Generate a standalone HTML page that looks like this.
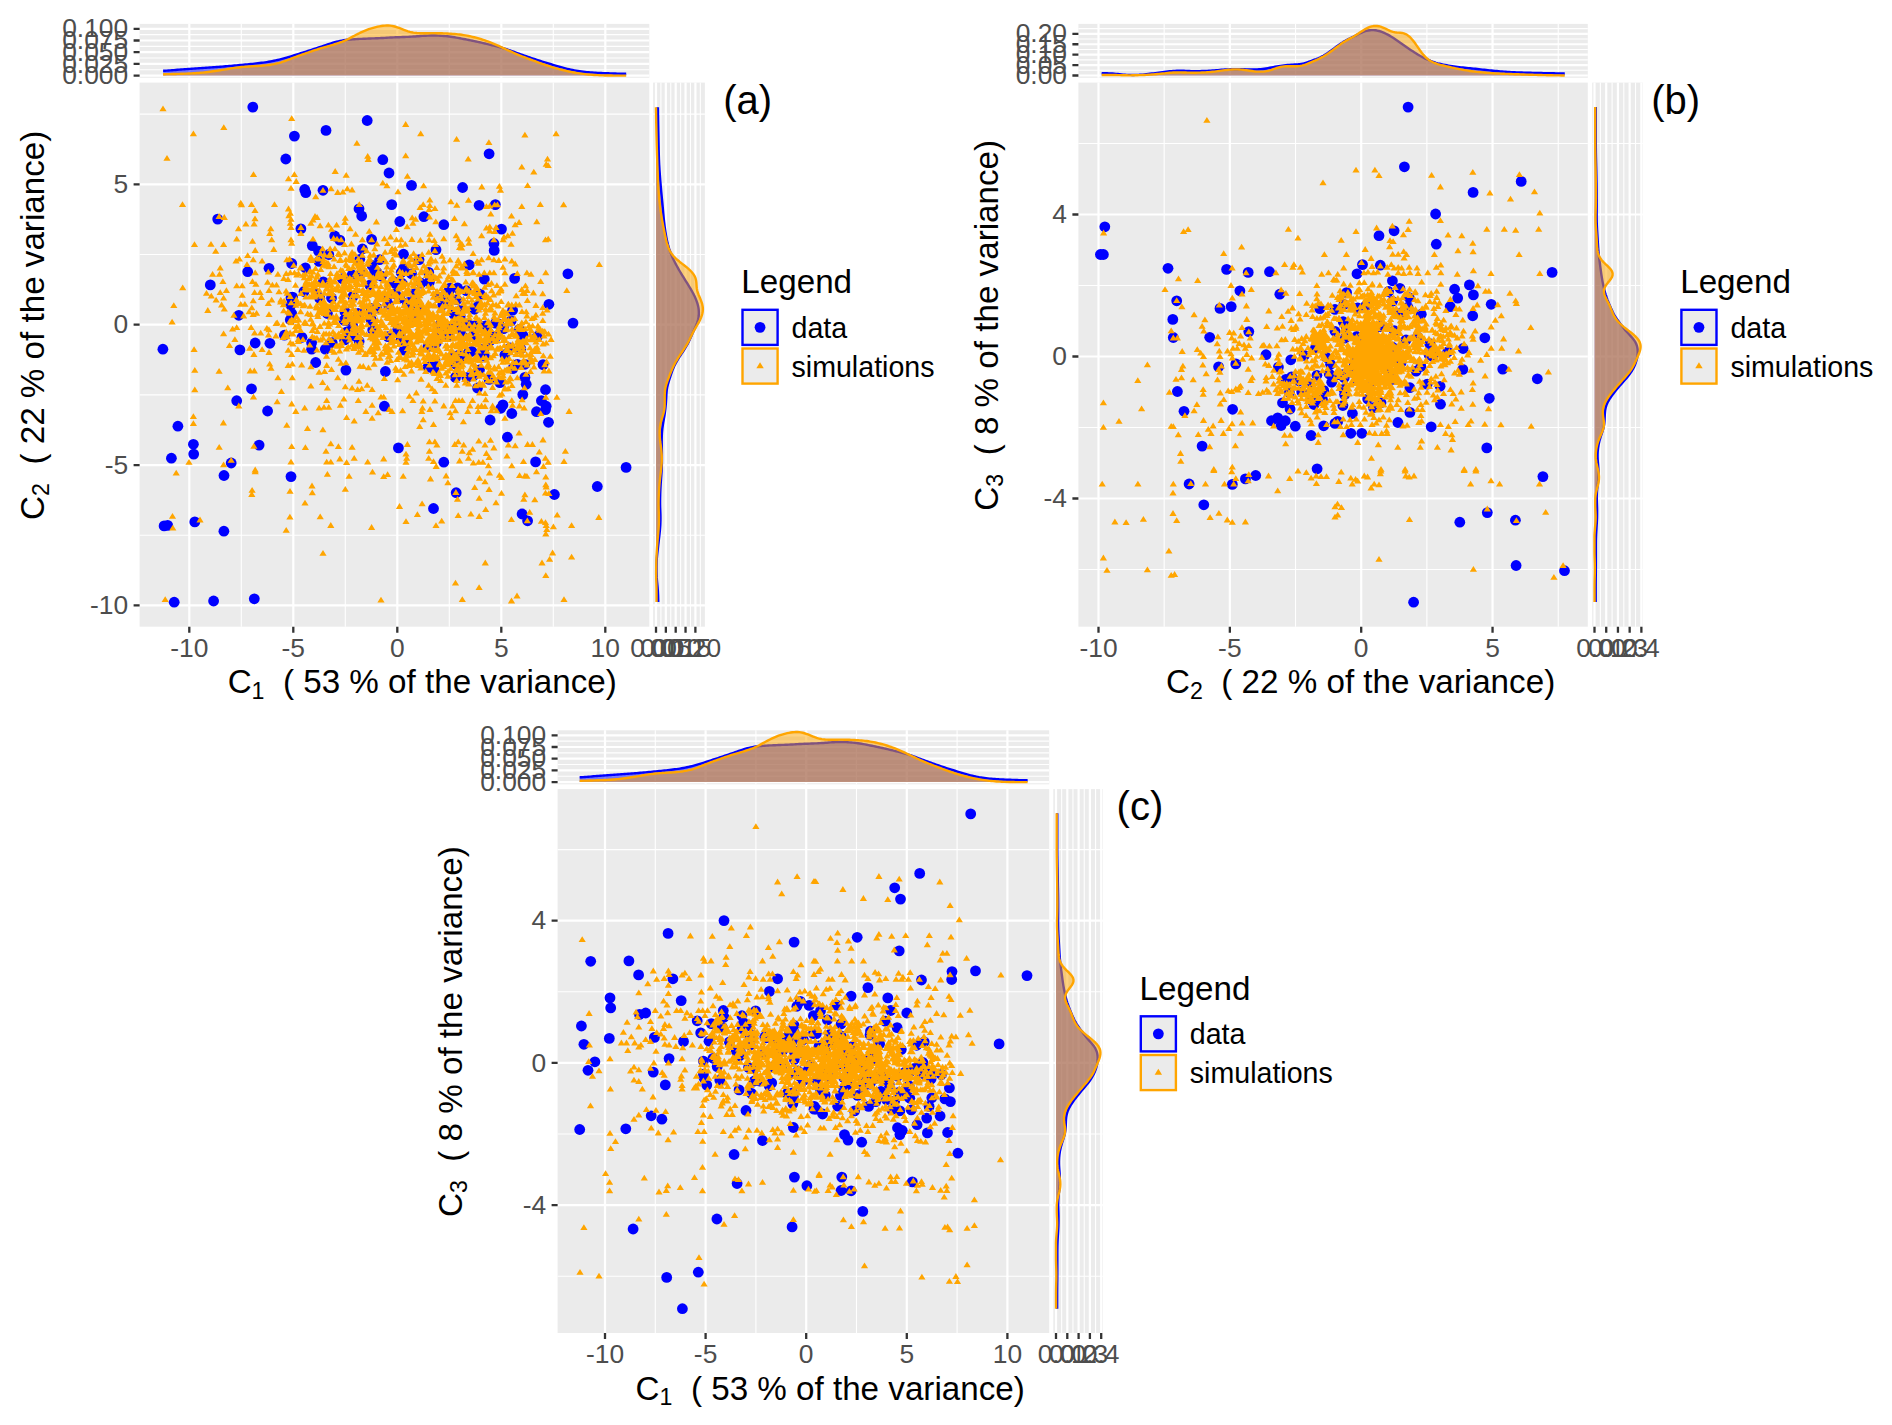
<!DOCTYPE html>
<html lang="en"><head><meta charset="utf-8"><title>PCA components: data vs simulations</title>
<style>html,body{margin:0;padding:0;background:#fff}svg{display:block}</style></head><body>
<svg width="1892" height="1425" viewBox="0 0 1892 1425">
<rect width="1892" height="1425" fill="#fff"/>
<g id="panel-a">
<rect x="139.6" y="82.6" width="509.7" height="544.1" fill="#EBEBEB"/>
<rect x="139.6" y="23.9" width="509.7" height="53.9" fill="#EBEBEB"/>
<rect x="653.1" y="82.6" width="51.8" height="544.1" fill="#EBEBEB"/>
<path d="M241.3 82.6V626.7M345.3 82.6V626.7M449.3 82.6V626.7M553.3 82.6V626.7" stroke="#fff" stroke-width="1.1" fill="none"/>
<path d="M139.6 114.17H649.3M139.6 254.52H649.3M139.6 394.88H649.3M139.6 535.23H649.3" stroke="#fff" stroke-width="1.1" fill="none"/>
<path d="M189.3 82.6V626.7M293.3 82.6V626.7M397.3 82.6V626.7M501.3 82.6V626.7M605.3 82.6V626.7" stroke="#fff" stroke-width="2.2" fill="none"/>
<path d="M139.6 184.35H649.3M139.6 324.7H649.3M139.6 465.05H649.3M139.6 605.4H649.3" stroke="#fff" stroke-width="2.2" fill="none"/>
<path d="M241.3 23.9V77.8M345.3 23.9V77.8M449.3 23.9V77.8M553.3 23.9V77.8" stroke="#fff" stroke-width="1.1" fill="none"/>
<path d="M139.6 69.75H649.3M139.6 58.05H649.3M139.6 46.35H649.3M139.6 34.65H649.3" stroke="#fff" stroke-width="1.1" fill="none"/>
<path d="M189.3 23.9V77.8M293.3 23.9V77.8M397.3 23.9V77.8M501.3 23.9V77.8M605.3 23.9V77.8" stroke="#fff" stroke-width="2.2" fill="none"/>
<path d="M139.6 75.6H649.3M139.6 63.9H649.3M139.6 52.2H649.3M139.6 40.5H649.3M139.6 28.8H649.3" stroke="#fff" stroke-width="2.2" fill="none"/>
<path d="M660.92 82.6V626.7M670.77 82.6V626.7M680.62 82.6V626.7M690.48 82.6V626.7M700.33 82.6V626.7" stroke="#fff" stroke-width="1.1" fill="none"/>
<path d="M653.1 114.17H704.9M653.1 254.52H704.9M653.1 394.88H704.9M653.1 535.23H704.9" stroke="#fff" stroke-width="1.1" fill="none"/>
<path d="M656 82.6V626.7M665.85 82.6V626.7M675.7 82.6V626.7M685.55 82.6V626.7M695.4 82.6V626.7" stroke="#fff" stroke-width="2.2" fill="none"/>
<path d="M653.1 184.35H704.9M653.1 324.7H704.9M653.1 465.05H704.9M653.1 605.4H704.9" stroke="#fff" stroke-width="2.2" fill="none"/>
<polygon points="163.11,75.6 163.11,70.82 164.9,70.73 166.68,70.63 168.47,70.5 170.26,70.37 172.05,70.23 173.84,70.09 175.62,69.95 177.41,69.81 179.2,69.67 180.99,69.54 182.77,69.4 184.56,69.27 186.35,69.14 188.14,69.01 189.93,68.88 191.71,68.75 193.5,68.62 195.29,68.5 197.08,68.38 198.87,68.26 200.65,68.13 202.44,68.01 204.23,67.89 206.02,67.77 207.81,67.65 209.59,67.52 211.38,67.39 213.17,67.26 214.96,67.13 216.75,67 218.53,66.86 220.32,66.72 222.11,66.58 223.9,66.43 225.68,66.29 227.47,66.14 229.26,65.99 231.05,65.83 232.84,65.68 234.62,65.52 236.41,65.36 238.2,65.19 239.99,65.03 241.78,64.86 243.56,64.69 245.35,64.52 247.14,64.35 248.93,64.18 250.72,64 252.5,63.82 254.29,63.63 256.08,63.44 257.87,63.24 259.66,63.03 261.44,62.81 263.23,62.58 265.02,62.33 266.81,62.07 268.59,61.78 270.38,61.48 272.17,61.15 273.96,60.79 275.75,60.41 277.53,60.01 279.32,59.59 281.11,59.15 282.9,58.68 284.69,58.18 286.47,57.67 288.26,57.14 290.05,56.6 291.84,56.06 293.63,55.51 295.41,54.95 297.2,54.39 298.99,53.82 300.78,53.25 302.57,52.67 304.35,52.1 306.14,51.52 307.93,50.94 309.72,50.37 311.51,49.8 313.29,49.23 315.08,48.66 316.87,48.08 318.66,47.5 320.44,46.91 322.23,46.3 324.02,45.69 325.81,45.08 327.6,44.48 329.38,43.89 331.17,43.31 332.96,42.76 334.75,42.24 336.54,41.75 338.32,41.31 340.11,40.91 341.9,40.57 343.69,40.27 345.48,40.02 347.26,39.81 349.05,39.63 350.84,39.48 352.63,39.34 354.42,39.22 356.2,39.11 357.99,39.01 359.78,38.92 361.57,38.83 363.35,38.75 365.14,38.68 366.93,38.61 368.72,38.54 370.51,38.48 372.29,38.41 374.08,38.34 375.87,38.27 377.66,38.2 379.45,38.11 381.23,38.03 383.02,37.93 384.81,37.84 386.6,37.74 388.39,37.65 390.17,37.56 391.96,37.47 393.75,37.39 395.54,37.32 397.33,37.25 399.11,37.18 400.9,37.11 402.69,37.05 404.48,36.98 406.26,36.9 408.05,36.83 409.84,36.74 411.63,36.65 413.42,36.55 415.2,36.43 416.99,36.31 418.78,36.18 420.57,36.05 422.36,35.92 424.14,35.8 425.93,35.69 427.72,35.6 429.51,35.54 431.3,35.49 433.08,35.48 434.87,35.5 436.66,35.55 438.45,35.62 440.24,35.71 442.02,35.83 443.81,35.96 445.6,36.11 447.39,36.28 449.17,36.48 450.96,36.71 452.75,36.97 454.54,37.26 456.33,37.58 458.11,37.91 459.9,38.26 461.69,38.6 463.48,38.95 465.27,39.3 467.05,39.65 468.84,40.01 470.63,40.37 472.42,40.74 474.21,41.12 475.99,41.5 477.78,41.89 479.57,42.28 481.36,42.69 483.15,43.1 484.93,43.51 486.72,43.93 488.51,44.35 490.3,44.78 492.08,45.21 493.87,45.64 495.66,46.09 497.45,46.55 499.24,47.03 501.02,47.53 502.81,48.07 504.6,48.63 506.39,49.22 508.18,49.83 509.96,50.46 511.75,51.1 513.54,51.75 515.33,52.4 517.12,53.04 518.9,53.69 520.69,54.33 522.48,54.96 524.27,55.59 526.06,56.22 527.84,56.85 529.63,57.46 531.42,58.07 533.21,58.67 534.99,59.26 536.78,59.85 538.57,60.42 540.36,61 542.15,61.56 543.93,62.12 545.72,62.67 547.51,63.21 549.3,63.74 551.09,64.27 552.87,64.79 554.66,65.31 556.45,65.83 558.24,66.35 560.03,66.86 561.81,67.37 563.6,67.87 565.39,68.35 567.18,68.81 568.97,69.25 570.75,69.65 572.54,70.03 574.33,70.37 576.12,70.69 577.9,70.97 579.69,71.23 581.48,71.47 583.27,71.69 585.06,71.89 586.84,72.07 588.63,72.23 590.42,72.38 592.21,72.52 594,72.64 595.78,72.75 597.57,72.85 599.36,72.94 601.15,73.03 602.94,73.11 604.72,73.18 606.51,73.25 608.3,73.32 610.09,73.38 611.88,73.44 613.66,73.5 615.45,73.55 617.24,73.6 619.03,73.65 620.81,73.69 622.6,73.72 624.39,73.75 626.18,73.77 626.18,75.6" fill="#0000FF" fill-opacity="0.5"/>
<polyline points="163.11,70.82 164.9,70.73 166.68,70.63 168.47,70.5 170.26,70.37 172.05,70.23 173.84,70.09 175.62,69.95 177.41,69.81 179.2,69.67 180.99,69.54 182.77,69.4 184.56,69.27 186.35,69.14 188.14,69.01 189.93,68.88 191.71,68.75 193.5,68.62 195.29,68.5 197.08,68.38 198.87,68.26 200.65,68.13 202.44,68.01 204.23,67.89 206.02,67.77 207.81,67.65 209.59,67.52 211.38,67.39 213.17,67.26 214.96,67.13 216.75,67 218.53,66.86 220.32,66.72 222.11,66.58 223.9,66.43 225.68,66.29 227.47,66.14 229.26,65.99 231.05,65.83 232.84,65.68 234.62,65.52 236.41,65.36 238.2,65.19 239.99,65.03 241.78,64.86 243.56,64.69 245.35,64.52 247.14,64.35 248.93,64.18 250.72,64 252.5,63.82 254.29,63.63 256.08,63.44 257.87,63.24 259.66,63.03 261.44,62.81 263.23,62.58 265.02,62.33 266.81,62.07 268.59,61.78 270.38,61.48 272.17,61.15 273.96,60.79 275.75,60.41 277.53,60.01 279.32,59.59 281.11,59.15 282.9,58.68 284.69,58.18 286.47,57.67 288.26,57.14 290.05,56.6 291.84,56.06 293.63,55.51 295.41,54.95 297.2,54.39 298.99,53.82 300.78,53.25 302.57,52.67 304.35,52.1 306.14,51.52 307.93,50.94 309.72,50.37 311.51,49.8 313.29,49.23 315.08,48.66 316.87,48.08 318.66,47.5 320.44,46.91 322.23,46.3 324.02,45.69 325.81,45.08 327.6,44.48 329.38,43.89 331.17,43.31 332.96,42.76 334.75,42.24 336.54,41.75 338.32,41.31 340.11,40.91 341.9,40.57 343.69,40.27 345.48,40.02 347.26,39.81 349.05,39.63 350.84,39.48 352.63,39.34 354.42,39.22 356.2,39.11 357.99,39.01 359.78,38.92 361.57,38.83 363.35,38.75 365.14,38.68 366.93,38.61 368.72,38.54 370.51,38.48 372.29,38.41 374.08,38.34 375.87,38.27 377.66,38.2 379.45,38.11 381.23,38.03 383.02,37.93 384.81,37.84 386.6,37.74 388.39,37.65 390.17,37.56 391.96,37.47 393.75,37.39 395.54,37.32 397.33,37.25 399.11,37.18 400.9,37.11 402.69,37.05 404.48,36.98 406.26,36.9 408.05,36.83 409.84,36.74 411.63,36.65 413.42,36.55 415.2,36.43 416.99,36.31 418.78,36.18 420.57,36.05 422.36,35.92 424.14,35.8 425.93,35.69 427.72,35.6 429.51,35.54 431.3,35.49 433.08,35.48 434.87,35.5 436.66,35.55 438.45,35.62 440.24,35.71 442.02,35.83 443.81,35.96 445.6,36.11 447.39,36.28 449.17,36.48 450.96,36.71 452.75,36.97 454.54,37.26 456.33,37.58 458.11,37.91 459.9,38.26 461.69,38.6 463.48,38.95 465.27,39.3 467.05,39.65 468.84,40.01 470.63,40.37 472.42,40.74 474.21,41.12 475.99,41.5 477.78,41.89 479.57,42.28 481.36,42.69 483.15,43.1 484.93,43.51 486.72,43.93 488.51,44.35 490.3,44.78 492.08,45.21 493.87,45.64 495.66,46.09 497.45,46.55 499.24,47.03 501.02,47.53 502.81,48.07 504.6,48.63 506.39,49.22 508.18,49.83 509.96,50.46 511.75,51.1 513.54,51.75 515.33,52.4 517.12,53.04 518.9,53.69 520.69,54.33 522.48,54.96 524.27,55.59 526.06,56.22 527.84,56.85 529.63,57.46 531.42,58.07 533.21,58.67 534.99,59.26 536.78,59.85 538.57,60.42 540.36,61 542.15,61.56 543.93,62.12 545.72,62.67 547.51,63.21 549.3,63.74 551.09,64.27 552.87,64.79 554.66,65.31 556.45,65.83 558.24,66.35 560.03,66.86 561.81,67.37 563.6,67.87 565.39,68.35 567.18,68.81 568.97,69.25 570.75,69.65 572.54,70.03 574.33,70.37 576.12,70.69 577.9,70.97 579.69,71.23 581.48,71.47 583.27,71.69 585.06,71.89 586.84,72.07 588.63,72.23 590.42,72.38 592.21,72.52 594,72.64 595.78,72.75 597.57,72.85 599.36,72.94 601.15,73.03 602.94,73.11 604.72,73.18 606.51,73.25 608.3,73.32 610.09,73.38 611.88,73.44 613.66,73.5 615.45,73.55 617.24,73.6 619.03,73.65 620.81,73.69 622.6,73.72 624.39,73.75 626.18,73.77" fill="none" stroke="#0000FF" stroke-width="2.4" stroke-linejoin="round"/>
<polygon points="163.11,75.6 163.11,74.2 164.9,74.19 166.68,74.17 168.47,74.14 170.26,74.1 172.05,74.06 173.84,74.02 175.62,73.97 177.41,73.92 179.2,73.86 180.99,73.8 182.77,73.74 184.56,73.67 186.35,73.6 188.14,73.53 189.93,73.45 191.71,73.37 193.5,73.28 195.29,73.18 197.08,73.07 198.87,72.94 200.65,72.8 202.44,72.64 204.23,72.46 206.02,72.26 207.81,72.03 209.59,71.8 211.38,71.55 213.17,71.29 214.96,71.03 216.75,70.76 218.53,70.49 220.32,70.2 222.11,69.91 223.9,69.62 225.68,69.32 227.47,69.02 229.26,68.73 231.05,68.44 232.84,68.17 234.62,67.9 236.41,67.66 238.2,67.44 239.99,67.23 241.78,67.05 243.56,66.89 245.35,66.75 247.14,66.62 248.93,66.5 250.72,66.39 252.5,66.28 254.29,66.17 256.08,66.07 257.87,65.95 259.66,65.83 261.44,65.7 263.23,65.55 265.02,65.37 266.81,65.18 268.59,64.95 270.38,64.69 272.17,64.39 273.96,64.06 275.75,63.68 277.53,63.27 279.32,62.81 281.11,62.29 282.9,61.72 284.69,61.1 286.47,60.43 288.26,59.75 290.05,59.05 291.84,58.35 293.63,57.67 295.41,57 297.2,56.35 298.99,55.7 300.78,55.06 302.57,54.43 304.35,53.8 306.14,53.17 307.93,52.55 309.72,51.94 311.51,51.33 313.29,50.73 315.08,50.14 316.87,49.56 318.66,49 320.44,48.46 322.23,47.92 324.02,47.4 325.81,46.88 327.6,46.37 329.38,45.86 331.17,45.33 332.96,44.8 334.75,44.26 336.54,43.69 338.32,43.1 340.11,42.47 341.9,41.81 343.69,41.09 345.48,40.32 347.26,39.48 349.05,38.58 350.84,37.63 352.63,36.67 354.42,35.7 356.2,34.75 357.99,33.84 359.78,32.96 361.57,32.13 363.35,31.34 365.14,30.58 366.93,29.87 368.72,29.21 370.51,28.6 372.29,28.05 374.08,27.55 375.87,27.09 377.66,26.69 379.45,26.34 381.23,26.04 383.02,25.81 384.81,25.64 386.6,25.55 388.39,25.55 390.17,25.67 391.96,25.91 393.75,26.27 395.54,26.75 397.33,27.33 399.11,27.96 400.9,28.64 402.69,29.34 404.48,30.03 406.26,30.7 408.05,31.32 409.84,31.86 411.63,32.3 413.42,32.63 415.2,32.86 416.99,33.02 418.78,33.12 420.57,33.18 422.36,33.21 424.14,33.22 425.93,33.21 427.72,33.19 429.51,33.18 431.3,33.16 433.08,33.16 434.87,33.16 436.66,33.18 438.45,33.21 440.24,33.25 442.02,33.3 443.81,33.36 445.6,33.42 447.39,33.5 449.17,33.59 450.96,33.7 452.75,33.83 454.54,33.98 456.33,34.15 458.11,34.34 459.9,34.56 461.69,34.8 463.48,35.07 465.27,35.36 467.05,35.69 468.84,36.04 470.63,36.42 472.42,36.82 474.21,37.25 475.99,37.7 477.78,38.18 479.57,38.69 481.36,39.23 483.15,39.8 484.93,40.39 486.72,41.02 488.51,41.67 490.3,42.35 492.08,43.07 493.87,43.81 495.66,44.58 497.45,45.37 499.24,46.17 501.02,46.99 502.81,47.81 504.6,48.63 506.39,49.47 508.18,50.3 509.96,51.13 511.75,51.96 513.54,52.77 515.33,53.56 517.12,54.34 518.9,55.09 520.69,55.83 522.48,56.54 524.27,57.24 526.06,57.92 527.84,58.59 529.63,59.25 531.42,59.91 533.21,60.56 534.99,61.22 536.78,61.87 538.57,62.52 540.36,63.17 542.15,63.81 543.93,64.43 545.72,65.05 547.51,65.65 549.3,66.22 551.09,66.78 552.87,67.32 554.66,67.84 556.45,68.35 558.24,68.84 560.03,69.32 561.81,69.78 563.6,70.23 565.39,70.67 567.18,71.08 568.97,71.48 570.75,71.86 572.54,72.21 574.33,72.54 576.12,72.85 577.9,73.15 579.69,73.42 581.48,73.68 583.27,73.91 585.06,74.13 586.84,74.33 588.63,74.51 590.42,74.67 592.21,74.81 594,74.94 595.78,75.06 597.57,75.17 599.36,75.27 601.15,75.35 602.94,75.41 604.72,75.46 606.51,75.5 608.3,75.53 610.09,75.55 611.88,75.57 613.66,75.59 615.45,75.6 617.24,75.6 619.03,75.6 620.81,75.6 622.6,75.6 624.39,75.6 626.18,75.6 626.18,75.6" fill="#FFA500" fill-opacity="0.5"/>
<polyline points="163.11,74.2 164.9,74.19 166.68,74.17 168.47,74.14 170.26,74.1 172.05,74.06 173.84,74.02 175.62,73.97 177.41,73.92 179.2,73.86 180.99,73.8 182.77,73.74 184.56,73.67 186.35,73.6 188.14,73.53 189.93,73.45 191.71,73.37 193.5,73.28 195.29,73.18 197.08,73.07 198.87,72.94 200.65,72.8 202.44,72.64 204.23,72.46 206.02,72.26 207.81,72.03 209.59,71.8 211.38,71.55 213.17,71.29 214.96,71.03 216.75,70.76 218.53,70.49 220.32,70.2 222.11,69.91 223.9,69.62 225.68,69.32 227.47,69.02 229.26,68.73 231.05,68.44 232.84,68.17 234.62,67.9 236.41,67.66 238.2,67.44 239.99,67.23 241.78,67.05 243.56,66.89 245.35,66.75 247.14,66.62 248.93,66.5 250.72,66.39 252.5,66.28 254.29,66.17 256.08,66.07 257.87,65.95 259.66,65.83 261.44,65.7 263.23,65.55 265.02,65.37 266.81,65.18 268.59,64.95 270.38,64.69 272.17,64.39 273.96,64.06 275.75,63.68 277.53,63.27 279.32,62.81 281.11,62.29 282.9,61.72 284.69,61.1 286.47,60.43 288.26,59.75 290.05,59.05 291.84,58.35 293.63,57.67 295.41,57 297.2,56.35 298.99,55.7 300.78,55.06 302.57,54.43 304.35,53.8 306.14,53.17 307.93,52.55 309.72,51.94 311.51,51.33 313.29,50.73 315.08,50.14 316.87,49.56 318.66,49 320.44,48.46 322.23,47.92 324.02,47.4 325.81,46.88 327.6,46.37 329.38,45.86 331.17,45.33 332.96,44.8 334.75,44.26 336.54,43.69 338.32,43.1 340.11,42.47 341.9,41.81 343.69,41.09 345.48,40.32 347.26,39.48 349.05,38.58 350.84,37.63 352.63,36.67 354.42,35.7 356.2,34.75 357.99,33.84 359.78,32.96 361.57,32.13 363.35,31.34 365.14,30.58 366.93,29.87 368.72,29.21 370.51,28.6 372.29,28.05 374.08,27.55 375.87,27.09 377.66,26.69 379.45,26.34 381.23,26.04 383.02,25.81 384.81,25.64 386.6,25.55 388.39,25.55 390.17,25.67 391.96,25.91 393.75,26.27 395.54,26.75 397.33,27.33 399.11,27.96 400.9,28.64 402.69,29.34 404.48,30.03 406.26,30.7 408.05,31.32 409.84,31.86 411.63,32.3 413.42,32.63 415.2,32.86 416.99,33.02 418.78,33.12 420.57,33.18 422.36,33.21 424.14,33.22 425.93,33.21 427.72,33.19 429.51,33.18 431.3,33.16 433.08,33.16 434.87,33.16 436.66,33.18 438.45,33.21 440.24,33.25 442.02,33.3 443.81,33.36 445.6,33.42 447.39,33.5 449.17,33.59 450.96,33.7 452.75,33.83 454.54,33.98 456.33,34.15 458.11,34.34 459.9,34.56 461.69,34.8 463.48,35.07 465.27,35.36 467.05,35.69 468.84,36.04 470.63,36.42 472.42,36.82 474.21,37.25 475.99,37.7 477.78,38.18 479.57,38.69 481.36,39.23 483.15,39.8 484.93,40.39 486.72,41.02 488.51,41.67 490.3,42.35 492.08,43.07 493.87,43.81 495.66,44.58 497.45,45.37 499.24,46.17 501.02,46.99 502.81,47.81 504.6,48.63 506.39,49.47 508.18,50.3 509.96,51.13 511.75,51.96 513.54,52.77 515.33,53.56 517.12,54.34 518.9,55.09 520.69,55.83 522.48,56.54 524.27,57.24 526.06,57.92 527.84,58.59 529.63,59.25 531.42,59.91 533.21,60.56 534.99,61.22 536.78,61.87 538.57,62.52 540.36,63.17 542.15,63.81 543.93,64.43 545.72,65.05 547.51,65.65 549.3,66.22 551.09,66.78 552.87,67.32 554.66,67.84 556.45,68.35 558.24,68.84 560.03,69.32 561.81,69.78 563.6,70.23 565.39,70.67 567.18,71.08 568.97,71.48 570.75,71.86 572.54,72.21 574.33,72.54 576.12,72.85 577.9,73.15 579.69,73.42 581.48,73.68 583.27,73.91 585.06,74.13 586.84,74.33 588.63,74.51 590.42,74.67 592.21,74.81 594,74.94 595.78,75.06 597.57,75.17 599.36,75.27 601.15,75.35 602.94,75.41 604.72,75.46 606.51,75.5 608.3,75.53 610.09,75.55 611.88,75.57 613.66,75.59 615.45,75.6 617.24,75.6 619.03,75.6 620.81,75.6 622.6,75.6 624.39,75.6 626.18,75.6" fill="none" stroke="#FFA500" stroke-width="2.4" stroke-linejoin="round"/>
<polygon points="656,602 658.25,602 658.22,600.09 658.17,598.18 658.12,596.27 658.04,594.36 657.95,592.45 657.84,590.54 657.7,588.63 657.54,586.72 657.37,584.81 657.18,582.9 657,580.99 656.85,579.08 656.72,577.17 656.64,575.26 656.58,573.34 656.55,571.43 656.54,569.52 656.54,567.61 656.56,565.7 656.59,563.79 656.65,561.88 656.74,559.97 656.86,558.06 657.02,556.15 657.21,554.24 657.41,552.33 657.62,550.42 657.84,548.51 658.06,546.6 658.28,544.69 658.51,542.78 658.74,540.87 658.96,538.96 659.19,537.05 659.41,535.14 659.62,533.23 659.81,531.32 659.99,529.41 660.14,527.49 660.27,525.58 660.36,523.67 660.43,521.76 660.48,519.85 660.49,517.94 660.47,516.03 660.43,514.12 660.36,512.21 660.29,510.3 660.21,508.39 660.15,506.48 660.11,504.57 660.1,502.66 660.1,500.75 660.13,498.84 660.16,496.93 660.21,495.02 660.26,493.11 660.33,491.2 660.41,489.29 660.5,487.38 660.61,485.47 660.72,483.55 660.85,481.64 660.98,479.73 661.11,477.82 661.25,475.91 661.39,474 661.52,472.09 661.64,470.18 661.74,468.27 661.82,466.36 661.87,464.45 661.9,462.54 661.92,460.63 661.92,458.72 661.92,456.81 661.91,454.9 661.9,452.99 661.87,451.08 661.84,449.17 661.8,447.26 661.76,445.35 661.73,443.44 661.72,441.53 661.72,439.62 661.75,437.7 661.81,435.79 661.89,433.88 662.02,431.97 662.19,430.06 662.41,428.15 662.67,426.24 662.97,424.33 663.28,422.42 663.6,420.51 663.93,418.6 664.26,416.69 664.57,414.78 664.85,412.87 665.11,410.96 665.34,409.05 665.54,407.14 665.71,405.23 665.86,403.32 666,401.41 666.12,399.5 666.23,397.59 666.33,395.68 666.44,393.76 666.59,391.85 666.79,389.94 667.08,388.03 667.46,386.12 667.94,384.21 668.48,382.3 669.07,380.39 669.68,378.48 670.29,376.57 670.92,374.66 671.56,372.75 672.25,370.84 673,368.93 673.81,367.02 674.71,365.11 675.69,363.2 676.76,361.29 677.89,359.38 679.09,357.47 680.34,355.56 681.61,353.65 682.87,351.74 684.11,349.83 685.31,347.91 686.44,346 687.51,344.09 688.51,342.18 689.44,340.27 690.32,338.36 691.16,336.45 692,334.54 692.85,332.63 693.73,330.72 694.61,328.81 695.48,326.9 696.31,324.99 697.06,323.08 697.69,321.17 698.19,319.26 698.55,317.35 698.77,315.44 698.86,313.53 698.84,311.62 698.71,309.71 698.46,307.8 698.08,305.89 697.58,303.97 696.97,302.06 696.27,300.15 695.48,298.24 694.61,296.33 693.67,294.42 692.67,292.51 691.62,290.6 690.51,288.69 689.37,286.78 688.2,284.87 687.01,282.96 685.81,281.05 684.61,279.14 683.42,277.23 682.24,275.32 681.08,273.41 679.94,271.5 678.83,269.59 677.75,267.68 676.7,265.77 675.68,263.86 674.7,261.95 673.75,260.04 672.85,258.12 672,256.21 671.2,254.3 670.45,252.39 669.76,250.48 669.12,248.57 668.54,246.66 668.01,244.75 667.53,242.84 667.09,240.93 666.69,239.02 666.32,237.11 665.98,235.2 665.65,233.29 665.35,231.38 665.07,229.47 664.8,227.56 664.55,225.65 664.32,223.74 664.1,221.83 663.89,219.92 663.7,218.01 663.52,216.1 663.34,214.19 663.17,212.27 663.01,210.36 662.84,208.45 662.67,206.54 662.5,204.63 662.32,202.72 662.14,200.81 661.95,198.9 661.77,196.99 661.58,195.08 661.39,193.17 661.21,191.26 661.04,189.35 660.86,187.44 660.7,185.53 660.54,183.62 660.38,181.71 660.23,179.8 660.08,177.89 659.94,175.98 659.8,174.07 659.66,172.16 659.53,170.25 659.41,168.33 659.3,166.42 659.19,164.51 659.1,162.6 659.02,160.69 658.94,158.78 658.88,156.87 658.82,154.96 658.77,153.05 658.72,151.14 658.67,149.23 658.63,147.32 658.59,145.41 658.55,143.5 658.51,141.59 658.47,139.68 658.44,137.77 658.4,135.86 658.36,133.95 658.32,132.04 658.28,130.13 658.25,128.22 658.21,126.31 658.17,124.4 658.14,122.48 658.1,120.57 658.07,118.66 658.04,116.75 658.01,114.84 657.97,112.93 657.95,111.02 657.92,109.11 657.91,107.2 656,107.2" fill="#0000FF" fill-opacity="0.5"/>
<polyline points="658.25,602 658.22,600.09 658.17,598.18 658.12,596.27 658.04,594.36 657.95,592.45 657.84,590.54 657.7,588.63 657.54,586.72 657.37,584.81 657.18,582.9 657,580.99 656.85,579.08 656.72,577.17 656.64,575.26 656.58,573.34 656.55,571.43 656.54,569.52 656.54,567.61 656.56,565.7 656.59,563.79 656.65,561.88 656.74,559.97 656.86,558.06 657.02,556.15 657.21,554.24 657.41,552.33 657.62,550.42 657.84,548.51 658.06,546.6 658.28,544.69 658.51,542.78 658.74,540.87 658.96,538.96 659.19,537.05 659.41,535.14 659.62,533.23 659.81,531.32 659.99,529.41 660.14,527.49 660.27,525.58 660.36,523.67 660.43,521.76 660.48,519.85 660.49,517.94 660.47,516.03 660.43,514.12 660.36,512.21 660.29,510.3 660.21,508.39 660.15,506.48 660.11,504.57 660.1,502.66 660.1,500.75 660.13,498.84 660.16,496.93 660.21,495.02 660.26,493.11 660.33,491.2 660.41,489.29 660.5,487.38 660.61,485.47 660.72,483.55 660.85,481.64 660.98,479.73 661.11,477.82 661.25,475.91 661.39,474 661.52,472.09 661.64,470.18 661.74,468.27 661.82,466.36 661.87,464.45 661.9,462.54 661.92,460.63 661.92,458.72 661.92,456.81 661.91,454.9 661.9,452.99 661.87,451.08 661.84,449.17 661.8,447.26 661.76,445.35 661.73,443.44 661.72,441.53 661.72,439.62 661.75,437.7 661.81,435.79 661.89,433.88 662.02,431.97 662.19,430.06 662.41,428.15 662.67,426.24 662.97,424.33 663.28,422.42 663.6,420.51 663.93,418.6 664.26,416.69 664.57,414.78 664.85,412.87 665.11,410.96 665.34,409.05 665.54,407.14 665.71,405.23 665.86,403.32 666,401.41 666.12,399.5 666.23,397.59 666.33,395.68 666.44,393.76 666.59,391.85 666.79,389.94 667.08,388.03 667.46,386.12 667.94,384.21 668.48,382.3 669.07,380.39 669.68,378.48 670.29,376.57 670.92,374.66 671.56,372.75 672.25,370.84 673,368.93 673.81,367.02 674.71,365.11 675.69,363.2 676.76,361.29 677.89,359.38 679.09,357.47 680.34,355.56 681.61,353.65 682.87,351.74 684.11,349.83 685.31,347.91 686.44,346 687.51,344.09 688.51,342.18 689.44,340.27 690.32,338.36 691.16,336.45 692,334.54 692.85,332.63 693.73,330.72 694.61,328.81 695.48,326.9 696.31,324.99 697.06,323.08 697.69,321.17 698.19,319.26 698.55,317.35 698.77,315.44 698.86,313.53 698.84,311.62 698.71,309.71 698.46,307.8 698.08,305.89 697.58,303.97 696.97,302.06 696.27,300.15 695.48,298.24 694.61,296.33 693.67,294.42 692.67,292.51 691.62,290.6 690.51,288.69 689.37,286.78 688.2,284.87 687.01,282.96 685.81,281.05 684.61,279.14 683.42,277.23 682.24,275.32 681.08,273.41 679.94,271.5 678.83,269.59 677.75,267.68 676.7,265.77 675.68,263.86 674.7,261.95 673.75,260.04 672.85,258.12 672,256.21 671.2,254.3 670.45,252.39 669.76,250.48 669.12,248.57 668.54,246.66 668.01,244.75 667.53,242.84 667.09,240.93 666.69,239.02 666.32,237.11 665.98,235.2 665.65,233.29 665.35,231.38 665.07,229.47 664.8,227.56 664.55,225.65 664.32,223.74 664.1,221.83 663.89,219.92 663.7,218.01 663.52,216.1 663.34,214.19 663.17,212.27 663.01,210.36 662.84,208.45 662.67,206.54 662.5,204.63 662.32,202.72 662.14,200.81 661.95,198.9 661.77,196.99 661.58,195.08 661.39,193.17 661.21,191.26 661.04,189.35 660.86,187.44 660.7,185.53 660.54,183.62 660.38,181.71 660.23,179.8 660.08,177.89 659.94,175.98 659.8,174.07 659.66,172.16 659.53,170.25 659.41,168.33 659.3,166.42 659.19,164.51 659.1,162.6 659.02,160.69 658.94,158.78 658.88,156.87 658.82,154.96 658.77,153.05 658.72,151.14 658.67,149.23 658.63,147.32 658.59,145.41 658.55,143.5 658.51,141.59 658.47,139.68 658.44,137.77 658.4,135.86 658.36,133.95 658.32,132.04 658.28,130.13 658.25,128.22 658.21,126.31 658.17,124.4 658.14,122.48 658.1,120.57 658.07,118.66 658.04,116.75 658.01,114.84 657.97,112.93 657.95,111.02 657.92,109.11 657.91,107.2" fill="none" stroke="#0000FF" stroke-width="2.4" stroke-linejoin="round"/>
<polygon points="656,602 656.53,602 656.53,600.09 656.53,598.18 656.53,596.27 656.53,594.36 656.52,592.45 656.5,590.54 656.48,588.63 656.44,586.72 656.4,584.81 656.34,582.9 656.29,580.99 656.24,579.08 656.2,577.17 656.17,575.26 656.16,573.34 656.16,571.43 656.18,569.52 656.2,567.61 656.23,565.7 656.26,563.79 656.31,561.88 656.37,559.97 656.44,558.06 656.52,556.15 656.61,554.24 656.71,552.33 656.83,550.42 656.95,548.51 657.08,546.6 657.23,544.69 657.38,542.78 657.54,540.87 657.7,538.96 657.88,537.05 658.05,535.14 658.23,533.23 658.39,531.32 658.54,529.41 658.67,527.49 658.76,525.58 658.83,523.67 658.88,521.76 658.9,519.85 658.91,517.94 658.89,516.03 658.85,514.12 658.8,512.21 658.74,510.3 658.69,508.39 658.65,506.48 658.62,504.57 658.62,502.66 658.64,500.75 658.68,498.84 658.74,496.93 658.81,495.02 658.89,493.11 658.99,491.2 659.1,489.29 659.23,487.38 659.37,485.47 659.53,483.55 659.71,481.64 659.91,479.73 660.11,477.82 660.33,475.91 660.56,474 660.8,472.09 661.03,470.18 661.25,468.27 661.44,466.36 661.6,464.45 661.71,462.54 661.78,460.63 661.8,458.72 661.77,456.81 661.7,454.9 661.58,452.99 661.43,451.08 661.23,449.17 661,447.26 660.75,445.35 660.48,443.44 660.21,441.53 659.99,439.62 659.81,437.7 659.69,435.79 659.63,433.88 659.63,431.97 659.7,430.06 659.84,428.15 660.08,426.24 660.41,424.33 660.84,422.42 661.35,420.51 661.92,418.6 662.52,416.69 663.09,414.78 663.61,412.87 664.04,410.96 664.36,409.05 664.58,407.14 664.69,405.23 664.72,403.32 664.72,401.41 664.7,399.5 664.7,397.59 664.72,395.68 664.77,393.76 664.89,391.85 665.09,389.94 665.4,388.03 665.82,386.12 666.36,384.21 666.99,382.3 667.68,380.39 668.39,378.48 669.12,376.57 669.85,374.66 670.6,372.75 671.38,370.84 672.21,368.93 673.08,367.02 674.02,365.11 675.02,363.2 676.08,361.29 677.22,359.38 678.41,357.47 679.65,355.56 680.92,353.65 682.2,351.74 683.48,349.83 684.73,347.91 685.93,346 687.08,344.09 688.16,342.18 689.17,340.27 690.11,338.36 691.03,336.45 691.96,334.54 692.92,332.63 693.95,330.72 695.03,328.81 696.15,326.9 697.28,324.99 698.37,323.08 699.41,321.17 700.35,319.26 701.17,317.35 701.85,315.44 702.37,313.53 702.72,311.62 702.87,309.71 702.82,307.8 702.57,305.89 702.14,303.97 701.56,302.06 700.86,300.15 700.07,298.24 699.25,296.33 698.46,294.42 697.77,292.51 697.23,290.6 696.86,288.69 696.65,286.78 696.53,284.87 696.41,282.96 696.2,281.05 695.8,279.14 695.15,277.23 694.19,275.32 692.89,273.41 691.27,271.5 689.33,269.59 687.13,267.68 684.75,265.77 682.29,263.86 679.87,261.95 677.57,260.04 675.47,258.12 673.63,256.21 672.06,254.3 670.75,252.39 669.67,250.48 668.77,248.57 668.02,246.66 667.38,244.75 666.82,242.84 666.33,240.93 665.88,239.02 665.46,237.11 665.06,235.2 664.67,233.29 664.28,231.38 663.89,229.47 663.51,227.56 663.13,225.65 662.76,223.74 662.41,221.83 662.07,219.92 661.74,218.01 661.42,216.1 661.12,214.19 660.83,212.27 660.55,210.36 660.3,208.45 660.06,206.54 659.84,204.63 659.63,202.72 659.44,200.81 659.26,198.9 659.08,196.99 658.92,195.08 658.76,193.17 658.62,191.26 658.49,189.35 658.36,187.44 658.25,185.53 658.14,183.62 658.04,181.71 657.95,179.8 657.86,177.89 657.78,175.98 657.7,174.07 657.63,172.16 657.56,170.25 657.49,168.33 657.43,166.42 657.36,164.51 657.3,162.6 657.24,160.69 657.17,158.78 657.11,156.87 657.05,154.96 656.99,153.05 656.93,151.14 656.87,149.23 656.81,147.32 656.76,145.41 656.7,143.5 656.65,141.59 656.6,139.68 656.56,137.77 656.51,135.86 656.47,133.95 656.43,132.04 656.39,130.13 656.35,128.22 656.31,126.31 656.27,124.4 656.23,122.48 656.2,120.57 656.16,118.66 656.13,116.75 656.1,114.84 656.07,112.93 656.05,111.02 656.03,109.11 656.01,107.2 656,107.2" fill="#FFA500" fill-opacity="0.5"/>
<polyline points="656.53,602 656.53,600.09 656.53,598.18 656.53,596.27 656.53,594.36 656.52,592.45 656.5,590.54 656.48,588.63 656.44,586.72 656.4,584.81 656.34,582.9 656.29,580.99 656.24,579.08 656.2,577.17 656.17,575.26 656.16,573.34 656.16,571.43 656.18,569.52 656.2,567.61 656.23,565.7 656.26,563.79 656.31,561.88 656.37,559.97 656.44,558.06 656.52,556.15 656.61,554.24 656.71,552.33 656.83,550.42 656.95,548.51 657.08,546.6 657.23,544.69 657.38,542.78 657.54,540.87 657.7,538.96 657.88,537.05 658.05,535.14 658.23,533.23 658.39,531.32 658.54,529.41 658.67,527.49 658.76,525.58 658.83,523.67 658.88,521.76 658.9,519.85 658.91,517.94 658.89,516.03 658.85,514.12 658.8,512.21 658.74,510.3 658.69,508.39 658.65,506.48 658.62,504.57 658.62,502.66 658.64,500.75 658.68,498.84 658.74,496.93 658.81,495.02 658.89,493.11 658.99,491.2 659.1,489.29 659.23,487.38 659.37,485.47 659.53,483.55 659.71,481.64 659.91,479.73 660.11,477.82 660.33,475.91 660.56,474 660.8,472.09 661.03,470.18 661.25,468.27 661.44,466.36 661.6,464.45 661.71,462.54 661.78,460.63 661.8,458.72 661.77,456.81 661.7,454.9 661.58,452.99 661.43,451.08 661.23,449.17 661,447.26 660.75,445.35 660.48,443.44 660.21,441.53 659.99,439.62 659.81,437.7 659.69,435.79 659.63,433.88 659.63,431.97 659.7,430.06 659.84,428.15 660.08,426.24 660.41,424.33 660.84,422.42 661.35,420.51 661.92,418.6 662.52,416.69 663.09,414.78 663.61,412.87 664.04,410.96 664.36,409.05 664.58,407.14 664.69,405.23 664.72,403.32 664.72,401.41 664.7,399.5 664.7,397.59 664.72,395.68 664.77,393.76 664.89,391.85 665.09,389.94 665.4,388.03 665.82,386.12 666.36,384.21 666.99,382.3 667.68,380.39 668.39,378.48 669.12,376.57 669.85,374.66 670.6,372.75 671.38,370.84 672.21,368.93 673.08,367.02 674.02,365.11 675.02,363.2 676.08,361.29 677.22,359.38 678.41,357.47 679.65,355.56 680.92,353.65 682.2,351.74 683.48,349.83 684.73,347.91 685.93,346 687.08,344.09 688.16,342.18 689.17,340.27 690.11,338.36 691.03,336.45 691.96,334.54 692.92,332.63 693.95,330.72 695.03,328.81 696.15,326.9 697.28,324.99 698.37,323.08 699.41,321.17 700.35,319.26 701.17,317.35 701.85,315.44 702.37,313.53 702.72,311.62 702.87,309.71 702.82,307.8 702.57,305.89 702.14,303.97 701.56,302.06 700.86,300.15 700.07,298.24 699.25,296.33 698.46,294.42 697.77,292.51 697.23,290.6 696.86,288.69 696.65,286.78 696.53,284.87 696.41,282.96 696.2,281.05 695.8,279.14 695.15,277.23 694.19,275.32 692.89,273.41 691.27,271.5 689.33,269.59 687.13,267.68 684.75,265.77 682.29,263.86 679.87,261.95 677.57,260.04 675.47,258.12 673.63,256.21 672.06,254.3 670.75,252.39 669.67,250.48 668.77,248.57 668.02,246.66 667.38,244.75 666.82,242.84 666.33,240.93 665.88,239.02 665.46,237.11 665.06,235.2 664.67,233.29 664.28,231.38 663.89,229.47 663.51,227.56 663.13,225.65 662.76,223.74 662.41,221.83 662.07,219.92 661.74,218.01 661.42,216.1 661.12,214.19 660.83,212.27 660.55,210.36 660.3,208.45 660.06,206.54 659.84,204.63 659.63,202.72 659.44,200.81 659.26,198.9 659.08,196.99 658.92,195.08 658.76,193.17 658.62,191.26 658.49,189.35 658.36,187.44 658.25,185.53 658.14,183.62 658.04,181.71 657.95,179.8 657.86,177.89 657.78,175.98 657.7,174.07 657.63,172.16 657.56,170.25 657.49,168.33 657.43,166.42 657.36,164.51 657.3,162.6 657.24,160.69 657.17,158.78 657.11,156.87 657.05,154.96 656.99,153.05 656.93,151.14 656.87,149.23 656.81,147.32 656.76,145.41 656.7,143.5 656.65,141.59 656.6,139.68 656.56,137.77 656.51,135.86 656.47,133.95 656.43,132.04 656.39,130.13 656.35,128.22 656.31,126.31 656.27,124.4 656.23,122.48 656.2,120.57 656.16,118.66 656.13,116.75 656.1,114.84 656.07,112.93 656.05,111.02 656.03,109.11 656.01,107.2" fill="none" stroke="#FFA500" stroke-width="2.4" stroke-linejoin="round"/>
<g fill="#0000FF">
<circle cx="414.7" cy="293.6" r="5.4"/>
<circle cx="520.8" cy="348.9" r="5.4"/>
<circle cx="510" cy="348" r="5.4"/>
<circle cx="371.2" cy="308.4" r="5.4"/>
<circle cx="388.2" cy="304.2" r="5.4"/>
<circle cx="369.8" cy="285.1" r="5.4"/>
<circle cx="457.6" cy="288" r="5.4"/>
<circle cx="407.5" cy="303.9" r="5.4"/>
<circle cx="471.8" cy="351.3" r="5.4"/>
<circle cx="537.3" cy="336.5" r="5.4"/>
<circle cx="404.3" cy="350.1" r="5.4"/>
<circle cx="466.4" cy="290.7" r="5.4"/>
<circle cx="401.1" cy="339.9" r="5.4"/>
<circle cx="381.7" cy="276.2" r="5.4"/>
<circle cx="449" cy="336.1" r="5.4"/>
<circle cx="478" cy="306.2" r="5.4"/>
<circle cx="395.8" cy="283.6" r="5.4"/>
<circle cx="399.8" cy="298" r="5.4"/>
<circle cx="466.9" cy="377.7" r="5.4"/>
<circle cx="342.4" cy="278.7" r="5.4"/>
<circle cx="290.8" cy="305.1" r="5.4"/>
<circle cx="443.6" cy="331.8" r="5.4"/>
<circle cx="358.4" cy="313.4" r="5.4"/>
<circle cx="346.9" cy="320.5" r="5.4"/>
<circle cx="374.6" cy="270.7" r="5.4"/>
<circle cx="316.5" cy="294" r="5.4"/>
<circle cx="292.6" cy="297.1" r="5.4"/>
<circle cx="414.9" cy="300.9" r="5.4"/>
<circle cx="483.8" cy="348.9" r="5.4"/>
<circle cx="393.3" cy="281.4" r="5.4"/>
<circle cx="352.5" cy="325" r="5.4"/>
<circle cx="442.8" cy="304.8" r="5.4"/>
<circle cx="469.4" cy="325.1" r="5.4"/>
<circle cx="388" cy="336.7" r="5.4"/>
<circle cx="455.6" cy="364" r="5.4"/>
<circle cx="495.4" cy="323.2" r="5.4"/>
<circle cx="395.4" cy="294" r="5.4"/>
<circle cx="346.9" cy="331.8" r="5.4"/>
<circle cx="431.8" cy="365.6" r="5.4"/>
<circle cx="499.9" cy="382.6" r="5.4"/>
<circle cx="359.1" cy="341.4" r="5.4"/>
<circle cx="344.9" cy="311.6" r="5.4"/>
<circle cx="454.2" cy="314.4" r="5.4"/>
<circle cx="352.9" cy="296.4" r="5.4"/>
<circle cx="522.9" cy="335.4" r="5.4"/>
<circle cx="477.8" cy="323.9" r="5.4"/>
<circle cx="462.2" cy="322.9" r="5.4"/>
<circle cx="488.5" cy="332.7" r="5.4"/>
<circle cx="305.4" cy="267.8" r="5.4"/>
<circle cx="461.1" cy="328.8" r="5.4"/>
<circle cx="460.2" cy="315.7" r="5.4"/>
<circle cx="439.8" cy="334.6" r="5.4"/>
<circle cx="474.5" cy="309.3" r="5.4"/>
<circle cx="410.5" cy="310.2" r="5.4"/>
<circle cx="439.4" cy="297.6" r="5.4"/>
<circle cx="459.9" cy="358.2" r="5.4"/>
<circle cx="403.6" cy="268.4" r="5.4"/>
<circle cx="451.4" cy="357.3" r="5.4"/>
<circle cx="370.3" cy="317.7" r="5.4"/>
<circle cx="498.9" cy="323.8" r="5.4"/>
<circle cx="460.4" cy="310.3" r="5.4"/>
<circle cx="397.8" cy="329.5" r="5.4"/>
<circle cx="462.6" cy="336.6" r="5.4"/>
<circle cx="512.8" cy="368.6" r="5.4"/>
<circle cx="482.7" cy="354" r="5.4"/>
<circle cx="449.2" cy="290.6" r="5.4"/>
<circle cx="404.5" cy="342.6" r="5.4"/>
<circle cx="331.5" cy="298" r="5.4"/>
<circle cx="512.6" cy="310.2" r="5.4"/>
<circle cx="457.4" cy="320.1" r="5.4"/>
<circle cx="252.8" cy="107.1" r="5.4"/>
<circle cx="367.2" cy="120.5" r="5.4"/>
<circle cx="326" cy="130.4" r="5.4"/>
<circle cx="294.4" cy="136.1" r="5.4"/>
<circle cx="285.8" cy="159" r="5.4"/>
<circle cx="382.8" cy="159.7" r="5.4"/>
<circle cx="389" cy="173" r="5.4"/>
<circle cx="304.7" cy="189.5" r="5.4"/>
<circle cx="305.8" cy="192.7" r="5.4"/>
<circle cx="323" cy="190.3" r="5.4"/>
<circle cx="391.7" cy="204.6" r="5.4"/>
<circle cx="359" cy="208.8" r="5.4"/>
<circle cx="361.7" cy="216" r="5.4"/>
<circle cx="217.7" cy="219.1" r="5.4"/>
<circle cx="300.9" cy="228.8" r="5.4"/>
<circle cx="334.7" cy="236" r="5.4"/>
<circle cx="339.8" cy="240.1" r="5.4"/>
<circle cx="371.6" cy="239.4" r="5.4"/>
<circle cx="312.3" cy="245.6" r="5.4"/>
<circle cx="318.5" cy="251.1" r="5.4"/>
<circle cx="328.8" cy="254.5" r="5.4"/>
<circle cx="362.4" cy="249" r="5.4"/>
<circle cx="319.1" cy="261.4" r="5.4"/>
<circle cx="291.7" cy="263.5" r="5.4"/>
<circle cx="379.6" cy="259.7" r="5.4"/>
<circle cx="359.7" cy="259.3" r="5.4"/>
<circle cx="372.1" cy="265.5" r="5.4"/>
<circle cx="269" cy="268.3" r="5.4"/>
<circle cx="247.7" cy="271.7" r="5.4"/>
<circle cx="376.9" cy="272.4" r="5.4"/>
<circle cx="352.1" cy="275" r="5.4"/>
<circle cx="362.4" cy="272.4" r="5.4"/>
<circle cx="489.1" cy="153.8" r="5.4"/>
<circle cx="411.5" cy="185.4" r="5.4"/>
<circle cx="462.6" cy="187.5" r="5.4"/>
<circle cx="479.1" cy="205.3" r="5.4"/>
<circle cx="495.3" cy="204.6" r="5.4"/>
<circle cx="423.9" cy="216.7" r="5.4"/>
<circle cx="399.8" cy="221.5" r="5.4"/>
<circle cx="443.8" cy="224.7" r="5.4"/>
<circle cx="501.5" cy="229.1" r="5.4"/>
<circle cx="493.9" cy="243.5" r="5.4"/>
<circle cx="494.2" cy="250.4" r="5.4"/>
<circle cx="436" cy="249.7" r="5.4"/>
<circle cx="403.5" cy="254.2" r="5.4"/>
<circle cx="419" cy="259.7" r="5.4"/>
<circle cx="469.2" cy="264.8" r="5.4"/>
<circle cx="567.9" cy="273.8" r="5.4"/>
<circle cx="401.2" cy="272.4" r="5.4"/>
<circle cx="411.5" cy="273.8" r="5.4"/>
<circle cx="428.7" cy="272.4" r="5.4"/>
<circle cx="210.3" cy="284.9" r="5.4"/>
<circle cx="238.8" cy="315.3" r="5.4"/>
<circle cx="291" cy="297.7" r="5.4"/>
<circle cx="304" cy="291.5" r="5.4"/>
<circle cx="319.8" cy="298.4" r="5.4"/>
<circle cx="291.7" cy="313.5" r="5.4"/>
<circle cx="290.3" cy="319.7" r="5.4"/>
<circle cx="353.5" cy="277.7" r="5.4"/>
<circle cx="376.9" cy="275" r="5.4"/>
<circle cx="386.5" cy="298.4" r="5.4"/>
<circle cx="376.9" cy="308" r="5.4"/>
<circle cx="323.3" cy="281.9" r="5.4"/>
<circle cx="343.9" cy="320.3" r="5.4"/>
<circle cx="327.4" cy="313.5" r="5.4"/>
<circle cx="371.4" cy="320.3" r="5.4"/>
<circle cx="372.7" cy="330" r="5.4"/>
<circle cx="284.4" cy="335.2" r="5.4"/>
<circle cx="302" cy="337.3" r="5.4"/>
<circle cx="311.6" cy="342.7" r="5.4"/>
<circle cx="311.6" cy="349.2" r="5.4"/>
<circle cx="332.2" cy="342.7" r="5.4"/>
<circle cx="325.3" cy="349.2" r="5.4"/>
<circle cx="344.6" cy="339.9" r="5.4"/>
<circle cx="353.5" cy="335.5" r="5.4"/>
<circle cx="255.2" cy="343" r="5.4"/>
<circle cx="269.9" cy="343.3" r="5.4"/>
<circle cx="239.9" cy="349.9" r="5.4"/>
<circle cx="162.9" cy="349.2" r="5.4"/>
<circle cx="315.7" cy="362.5" r="5.4"/>
<circle cx="345.9" cy="370.1" r="5.4"/>
<circle cx="385.4" cy="371.5" r="5.4"/>
<circle cx="251.5" cy="388.8" r="5.4"/>
<circle cx="236.7" cy="400.7" r="5.4"/>
<circle cx="267.6" cy="411" r="5.4"/>
<circle cx="384.4" cy="406.2" r="5.4"/>
<circle cx="177.9" cy="426.2" r="5.4"/>
<circle cx="193.4" cy="444.3" r="5.4"/>
<circle cx="193.7" cy="454.1" r="5.4"/>
<circle cx="171.4" cy="458.2" r="5.4"/>
<circle cx="259.1" cy="445.1" r="5.4"/>
<circle cx="231.2" cy="463" r="5.4"/>
<circle cx="514.6" cy="278.4" r="5.4"/>
<circle cx="548.9" cy="304.3" r="5.4"/>
<circle cx="573" cy="323.1" r="5.4"/>
<circle cx="450" cy="288.1" r="5.4"/>
<circle cx="511.1" cy="321" r="5.4"/>
<circle cx="519.4" cy="329.3" r="5.4"/>
<circle cx="503.6" cy="328.6" r="5.4"/>
<circle cx="496.7" cy="336.2" r="5.4"/>
<circle cx="489.8" cy="341" r="5.4"/>
<circle cx="485.7" cy="325.8" r="5.4"/>
<circle cx="473.3" cy="335.5" r="5.4"/>
<circle cx="440.3" cy="324.5" r="5.4"/>
<circle cx="436.2" cy="343" r="5.4"/>
<circle cx="428" cy="346.5" r="5.4"/>
<circle cx="458.2" cy="355.4" r="5.4"/>
<circle cx="468.5" cy="352.6" r="5.4"/>
<circle cx="484.3" cy="356.1" r="5.4"/>
<circle cx="504.9" cy="354.7" r="5.4"/>
<circle cx="434.9" cy="360.2" r="5.4"/>
<circle cx="434.2" cy="369.8" r="5.4"/>
<circle cx="428" cy="367.1" r="5.4"/>
<circle cx="524.9" cy="364.3" r="5.4"/>
<circle cx="517.3" cy="364.3" r="5.4"/>
<circle cx="543" cy="364.6" r="5.4"/>
<circle cx="455.5" cy="377.4" r="5.4"/>
<circle cx="474" cy="375.3" r="5.4"/>
<circle cx="479.5" cy="369.8" r="5.4"/>
<circle cx="489.1" cy="379.4" r="5.4"/>
<circle cx="477.5" cy="388" r="5.4"/>
<circle cx="524.9" cy="377.4" r="5.4"/>
<circle cx="526.2" cy="384.2" r="5.4"/>
<circle cx="522.8" cy="394.6" r="5.4"/>
<circle cx="545.5" cy="389.7" r="5.4"/>
<circle cx="541.4" cy="400.7" r="5.4"/>
<circle cx="546.2" cy="406.2" r="5.4"/>
<circle cx="545.5" cy="409.7" r="5.4"/>
<circle cx="536.5" cy="411.7" r="5.4"/>
<circle cx="502.9" cy="404.9" r="5.4"/>
<circle cx="500.8" cy="408.3" r="5.4"/>
<circle cx="511.8" cy="413.5" r="5.4"/>
<circle cx="490.1" cy="420" r="5.4"/>
<circle cx="548.5" cy="422.3" r="5.4"/>
<circle cx="507.4" cy="437.2" r="5.4"/>
<circle cx="398.4" cy="447.9" r="5.4"/>
<circle cx="443.8" cy="462.2" r="5.4"/>
<circle cx="535.6" cy="461.9" r="5.4"/>
<circle cx="626.1" cy="467.4" r="5.4"/>
<circle cx="401.9" cy="283.2" r="5.4"/>
<circle cx="421.1" cy="283.2" r="5.4"/>
<circle cx="429.4" cy="281.9" r="5.4"/>
<circle cx="408.7" cy="302.5" r="5.4"/>
<circle cx="419.7" cy="310.7" r="5.4"/>
<circle cx="400.5" cy="332.7" r="5.4"/>
<circle cx="412.9" cy="319" r="5.4"/>
<circle cx="452.7" cy="327.2" r="5.4"/>
<circle cx="463.7" cy="323.1" r="5.4"/>
<circle cx="447.2" cy="302.5" r="5.4"/>
<circle cx="456.8" cy="299.7" r="5.4"/>
<circle cx="480.2" cy="294.2" r="5.4"/>
<circle cx="484.3" cy="279.1" r="5.4"/>
<circle cx="224" cy="475.5" r="5.4"/>
<circle cx="291" cy="476.6" r="5.4"/>
<circle cx="164.1" cy="525.9" r="5.4"/>
<circle cx="167.7" cy="525.4" r="5.4"/>
<circle cx="194.8" cy="521.9" r="5.4"/>
<circle cx="223.9" cy="531.2" r="5.4"/>
<circle cx="174.2" cy="602.2" r="5.4"/>
<circle cx="213.6" cy="601" r="5.4"/>
<circle cx="254.3" cy="598.8" r="5.4"/>
<circle cx="597.3" cy="486.5" r="5.4"/>
<circle cx="456.2" cy="492.7" r="5.4"/>
<circle cx="554.4" cy="494.5" r="5.4"/>
<circle cx="433.5" cy="508.5" r="5.4"/>
<circle cx="522.1" cy="514" r="5.4"/>
<circle cx="527.6" cy="520.8" r="5.4"/>
</g>
<path fill="#FFA500" d="M163 105.5l3.6 5.8h-7.2zM291.7 115.2l3.6 5.8h-7.2zM223.8 124.2l3.6 5.8h-7.2zM193.4 130.4l3.6 5.8h-7.2zM356.9 140l3.6 5.8h-7.2zM167 155l3.6 5.8h-7.2zM367.7 153l3.6 5.8h-7.2zM368.2 156.1l3.6 5.8h-7.2zM335.2 168.1l3.6 5.8h-7.2zM346.2 171.9l3.6 5.8h-7.2zM253.5 171.2l3.6 5.8h-7.2zM294.4 171.2l3.6 5.8h-7.2zM288.5 175.4l3.6 5.8h-7.2zM296.2 178.1l3.6 5.8h-7.2zM382.8 179.8l3.6 5.8h-7.2zM386.9 182.5l3.6 5.8h-7.2zM291 185l3.6 5.8h-7.2zM331.1 185.4l3.6 5.8h-7.2zM347.3 185.4l3.6 5.8h-7.2zM352.1 186.6l3.6 5.8h-7.2zM337.7 189.1l3.6 5.8h-7.2zM342.9 188.7l3.6 5.8h-7.2zM315.7 193.5l3.6 5.8h-7.2zM323 187l3.6 5.8h-7.2zM182.5 201.2l3.6 5.8h-7.2zM240.8 199.8l3.6 5.8h-7.2zM241.5 201.5l3.6 5.8h-7.2zM251.5 201.2l3.6 5.8h-7.2zM274.5 201.2l3.6 5.8h-7.2zM255 207.2l3.6 5.8h-7.2zM288.5 205.6l3.6 5.8h-7.2zM290.3 210l3.6 5.8h-7.2zM288.9 212.5l3.6 5.8h-7.2zM359.3 201.2l3.6 5.8h-7.2zM219.1 213.1l3.6 5.8h-7.2zM224.3 214.1l3.6 5.8h-7.2zM255 215.5l3.6 5.8h-7.2zM254.1 220.7l3.6 5.8h-7.2zM245.9 220.7l3.6 5.8h-7.2zM315 213.1l3.6 5.8h-7.2zM317.1 214.1l3.6 5.8h-7.2zM313 216.6l3.6 5.8h-7.2zM310.9 220l3.6 5.8h-7.2zM345.3 214.9l3.6 5.8h-7.2zM344.8 219.3l3.6 5.8h-7.2zM376.4 218.6l3.6 5.8h-7.2zM291 215.9l3.6 5.8h-7.2zM290.3 220l3.6 5.8h-7.2zM291 224.1l3.6 5.8h-7.2zM320.1 222.4l3.6 5.8h-7.2zM328.4 221.8l3.6 5.8h-7.2zM336.6 221.8l3.6 5.8h-7.2zM331.5 225.9l3.6 5.8h-7.2zM350.1 225.5l3.6 5.8h-7.2zM238.5 225.5l3.6 5.8h-7.2zM270.8 225.5l3.6 5.8h-7.2zM269.7 230.3l3.6 5.8h-7.2zM300.9 224.1l3.6 5.8h-7.2zM300.9 230.3l3.6 5.8h-7.2zM355.6 231l3.6 5.8h-7.2zM369.3 227.9l3.6 5.8h-7.2zM236.7 235.8l3.6 5.8h-7.2zM252.5 237.9l3.6 5.8h-7.2zM271.7 236.5l3.6 5.8h-7.2zM291 236.5l3.6 5.8h-7.2zM291.7 239.9l3.6 5.8h-7.2zM313 235.8l3.6 5.8h-7.2zM362.4 236.5l3.6 5.8h-7.2zM371.6 236.5l3.6 5.8h-7.2zM384.4 235.5l3.6 5.8h-7.2zM390.6 233.8l3.6 5.8h-7.2zM194.5 241.3l3.6 5.8h-7.2zM211 241l3.6 5.8h-7.2zM223.6 241.3l3.6 5.8h-7.2zM215.7 247.9l3.6 5.8h-7.2zM255.2 247.1l3.6 5.8h-7.2zM273.8 246.1l3.6 5.8h-7.2zM333.6 235.1l3.6 5.8h-7.2zM337 235.8l3.6 5.8h-7.2zM341.1 236.5l3.6 5.8h-7.2zM344.6 241.3l3.6 5.8h-7.2zM351.4 240.6l3.6 5.8h-7.2zM376.9 240.6l3.6 5.8h-7.2zM392 245.4l3.6 5.8h-7.2zM385.1 248.9l3.6 5.8h-7.2zM322.6 245.4l3.6 5.8h-7.2zM330.1 245.4l3.6 5.8h-7.2zM334.9 245.4l3.6 5.8h-7.2zM363.8 244.8l3.6 5.8h-7.2zM366.6 247.5l3.6 5.8h-7.2zM374.8 245.4l3.6 5.8h-7.2zM320.5 250.3l3.6 5.8h-7.2zM324.6 251.6l3.6 5.8h-7.2zM330.1 250.3l3.6 5.8h-7.2zM338.4 250.3l3.6 5.8h-7.2zM344.6 249.6l3.6 5.8h-7.2zM352.1 248.9l3.6 5.8h-7.2zM354.9 250.9l3.6 5.8h-7.2zM247.7 252.3l3.6 5.8h-7.2zM239.4 255.7l3.6 5.8h-7.2zM236 257.8l3.6 5.8h-7.2zM253.2 256.4l3.6 5.8h-7.2zM262.1 257.8l3.6 5.8h-7.2zM286.8 256.4l3.6 5.8h-7.2zM289.6 255.7l3.6 5.8h-7.2zM310.9 253.7l3.6 5.8h-7.2zM312.3 257.1l3.6 5.8h-7.2zM319.1 255.7l3.6 5.8h-7.2zM323.3 255.7l3.6 5.8h-7.2zM334.3 255.7l3.6 5.8h-7.2zM339.8 257.1l3.6 5.8h-7.2zM345.9 256.4l3.6 5.8h-7.2zM352.1 255.1l3.6 5.8h-7.2zM353.5 257.1l3.6 5.8h-7.2zM358.3 255.7l3.6 5.8h-7.2zM361.7 258.5l3.6 5.8h-7.2zM368.6 257.1l3.6 5.8h-7.2zM293.7 261.9l3.6 5.8h-7.2zM301.3 264.7l3.6 5.8h-7.2zM326.7 262.6l3.6 5.8h-7.2zM247 261.2l3.6 5.8h-7.2zM220.2 264.7l3.6 5.8h-7.2zM212.6 270.9l3.6 5.8h-7.2zM219.5 270.9l3.6 5.8h-7.2zM255.2 269.5l3.6 5.8h-7.2zM268.3 268.8l3.6 5.8h-7.2zM277.9 270.9l3.6 5.8h-7.2zM286.2 270.2l3.6 5.8h-7.2zM290.3 269.5l3.6 5.8h-7.2zM294.4 269.5l3.6 5.8h-7.2zM298.5 270.2l3.6 5.8h-7.2zM305.4 270.9l3.6 5.8h-7.2zM313 268.8l3.6 5.8h-7.2zM317.8 270.9l3.6 5.8h-7.2zM337 270.2l3.6 5.8h-7.2zM343.9 270.9l3.6 5.8h-7.2zM354.9 259.9l3.6 5.8h-7.2zM360.4 261.2l3.6 5.8h-7.2zM363.1 263.3l3.6 5.8h-7.2zM377.5 264l3.6 5.8h-7.2zM386.5 268.8l3.6 5.8h-7.2zM391.3 266.7l3.6 5.8h-7.2zM405.7 121.1l3.6 5.8h-7.2zM420.7 130.4l3.6 5.8h-7.2zM456.6 135.9l3.6 5.8h-7.2zM488.9 139.2l3.6 5.8h-7.2zM524.9 131.7l3.6 5.8h-7.2zM556.1 130.4l3.6 5.8h-7.2zM405.7 152.4l3.6 5.8h-7.2zM468.2 155.7l3.6 5.8h-7.2zM547.5 155.8l3.6 5.8h-7.2zM546.2 160.9l3.6 5.8h-7.2zM548.2 162.3l3.6 5.8h-7.2zM521.8 163.7l3.6 5.8h-7.2zM533.8 168.8l3.6 5.8h-7.2zM407.4 172.9l3.6 5.8h-7.2zM423.6 182.5l3.6 5.8h-7.2zM481.8 183.6l3.6 5.8h-7.2zM499.4 182.9l3.6 5.8h-7.2zM500.5 187l3.6 5.8h-7.2zM527.6 182.2l3.6 5.8h-7.2zM398 188.4l3.6 5.8h-7.2zM429.8 196.7l3.6 5.8h-7.2zM450.9 198.4l3.6 5.8h-7.2zM468.5 196.9l3.6 5.8h-7.2zM423.2 201.2l3.6 5.8h-7.2zM420.1 204.2l3.6 5.8h-7.2zM429.8 202.2l3.6 5.8h-7.2zM429.1 206.3l3.6 5.8h-7.2zM434.9 205.3l3.6 5.8h-7.2zM456.8 201.9l3.6 5.8h-7.2zM486.4 203.3l3.6 5.8h-7.2zM489.8 202.8l3.6 5.8h-7.2zM494.6 201.5l3.6 5.8h-7.2zM497.4 201.5l3.6 5.8h-7.2zM521.8 203.3l3.6 5.8h-7.2zM540.3 201.2l3.6 5.8h-7.2zM563.6 201.5l3.6 5.8h-7.2zM490.8 210.8l3.6 5.8h-7.2zM511.5 212.7l3.6 5.8h-7.2zM429.4 213.8l3.6 5.8h-7.2zM412.2 214.5l3.6 5.8h-7.2zM415.6 215.9l3.6 5.8h-7.2zM454.5 215.2l3.6 5.8h-7.2zM435.8 218.4l3.6 5.8h-7.2zM412.9 220l3.6 5.8h-7.2zM464.4 220.4l3.6 5.8h-7.2zM519.1 219.1l3.6 5.8h-7.2zM515.2 221.4l3.6 5.8h-7.2zM536.8 218.4l3.6 5.8h-7.2zM407.1 223.5l3.6 5.8h-7.2zM396.4 226.2l3.6 5.8h-7.2zM486.4 224.8l3.6 5.8h-7.2zM489.8 223.5l3.6 5.8h-7.2zM496 224.1l3.6 5.8h-7.2zM489.8 227.6l3.6 5.8h-7.2zM494.6 228.3l3.6 5.8h-7.2zM512.5 230l3.6 5.8h-7.2zM507.7 232.4l3.6 5.8h-7.2zM504 233.8l3.6 5.8h-7.2zM503.2 236.5l3.6 5.8h-7.2zM481.6 232.4l3.6 5.8h-7.2zM430 231l3.6 5.8h-7.2zM456.2 232.4l3.6 5.8h-7.2zM458.2 236.5l3.6 5.8h-7.2zM468.5 235.8l3.6 5.8h-7.2zM468.9 239.9l3.6 5.8h-7.2zM443.8 235.5l3.6 5.8h-7.2zM429.1 236.5l3.6 5.8h-7.2zM434.2 237.2l3.6 5.8h-7.2zM420.4 236.9l3.6 5.8h-7.2zM411.9 236.1l3.6 5.8h-7.2zM401.2 236.5l3.6 5.8h-7.2zM396.4 236.5l3.6 5.8h-7.2zM405.3 241l3.6 5.8h-7.2zM400.5 242l3.6 5.8h-7.2zM435.5 241.3l3.6 5.8h-7.2zM460.7 239.9l3.6 5.8h-7.2zM462.1 241.3l3.6 5.8h-7.2zM459.6 244.1l3.6 5.8h-7.2zM461.6 244.8l3.6 5.8h-7.2zM493.9 236.5l3.6 5.8h-7.2zM511.1 241l3.6 5.8h-7.2zM545.5 236.5l3.6 5.8h-7.2zM548.2 235.8l3.6 5.8h-7.2zM428.7 248.9l3.6 5.8h-7.2zM413.6 250.3l3.6 5.8h-7.2zM473.1 250.3l3.6 5.8h-7.2zM396.4 251.6l3.6 5.8h-7.2zM434.9 247.5l3.6 5.8h-7.2zM488.7 254.4l3.6 5.8h-7.2zM493.9 256.4l3.6 5.8h-7.2zM498.8 257.1l3.6 5.8h-7.2zM504.9 255.7l3.6 5.8h-7.2zM511.8 257.8l3.6 5.8h-7.2zM515.2 260.6l3.6 5.8h-7.2zM450 256.7l3.6 5.8h-7.2zM458.2 257.1l3.6 5.8h-7.2zM459.6 259.9l3.6 5.8h-7.2zM456.2 262.6l3.6 5.8h-7.2zM464.4 260.6l3.6 5.8h-7.2zM463 264.7l3.6 5.8h-7.2zM477.5 258.5l3.6 5.8h-7.2zM481.6 256.4l3.6 5.8h-7.2zM478.8 259.9l3.6 5.8h-7.2zM420.4 255.7l3.6 5.8h-7.2zM430 257.1l3.6 5.8h-7.2zM435.5 257.8l3.6 5.8h-7.2zM428.7 260.6l3.6 5.8h-7.2zM411.5 256.4l3.6 5.8h-7.2zM403.2 258.5l3.6 5.8h-7.2zM423.9 262.6l3.6 5.8h-7.2zM443.8 264.7l3.6 5.8h-7.2zM443.1 268.8l3.6 5.8h-7.2zM502.9 264l3.6 5.8h-7.2zM599.3 261.2l3.6 5.8h-7.2zM472.6 269.5l3.6 5.8h-7.2zM484.3 269.5l3.6 5.8h-7.2zM489.8 269.5l3.6 5.8h-7.2zM493.9 269.5l3.6 5.8h-7.2zM504.9 269.5l3.6 5.8h-7.2zM517.3 270.2l3.6 5.8h-7.2zM526.9 269.5l3.6 5.8h-7.2zM531 270.9l3.6 5.8h-7.2zM545.8 269.5l3.6 5.8h-7.2zM453.4 270.2l3.6 5.8h-7.2zM456.8 270.2l3.6 5.8h-7.2zM420.4 269.5l3.6 5.8h-7.2zM430.7 268.8l3.6 5.8h-7.2zM400.5 272.1l3.6 5.8h-7.2zM406 270.2l3.6 5.8h-7.2zM182.7 284.5l3.6 5.8h-7.2zM173.8 302.3l3.6 5.8h-7.2zM172.1 318.8l3.6 5.8h-7.2zM207.8 307.1l3.6 5.8h-7.2zM222.9 278.3l3.6 5.8h-7.2zM236.7 282.4l3.6 5.8h-7.2zM242.2 282.4l3.6 5.8h-7.2zM206.5 290l3.6 5.8h-7.2zM211.3 292.7l3.6 5.8h-7.2zM216.1 296.8l3.6 5.8h-7.2zM220.2 289.3l3.6 5.8h-7.2zM226.4 287.2l3.6 5.8h-7.2zM223.6 294.8l3.6 5.8h-7.2zM221.6 301.6l3.6 5.8h-7.2zM224.3 305.8l3.6 5.8h-7.2zM242.2 292l3.6 5.8h-7.2zM240.8 301l3.6 5.8h-7.2zM244.9 301l3.6 5.8h-7.2zM253.2 297.5l3.6 5.8h-7.2zM254.6 289.3l3.6 5.8h-7.2zM260.1 289.3l3.6 5.8h-7.2zM261.4 294.1l3.6 5.8h-7.2zM269 287.2l3.6 5.8h-7.2zM271.7 296.8l3.6 5.8h-7.2zM268.3 300.3l3.6 5.8h-7.2zM272.4 281.7l3.6 5.8h-7.2zM276.5 281.7l3.6 5.8h-7.2zM267.6 279l3.6 5.8h-7.2zM252.5 278.3l3.6 5.8h-7.2zM255.9 281l3.6 5.8h-7.2zM251.8 304.4l3.6 5.8h-7.2zM249.1 308.5l3.6 5.8h-7.2zM253.2 311.3l3.6 5.8h-7.2zM256.6 309.9l3.6 5.8h-7.2zM269 311.3l3.6 5.8h-7.2zM233.9 312l3.6 5.8h-7.2zM243.6 312.6l3.6 5.8h-7.2zM223.6 330.5l3.6 5.8h-7.2zM232.6 325.7l3.6 5.8h-7.2zM236.7 324.3l3.6 5.8h-7.2zM251.1 324.3l3.6 5.8h-7.2zM254.6 329.8l3.6 5.8h-7.2zM260.7 329.8l3.6 5.8h-7.2zM266.9 325l3.6 5.8h-7.2zM269 326.4l3.6 5.8h-7.2zM275.9 332.6l3.6 5.8h-7.2zM234.9 336.3l3.6 5.8h-7.2zM229.5 342.2l3.6 5.8h-7.2zM194.1 346.3l3.6 5.8h-7.2zM249.7 344.9l3.6 5.8h-7.2zM253.9 351.1l3.6 5.8h-7.2zM262.1 346.3l3.6 5.8h-7.2zM269 349.1l3.6 5.8h-7.2zM288.2 347l3.6 5.8h-7.2zM291.7 351.1l3.6 5.8h-7.2zM297.8 346.3l3.6 5.8h-7.2zM304 347l3.6 5.8h-7.2zM293 340.8l3.6 5.8h-7.2zM290.3 339.4l3.6 5.8h-7.2zM295.8 327.1l3.6 5.8h-7.2zM300.6 327.1l3.6 5.8h-7.2zM312.3 327.1l3.6 5.8h-7.2zM306.1 320.2l3.6 5.8h-7.2zM298.5 321.6l3.6 5.8h-7.2zM312.3 333.3l3.6 5.8h-7.2zM320.5 336.7l3.6 5.8h-7.2zM326 339.4l3.6 5.8h-7.2zM269.7 360.7l3.6 5.8h-7.2zM271 364.9l3.6 5.8h-7.2zM288.2 362.1l3.6 5.8h-7.2zM292.3 360.7l3.6 5.8h-7.2zM301.7 361.8l3.6 5.8h-7.2zM310.9 363.5l3.6 5.8h-7.2zM319.1 369l3.6 5.8h-7.2zM324.6 368.3l3.6 5.8h-7.2zM326.7 362.1l3.6 5.8h-7.2zM331.5 366.2l3.6 5.8h-7.2zM338.4 355.9l3.6 5.8h-7.2zM341.1 360l3.6 5.8h-7.2zM345.9 359.4l3.6 5.8h-7.2zM194.8 366.9l3.6 5.8h-7.2zM219.1 367.9l3.6 5.8h-7.2zM250.2 367.6l3.6 5.8h-7.2zM254.3 367.6l3.6 5.8h-7.2zM277.9 374.5l3.6 5.8h-7.2zM292.3 374.5l3.6 5.8h-7.2zM310.9 382.7l3.6 5.8h-7.2zM322.6 379.3l3.6 5.8h-7.2zM327.4 384.8l3.6 5.8h-7.2zM337.7 374.5l3.6 5.8h-7.2zM345.3 383.4l3.6 5.8h-7.2zM352.1 384.8l3.6 5.8h-7.2zM357.6 386.2l3.6 5.8h-7.2zM361.7 385.5l3.6 5.8h-7.2zM367.2 382l3.6 5.8h-7.2zM372.1 386.2l3.6 5.8h-7.2zM359 377.9l3.6 5.8h-7.2zM384.4 375.2l3.6 5.8h-7.2zM194.8 386.4l3.6 5.8h-7.2zM227.8 384.4l3.6 5.8h-7.2zM281.4 388.2l3.6 5.8h-7.2zM253.5 393.7l3.6 5.8h-7.2zM238.8 402.6l3.6 5.8h-7.2zM277.2 398.5l3.6 5.8h-7.2zM291.7 400.6l3.6 5.8h-7.2zM295.8 408.1l3.6 5.8h-7.2zM304.7 404.7l3.6 5.8h-7.2zM319.1 404.7l3.6 5.8h-7.2zM324 404l3.6 5.8h-7.2zM328.8 404l3.6 5.8h-7.2zM326.7 397.2l3.6 5.8h-7.2zM340.4 402l3.6 5.8h-7.2zM343.9 395.8l3.6 5.8h-7.2zM358.3 397.2l3.6 5.8h-7.2zM365.9 408.1l3.6 5.8h-7.2zM372.1 402l3.6 5.8h-7.2zM378.2 409.5l3.6 5.8h-7.2zM381 393.7l3.6 5.8h-7.2zM383.7 393.7l3.6 5.8h-7.2zM389.2 406.1l3.6 5.8h-7.2zM392 408.1l3.6 5.8h-7.2zM193.4 413.2l3.6 5.8h-7.2zM193.4 420.2l3.6 5.8h-7.2zM223.4 419.6l3.6 5.8h-7.2zM286.8 421.9l3.6 5.8h-7.2zM346.6 414.3l3.6 5.8h-7.2zM354.2 417.8l3.6 5.8h-7.2zM372.1 415l3.6 5.8h-7.2zM307.5 425.3l3.6 5.8h-7.2zM322.9 426.4l3.6 5.8h-7.2zM219.2 443.9l3.6 5.8h-7.2zM253.9 442.9l3.6 5.8h-7.2zM291.7 443.2l3.6 5.8h-7.2zM305.4 444.3l3.6 5.8h-7.2zM330.8 440.4l3.6 5.8h-7.2zM338.4 443.2l3.6 5.8h-7.2zM352.1 443.9l3.6 5.8h-7.2zM326 448l3.6 5.8h-7.2zM339.8 455.6l3.6 5.8h-7.2zM354.2 454.9l3.6 5.8h-7.2zM383.7 455.6l3.6 5.8h-7.2zM189 459l3.6 5.8h-7.2zM223.6 461.5l3.6 5.8h-7.2zM231.2 456.9l3.6 5.8h-7.2zM291 458.7l3.6 5.8h-7.2zM326.7 458.7l3.6 5.8h-7.2zM330.8 458.7l3.6 5.8h-7.2zM346.6 459.3l3.6 5.8h-7.2zM367.7 458.7l3.6 5.8h-7.2zM255.2 466.6l3.6 5.8h-7.2zM540.7 278.3l3.6 5.8h-7.2zM566.8 287.2l3.6 5.8h-7.2zM533.4 289.6l3.6 5.8h-7.2zM542.7 290.4l3.6 5.8h-7.2zM525.5 282.4l3.6 5.8h-7.2zM504.9 281l3.6 5.8h-7.2zM535.9 302.1l3.6 5.8h-7.2zM542.7 309.9l3.6 5.8h-7.2zM526.2 308.5l3.6 5.8h-7.2zM526.9 312.6l3.6 5.8h-7.2zM519.4 301.6l3.6 5.8h-7.2zM515.9 301l3.6 5.8h-7.2zM511.8 301.6l3.6 5.8h-7.2zM507.7 301.6l3.6 5.8h-7.2zM529.7 325l3.6 5.8h-7.2zM542.7 327.8l3.6 5.8h-7.2zM548.5 330.8l3.6 5.8h-7.2zM539.3 336.3l3.6 5.8h-7.2zM546.2 339.8l3.6 5.8h-7.2zM521.4 339.4l3.6 5.8h-7.2zM526.2 339.4l3.6 5.8h-7.2zM513.9 347l3.6 5.8h-7.2zM519.4 348.4l3.6 5.8h-7.2zM523.5 347l3.6 5.8h-7.2zM526.9 351.8l3.6 5.8h-7.2zM531 351.1l3.6 5.8h-7.2zM515.9 351.1l3.6 5.8h-7.2zM544.1 367.6l3.6 5.8h-7.2zM548.9 367.6l3.6 5.8h-7.2zM530.4 368.3l3.6 5.8h-7.2zM513.2 358.7l3.6 5.8h-7.2zM511.8 363.5l3.6 5.8h-7.2zM517.3 374.5l3.6 5.8h-7.2zM504.9 366.9l3.6 5.8h-7.2zM502.2 374.5l3.6 5.8h-7.2zM505.6 378.6l3.6 5.8h-7.2zM504.9 384.8l3.6 5.8h-7.2zM494.6 375.2l3.6 5.8h-7.2zM492.6 384.1l3.6 5.8h-7.2zM485 390.3l3.6 5.8h-7.2zM485.7 396.5l3.6 5.8h-7.2zM483.6 382l3.6 5.8h-7.2zM556.9 394l3.6 5.8h-7.2zM545.8 394l3.6 5.8h-7.2zM522.1 396.5l3.6 5.8h-7.2zM511.8 397.2l3.6 5.8h-7.2zM512.5 402l3.6 5.8h-7.2zM519.4 402.6l3.6 5.8h-7.2zM524.2 404.7l3.6 5.8h-7.2zM569.1 408.1l3.6 5.8h-7.2zM540.7 410.2l3.6 5.8h-7.2zM504.9 415l3.6 5.8h-7.2zM493.9 404.7l3.6 5.8h-7.2zM491.2 407.5l3.6 5.8h-7.2zM496.7 407.5l3.6 5.8h-7.2zM492.6 402.6l3.6 5.8h-7.2zM472.6 397.2l3.6 5.8h-7.2zM469.9 402.6l3.6 5.8h-7.2zM467.8 408.1l3.6 5.8h-7.2zM478.1 403.3l3.6 5.8h-7.2zM481.6 402.6l3.6 5.8h-7.2zM485 403.3l3.6 5.8h-7.2zM478.1 408.1l3.6 5.8h-7.2zM455.5 397.2l3.6 5.8h-7.2zM458.9 397.2l3.6 5.8h-7.2zM462.3 397.2l3.6 5.8h-7.2zM452.7 402.6l3.6 5.8h-7.2zM455.5 407.5l3.6 5.8h-7.2zM450 409.5l3.6 5.8h-7.2zM451.3 414.3l3.6 5.8h-7.2zM443.8 402.6l3.6 5.8h-7.2zM434.9 397.8l3.6 5.8h-7.2zM423.2 397.8l3.6 5.8h-7.2zM412.9 397.2l3.6 5.8h-7.2zM409.4 393l3.6 5.8h-7.2zM416.3 389.6l3.6 5.8h-7.2zM432.1 385.5l3.6 5.8h-7.2zM434.9 388.2l3.6 5.8h-7.2zM428.7 382l3.6 5.8h-7.2zM421.1 375.9l3.6 5.8h-7.2zM445.8 382l3.6 5.8h-7.2zM456.8 382l3.6 5.8h-7.2zM397.7 376.5l3.6 5.8h-7.2zM403.9 371l3.6 5.8h-7.2zM411.5 367.6l3.6 5.8h-7.2zM430 406.1l3.6 5.8h-7.2zM422.5 404.7l3.6 5.8h-7.2zM421.8 408.1l3.6 5.8h-7.2zM402.6 407.5l3.6 5.8h-7.2zM423.2 416.4l3.6 5.8h-7.2zM419.7 423.3l3.6 5.8h-7.2zM433.5 421.2l3.6 5.8h-7.2zM463.4 418.5l3.6 5.8h-7.2zM519.1 429.7l3.6 5.8h-7.2zM543 436.6l3.6 5.8h-7.2zM429.4 438.4l3.6 5.8h-7.2zM434.9 438.4l3.6 5.8h-7.2zM436.9 441.8l3.6 5.8h-7.2zM458.2 438.4l3.6 5.8h-7.2zM454.8 441.1l3.6 5.8h-7.2zM463.7 441.8l3.6 5.8h-7.2zM478.8 437.7l3.6 5.8h-7.2zM490.5 437l3.6 5.8h-7.2zM485 441.8l3.6 5.8h-7.2zM493.9 444.6l3.6 5.8h-7.2zM472.6 445.9l3.6 5.8h-7.2zM469.2 449.4l3.6 5.8h-7.2zM462.3 448l3.6 5.8h-7.2zM429.4 448l3.6 5.8h-7.2zM407.4 441.1l3.6 5.8h-7.2zM406 450.7l3.6 5.8h-7.2zM406.7 454.9l3.6 5.8h-7.2zM406 459l3.6 5.8h-7.2zM428.7 454.9l3.6 5.8h-7.2zM433.5 458.3l3.6 5.8h-7.2zM436.2 463.1l3.6 5.8h-7.2zM459.6 457.6l3.6 5.8h-7.2zM468.5 454.9l3.6 5.8h-7.2zM473.3 459.7l3.6 5.8h-7.2zM478.8 459l3.6 5.8h-7.2zM482.9 459l3.6 5.8h-7.2zM488.4 462.4l3.6 5.8h-7.2zM489.1 454.2l3.6 5.8h-7.2zM486.4 450.1l3.6 5.8h-7.2zM508.4 441.8l3.6 5.8h-7.2zM515.2 442.5l3.6 5.8h-7.2zM527.6 441.1l3.6 5.8h-7.2zM532.4 441.1l3.6 5.8h-7.2zM539.3 448.7l3.6 5.8h-7.2zM565.4 448l3.6 5.8h-7.2zM507 452.8l3.6 5.8h-7.2zM523.5 458.3l3.6 5.8h-7.2zM511.8 462.4l3.6 5.8h-7.2zM545.5 454.9l3.6 5.8h-7.2zM548.2 459l3.6 5.8h-7.2zM543.4 463.1l3.6 5.8h-7.2zM564 458.3l3.6 5.8h-7.2zM176.2 469.8l3.6 5.8h-7.2zM255.2 468.5l3.6 5.8h-7.2zM327.4 470.9l3.6 5.8h-7.2zM349.1 472.9l3.6 5.8h-7.2zM372.5 468.7l3.6 5.8h-7.2zM383.7 473.3l3.6 5.8h-7.2zM387.6 471.2l3.6 5.8h-7.2zM252.1 487l3.6 5.8h-7.2zM251.8 491.1l3.6 5.8h-7.2zM290 488l3.6 5.8h-7.2zM312 482.6l3.6 5.8h-7.2zM312.3 489.4l3.6 5.8h-7.2zM345.3 485.9l3.6 5.8h-7.2zM305 499.7l3.6 5.8h-7.2zM172.5 512.9l3.6 5.8h-7.2zM200 516.6l3.6 5.8h-7.2zM172.8 524.8l3.6 5.8h-7.2zM289.9 513.8l3.6 5.8h-7.2zM320.2 513.4l3.6 5.8h-7.2zM330.8 522.1l3.6 5.8h-7.2zM286.2 526.9l3.6 5.8h-7.2zM371.6 524.1l3.6 5.8h-7.2zM323 550l3.6 5.8h-7.2zM165.2 596.3l3.6 5.8h-7.2zM381 596.7l3.6 5.8h-7.2zM403.2 472.9l3.6 5.8h-7.2zM430.5 475.6l3.6 5.8h-7.2zM446.1 472.6l3.6 5.8h-7.2zM447.9 479.5l3.6 5.8h-7.2zM479.5 474.9l3.6 5.8h-7.2zM489.5 469.8l3.6 5.8h-7.2zM485 478.5l3.6 5.8h-7.2zM499.4 471.9l3.6 5.8h-7.2zM501.5 474.2l3.6 5.8h-7.2zM519.6 472.2l3.6 5.8h-7.2zM524.9 472.6l3.6 5.8h-7.2zM526.9 472.9l3.6 5.8h-7.2zM536.5 468.5l3.6 5.8h-7.2zM545.8 473.7l3.6 5.8h-7.2zM474.7 484.3l3.6 5.8h-7.2zM489.1 486.3l3.6 5.8h-7.2zM501.5 490l3.6 5.8h-7.2zM545.8 481.5l3.6 5.8h-7.2zM546.2 483.6l3.6 5.8h-7.2zM545.5 489.8l3.6 5.8h-7.2zM548.9 490.2l3.6 5.8h-7.2zM524.9 491.4l3.6 5.8h-7.2zM523.8 496l3.6 5.8h-7.2zM534.8 496.4l3.6 5.8h-7.2zM479.2 495l3.6 5.8h-7.2zM457.5 496l3.6 5.8h-7.2zM455.9 489.1l3.6 5.8h-7.2zM496 499.4l3.6 5.8h-7.2zM422.1 500.5l3.6 5.8h-7.2zM399.5 503.1l3.6 5.8h-7.2zM485.7 506.3l3.6 5.8h-7.2zM529.7 509l3.6 5.8h-7.2zM557.2 511.8l3.6 5.8h-7.2zM598.8 514.1l3.6 5.8h-7.2zM417.4 511.3l3.6 5.8h-7.2zM458.2 512.2l3.6 5.8h-7.2zM470.9 510.8l3.6 5.8h-7.2zM479.2 513.1l3.6 5.8h-7.2zM511.4 516.3l3.6 5.8h-7.2zM527.3 517.5l3.6 5.8h-7.2zM541.4 517.9l3.6 5.8h-7.2zM545.5 519.3l3.6 5.8h-7.2zM546.2 522.1l3.6 5.8h-7.2zM553.4 523.4l3.6 5.8h-7.2zM571.6 522.3l3.6 5.8h-7.2zM546.8 526.2l3.6 5.8h-7.2zM545.8 530.6l3.6 5.8h-7.2zM406 518.2l3.6 5.8h-7.2zM441.7 517.7l3.6 5.8h-7.2zM436 522.3l3.6 5.8h-7.2zM552.6 549.6l3.6 5.8h-7.2zM571.6 553.7l3.6 5.8h-7.2zM549.6 556l3.6 5.8h-7.2zM542 559.6l3.6 5.8h-7.2zM485.3 559.6l3.6 5.8h-7.2zM545.8 572.2l3.6 5.8h-7.2zM455.5 579.8l3.6 5.8h-7.2zM479.1 584.3l3.6 5.8h-7.2zM462.3 596.3l3.6 5.8h-7.2zM517 592.6l3.6 5.8h-7.2zM511.5 597.6l3.6 5.8h-7.2zM564 596.3l3.6 5.8h-7.2zM346 291.7l3.6 5.8h-7.2zM313.4 279.7l3.6 5.8h-7.2zM346.7 285l3.6 5.8h-7.2zM501.2 311.3l3.6 5.8h-7.2zM526.5 335.3l3.6 5.8h-7.2zM422.1 332.7l3.6 5.8h-7.2zM402.4 269.2l3.6 5.8h-7.2zM479.6 379.4l3.6 5.8h-7.2zM381.4 295.6l3.6 5.8h-7.2zM506.7 366.4l3.6 5.8h-7.2zM423.5 288l3.6 5.8h-7.2zM478.1 295.8l3.6 5.8h-7.2zM348.6 333.8l3.6 5.8h-7.2zM429.8 258.6l3.6 5.8h-7.2zM467.7 346.1l3.6 5.8h-7.2zM355.9 314.5l3.6 5.8h-7.2zM470.6 355.8l3.6 5.8h-7.2zM515.3 332.9l3.6 5.8h-7.2zM363.8 296.7l3.6 5.8h-7.2zM492.3 335l3.6 5.8h-7.2zM358.7 274.6l3.6 5.8h-7.2zM409 327.9l3.6 5.8h-7.2zM419.7 298.2l3.6 5.8h-7.2zM488.3 281.1l3.6 5.8h-7.2zM342.3 306.1l3.6 5.8h-7.2zM437 355.6l3.6 5.8h-7.2zM476.6 327.3l3.6 5.8h-7.2zM343.8 273.5l3.6 5.8h-7.2zM413.1 299.3l3.6 5.8h-7.2zM352.1 341.5l3.6 5.8h-7.2zM381.4 331.1l3.6 5.8h-7.2zM501.1 312.3l3.6 5.8h-7.2zM510.6 349.5l3.6 5.8h-7.2zM336 342.4l3.6 5.8h-7.2zM399.4 314.8l3.6 5.8h-7.2zM406.7 318.3l3.6 5.8h-7.2zM334.5 277.2l3.6 5.8h-7.2zM380.4 254.2l3.6 5.8h-7.2zM324.3 319.9l3.6 5.8h-7.2zM458.5 348.8l3.6 5.8h-7.2zM334.1 317.8l3.6 5.8h-7.2zM459.4 316l3.6 5.8h-7.2zM462.2 343.5l3.6 5.8h-7.2zM358.5 263l3.6 5.8h-7.2zM426.5 308.5l3.6 5.8h-7.2zM311.1 268.7l3.6 5.8h-7.2zM501.4 312.2l3.6 5.8h-7.2zM420.7 321.3l3.6 5.8h-7.2zM410.4 338.3l3.6 5.8h-7.2zM420.7 298l3.6 5.8h-7.2zM473.4 269.1l3.6 5.8h-7.2zM409.7 261.5l3.6 5.8h-7.2zM456.5 299l3.6 5.8h-7.2zM441.4 316.8l3.6 5.8h-7.2zM368.6 303.4l3.6 5.8h-7.2zM502 355.6l3.6 5.8h-7.2zM502.3 308.8l3.6 5.8h-7.2zM421.1 350.7l3.6 5.8h-7.2zM467 325l3.6 5.8h-7.2zM323.7 297.5l3.6 5.8h-7.2zM343.5 287.2l3.6 5.8h-7.2zM338.7 330.5l3.6 5.8h-7.2zM363.1 329.8l3.6 5.8h-7.2zM479.1 381.6l3.6 5.8h-7.2zM358.4 260.6l3.6 5.8h-7.2zM353.8 330.1l3.6 5.8h-7.2zM483.3 354.5l3.6 5.8h-7.2zM397.3 292.3l3.6 5.8h-7.2zM521.8 319.4l3.6 5.8h-7.2zM448.5 358.2l3.6 5.8h-7.2zM437.5 312.1l3.6 5.8h-7.2zM421 312.2l3.6 5.8h-7.2zM375.2 336.4l3.6 5.8h-7.2zM425.1 347l3.6 5.8h-7.2zM353.1 305.7l3.6 5.8h-7.2zM329 263.4l3.6 5.8h-7.2zM362.8 302.9l3.6 5.8h-7.2zM408.2 324.8l3.6 5.8h-7.2zM466.7 354.3l3.6 5.8h-7.2zM329.2 330.5l3.6 5.8h-7.2zM498 316.4l3.6 5.8h-7.2zM455.3 305.9l3.6 5.8h-7.2zM475.2 290.1l3.6 5.8h-7.2zM296.7 271.7l3.6 5.8h-7.2zM518.1 336.5l3.6 5.8h-7.2zM511.6 331.1l3.6 5.8h-7.2zM361.3 275.6l3.6 5.8h-7.2zM444 354.4l3.6 5.8h-7.2zM499.4 345.3l3.6 5.8h-7.2zM508.9 333.2l3.6 5.8h-7.2zM456.1 341.5l3.6 5.8h-7.2zM393.5 321.5l3.6 5.8h-7.2zM374.1 333.6l3.6 5.8h-7.2zM406.5 355.3l3.6 5.8h-7.2zM357.5 286.5l3.6 5.8h-7.2zM463.5 299.9l3.6 5.8h-7.2zM423.4 305l3.6 5.8h-7.2zM393 315.6l3.6 5.8h-7.2zM329.9 275.3l3.6 5.8h-7.2zM421.5 328.9l3.6 5.8h-7.2zM385.2 271l3.6 5.8h-7.2zM444.4 324l3.6 5.8h-7.2zM335.6 306.1l3.6 5.8h-7.2zM468 305.1l3.6 5.8h-7.2zM403.5 337.7l3.6 5.8h-7.2zM412 340l3.6 5.8h-7.2zM508.3 347.1l3.6 5.8h-7.2zM316.9 334.7l3.6 5.8h-7.2zM370.7 314l3.6 5.8h-7.2zM499.6 322.3l3.6 5.8h-7.2zM442.4 305.9l3.6 5.8h-7.2zM489 344.3l3.6 5.8h-7.2zM453 341.1l3.6 5.8h-7.2zM398.9 312.7l3.6 5.8h-7.2zM364 276.9l3.6 5.8h-7.2zM416.1 307l3.6 5.8h-7.2zM344.6 302.7l3.6 5.8h-7.2zM415.8 333.5l3.6 5.8h-7.2zM401 293l3.6 5.8h-7.2zM392.6 332.3l3.6 5.8h-7.2zM386.3 324.4l3.6 5.8h-7.2zM498.6 363.4l3.6 5.8h-7.2zM426.1 306.2l3.6 5.8h-7.2zM480.6 302.8l3.6 5.8h-7.2zM300.6 300.5l3.6 5.8h-7.2zM420.1 329.5l3.6 5.8h-7.2zM379 339.4l3.6 5.8h-7.2zM310.3 255.9l3.6 5.8h-7.2zM484.7 341.8l3.6 5.8h-7.2zM479.1 271l3.6 5.8h-7.2zM512 382.2l3.6 5.8h-7.2zM381.9 292.9l3.6 5.8h-7.2zM469.3 320.8l3.6 5.8h-7.2zM409.5 362.1l3.6 5.8h-7.2zM471.8 288.7l3.6 5.8h-7.2zM405.4 334.4l3.6 5.8h-7.2zM523.6 357l3.6 5.8h-7.2zM460.7 363.8l3.6 5.8h-7.2zM390 334.7l3.6 5.8h-7.2zM370.2 251.9l3.6 5.8h-7.2zM428.6 307.9l3.6 5.8h-7.2zM458.2 340.7l3.6 5.8h-7.2zM465.7 332.4l3.6 5.8h-7.2zM375.3 290.5l3.6 5.8h-7.2zM418 330.3l3.6 5.8h-7.2zM350.6 251.8l3.6 5.8h-7.2zM385.3 345.2l3.6 5.8h-7.2zM473.5 375.8l3.6 5.8h-7.2zM376.8 341.7l3.6 5.8h-7.2zM477.9 353.6l3.6 5.8h-7.2zM426.4 272.2l3.6 5.8h-7.2zM392.9 275.1l3.6 5.8h-7.2zM512.6 341l3.6 5.8h-7.2zM428.5 317.7l3.6 5.8h-7.2zM355.1 287.3l3.6 5.8h-7.2zM429.1 333.9l3.6 5.8h-7.2zM515.4 331.1l3.6 5.8h-7.2zM440.4 372.1l3.6 5.8h-7.2zM332.6 293.9l3.6 5.8h-7.2zM334.2 278.8l3.6 5.8h-7.2zM529.1 322.2l3.6 5.8h-7.2zM432.8 272.7l3.6 5.8h-7.2zM489.2 364l3.6 5.8h-7.2zM484.9 301.5l3.6 5.8h-7.2zM390.9 248.5l3.6 5.8h-7.2zM507.2 325.6l3.6 5.8h-7.2zM443.4 322.9l3.6 5.8h-7.2zM408.2 333.2l3.6 5.8h-7.2zM352.8 318.9l3.6 5.8h-7.2zM431.7 337.9l3.6 5.8h-7.2zM392.4 263.8l3.6 5.8h-7.2zM395 298.5l3.6 5.8h-7.2zM356.3 327.7l3.6 5.8h-7.2zM427.9 335.7l3.6 5.8h-7.2zM461.2 264.4l3.6 5.8h-7.2zM376.5 296.1l3.6 5.8h-7.2zM316.6 302.1l3.6 5.8h-7.2zM519.1 345.3l3.6 5.8h-7.2zM490.6 304.1l3.6 5.8h-7.2zM421.5 267.4l3.6 5.8h-7.2zM425 346l3.6 5.8h-7.2zM419.9 281.9l3.6 5.8h-7.2zM406.7 304.6l3.6 5.8h-7.2zM464.1 325.8l3.6 5.8h-7.2zM459.4 338.9l3.6 5.8h-7.2zM398.7 284l3.6 5.8h-7.2zM351.7 257.1l3.6 5.8h-7.2zM543.1 340.6l3.6 5.8h-7.2zM376.2 274l3.6 5.8h-7.2zM351.9 300l3.6 5.8h-7.2zM420.5 301.2l3.6 5.8h-7.2zM399.7 268.1l3.6 5.8h-7.2zM525 325.5l3.6 5.8h-7.2zM386.8 294.5l3.6 5.8h-7.2zM507.7 319.5l3.6 5.8h-7.2zM481.5 300.1l3.6 5.8h-7.2zM427.4 310l3.6 5.8h-7.2zM382.1 351l3.6 5.8h-7.2zM428.6 301.9l3.6 5.8h-7.2zM415.9 321.3l3.6 5.8h-7.2zM490.6 377.8l3.6 5.8h-7.2zM336.3 312.6l3.6 5.8h-7.2zM534.9 356.2l3.6 5.8h-7.2zM485.5 339.2l3.6 5.8h-7.2zM465.5 357.7l3.6 5.8h-7.2zM469.4 314.8l3.6 5.8h-7.2zM366 313.8l3.6 5.8h-7.2zM406.9 289.1l3.6 5.8h-7.2zM457 352.4l3.6 5.8h-7.2zM379.2 325.2l3.6 5.8h-7.2zM531.9 347.8l3.6 5.8h-7.2zM488.4 294.3l3.6 5.8h-7.2zM535.1 345.2l3.6 5.8h-7.2zM298.2 336.3l3.6 5.8h-7.2zM381.1 317.3l3.6 5.8h-7.2zM397.3 277.1l3.6 5.8h-7.2zM536.9 347.3l3.6 5.8h-7.2zM458.7 355.7l3.6 5.8h-7.2zM454 351.9l3.6 5.8h-7.2zM505.8 320.7l3.6 5.8h-7.2zM498.2 289.8l3.6 5.8h-7.2zM446.3 357.5l3.6 5.8h-7.2zM463.4 369l3.6 5.8h-7.2zM309.8 341.7l3.6 5.8h-7.2zM408.4 285.4l3.6 5.8h-7.2zM412.8 267.2l3.6 5.8h-7.2zM428.6 287.6l3.6 5.8h-7.2zM358.3 313.1l3.6 5.8h-7.2zM377.3 291.7l3.6 5.8h-7.2zM505.8 326.5l3.6 5.8h-7.2zM390.9 327.8l3.6 5.8h-7.2zM420.9 309.2l3.6 5.8h-7.2zM445.8 369.8l3.6 5.8h-7.2zM494.2 313.4l3.6 5.8h-7.2zM455.6 328.4l3.6 5.8h-7.2zM465 303.3l3.6 5.8h-7.2zM511.1 363.8l3.6 5.8h-7.2zM400.5 273.1l3.6 5.8h-7.2zM479.3 301.9l3.6 5.8h-7.2zM378.5 325.6l3.6 5.8h-7.2zM367.1 321.4l3.6 5.8h-7.2zM397.5 298.3l3.6 5.8h-7.2zM521.1 359.4l3.6 5.8h-7.2zM334 305.6l3.6 5.8h-7.2zM463.4 295.8l3.6 5.8h-7.2zM385.1 310.9l3.6 5.8h-7.2zM388.7 291l3.6 5.8h-7.2zM510.9 342.9l3.6 5.8h-7.2zM382 296.1l3.6 5.8h-7.2zM444 319.5l3.6 5.8h-7.2zM412.6 300.9l3.6 5.8h-7.2zM380.2 355l3.6 5.8h-7.2zM508.2 385.4l3.6 5.8h-7.2zM477.9 303.4l3.6 5.8h-7.2zM353.1 324.1l3.6 5.8h-7.2zM306.1 278.6l3.6 5.8h-7.2zM432 332.1l3.6 5.8h-7.2zM350.4 308.8l3.6 5.8h-7.2zM479.6 316.9l3.6 5.8h-7.2zM410.9 314.1l3.6 5.8h-7.2zM357.9 292.8l3.6 5.8h-7.2zM422.7 309l3.6 5.8h-7.2zM389.4 314.4l3.6 5.8h-7.2zM431.3 276.3l3.6 5.8h-7.2zM498.8 373.7l3.6 5.8h-7.2zM402.9 315.8l3.6 5.8h-7.2zM445.4 301.7l3.6 5.8h-7.2zM504.1 336.4l3.6 5.8h-7.2zM490.5 321.2l3.6 5.8h-7.2zM448.4 361.5l3.6 5.8h-7.2zM292.9 330.8l3.6 5.8h-7.2zM383.4 322.2l3.6 5.8h-7.2zM439.1 369.3l3.6 5.8h-7.2zM521.2 364.2l3.6 5.8h-7.2zM336.6 333.6l3.6 5.8h-7.2zM351.2 283.2l3.6 5.8h-7.2zM425.7 368.1l3.6 5.8h-7.2zM473 282.7l3.6 5.8h-7.2zM305.2 281.3l3.6 5.8h-7.2zM419.2 362l3.6 5.8h-7.2zM435 314.3l3.6 5.8h-7.2zM479.6 334.8l3.6 5.8h-7.2zM359.7 341.4l3.6 5.8h-7.2zM431.7 311.8l3.6 5.8h-7.2zM452.7 304.3l3.6 5.8h-7.2zM487 348l3.6 5.8h-7.2zM520.6 351.3l3.6 5.8h-7.2zM502.7 359l3.6 5.8h-7.2zM471.8 301.6l3.6 5.8h-7.2zM362.2 314.5l3.6 5.8h-7.2zM319.8 306.4l3.6 5.8h-7.2zM471.9 296.8l3.6 5.8h-7.2zM438.3 336.8l3.6 5.8h-7.2zM369.7 300.8l3.6 5.8h-7.2zM407.3 356.8l3.6 5.8h-7.2zM484.9 343.2l3.6 5.8h-7.2zM363.1 264.3l3.6 5.8h-7.2zM305.6 283.2l3.6 5.8h-7.2zM374.5 277.2l3.6 5.8h-7.2zM386.3 345.8l3.6 5.8h-7.2zM304.7 301.7l3.6 5.8h-7.2zM497.6 326.4l3.6 5.8h-7.2zM349.9 302.5l3.6 5.8h-7.2zM471.6 371.4l3.6 5.8h-7.2zM402.6 329l3.6 5.8h-7.2zM458.2 332.6l3.6 5.8h-7.2zM426.1 324.7l3.6 5.8h-7.2zM405.5 354.2l3.6 5.8h-7.2zM488.5 361.2l3.6 5.8h-7.2zM468.9 334.5l3.6 5.8h-7.2zM451.6 346.4l3.6 5.8h-7.2zM363.8 306.9l3.6 5.8h-7.2zM409.2 312.1l3.6 5.8h-7.2zM461.4 363.2l3.6 5.8h-7.2zM450.2 299.6l3.6 5.8h-7.2zM287.2 290l3.6 5.8h-7.2zM459.9 331.2l3.6 5.8h-7.2zM430.4 312.6l3.6 5.8h-7.2zM469.5 333.7l3.6 5.8h-7.2zM291.7 316.1l3.6 5.8h-7.2zM326.1 308l3.6 5.8h-7.2zM478.5 331.6l3.6 5.8h-7.2zM438.1 345.1l3.6 5.8h-7.2zM490 321.9l3.6 5.8h-7.2zM363 276.6l3.6 5.8h-7.2zM317.8 304.8l3.6 5.8h-7.2zM361.5 323.3l3.6 5.8h-7.2zM415.9 346.2l3.6 5.8h-7.2zM433.6 346.1l3.6 5.8h-7.2zM487.4 299.7l3.6 5.8h-7.2zM433.5 335.3l3.6 5.8h-7.2zM420.7 290.2l3.6 5.8h-7.2zM440.7 307l3.6 5.8h-7.2zM452 347.6l3.6 5.8h-7.2zM362.2 327.6l3.6 5.8h-7.2zM453.8 322.5l3.6 5.8h-7.2zM357 334.1l3.6 5.8h-7.2zM366.8 302.1l3.6 5.8h-7.2zM405.4 309.1l3.6 5.8h-7.2zM494.7 338.1l3.6 5.8h-7.2zM479.2 335.2l3.6 5.8h-7.2zM510.2 374.5l3.6 5.8h-7.2zM417.3 303.9l3.6 5.8h-7.2zM418.8 310.9l3.6 5.8h-7.2zM530.1 331.7l3.6 5.8h-7.2zM354.2 316.1l3.6 5.8h-7.2zM328 303l3.6 5.8h-7.2zM316.9 254.9l3.6 5.8h-7.2zM478.3 341.6l3.6 5.8h-7.2zM346.5 278.4l3.6 5.8h-7.2zM328.1 259.9l3.6 5.8h-7.2zM443.3 324.6l3.6 5.8h-7.2zM329.7 282.3l3.6 5.8h-7.2zM350.2 313.4l3.6 5.8h-7.2zM346.1 311.7l3.6 5.8h-7.2zM443.3 322.5l3.6 5.8h-7.2zM355 315.9l3.6 5.8h-7.2zM370.1 312.8l3.6 5.8h-7.2zM395.7 308.6l3.6 5.8h-7.2zM390 339.5l3.6 5.8h-7.2zM313.1 320.5l3.6 5.8h-7.2zM371.3 273.8l3.6 5.8h-7.2zM418.8 286.6l3.6 5.8h-7.2zM388.6 315.2l3.6 5.8h-7.2zM494.4 364.1l3.6 5.8h-7.2zM418.5 317.9l3.6 5.8h-7.2zM455 361.2l3.6 5.8h-7.2zM370.4 272.7l3.6 5.8h-7.2zM356.8 317.8l3.6 5.8h-7.2zM503 306.9l3.6 5.8h-7.2zM347.9 316.6l3.6 5.8h-7.2zM462.5 310.2l3.6 5.8h-7.2zM304.5 286.4l3.6 5.8h-7.2zM448.4 351.9l3.6 5.8h-7.2zM434 302.3l3.6 5.8h-7.2zM356.6 271.1l3.6 5.8h-7.2zM460.4 368.6l3.6 5.8h-7.2zM490.5 306.2l3.6 5.8h-7.2zM432.5 284.1l3.6 5.8h-7.2zM362.9 314.8l3.6 5.8h-7.2zM404.4 355.8l3.6 5.8h-7.2zM328.4 323.1l3.6 5.8h-7.2zM426.6 355.5l3.6 5.8h-7.2zM408.3 325.2l3.6 5.8h-7.2zM465.4 286.9l3.6 5.8h-7.2zM423.1 286.6l3.6 5.8h-7.2zM455.7 341.7l3.6 5.8h-7.2zM458.1 361.5l3.6 5.8h-7.2zM329.9 252.2l3.6 5.8h-7.2zM420.4 281.3l3.6 5.8h-7.2zM372.1 326l3.6 5.8h-7.2zM449.7 303.4l3.6 5.8h-7.2zM447.1 345.3l3.6 5.8h-7.2zM344.8 282.8l3.6 5.8h-7.2zM422.8 302l3.6 5.8h-7.2zM427.3 315.2l3.6 5.8h-7.2zM401.7 332.8l3.6 5.8h-7.2zM436.1 340.5l3.6 5.8h-7.2zM522.6 343.1l3.6 5.8h-7.2zM460.3 371.3l3.6 5.8h-7.2zM390.5 357.1l3.6 5.8h-7.2zM430.9 345l3.6 5.8h-7.2zM362 281.3l3.6 5.8h-7.2zM502.3 333l3.6 5.8h-7.2zM358.2 316.6l3.6 5.8h-7.2zM283.1 321.5l3.6 5.8h-7.2zM356.3 281.2l3.6 5.8h-7.2zM439.3 361.4l3.6 5.8h-7.2zM392.8 272.8l3.6 5.8h-7.2zM355.4 309.8l3.6 5.8h-7.2zM348.7 284.5l3.6 5.8h-7.2zM334.3 286.1l3.6 5.8h-7.2zM326.1 330.5l3.6 5.8h-7.2zM362.7 290.1l3.6 5.8h-7.2zM434.7 329.5l3.6 5.8h-7.2zM419.4 274.3l3.6 5.8h-7.2zM484.6 301.2l3.6 5.8h-7.2zM363.3 286.8l3.6 5.8h-7.2zM410.5 322.2l3.6 5.8h-7.2zM426.2 265.8l3.6 5.8h-7.2zM378.7 270.8l3.6 5.8h-7.2zM459.6 287.8l3.6 5.8h-7.2zM479.1 332.5l3.6 5.8h-7.2zM396.5 322.7l3.6 5.8h-7.2zM309 280.6l3.6 5.8h-7.2zM437.8 337.6l3.6 5.8h-7.2zM478.7 327.2l3.6 5.8h-7.2zM484 337.1l3.6 5.8h-7.2zM368.3 348.7l3.6 5.8h-7.2zM336.2 319l3.6 5.8h-7.2zM388.5 292.1l3.6 5.8h-7.2zM326.5 281.6l3.6 5.8h-7.2zM439.3 321.5l3.6 5.8h-7.2zM445.1 302.9l3.6 5.8h-7.2zM462.6 342.9l3.6 5.8h-7.2zM340.7 256.8l3.6 5.8h-7.2zM406.4 320.8l3.6 5.8h-7.2zM311.7 272.8l3.6 5.8h-7.2zM290.2 293.1l3.6 5.8h-7.2zM381.5 274.3l3.6 5.8h-7.2zM507 345.3l3.6 5.8h-7.2zM463.5 320.7l3.6 5.8h-7.2zM458.1 285.8l3.6 5.8h-7.2zM393.1 292.9l3.6 5.8h-7.2zM361.7 301.3l3.6 5.8h-7.2zM393.8 305.1l3.6 5.8h-7.2zM362 316.4l3.6 5.8h-7.2zM463.4 306.7l3.6 5.8h-7.2zM405.1 354.7l3.6 5.8h-7.2zM514.8 315.2l3.6 5.8h-7.2zM359.1 265.8l3.6 5.8h-7.2zM343.6 330.2l3.6 5.8h-7.2zM377.8 292.4l3.6 5.8h-7.2zM539.4 326.9l3.6 5.8h-7.2zM485.7 305.9l3.6 5.8h-7.2zM432 333.8l3.6 5.8h-7.2zM418.3 296.2l3.6 5.8h-7.2zM438.9 307l3.6 5.8h-7.2zM452.4 282.3l3.6 5.8h-7.2zM371.7 291.2l3.6 5.8h-7.2zM430.4 275.3l3.6 5.8h-7.2zM413.5 299.7l3.6 5.8h-7.2zM436.3 354.7l3.6 5.8h-7.2zM374.8 307.8l3.6 5.8h-7.2zM488.7 368.7l3.6 5.8h-7.2zM440.9 291.7l3.6 5.8h-7.2zM350.1 316.3l3.6 5.8h-7.2zM447.5 310.3l3.6 5.8h-7.2zM384.7 330.5l3.6 5.8h-7.2zM443.2 287.9l3.6 5.8h-7.2zM480.6 336.5l3.6 5.8h-7.2zM373.1 333.8l3.6 5.8h-7.2zM409.8 319.8l3.6 5.8h-7.2zM417.8 324.7l3.6 5.8h-7.2zM415.6 306.3l3.6 5.8h-7.2zM440.8 295.4l3.6 5.8h-7.2zM320.8 266.2l3.6 5.8h-7.2zM421.6 345.7l3.6 5.8h-7.2zM368.7 306.7l3.6 5.8h-7.2zM362 330l3.6 5.8h-7.2zM323.8 303.4l3.6 5.8h-7.2zM471.9 280l3.6 5.8h-7.2zM371 344.5l3.6 5.8h-7.2zM382.2 319.1l3.6 5.8h-7.2zM358.8 333.5l3.6 5.8h-7.2zM379.8 256.9l3.6 5.8h-7.2zM405.1 319.8l3.6 5.8h-7.2zM465.3 316.7l3.6 5.8h-7.2zM418.9 336.8l3.6 5.8h-7.2zM480.4 322l3.6 5.8h-7.2zM355.6 270.3l3.6 5.8h-7.2zM441.2 285.4l3.6 5.8h-7.2zM387 348.8l3.6 5.8h-7.2zM418.7 307.9l3.6 5.8h-7.2zM314.7 334.7l3.6 5.8h-7.2zM517.8 338.5l3.6 5.8h-7.2zM335 319.2l3.6 5.8h-7.2zM348.5 265.2l3.6 5.8h-7.2zM436.7 327.1l3.6 5.8h-7.2zM467 270.3l3.6 5.8h-7.2zM492.9 301.2l3.6 5.8h-7.2zM530 344.4l3.6 5.8h-7.2zM324.2 310.2l3.6 5.8h-7.2zM421.2 344.1l3.6 5.8h-7.2zM477.5 368.3l3.6 5.8h-7.2zM437.4 353.5l3.6 5.8h-7.2zM506.2 325.2l3.6 5.8h-7.2zM418.6 313.2l3.6 5.8h-7.2zM391.7 288.9l3.6 5.8h-7.2zM478.8 306.8l3.6 5.8h-7.2zM323 334.9l3.6 5.8h-7.2zM440.1 327.3l3.6 5.8h-7.2zM467.7 308l3.6 5.8h-7.2zM405.8 334.2l3.6 5.8h-7.2zM496.7 346l3.6 5.8h-7.2zM363.2 299.5l3.6 5.8h-7.2zM462.7 316.3l3.6 5.8h-7.2zM405.1 280.3l3.6 5.8h-7.2zM295.5 281.9l3.6 5.8h-7.2zM399.5 311.8l3.6 5.8h-7.2zM508.6 341.1l3.6 5.8h-7.2zM453.2 335.6l3.6 5.8h-7.2zM479.1 372.9l3.6 5.8h-7.2zM487.6 361.7l3.6 5.8h-7.2zM395.2 245.8l3.6 5.8h-7.2zM520.6 341.5l3.6 5.8h-7.2zM436.1 288.6l3.6 5.8h-7.2zM373.8 279.8l3.6 5.8h-7.2zM468.8 380.6l3.6 5.8h-7.2zM405.3 326.4l3.6 5.8h-7.2zM476.9 258.4l3.6 5.8h-7.2zM317 273.6l3.6 5.8h-7.2zM316.2 278.6l3.6 5.8h-7.2zM465.4 379.6l3.6 5.8h-7.2zM327.5 306.7l3.6 5.8h-7.2zM283.4 301.4l3.6 5.8h-7.2zM405.8 314.9l3.6 5.8h-7.2zM329.6 320.6l3.6 5.8h-7.2zM521 338.8l3.6 5.8h-7.2zM512.7 341.4l3.6 5.8h-7.2zM330.6 270.2l3.6 5.8h-7.2zM416.2 253.5l3.6 5.8h-7.2zM309.8 267.9l3.6 5.8h-7.2zM365 293l3.6 5.8h-7.2zM315.5 265.3l3.6 5.8h-7.2zM439.6 318.9l3.6 5.8h-7.2zM336.6 285.4l3.6 5.8h-7.2zM486.1 374.1l3.6 5.8h-7.2zM532.6 322.4l3.6 5.8h-7.2zM477.6 327.1l3.6 5.8h-7.2zM430.4 311.7l3.6 5.8h-7.2zM305.1 319l3.6 5.8h-7.2zM453.5 353.1l3.6 5.8h-7.2zM410.2 315l3.6 5.8h-7.2zM356.7 272.1l3.6 5.8h-7.2zM322.5 300.1l3.6 5.8h-7.2zM451.6 294.7l3.6 5.8h-7.2zM446.9 321.7l3.6 5.8h-7.2zM361.8 346.6l3.6 5.8h-7.2zM472.8 279.3l3.6 5.8h-7.2zM426.6 337.5l3.6 5.8h-7.2zM417.7 330.8l3.6 5.8h-7.2zM449.2 352.1l3.6 5.8h-7.2zM361.5 322.6l3.6 5.8h-7.2zM371.8 282.3l3.6 5.8h-7.2zM362.4 268.9l3.6 5.8h-7.2zM462.3 350.2l3.6 5.8h-7.2zM377.8 344.6l3.6 5.8h-7.2zM408.3 289.4l3.6 5.8h-7.2zM417.7 288.2l3.6 5.8h-7.2zM537.1 343.9l3.6 5.8h-7.2zM312.1 320.6l3.6 5.8h-7.2zM392.8 335.2l3.6 5.8h-7.2zM344.5 276.8l3.6 5.8h-7.2zM421.6 289.1l3.6 5.8h-7.2zM456 316l3.6 5.8h-7.2zM508.8 367.6l3.6 5.8h-7.2zM355.5 312.8l3.6 5.8h-7.2zM429.2 308.5l3.6 5.8h-7.2zM421 335.4l3.6 5.8h-7.2zM356.7 325.1l3.6 5.8h-7.2zM459.8 324l3.6 5.8h-7.2zM433.2 290.1l3.6 5.8h-7.2zM374.9 320.1l3.6 5.8h-7.2zM354.9 330.2l3.6 5.8h-7.2zM469.5 352.6l3.6 5.8h-7.2zM401.9 280.1l3.6 5.8h-7.2zM509.2 355.2l3.6 5.8h-7.2zM482.3 337.5l3.6 5.8h-7.2zM312.3 281.3l3.6 5.8h-7.2zM415 299.4l3.6 5.8h-7.2zM356 279.5l3.6 5.8h-7.2zM326.4 302l3.6 5.8h-7.2zM352.1 299.2l3.6 5.8h-7.2zM530.1 351.3l3.6 5.8h-7.2zM393.3 274.3l3.6 5.8h-7.2zM475.5 382.5l3.6 5.8h-7.2zM448.1 328.3l3.6 5.8h-7.2zM533.9 348.3l3.6 5.8h-7.2zM307.6 310.4l3.6 5.8h-7.2zM402.7 294.5l3.6 5.8h-7.2zM366.6 331.2l3.6 5.8h-7.2zM341.1 287.5l3.6 5.8h-7.2zM296.9 323.2l3.6 5.8h-7.2zM341.5 342.1l3.6 5.8h-7.2zM439.2 317.7l3.6 5.8h-7.2zM454.6 354.6l3.6 5.8h-7.2zM424.6 320.2l3.6 5.8h-7.2zM544.5 328.6l3.6 5.8h-7.2zM404.7 340.5l3.6 5.8h-7.2zM484.7 329.5l3.6 5.8h-7.2zM390.3 319.4l3.6 5.8h-7.2zM530.6 336.5l3.6 5.8h-7.2zM359.4 287.2l3.6 5.8h-7.2zM395.3 315.8l3.6 5.8h-7.2zM372.9 335.7l3.6 5.8h-7.2zM298.7 316.8l3.6 5.8h-7.2zM345.8 309.1l3.6 5.8h-7.2zM314.2 289.8l3.6 5.8h-7.2zM409.7 317.9l3.6 5.8h-7.2zM490.8 368.9l3.6 5.8h-7.2zM486.6 357l3.6 5.8h-7.2zM480.4 304.3l3.6 5.8h-7.2zM445.3 328.8l3.6 5.8h-7.2zM410.1 298.8l3.6 5.8h-7.2zM479.1 323.3l3.6 5.8h-7.2zM304.3 319.6l3.6 5.8h-7.2zM362 316.9l3.6 5.8h-7.2zM452 298.4l3.6 5.8h-7.2zM417 290.4l3.6 5.8h-7.2zM499.5 373.8l3.6 5.8h-7.2zM447.3 318.2l3.6 5.8h-7.2zM289.6 310l3.6 5.8h-7.2zM320 323.1l3.6 5.8h-7.2zM532 315.3l3.6 5.8h-7.2zM478.8 289.6l3.6 5.8h-7.2zM534.4 332l3.6 5.8h-7.2zM490.7 326.2l3.6 5.8h-7.2zM485.9 354.4l3.6 5.8h-7.2zM484.5 314.3l3.6 5.8h-7.2zM437.1 294.9l3.6 5.8h-7.2zM323.2 261.9l3.6 5.8h-7.2zM349.4 255.4l3.6 5.8h-7.2zM390.8 346.7l3.6 5.8h-7.2zM345.7 298.9l3.6 5.8h-7.2zM450.8 325.6l3.6 5.8h-7.2zM408.1 348.8l3.6 5.8h-7.2zM511.4 320.3l3.6 5.8h-7.2zM386 258.5l3.6 5.8h-7.2zM487.7 335.1l3.6 5.8h-7.2zM457.1 343.4l3.6 5.8h-7.2zM396.5 316.6l3.6 5.8h-7.2zM402.5 277.7l3.6 5.8h-7.2zM493 372.2l3.6 5.8h-7.2zM331.6 337.3l3.6 5.8h-7.2zM375.2 343.1l3.6 5.8h-7.2zM368.2 292.1l3.6 5.8h-7.2zM434 338.4l3.6 5.8h-7.2zM300.2 264.6l3.6 5.8h-7.2zM424.3 306.2l3.6 5.8h-7.2zM428.3 282.9l3.6 5.8h-7.2zM399.7 306.3l3.6 5.8h-7.2zM410.4 333.3l3.6 5.8h-7.2zM518.1 339.8l3.6 5.8h-7.2zM340.8 266.8l3.6 5.8h-7.2zM481.1 337.6l3.6 5.8h-7.2zM400.7 310.3l3.6 5.8h-7.2zM396.1 314.1l3.6 5.8h-7.2zM454.4 322.6l3.6 5.8h-7.2zM405.6 288.4l3.6 5.8h-7.2zM451.9 275.7l3.6 5.8h-7.2zM342.5 333.5l3.6 5.8h-7.2zM383.3 255.3l3.6 5.8h-7.2zM300.6 308.5l3.6 5.8h-7.2zM387.7 342.9l3.6 5.8h-7.2zM424.5 306.7l3.6 5.8h-7.2zM414.3 299.1l3.6 5.8h-7.2zM387.2 290.5l3.6 5.8h-7.2zM359.2 261l3.6 5.8h-7.2zM519.2 324.3l3.6 5.8h-7.2zM481.3 361.9l3.6 5.8h-7.2zM536 338.7l3.6 5.8h-7.2zM399.9 323.6l3.6 5.8h-7.2zM435.9 347.1l3.6 5.8h-7.2zM442.6 302.8l3.6 5.8h-7.2zM386.1 296.4l3.6 5.8h-7.2zM410 320.4l3.6 5.8h-7.2zM315.2 292.1l3.6 5.8h-7.2zM337.3 315l3.6 5.8h-7.2zM319.1 291.2l3.6 5.8h-7.2zM448.6 273.3l3.6 5.8h-7.2zM442.9 332.2l3.6 5.8h-7.2zM446.5 318.4l3.6 5.8h-7.2zM391.6 308.8l3.6 5.8h-7.2zM496.1 301.4l3.6 5.8h-7.2zM488.5 337.7l3.6 5.8h-7.2zM460 324.6l3.6 5.8h-7.2zM385.5 290l3.6 5.8h-7.2zM540 325.6l3.6 5.8h-7.2zM315.3 283.8l3.6 5.8h-7.2zM305.8 293.8l3.6 5.8h-7.2zM512.1 326l3.6 5.8h-7.2zM420.8 349.2l3.6 5.8h-7.2zM394.3 319.1l3.6 5.8h-7.2zM331.3 301l3.6 5.8h-7.2zM502.5 369.1l3.6 5.8h-7.2zM415.6 301l3.6 5.8h-7.2zM527.1 361.6l3.6 5.8h-7.2zM411.6 313l3.6 5.8h-7.2zM459.1 319.3l3.6 5.8h-7.2zM356.2 275.5l3.6 5.8h-7.2zM464.3 307.5l3.6 5.8h-7.2zM379.9 288.7l3.6 5.8h-7.2zM463.1 338.6l3.6 5.8h-7.2zM430.6 301.2l3.6 5.8h-7.2zM323.1 258.2l3.6 5.8h-7.2zM415 333.7l3.6 5.8h-7.2zM427 322.8l3.6 5.8h-7.2zM355.7 316.2l3.6 5.8h-7.2zM404 314.8l3.6 5.8h-7.2zM514.8 364.9l3.6 5.8h-7.2zM418.7 326l3.6 5.8h-7.2zM475.2 362l3.6 5.8h-7.2zM394.4 332.2l3.6 5.8h-7.2zM343 289.8l3.6 5.8h-7.2zM438.5 369.9l3.6 5.8h-7.2zM431 314.7l3.6 5.8h-7.2zM362.1 321.4l3.6 5.8h-7.2zM488.9 330.4l3.6 5.8h-7.2zM330.5 314l3.6 5.8h-7.2zM403.3 256.9l3.6 5.8h-7.2zM470.8 325.8l3.6 5.8h-7.2zM443.9 282.2l3.6 5.8h-7.2zM418.3 335.3l3.6 5.8h-7.2zM439.9 338l3.6 5.8h-7.2zM379.2 292.5l3.6 5.8h-7.2zM353.5 324.7l3.6 5.8h-7.2zM394.6 250.1l3.6 5.8h-7.2zM390.6 306.1l3.6 5.8h-7.2zM446.1 351.5l3.6 5.8h-7.2zM429.4 361.7l3.6 5.8h-7.2zM280.8 296.8l3.6 5.8h-7.2zM482.6 380.2l3.6 5.8h-7.2zM410.3 327.4l3.6 5.8h-7.2zM484.3 330.4l3.6 5.8h-7.2zM469.8 340.7l3.6 5.8h-7.2zM296.4 296.1l3.6 5.8h-7.2zM466.4 284.8l3.6 5.8h-7.2zM372 288.9l3.6 5.8h-7.2zM471.3 336.2l3.6 5.8h-7.2zM386.6 284.8l3.6 5.8h-7.2zM378.5 268.6l3.6 5.8h-7.2zM319.3 286.9l3.6 5.8h-7.2zM346.8 327.5l3.6 5.8h-7.2zM353.7 300.9l3.6 5.8h-7.2zM473.7 356.6l3.6 5.8h-7.2zM410.9 309.3l3.6 5.8h-7.2zM437.4 297.1l3.6 5.8h-7.2zM386.9 311.9l3.6 5.8h-7.2zM522.8 290l3.6 5.8h-7.2zM416.1 292.5l3.6 5.8h-7.2zM433 310l3.6 5.8h-7.2zM544 332.7l3.6 5.8h-7.2zM439.5 333.3l3.6 5.8h-7.2zM372.3 279.8l3.6 5.8h-7.2zM395.1 338l3.6 5.8h-7.2zM508.4 365.7l3.6 5.8h-7.2zM446.4 327.3l3.6 5.8h-7.2zM351.8 277.8l3.6 5.8h-7.2zM511.2 306.1l3.6 5.8h-7.2zM295.8 301.9l3.6 5.8h-7.2zM398.9 354l3.6 5.8h-7.2zM417.8 287.8l3.6 5.8h-7.2zM393.1 307.1l3.6 5.8h-7.2zM368 287.2l3.6 5.8h-7.2zM490.9 342.7l3.6 5.8h-7.2zM474.4 321.7l3.6 5.8h-7.2zM435.9 332.1l3.6 5.8h-7.2zM409 344.3l3.6 5.8h-7.2zM451.4 342.5l3.6 5.8h-7.2zM287.2 333.4l3.6 5.8h-7.2zM494.8 315.9l3.6 5.8h-7.2zM456.4 351.5l3.6 5.8h-7.2zM505.9 316.3l3.6 5.8h-7.2zM435.1 354l3.6 5.8h-7.2zM403.5 327.7l3.6 5.8h-7.2zM386.9 314.5l3.6 5.8h-7.2zM418.7 336.7l3.6 5.8h-7.2zM349.7 336.8l3.6 5.8h-7.2zM445.6 342.6l3.6 5.8h-7.2zM460.5 314.6l3.6 5.8h-7.2zM377.4 330.8l3.6 5.8h-7.2zM385.6 306.8l3.6 5.8h-7.2zM477.1 340.7l3.6 5.8h-7.2zM333.6 298.5l3.6 5.8h-7.2zM455.1 355.6l3.6 5.8h-7.2zM523 351.9l3.6 5.8h-7.2zM411.5 303.4l3.6 5.8h-7.2zM444.7 280.6l3.6 5.8h-7.2zM416.2 275.9l3.6 5.8h-7.2zM481.4 344.5l3.6 5.8h-7.2zM343.7 297.9l3.6 5.8h-7.2zM363.4 310.4l3.6 5.8h-7.2zM493.5 335.6l3.6 5.8h-7.2zM461.5 357.9l3.6 5.8h-7.2zM516.2 359.2l3.6 5.8h-7.2zM380.5 327.3l3.6 5.8h-7.2zM508.9 378l3.6 5.8h-7.2zM457.6 366.4l3.6 5.8h-7.2zM410.3 290.9l3.6 5.8h-7.2zM329.8 252.5l3.6 5.8h-7.2zM453.4 341.7l3.6 5.8h-7.2zM412.7 308.6l3.6 5.8h-7.2zM503.2 372.4l3.6 5.8h-7.2zM428.5 311.6l3.6 5.8h-7.2zM355.6 307.3l3.6 5.8h-7.2zM316.3 304.5l3.6 5.8h-7.2zM412.7 310.7l3.6 5.8h-7.2zM352.6 292.1l3.6 5.8h-7.2zM455.1 326.7l3.6 5.8h-7.2zM353.7 328.7l3.6 5.8h-7.2zM434.4 322l3.6 5.8h-7.2zM361 267.1l3.6 5.8h-7.2zM531.9 358.6l3.6 5.8h-7.2zM380.7 309l3.6 5.8h-7.2zM450.6 365.5l3.6 5.8h-7.2zM415.2 310.9l3.6 5.8h-7.2zM303 271.9l3.6 5.8h-7.2zM463.5 371.1l3.6 5.8h-7.2zM501.3 368.5l3.6 5.8h-7.2zM431.1 356.1l3.6 5.8h-7.2zM457.9 289l3.6 5.8h-7.2zM503.8 337.3l3.6 5.8h-7.2zM459.7 334.3l3.6 5.8h-7.2zM403.1 318.2l3.6 5.8h-7.2zM343.3 297.2l3.6 5.8h-7.2zM350.3 297l3.6 5.8h-7.2zM475.1 365l3.6 5.8h-7.2zM523 337.4l3.6 5.8h-7.2zM415.2 317.1l3.6 5.8h-7.2zM494.8 331.4l3.6 5.8h-7.2zM436.4 340.6l3.6 5.8h-7.2zM316.9 346.8l3.6 5.8h-7.2zM490.9 306.3l3.6 5.8h-7.2zM479.9 290.5l3.6 5.8h-7.2zM508.4 300.7l3.6 5.8h-7.2zM373.2 274.6l3.6 5.8h-7.2zM544.8 328.2l3.6 5.8h-7.2zM389.9 276.4l3.6 5.8h-7.2zM304.3 274.5l3.6 5.8h-7.2zM465.9 342.6l3.6 5.8h-7.2zM479.7 357.1l3.6 5.8h-7.2zM443.8 316.7l3.6 5.8h-7.2zM365.1 271.1l3.6 5.8h-7.2zM467.9 346.1l3.6 5.8h-7.2zM399.5 329.8l3.6 5.8h-7.2zM447.4 336.1l3.6 5.8h-7.2zM452.1 290.9l3.6 5.8h-7.2zM376.5 282.8l3.6 5.8h-7.2zM468 332.3l3.6 5.8h-7.2zM360.3 333.9l3.6 5.8h-7.2zM389.3 302.7l3.6 5.8h-7.2zM412.3 348.7l3.6 5.8h-7.2zM320.1 309l3.6 5.8h-7.2zM385.4 342.4l3.6 5.8h-7.2zM355.7 292.3l3.6 5.8h-7.2zM394 342.8l3.6 5.8h-7.2zM352.9 263.9l3.6 5.8h-7.2zM386.9 279.9l3.6 5.8h-7.2zM433 368.7l3.6 5.8h-7.2zM495 309.6l3.6 5.8h-7.2zM478.2 347.7l3.6 5.8h-7.2zM474.3 288.1l3.6 5.8h-7.2zM508.6 316.9l3.6 5.8h-7.2zM366.9 261l3.6 5.8h-7.2zM470.9 358.6l3.6 5.8h-7.2zM338 342.7l3.6 5.8h-7.2zM451.5 318.1l3.6 5.8h-7.2zM386.9 263.7l3.6 5.8h-7.2zM444.2 310.2l3.6 5.8h-7.2zM374.1 310.7l3.6 5.8h-7.2zM440.7 326l3.6 5.8h-7.2zM373.7 316.3l3.6 5.8h-7.2zM410.3 253.7l3.6 5.8h-7.2zM341.3 292.7l3.6 5.8h-7.2zM474.9 340.1l3.6 5.8h-7.2zM450 357.4l3.6 5.8h-7.2zM413.4 331.7l3.6 5.8h-7.2zM441.5 295.1l3.6 5.8h-7.2zM426.1 338.8l3.6 5.8h-7.2zM530.5 353.9l3.6 5.8h-7.2zM365.8 289.5l3.6 5.8h-7.2zM346.4 345.6l3.6 5.8h-7.2zM377.3 322.9l3.6 5.8h-7.2zM435.3 327.3l3.6 5.8h-7.2zM403.2 307.4l3.6 5.8h-7.2zM465.8 278.7l3.6 5.8h-7.2zM469.8 311.5l3.6 5.8h-7.2zM338.2 301.9l3.6 5.8h-7.2zM340.2 273.1l3.6 5.8h-7.2zM423.3 288.7l3.6 5.8h-7.2zM408.6 307.8l3.6 5.8h-7.2zM455 371.5l3.6 5.8h-7.2zM370.4 313.9l3.6 5.8h-7.2zM408.3 259.9l3.6 5.8h-7.2zM481.5 326.8l3.6 5.8h-7.2zM440.9 328.3l3.6 5.8h-7.2zM452.9 267.7l3.6 5.8h-7.2zM429.4 320.1l3.6 5.8h-7.2zM417 286.9l3.6 5.8h-7.2zM423.8 354.7l3.6 5.8h-7.2zM380.3 329l3.6 5.8h-7.2zM450.7 323.3l3.6 5.8h-7.2zM461.5 343.2l3.6 5.8h-7.2zM378.5 287.7l3.6 5.8h-7.2zM377.1 342.8l3.6 5.8h-7.2zM391.8 339.1l3.6 5.8h-7.2zM329.1 289.3l3.6 5.8h-7.2zM399.1 341.1l3.6 5.8h-7.2zM477.4 285.1l3.6 5.8h-7.2zM326.8 259.7l3.6 5.8h-7.2zM468.6 293.2l3.6 5.8h-7.2zM426.8 328l3.6 5.8h-7.2zM295.4 323.4l3.6 5.8h-7.2zM411.3 329.1l3.6 5.8h-7.2zM390.2 269.8l3.6 5.8h-7.2zM322.9 304.2l3.6 5.8h-7.2zM311.8 285.2l3.6 5.8h-7.2zM522 308.3l3.6 5.8h-7.2zM473 370.1l3.6 5.8h-7.2zM422 350.2l3.6 5.8h-7.2zM422.1 251.3l3.6 5.8h-7.2zM400 330.6l3.6 5.8h-7.2zM298.4 338.1l3.6 5.8h-7.2zM356.2 286.1l3.6 5.8h-7.2zM537.9 322.6l3.6 5.8h-7.2zM418.3 313.8l3.6 5.8h-7.2zM485.8 333.6l3.6 5.8h-7.2zM495.2 365.7l3.6 5.8h-7.2zM462.9 361.8l3.6 5.8h-7.2zM345.3 271.6l3.6 5.8h-7.2zM472.8 361l3.6 5.8h-7.2zM331.7 285.8l3.6 5.8h-7.2zM422.9 314.4l3.6 5.8h-7.2zM478.7 337.9l3.6 5.8h-7.2zM502 369.5l3.6 5.8h-7.2zM404.4 310l3.6 5.8h-7.2zM506.5 356.3l3.6 5.8h-7.2zM538.6 325l3.6 5.8h-7.2zM493.6 291.7l3.6 5.8h-7.2zM411.1 279.5l3.6 5.8h-7.2zM440.4 331.4l3.6 5.8h-7.2zM417 319.7l3.6 5.8h-7.2zM419.7 322.8l3.6 5.8h-7.2zM474.6 289.7l3.6 5.8h-7.2zM504.6 316l3.6 5.8h-7.2zM416.7 318l3.6 5.8h-7.2zM476.4 355.7l3.6 5.8h-7.2zM436.4 338.6l3.6 5.8h-7.2zM428.7 309.7l3.6 5.8h-7.2zM336.5 272.7l3.6 5.8h-7.2zM447 276.7l3.6 5.8h-7.2zM406.7 297.3l3.6 5.8h-7.2zM439.5 359.9l3.6 5.8h-7.2zM497.9 331.5l3.6 5.8h-7.2zM477.2 315.1l3.6 5.8h-7.2zM474.1 340.8l3.6 5.8h-7.2zM383.9 276.4l3.6 5.8h-7.2zM414.1 261.2l3.6 5.8h-7.2zM431.1 255.4l3.6 5.8h-7.2zM525.3 358.5l3.6 5.8h-7.2zM439.7 333.1l3.6 5.8h-7.2zM531.4 327.5l3.6 5.8h-7.2zM382.6 319.6l3.6 5.8h-7.2zM327.4 310.9l3.6 5.8h-7.2zM485.5 310l3.6 5.8h-7.2zM324.1 299.7l3.6 5.8h-7.2zM288 308.6l3.6 5.8h-7.2zM370 256l3.6 5.8h-7.2zM442.4 318.5l3.6 5.8h-7.2zM504.2 342.3l3.6 5.8h-7.2zM415.9 258.1l3.6 5.8h-7.2zM413.4 349.5l3.6 5.8h-7.2zM398.5 349l3.6 5.8h-7.2zM346.9 262.5l3.6 5.8h-7.2zM486.8 334.4l3.6 5.8h-7.2zM457.3 315.6l3.6 5.8h-7.2zM383.1 254.3l3.6 5.8h-7.2zM429.9 312.2l3.6 5.8h-7.2zM393.6 310.1l3.6 5.8h-7.2zM297.2 299l3.6 5.8h-7.2zM384 330.7l3.6 5.8h-7.2zM487.6 377.4l3.6 5.8h-7.2zM392.4 304.6l3.6 5.8h-7.2zM389.8 286.6l3.6 5.8h-7.2zM398.9 315.2l3.6 5.8h-7.2zM426.3 324.3l3.6 5.8h-7.2zM336.4 274.1l3.6 5.8h-7.2zM461 336.3l3.6 5.8h-7.2zM405.9 323.8l3.6 5.8h-7.2zM429.3 354.2l3.6 5.8h-7.2zM453.9 296.7l3.6 5.8h-7.2zM455.5 367.2l3.6 5.8h-7.2zM473.1 325.9l3.6 5.8h-7.2zM339.4 251.1l3.6 5.8h-7.2zM447.3 360l3.6 5.8h-7.2zM284.1 297.7l3.6 5.8h-7.2zM378.5 270l3.6 5.8h-7.2zM441.5 350.7l3.6 5.8h-7.2zM447.1 292l3.6 5.8h-7.2zM437.1 288l3.6 5.8h-7.2zM476.6 330.5l3.6 5.8h-7.2zM363.8 303.5l3.6 5.8h-7.2zM389.6 313l3.6 5.8h-7.2zM342.7 267.4l3.6 5.8h-7.2zM434 350.9l3.6 5.8h-7.2zM454.5 315.3l3.6 5.8h-7.2zM432.7 340.4l3.6 5.8h-7.2zM414.1 282.9l3.6 5.8h-7.2zM410.2 269l3.6 5.8h-7.2zM505.9 309.3l3.6 5.8h-7.2zM335.6 303.1l3.6 5.8h-7.2zM329 335.4l3.6 5.8h-7.2zM517.1 344.1l3.6 5.8h-7.2zM499 329.1l3.6 5.8h-7.2zM477 352.8l3.6 5.8h-7.2zM388.6 281.9l3.6 5.8h-7.2zM462.1 321l3.6 5.8h-7.2zM296.4 313.2l3.6 5.8h-7.2zM317.4 328.3l3.6 5.8h-7.2zM534 336.3l3.6 5.8h-7.2zM308.6 275.3l3.6 5.8h-7.2zM396.7 295.4l3.6 5.8h-7.2zM459.8 337.5l3.6 5.8h-7.2zM434.4 370.3l3.6 5.8h-7.2zM321.8 293l3.6 5.8h-7.2zM361.9 264.6l3.6 5.8h-7.2zM455.7 361.5l3.6 5.8h-7.2zM374.1 339.9l3.6 5.8h-7.2zM397.9 338.3l3.6 5.8h-7.2zM407.4 281l3.6 5.8h-7.2zM507.2 358.8l3.6 5.8h-7.2zM443.6 314.7l3.6 5.8h-7.2zM414 319.7l3.6 5.8h-7.2zM300.2 327.1l3.6 5.8h-7.2zM454.7 269l3.6 5.8h-7.2zM414.4 261.2l3.6 5.8h-7.2zM436.7 275.1l3.6 5.8h-7.2zM364.7 279.8l3.6 5.8h-7.2zM332.5 290.1l3.6 5.8h-7.2zM330.4 303l3.6 5.8h-7.2zM398.9 285.6l3.6 5.8h-7.2zM480.2 370l3.6 5.8h-7.2zM379.5 296.4l3.6 5.8h-7.2zM317.9 313.2l3.6 5.8h-7.2zM339.6 347.7l3.6 5.8h-7.2zM314.4 324.5l3.6 5.8h-7.2zM375 303l3.6 5.8h-7.2zM352.8 315.2l3.6 5.8h-7.2zM376.3 331.9l3.6 5.8h-7.2zM481 298.7l3.6 5.8h-7.2zM522 326.2l3.6 5.8h-7.2zM408.3 348.6l3.6 5.8h-7.2zM427.7 326.2l3.6 5.8h-7.2zM342.4 293.1l3.6 5.8h-7.2zM377.2 317.1l3.6 5.8h-7.2zM444.6 289.5l3.6 5.8h-7.2zM400.5 284.3l3.6 5.8h-7.2zM376.4 328.7l3.6 5.8h-7.2zM447.2 342.3l3.6 5.8h-7.2zM313.8 287.7l3.6 5.8h-7.2zM447 322l3.6 5.8h-7.2zM416.4 330l3.6 5.8h-7.2zM442.1 312.6l3.6 5.8h-7.2zM412.5 348l3.6 5.8h-7.2zM406.1 352.5l3.6 5.8h-7.2zM480.4 343.1l3.6 5.8h-7.2zM428.7 350.3l3.6 5.8h-7.2zM451 293.5l3.6 5.8h-7.2zM404.5 301.1l3.6 5.8h-7.2zM404.7 334.5l3.6 5.8h-7.2zM442.1 253l3.6 5.8h-7.2zM426.3 267.9l3.6 5.8h-7.2zM430.4 326.1l3.6 5.8h-7.2zM444.3 315.3l3.6 5.8h-7.2zM337.7 342.9l3.6 5.8h-7.2zM420.9 332.4l3.6 5.8h-7.2zM513.1 331l3.6 5.8h-7.2zM429.5 272.8l3.6 5.8h-7.2zM409.2 318.4l3.6 5.8h-7.2zM346 260.9l3.6 5.8h-7.2zM414.2 309.5l3.6 5.8h-7.2zM356.1 275.9l3.6 5.8h-7.2zM496.4 378.6l3.6 5.8h-7.2zM458.1 304.8l3.6 5.8h-7.2zM389.9 308.2l3.6 5.8h-7.2zM505.3 385.6l3.6 5.8h-7.2zM344.2 280.1l3.6 5.8h-7.2zM472.5 280.4l3.6 5.8h-7.2zM321.7 304.7l3.6 5.8h-7.2zM353.3 296.9l3.6 5.8h-7.2zM394.3 315.9l3.6 5.8h-7.2zM361.5 326.6l3.6 5.8h-7.2zM429.4 338.9l3.6 5.8h-7.2zM404 317.6l3.6 5.8h-7.2zM451.7 357.2l3.6 5.8h-7.2zM407.4 327.2l3.6 5.8h-7.2zM378.1 272.1l3.6 5.8h-7.2zM443.3 313.9l3.6 5.8h-7.2zM440.3 348.4l3.6 5.8h-7.2zM468.5 357.9l3.6 5.8h-7.2zM440.1 307.4l3.6 5.8h-7.2zM381.3 350.4l3.6 5.8h-7.2zM407.3 345.2l3.6 5.8h-7.2zM391.5 302.3l3.6 5.8h-7.2zM417.7 357l3.6 5.8h-7.2zM538.4 348.1l3.6 5.8h-7.2zM463.4 342.3l3.6 5.8h-7.2zM467 356.2l3.6 5.8h-7.2zM342.4 284.2l3.6 5.8h-7.2zM341.1 287.4l3.6 5.8h-7.2zM456.7 377.2l3.6 5.8h-7.2zM432.4 316.6l3.6 5.8h-7.2zM334.1 263.2l3.6 5.8h-7.2zM483.5 371.4l3.6 5.8h-7.2zM426.8 302.9l3.6 5.8h-7.2zM373.6 306.1l3.6 5.8h-7.2zM404.9 290.9l3.6 5.8h-7.2zM368.5 259.5l3.6 5.8h-7.2zM435.4 302.7l3.6 5.8h-7.2zM355.5 292.1l3.6 5.8h-7.2zM354 345.2l3.6 5.8h-7.2zM440 314.8l3.6 5.8h-7.2zM360.6 338.5l3.6 5.8h-7.2zM330.1 275.4l3.6 5.8h-7.2zM434.2 320.5l3.6 5.8h-7.2zM499.1 324.5l3.6 5.8h-7.2zM380.8 306.3l3.6 5.8h-7.2zM530.6 350.5l3.6 5.8h-7.2zM349.4 310.9l3.6 5.8h-7.2zM524.2 359.6l3.6 5.8h-7.2zM465.8 335.3l3.6 5.8h-7.2zM453.2 276.9l3.6 5.8h-7.2zM393.6 317.5l3.6 5.8h-7.2zM397.3 305l3.6 5.8h-7.2zM353.4 320.7l3.6 5.8h-7.2zM412.7 296l3.6 5.8h-7.2zM359.5 309.5l3.6 5.8h-7.2zM422 287.5l3.6 5.8h-7.2zM495.3 350.1l3.6 5.8h-7.2zM464.3 305.7l3.6 5.8h-7.2zM340.3 297.9l3.6 5.8h-7.2zM396.5 367.1l3.6 5.8h-7.2zM488.5 317.9l3.6 5.8h-7.2zM476.4 337.3l3.6 5.8h-7.2zM510.7 375.5l3.6 5.8h-7.2zM460.1 343l3.6 5.8h-7.2zM467 340l3.6 5.8h-7.2zM534.3 314.2l3.6 5.8h-7.2zM413.6 344.4l3.6 5.8h-7.2zM489.3 328.3l3.6 5.8h-7.2zM393.3 306.5l3.6 5.8h-7.2zM462 288.3l3.6 5.8h-7.2zM323.2 309.1l3.6 5.8h-7.2zM367.6 295.8l3.6 5.8h-7.2zM416.2 338.6l3.6 5.8h-7.2zM421.3 311.1l3.6 5.8h-7.2zM387.1 281.8l3.6 5.8h-7.2zM418.8 278l3.6 5.8h-7.2zM520.6 321.5l3.6 5.8h-7.2zM291.3 319.4l3.6 5.8h-7.2zM393.9 261.6l3.6 5.8h-7.2zM373.8 320.4l3.6 5.8h-7.2zM418.9 279.8l3.6 5.8h-7.2zM527.4 297.3l3.6 5.8h-7.2zM309 286.6l3.6 5.8h-7.2zM547.1 306.8l3.6 5.8h-7.2zM380.4 321.5l3.6 5.8h-7.2zM516.2 292.4l3.6 5.8h-7.2zM345.8 318.1l3.6 5.8h-7.2zM434.9 273.8l3.6 5.8h-7.2zM370.2 334.4l3.6 5.8h-7.2zM487.5 319.4l3.6 5.8h-7.2zM283.8 275.1l3.6 5.8h-7.2zM451.7 328.1l3.6 5.8h-7.2zM419.9 292.4l3.6 5.8h-7.2zM396.9 356.3l3.6 5.8h-7.2zM317.4 311l3.6 5.8h-7.2zM534.8 333.5l3.6 5.8h-7.2zM466.8 268.1l3.6 5.8h-7.2zM409.9 315.9l3.6 5.8h-7.2zM380.9 283.1l3.6 5.8h-7.2zM497.8 345l3.6 5.8h-7.2zM349.5 282.1l3.6 5.8h-7.2zM428.7 354.2l3.6 5.8h-7.2zM501.9 390.6l3.6 5.8h-7.2zM511.9 316l3.6 5.8h-7.2zM475.2 353.9l3.6 5.8h-7.2zM447.8 332.8l3.6 5.8h-7.2zM366.4 268l3.6 5.8h-7.2zM403.2 282.7l3.6 5.8h-7.2zM415.6 308.3l3.6 5.8h-7.2zM469 357.2l3.6 5.8h-7.2zM384.2 289.6l3.6 5.8h-7.2zM525.9 371l3.6 5.8h-7.2zM286 330.5l3.6 5.8h-7.2zM311.4 280.8l3.6 5.8h-7.2zM375.1 337.9l3.6 5.8h-7.2zM441.7 365l3.6 5.8h-7.2zM373.8 351.2l3.6 5.8h-7.2zM423.3 328l3.6 5.8h-7.2zM368.5 364.4l3.6 5.8h-7.2zM330.1 277.1l3.6 5.8h-7.2zM427.5 330l3.6 5.8h-7.2zM310.7 311.1l3.6 5.8h-7.2zM286.1 287.7l3.6 5.8h-7.2zM444.7 361l3.6 5.8h-7.2zM500.6 287.6l3.6 5.8h-7.2zM283.4 333.6l3.6 5.8h-7.2zM362.3 252l3.6 5.8h-7.2zM396.4 318.7l3.6 5.8h-7.2zM458.5 314.9l3.6 5.8h-7.2zM322.9 301.7l3.6 5.8h-7.2zM371.7 305.5l3.6 5.8h-7.2zM386.6 343.9l3.6 5.8h-7.2zM517.6 323.3l3.6 5.8h-7.2zM407.7 352.1l3.6 5.8h-7.2zM419 316.9l3.6 5.8h-7.2zM434.2 326.1l3.6 5.8h-7.2zM445.4 352l3.6 5.8h-7.2zM409.9 339.1l3.6 5.8h-7.2zM372.9 286.6l3.6 5.8h-7.2zM383.6 311.9l3.6 5.8h-7.2zM473.3 325.4l3.6 5.8h-7.2zM361.1 274.5l3.6 5.8h-7.2zM326.2 285.8l3.6 5.8h-7.2zM409.7 334.4l3.6 5.8h-7.2zM412.9 341.5l3.6 5.8h-7.2zM530.8 357.8l3.6 5.8h-7.2zM371 330.4l3.6 5.8h-7.2zM338.1 282.1l3.6 5.8h-7.2zM381.3 269.6l3.6 5.8h-7.2zM455.9 306.3l3.6 5.8h-7.2zM453.7 323.8l3.6 5.8h-7.2zM322.9 279.1l3.6 5.8h-7.2zM308.8 286.7l3.6 5.8h-7.2zM349.8 274.8l3.6 5.8h-7.2zM504.5 314.1l3.6 5.8h-7.2zM342.4 303.7l3.6 5.8h-7.2zM443.7 281.8l3.6 5.8h-7.2zM454.7 350.2l3.6 5.8h-7.2zM383.8 306.8l3.6 5.8h-7.2zM279 288.4l3.6 5.8h-7.2zM500.4 344.5l3.6 5.8h-7.2zM305.7 284.4l3.6 5.8h-7.2zM409.1 289.3l3.6 5.8h-7.2zM546.6 358.4l3.6 5.8h-7.2zM418.2 316.9l3.6 5.8h-7.2zM309.3 274.1l3.6 5.8h-7.2zM455.4 320.1l3.6 5.8h-7.2zM354.8 342.6l3.6 5.8h-7.2zM323.8 330.6l3.6 5.8h-7.2zM446.5 296.7l3.6 5.8h-7.2zM471.1 370.5l3.6 5.8h-7.2zM448 367.7l3.6 5.8h-7.2zM414.7 280l3.6 5.8h-7.2zM408.4 361.8l3.6 5.8h-7.2zM427.5 341.8l3.6 5.8h-7.2zM353.4 296.3l3.6 5.8h-7.2zM490.7 354.4l3.6 5.8h-7.2zM314.7 293.7l3.6 5.8h-7.2zM415.9 359.5l3.6 5.8h-7.2zM476.2 313.4l3.6 5.8h-7.2zM491.5 280l3.6 5.8h-7.2zM485 294.5l3.6 5.8h-7.2zM405 327l3.6 5.8h-7.2zM400.8 307.8l3.6 5.8h-7.2zM376.9 330.7l3.6 5.8h-7.2zM310.7 316l3.6 5.8h-7.2zM433.4 293.9l3.6 5.8h-7.2zM434.8 335.5l3.6 5.8h-7.2zM484.5 292.2l3.6 5.8h-7.2zM413.4 274.8l3.6 5.8h-7.2zM458.6 293l3.6 5.8h-7.2zM464.8 376.2l3.6 5.8h-7.2zM465.8 350.6l3.6 5.8h-7.2zM344.1 278.8l3.6 5.8h-7.2zM356.1 285.4l3.6 5.8h-7.2zM448 373l3.6 5.8h-7.2zM387.6 240.2l3.6 5.8h-7.2zM439.2 315.4l3.6 5.8h-7.2zM533.5 333.2l3.6 5.8h-7.2zM403.1 283.6l3.6 5.8h-7.2zM505.9 346.9l3.6 5.8h-7.2zM337.6 332l3.6 5.8h-7.2zM388.1 312.4l3.6 5.8h-7.2zM493.2 352.4l3.6 5.8h-7.2zM533.6 333.7l3.6 5.8h-7.2zM291.2 299.4l3.6 5.8h-7.2zM403.5 327.5l3.6 5.8h-7.2zM544.9 361.4l3.6 5.8h-7.2zM450.5 359.1l3.6 5.8h-7.2zM334.1 348.9l3.6 5.8h-7.2zM361.1 321.5l3.6 5.8h-7.2zM542.8 317.3l3.6 5.8h-7.2zM308.7 286.8l3.6 5.8h-7.2zM424.6 325.2l3.6 5.8h-7.2zM410.4 306.2l3.6 5.8h-7.2zM484.9 327.1l3.6 5.8h-7.2zM465.9 332.7l3.6 5.8h-7.2zM499.7 391.9l3.6 5.8h-7.2zM320.3 299.3l3.6 5.8h-7.2zM487.4 363.2l3.6 5.8h-7.2zM527.1 287.2l3.6 5.8h-7.2zM490.3 296.1l3.6 5.8h-7.2zM416.3 264.4l3.6 5.8h-7.2zM443.8 257.6l3.6 5.8h-7.2zM476.6 283.7l3.6 5.8h-7.2zM385.9 330.3l3.6 5.8h-7.2zM436.8 264.2l3.6 5.8h-7.2zM360.8 325.2l3.6 5.8h-7.2zM348.3 343.8l3.6 5.8h-7.2zM343.9 317.1l3.6 5.8h-7.2zM381 331.6l3.6 5.8h-7.2zM315.4 277.4l3.6 5.8h-7.2zM375.6 354.9l3.6 5.8h-7.2zM324.5 289.9l3.6 5.8h-7.2zM438.6 326.8l3.6 5.8h-7.2zM413.4 282l3.6 5.8h-7.2zM373.8 251.6l3.6 5.8h-7.2zM399.8 322.4l3.6 5.8h-7.2zM420.3 281.4l3.6 5.8h-7.2zM361 341.8l3.6 5.8h-7.2zM420.2 349.1l3.6 5.8h-7.2zM433.6 321l3.6 5.8h-7.2zM348.3 276.3l3.6 5.8h-7.2zM451.8 333.5l3.6 5.8h-7.2zM354.7 325.2l3.6 5.8h-7.2zM484.7 283.9l3.6 5.8h-7.2zM330 279.9l3.6 5.8h-7.2zM404.3 324.4l3.6 5.8h-7.2zM412.9 361.1l3.6 5.8h-7.2zM542.8 304.3l3.6 5.8h-7.2zM363.3 363.1l3.6 5.8h-7.2zM356.8 272.2l3.6 5.8h-7.2zM501 318.7l3.6 5.8h-7.2zM419.2 334.2l3.6 5.8h-7.2zM331.2 281.4l3.6 5.8h-7.2zM439.5 272.7l3.6 5.8h-7.2zM387.1 359l3.6 5.8h-7.2zM375.2 299l3.6 5.8h-7.2zM464 323.7l3.6 5.8h-7.2zM486.1 291.7l3.6 5.8h-7.2zM349.2 265.3l3.6 5.8h-7.2zM362.2 287.3l3.6 5.8h-7.2zM340.6 297.3l3.6 5.8h-7.2zM378.2 301.2l3.6 5.8h-7.2zM377.4 336.8l3.6 5.8h-7.2zM405.2 363.2l3.6 5.8h-7.2zM286.2 328.6l3.6 5.8h-7.2zM516.6 332l3.6 5.8h-7.2zM496.9 282.2l3.6 5.8h-7.2zM470 331.1l3.6 5.8h-7.2zM295 317.1l3.6 5.8h-7.2zM402.7 290.2l3.6 5.8h-7.2zM388.3 353.7l3.6 5.8h-7.2zM434 352.2l3.6 5.8h-7.2zM524.9 290.2l3.6 5.8h-7.2zM303.1 302.5l3.6 5.8h-7.2zM355.7 341.4l3.6 5.8h-7.2zM382.9 334.1l3.6 5.8h-7.2zM499.4 332.9l3.6 5.8h-7.2zM534 363.8l3.6 5.8h-7.2zM277.2 319.4l3.6 5.8h-7.2zM360 362.9l3.6 5.8h-7.2zM333 328.7l3.6 5.8h-7.2zM479.6 389.7l3.6 5.8h-7.2zM517.9 325.9l3.6 5.8h-7.2zM392.3 288l3.6 5.8h-7.2zM477 370.1l3.6 5.8h-7.2zM349.9 286.2l3.6 5.8h-7.2zM504.3 334.5l3.6 5.8h-7.2zM449.8 356.7l3.6 5.8h-7.2zM349.2 276.3l3.6 5.8h-7.2zM435.1 314.2l3.6 5.8h-7.2zM457.7 334.9l3.6 5.8h-7.2zM473.4 356.7l3.6 5.8h-7.2zM437 375.2l3.6 5.8h-7.2zM310.1 302.9l3.6 5.8h-7.2zM290.1 329.4l3.6 5.8h-7.2zM498.5 302.7l3.6 5.8h-7.2zM521.8 286.3l3.6 5.8h-7.2zM489.7 306.8l3.6 5.8h-7.2zM469.2 287.9l3.6 5.8h-7.2zM346.4 300l3.6 5.8h-7.2zM470.2 366.1l3.6 5.8h-7.2zM288 276.1l3.6 5.8h-7.2zM330.1 290.5l3.6 5.8h-7.2zM505.1 336.9l3.6 5.8h-7.2zM433.5 325.9l3.6 5.8h-7.2zM364.9 351.3l3.6 5.8h-7.2zM382.6 290.5l3.6 5.8h-7.2zM357.9 279.9l3.6 5.8h-7.2zM389.9 352.3l3.6 5.8h-7.2zM378.1 270.8l3.6 5.8h-7.2zM543.3 352.4l3.6 5.8h-7.2zM411.5 358.8l3.6 5.8h-7.2zM501 285.4l3.6 5.8h-7.2zM344.1 302.8l3.6 5.8h-7.2zM359.9 298.7l3.6 5.8h-7.2zM440.6 377.3l3.6 5.8h-7.2zM300.9 290.1l3.6 5.8h-7.2zM333 303.6l3.6 5.8h-7.2zM448.9 307.5l3.6 5.8h-7.2zM418.2 362.3l3.6 5.8h-7.2zM551.1 336.1l3.6 5.8h-7.2zM443.6 363.3l3.6 5.8h-7.2zM467.5 298.6l3.6 5.8h-7.2zM408.2 319l3.6 5.8h-7.2zM276.1 320.2l3.6 5.8h-7.2zM338.7 322.3l3.6 5.8h-7.2zM420.1 361.3l3.6 5.8h-7.2zM391.4 318.8l3.6 5.8h-7.2zM461.9 334.2l3.6 5.8h-7.2zM524.5 384.5l3.6 5.8h-7.2zM497.9 334.1l3.6 5.8h-7.2zM283 334.3l3.6 5.8h-7.2zM473.7 339.3l3.6 5.8h-7.2zM373.9 348.2l3.6 5.8h-7.2zM369.9 347.1l3.6 5.8h-7.2zM421.3 313.5l3.6 5.8h-7.2zM312.4 291.6l3.6 5.8h-7.2zM359.4 343.7l3.6 5.8h-7.2zM352.1 276.1l3.6 5.8h-7.2zM395.8 290.9l3.6 5.8h-7.2zM377.3 294.8l3.6 5.8h-7.2zM405.6 308.1l3.6 5.8h-7.2zM413.2 294.1l3.6 5.8h-7.2zM492.4 344.8l3.6 5.8h-7.2zM383.1 277.7l3.6 5.8h-7.2zM341.5 339.2l3.6 5.8h-7.2zM400.9 354.1l3.6 5.8h-7.2zM482.9 344.6l3.6 5.8h-7.2zM476.1 356.2l3.6 5.8h-7.2zM421.4 337.4l3.6 5.8h-7.2zM499.2 369.6l3.6 5.8h-7.2zM481.8 327.5l3.6 5.8h-7.2zM395.7 364.8l3.6 5.8h-7.2zM335 331.3l3.6 5.8h-7.2zM369.2 270.9l3.6 5.8h-7.2zM453.9 333.3l3.6 5.8h-7.2zM342.2 327.1l3.6 5.8h-7.2zM487.8 332.7l3.6 5.8h-7.2zM404.1 302.3l3.6 5.8h-7.2zM338.5 333l3.6 5.8h-7.2zM410.7 262.6l3.6 5.8h-7.2zM399.5 332.1l3.6 5.8h-7.2zM303 336.3l3.6 5.8h-7.2zM460.2 287.8l3.6 5.8h-7.2zM333.1 313.9l3.6 5.8h-7.2zM385.5 349.2l3.6 5.8h-7.2zM507.5 310.7l3.6 5.8h-7.2zM374.1 360.9l3.6 5.8h-7.2zM457.1 365.8l3.6 5.8h-7.2zM377.3 322.5l3.6 5.8h-7.2zM322.5 282l3.6 5.8h-7.2zM280.6 298.7l3.6 5.8h-7.2zM501.2 298.3l3.6 5.8h-7.2zM428 351.1l3.6 5.8h-7.2zM417.6 296.7l3.6 5.8h-7.2zM366.4 310.4l3.6 5.8h-7.2zM374.4 289.3l3.6 5.8h-7.2zM428.4 299.4l3.6 5.8h-7.2zM497.4 337.8l3.6 5.8h-7.2zM416.1 274.5l3.6 5.8h-7.2zM491.7 287.5l3.6 5.8h-7.2zM430.1 333l3.6 5.8h-7.2zM375.4 344.9l3.6 5.8h-7.2zM535.9 311.8l3.6 5.8h-7.2zM350.1 309.6l3.6 5.8h-7.2zM345.2 319.7l3.6 5.8h-7.2zM424.8 358.3l3.6 5.8h-7.2zM424.7 317.5l3.6 5.8h-7.2zM365.5 350.4l3.6 5.8h-7.2zM421.4 346.4l3.6 5.8h-7.2zM479.4 320.7l3.6 5.8h-7.2zM418.1 356.6l3.6 5.8h-7.2zM328.4 319.6l3.6 5.8h-7.2zM503.3 336.9l3.6 5.8h-7.2zM400.9 323.4l3.6 5.8h-7.2zM358.6 348.9l3.6 5.8h-7.2zM383.9 300.8l3.6 5.8h-7.2zM412.6 351.7l3.6 5.8h-7.2zM457.9 308.2l3.6 5.8h-7.2zM420.9 364.7l3.6 5.8h-7.2zM309.5 293.8l3.6 5.8h-7.2zM289.8 318l3.6 5.8h-7.2zM531.8 357.8l3.6 5.8h-7.2zM480.2 324.4l3.6 5.8h-7.2zM438.9 277.7l3.6 5.8h-7.2zM326.5 353l3.6 5.8h-7.2zM429 335.6l3.6 5.8h-7.2zM374.7 333.8l3.6 5.8h-7.2zM318.9 281.3l3.6 5.8h-7.2zM446.1 353.7l3.6 5.8h-7.2zM392.3 256.3l3.6 5.8h-7.2zM268.5 331.8l3.6 5.8h-7.2zM428.7 319.6l3.6 5.8h-7.2zM501 287.3l3.6 5.8h-7.2zM283.7 307.5l3.6 5.8h-7.2zM460.3 345.1l3.6 5.8h-7.2zM375.5 331.5l3.6 5.8h-7.2zM443.1 336.1l3.6 5.8h-7.2zM474.6 281.6l3.6 5.8h-7.2zM478.2 335.5l3.6 5.8h-7.2zM550.3 352.9l3.6 5.8h-7.2zM458.9 308.9l3.6 5.8h-7.2zM482 330.7l3.6 5.8h-7.2zM525.9 318.5l3.6 5.8h-7.2zM386.1 324.5l3.6 5.8h-7.2zM350.9 329.7l3.6 5.8h-7.2zM419.3 275l3.6 5.8h-7.2zM327.1 284.2l3.6 5.8h-7.2zM331.9 347.1l3.6 5.8h-7.2zM400.6 367.1l3.6 5.8h-7.2zM433.1 302.5l3.6 5.8h-7.2zM476 293.2l3.6 5.8h-7.2zM433.6 293.5l3.6 5.8h-7.2zM338.4 286.6l3.6 5.8h-7.2zM456.4 367.2l3.6 5.8h-7.2z"/>
<path d="M189.3 626.7v6M293.3 626.7v6M397.3 626.7v6M501.3 626.7v6M605.3 626.7v6M139.6 184.35h-6M139.6 324.7h-6M139.6 465.05h-6M139.6 605.4h-6M139.6 75.6h-6M139.6 63.9h-6M139.6 52.2h-6M139.6 40.5h-6M139.6 28.8h-6M656 626.7v6M665.85 626.7v6M675.7 626.7v6M685.55 626.7v6M695.4 626.7v6" stroke="#333333" stroke-width="2.3" fill="none"/>
<g font-family='"Liberation Sans", Arial, sans-serif' font-size="26.4" fill="#4D4D4D">
<g text-anchor="middle">
<text x="189.3" y="657.1">-10</text>
<text x="293.3" y="657.1">-5</text>
<text x="397.3" y="657.1">0</text>
<text x="501.3" y="657.1">5</text>
<text x="605.3" y="657.1">10</text>
<text x="656" y="657.1">0.00</text>
<text x="665.85" y="657.1">0.05</text>
<text x="675.7" y="657.1">0.10</text>
<text x="685.55" y="657.1">0.15</text>
<text x="695.4" y="657.1">0.20</text>
</g><g text-anchor="end">
<text x="128.2" y="192.95">5</text>
<text x="128.2" y="333.3">0</text>
<text x="128.2" y="473.65">-5</text>
<text x="128.2" y="614">-10</text>
<text x="128.2" y="84.2">0.000</text>
<text x="128.2" y="72.5">0.025</text>
<text x="128.2" y="60.8">0.050</text>
<text x="128.2" y="49.1">0.075</text>
<text x="128.2" y="37.4">0.100</text>
</g></g>
<g font-family='"Liberation Sans", Arial, sans-serif' font-size="33.2" fill="#000">
<text x="422.25" y="693.3" text-anchor="middle">C<tspan font-size="23.2" dy="5.6">1</tspan><tspan dy="-5.6">&#160;&#160;( 53 % of the variance)</tspan></text>
<text transform="translate(43.7 325.3) rotate(-90)" text-anchor="middle">C<tspan font-size="23.2" dy="5.6">2</tspan><tspan dy="-5.6">&#160;&#160;( 22 % of the variance)</tspan></text>
<text x="741.3" y="293.1">Legend</text>
</g>
<text x="723.2" y="113.6" font-family='"Liberation Sans", Arial, sans-serif' font-size="40" fill="#000">(a)</text>
<rect x="742.5" y="309.8" width="35.1" height="35.1" fill="#EBEBEB" stroke="#0000FF" stroke-width="2.4"/>
<circle cx="760.05" cy="327.35" r="5.4" fill="#0000FF"/>
<text x="791.5" y="337.95" font-family='"Liberation Sans", Arial, sans-serif' font-size="28.6" fill="#000">data</text>
<rect x="742.5" y="348.5" width="35.1" height="35.1" fill="#EBEBEB" stroke="#FFA500" stroke-width="2.4"/>
<path fill="#FFA500" d="M760.05 362.15l3.7 6h-7.4z"/>
<text x="791.5" y="376.65" font-family='"Liberation Sans", Arial, sans-serif' font-size="28.6" fill="#000">simulations</text>
</g>
<g id="panel-b">
<rect x="1078.4" y="82.6" width="509.4" height="544.1" fill="#EBEBEB"/>
<rect x="1078.4" y="23.9" width="509.4" height="53.9" fill="#EBEBEB"/>
<rect x="1592.2" y="82.6" width="50.6" height="544.1" fill="#EBEBEB"/>
<path d="M1164.17 82.6V626.7M1295.53 82.6V626.7M1426.88 82.6V626.7M1558.23 82.6V626.7" stroke="#fff" stroke-width="1.1" fill="none"/>
<path d="M1078.4 143.5H1587.8M1078.4 285.5H1587.8M1078.4 427.5H1587.8M1078.4 569.5H1587.8" stroke="#fff" stroke-width="1.1" fill="none"/>
<path d="M1098.5 82.6V626.7M1229.85 82.6V626.7M1361.2 82.6V626.7M1492.55 82.6V626.7" stroke="#fff" stroke-width="2.2" fill="none"/>
<path d="M1078.4 214.5H1587.8M1078.4 356.5H1587.8M1078.4 498.5H1587.8" stroke="#fff" stroke-width="2.2" fill="none"/>
<path d="M1164.17 23.9V77.8M1295.53 23.9V77.8M1426.88 23.9V77.8M1558.23 23.9V77.8" stroke="#fff" stroke-width="1.1" fill="none"/>
<path d="M1078.4 70.29H1587.8M1078.4 59.86H1587.8M1078.4 49.44H1587.8M1078.4 39.01H1587.8M1078.4 28.59H1587.8" stroke="#fff" stroke-width="1.1" fill="none"/>
<path d="M1098.5 23.9V77.8M1229.85 23.9V77.8M1361.2 23.9V77.8M1492.55 23.9V77.8" stroke="#fff" stroke-width="2.2" fill="none"/>
<path d="M1078.4 75.5H1587.8M1078.4 65.08H1587.8M1078.4 54.65H1587.8M1078.4 44.23H1587.8M1078.4 33.8H1587.8" stroke="#fff" stroke-width="2.2" fill="none"/>
<path d="M1600.36 82.6V626.7M1612.08 82.6V626.7M1623.8 82.6V626.7M1635.52 82.6V626.7" stroke="#fff" stroke-width="1.1" fill="none"/>
<path d="M1592.2 143.5H1642.8M1592.2 285.5H1642.8M1592.2 427.5H1642.8M1592.2 569.5H1642.8" stroke="#fff" stroke-width="1.1" fill="none"/>
<path d="M1594.5 82.6V626.7M1606.22 82.6V626.7M1617.94 82.6V626.7M1629.66 82.6V626.7M1641.38 82.6V626.7" stroke="#fff" stroke-width="2.2" fill="none"/>
<path d="M1592.2 214.5H1642.8M1592.2 356.5H1642.8M1592.2 498.5H1642.8" stroke="#fff" stroke-width="2.2" fill="none"/>
<polygon points="1101.68,75.5 1101.68,73.12 1103.47,73.15 1105.26,73.2 1107.04,73.26 1108.83,73.34 1110.62,73.44 1112.41,73.55 1114.2,73.7 1115.98,73.87 1117.77,74.06 1119.56,74.25 1121.35,74.44 1123.14,74.6 1124.92,74.73 1126.71,74.83 1128.5,74.88 1130.29,74.91 1132.08,74.93 1133.86,74.93 1135.65,74.91 1137.44,74.88 1139.23,74.82 1141.01,74.72 1142.8,74.59 1144.59,74.42 1146.38,74.22 1148.17,74.01 1149.95,73.79 1151.74,73.56 1153.53,73.32 1155.32,73.09 1157.11,72.84 1158.89,72.6 1160.68,72.36 1162.47,72.13 1164.26,71.89 1166.05,71.67 1167.83,71.47 1169.62,71.28 1171.41,71.12 1173.2,70.99 1174.99,70.88 1176.77,70.81 1178.56,70.76 1180.35,70.75 1182.14,70.76 1183.93,70.81 1185.71,70.88 1187.5,70.96 1189.29,71.04 1191.08,71.11 1192.86,71.15 1194.65,71.16 1196.44,71.16 1198.23,71.13 1200.02,71.1 1201.8,71.05 1203.59,70.99 1205.38,70.92 1207.17,70.83 1208.96,70.73 1210.74,70.62 1212.53,70.5 1214.32,70.37 1216.11,70.23 1217.9,70.09 1219.68,69.94 1221.47,69.8 1223.26,69.66 1225.05,69.53 1226.84,69.43 1228.62,69.34 1230.41,69.29 1232.2,69.26 1233.99,69.24 1235.77,69.23 1237.56,69.24 1239.35,69.24 1241.14,69.26 1242.93,69.28 1244.71,69.32 1246.5,69.36 1248.29,69.4 1250.08,69.43 1251.87,69.45 1253.65,69.44 1255.44,69.41 1257.23,69.36 1259.02,69.26 1260.81,69.13 1262.59,68.94 1264.38,68.71 1266.17,68.44 1267.96,68.13 1269.75,67.8 1271.53,67.45 1273.32,67.1 1275.11,66.76 1276.9,66.43 1278.68,66.13 1280.47,65.86 1282.26,65.61 1284.05,65.4 1285.84,65.22 1287.62,65.06 1289.41,64.92 1291.2,64.79 1292.99,64.68 1294.78,64.57 1296.56,64.45 1298.35,64.29 1300.14,64.08 1301.93,63.78 1303.72,63.37 1305.5,62.87 1307.29,62.29 1309.08,61.67 1310.87,61.03 1312.66,60.38 1314.44,59.71 1316.23,59.03 1318.02,58.3 1319.81,57.51 1321.59,56.65 1323.38,55.7 1325.17,54.66 1326.96,53.53 1328.75,52.33 1330.53,51.06 1332.32,49.74 1334.11,48.4 1335.9,47.06 1337.69,45.75 1339.47,44.48 1341.26,43.28 1343.05,42.15 1344.84,41.09 1346.63,40.11 1348.41,39.18 1350.2,38.28 1351.99,37.4 1353.78,36.5 1355.57,35.57 1357.35,34.64 1359.14,33.71 1360.93,32.84 1362.72,32.05 1364.5,31.38 1366.29,30.84 1368.08,30.47 1369.87,30.24 1371.66,30.14 1373.44,30.16 1375.23,30.3 1377.02,30.56 1378.81,30.96 1380.6,31.49 1382.38,32.14 1384.17,32.88 1385.96,33.72 1387.75,34.64 1389.54,35.63 1391.32,36.68 1393.11,37.8 1394.9,38.97 1396.69,40.18 1398.48,41.42 1400.26,42.68 1402.05,43.95 1403.84,45.22 1405.63,46.48 1407.41,47.73 1409.2,48.96 1410.99,50.16 1412.78,51.34 1414.57,52.48 1416.35,53.6 1418.14,54.67 1419.93,55.71 1421.72,56.71 1423.51,57.66 1425.29,58.56 1427.08,59.41 1428.87,60.2 1430.66,60.94 1432.45,61.61 1434.23,62.23 1436.02,62.79 1437.81,63.3 1439.6,63.76 1441.39,64.19 1443.17,64.58 1444.96,64.94 1446.75,65.28 1448.54,65.6 1450.32,65.9 1452.11,66.18 1453.9,66.45 1455.69,66.7 1457.48,66.93 1459.26,67.15 1461.05,67.35 1462.84,67.55 1464.63,67.73 1466.42,67.91 1468.2,68.08 1469.99,68.26 1471.78,68.44 1473.57,68.62 1475.36,68.81 1477.14,69 1478.93,69.2 1480.72,69.4 1482.51,69.6 1484.3,69.79 1486.08,69.98 1487.87,70.17 1489.66,70.35 1491.45,70.53 1493.23,70.69 1495.02,70.86 1496.81,71.02 1498.6,71.18 1500.39,71.33 1502.17,71.48 1503.96,71.63 1505.75,71.76 1507.54,71.89 1509.33,72.01 1511.11,72.12 1512.9,72.22 1514.69,72.31 1516.48,72.38 1518.27,72.45 1520.05,72.51 1521.84,72.57 1523.63,72.62 1525.42,72.67 1527.21,72.71 1528.99,72.76 1530.78,72.8 1532.57,72.84 1534.36,72.88 1536.14,72.92 1537.93,72.96 1539.72,73 1541.51,73.04 1543.3,73.08 1545.08,73.12 1546.87,73.16 1548.66,73.2 1550.45,73.24 1552.24,73.27 1554.02,73.31 1555.81,73.34 1557.6,73.38 1559.39,73.41 1561.18,73.44 1562.96,73.46 1564.75,73.48 1564.75,75.5" fill="#0000FF" fill-opacity="0.5"/>
<polyline points="1101.68,73.12 1103.47,73.15 1105.26,73.2 1107.04,73.26 1108.83,73.34 1110.62,73.44 1112.41,73.55 1114.2,73.7 1115.98,73.87 1117.77,74.06 1119.56,74.25 1121.35,74.44 1123.14,74.6 1124.92,74.73 1126.71,74.83 1128.5,74.88 1130.29,74.91 1132.08,74.93 1133.86,74.93 1135.65,74.91 1137.44,74.88 1139.23,74.82 1141.01,74.72 1142.8,74.59 1144.59,74.42 1146.38,74.22 1148.17,74.01 1149.95,73.79 1151.74,73.56 1153.53,73.32 1155.32,73.09 1157.11,72.84 1158.89,72.6 1160.68,72.36 1162.47,72.13 1164.26,71.89 1166.05,71.67 1167.83,71.47 1169.62,71.28 1171.41,71.12 1173.2,70.99 1174.99,70.88 1176.77,70.81 1178.56,70.76 1180.35,70.75 1182.14,70.76 1183.93,70.81 1185.71,70.88 1187.5,70.96 1189.29,71.04 1191.08,71.11 1192.86,71.15 1194.65,71.16 1196.44,71.16 1198.23,71.13 1200.02,71.1 1201.8,71.05 1203.59,70.99 1205.38,70.92 1207.17,70.83 1208.96,70.73 1210.74,70.62 1212.53,70.5 1214.32,70.37 1216.11,70.23 1217.9,70.09 1219.68,69.94 1221.47,69.8 1223.26,69.66 1225.05,69.53 1226.84,69.43 1228.62,69.34 1230.41,69.29 1232.2,69.26 1233.99,69.24 1235.77,69.23 1237.56,69.24 1239.35,69.24 1241.14,69.26 1242.93,69.28 1244.71,69.32 1246.5,69.36 1248.29,69.4 1250.08,69.43 1251.87,69.45 1253.65,69.44 1255.44,69.41 1257.23,69.36 1259.02,69.26 1260.81,69.13 1262.59,68.94 1264.38,68.71 1266.17,68.44 1267.96,68.13 1269.75,67.8 1271.53,67.45 1273.32,67.1 1275.11,66.76 1276.9,66.43 1278.68,66.13 1280.47,65.86 1282.26,65.61 1284.05,65.4 1285.84,65.22 1287.62,65.06 1289.41,64.92 1291.2,64.79 1292.99,64.68 1294.78,64.57 1296.56,64.45 1298.35,64.29 1300.14,64.08 1301.93,63.78 1303.72,63.37 1305.5,62.87 1307.29,62.29 1309.08,61.67 1310.87,61.03 1312.66,60.38 1314.44,59.71 1316.23,59.03 1318.02,58.3 1319.81,57.51 1321.59,56.65 1323.38,55.7 1325.17,54.66 1326.96,53.53 1328.75,52.33 1330.53,51.06 1332.32,49.74 1334.11,48.4 1335.9,47.06 1337.69,45.75 1339.47,44.48 1341.26,43.28 1343.05,42.15 1344.84,41.09 1346.63,40.11 1348.41,39.18 1350.2,38.28 1351.99,37.4 1353.78,36.5 1355.57,35.57 1357.35,34.64 1359.14,33.71 1360.93,32.84 1362.72,32.05 1364.5,31.38 1366.29,30.84 1368.08,30.47 1369.87,30.24 1371.66,30.14 1373.44,30.16 1375.23,30.3 1377.02,30.56 1378.81,30.96 1380.6,31.49 1382.38,32.14 1384.17,32.88 1385.96,33.72 1387.75,34.64 1389.54,35.63 1391.32,36.68 1393.11,37.8 1394.9,38.97 1396.69,40.18 1398.48,41.42 1400.26,42.68 1402.05,43.95 1403.84,45.22 1405.63,46.48 1407.41,47.73 1409.2,48.96 1410.99,50.16 1412.78,51.34 1414.57,52.48 1416.35,53.6 1418.14,54.67 1419.93,55.71 1421.72,56.71 1423.51,57.66 1425.29,58.56 1427.08,59.41 1428.87,60.2 1430.66,60.94 1432.45,61.61 1434.23,62.23 1436.02,62.79 1437.81,63.3 1439.6,63.76 1441.39,64.19 1443.17,64.58 1444.96,64.94 1446.75,65.28 1448.54,65.6 1450.32,65.9 1452.11,66.18 1453.9,66.45 1455.69,66.7 1457.48,66.93 1459.26,67.15 1461.05,67.35 1462.84,67.55 1464.63,67.73 1466.42,67.91 1468.2,68.08 1469.99,68.26 1471.78,68.44 1473.57,68.62 1475.36,68.81 1477.14,69 1478.93,69.2 1480.72,69.4 1482.51,69.6 1484.3,69.79 1486.08,69.98 1487.87,70.17 1489.66,70.35 1491.45,70.53 1493.23,70.69 1495.02,70.86 1496.81,71.02 1498.6,71.18 1500.39,71.33 1502.17,71.48 1503.96,71.63 1505.75,71.76 1507.54,71.89 1509.33,72.01 1511.11,72.12 1512.9,72.22 1514.69,72.31 1516.48,72.38 1518.27,72.45 1520.05,72.51 1521.84,72.57 1523.63,72.62 1525.42,72.67 1527.21,72.71 1528.99,72.76 1530.78,72.8 1532.57,72.84 1534.36,72.88 1536.14,72.92 1537.93,72.96 1539.72,73 1541.51,73.04 1543.3,73.08 1545.08,73.12 1546.87,73.16 1548.66,73.2 1550.45,73.24 1552.24,73.27 1554.02,73.31 1555.81,73.34 1557.6,73.38 1559.39,73.41 1561.18,73.44 1562.96,73.46 1564.75,73.48" fill="none" stroke="#0000FF" stroke-width="2.4" stroke-linejoin="round"/>
<polygon points="1101.68,75.5 1101.68,74.94 1103.47,74.94 1105.26,74.94 1107.04,74.94 1108.83,74.94 1110.62,74.95 1112.41,74.97 1114.2,74.99 1115.98,75.03 1117.77,75.08 1119.56,75.14 1121.35,75.2 1123.14,75.25 1124.92,75.29 1126.71,75.32 1128.5,75.33 1130.29,75.33 1132.08,75.31 1133.86,75.29 1135.65,75.26 1137.44,75.22 1139.23,75.17 1141.01,75.11 1142.8,75.04 1144.59,74.95 1146.38,74.85 1148.17,74.74 1149.95,74.62 1151.74,74.49 1153.53,74.35 1155.32,74.2 1157.11,74.04 1158.89,73.87 1160.68,73.7 1162.47,73.51 1164.26,73.33 1166.05,73.14 1167.83,72.97 1169.62,72.81 1171.41,72.68 1173.2,72.57 1174.99,72.5 1176.77,72.45 1178.56,72.43 1180.35,72.42 1182.14,72.44 1183.93,72.48 1185.71,72.54 1187.5,72.6 1189.29,72.66 1191.08,72.7 1192.86,72.72 1194.65,72.72 1196.44,72.7 1198.23,72.66 1200.02,72.6 1201.8,72.53 1203.59,72.44 1205.38,72.34 1207.17,72.22 1208.96,72.09 1210.74,71.93 1212.53,71.76 1214.32,71.57 1216.11,71.37 1217.9,71.15 1219.68,70.91 1221.47,70.67 1223.26,70.42 1225.05,70.17 1226.84,69.94 1228.62,69.74 1230.41,69.58 1232.2,69.46 1233.99,69.38 1235.77,69.36 1237.56,69.39 1239.35,69.47 1241.14,69.59 1242.93,69.76 1244.71,69.96 1246.5,70.2 1248.29,70.48 1250.08,70.76 1251.87,71.04 1253.65,71.28 1255.44,71.47 1257.23,71.59 1259.02,71.66 1260.81,71.66 1262.59,71.59 1264.38,71.43 1266.17,71.19 1267.96,70.83 1269.75,70.38 1271.53,69.84 1273.32,69.23 1275.11,68.6 1276.9,67.99 1278.68,67.45 1280.47,66.99 1282.26,66.65 1284.05,66.42 1285.84,66.31 1287.62,66.27 1289.41,66.27 1291.2,66.29 1292.99,66.3 1294.78,66.28 1296.56,66.21 1298.35,66.09 1300.14,65.88 1301.93,65.56 1303.72,65.11 1305.5,64.53 1307.29,63.86 1309.08,63.14 1310.87,62.38 1312.66,61.62 1314.44,60.84 1316.23,60.05 1318.02,59.22 1319.81,58.35 1321.59,57.42 1323.38,56.43 1325.17,55.37 1326.96,54.24 1328.75,53.05 1330.53,51.78 1332.32,50.47 1334.11,49.12 1335.9,47.77 1337.69,46.42 1339.47,45.1 1341.26,43.82 1343.05,42.61 1344.84,41.46 1346.63,40.4 1348.41,39.39 1350.2,38.42 1351.99,37.44 1353.78,36.42 1355.57,35.34 1357.35,34.19 1359.14,33.01 1360.93,31.81 1362.72,30.65 1364.5,29.56 1366.29,28.56 1368.08,27.69 1369.87,26.97 1371.66,26.42 1373.44,26.05 1375.23,25.89 1377.02,25.95 1378.81,26.21 1380.6,26.67 1382.38,27.28 1384.17,28.03 1385.96,28.86 1387.75,29.72 1389.54,30.56 1391.32,31.29 1393.11,31.87 1394.9,32.26 1396.69,32.48 1398.48,32.61 1400.26,32.73 1402.05,32.95 1403.84,33.37 1405.63,34.06 1407.41,35.08 1409.2,36.45 1410.99,38.17 1412.78,40.22 1414.57,42.55 1416.35,45.07 1418.14,47.67 1419.93,50.24 1421.72,52.68 1423.51,54.89 1425.29,56.84 1427.08,58.5 1428.87,59.89 1430.66,61.03 1432.45,61.98 1434.23,62.78 1436.02,63.46 1437.81,64.05 1439.6,64.57 1441.39,65.04 1443.17,65.48 1444.96,65.91 1446.75,66.32 1448.54,66.74 1450.32,67.15 1452.11,67.56 1453.9,67.95 1455.69,68.34 1457.48,68.72 1459.26,69.08 1461.05,69.43 1462.84,69.76 1464.63,70.08 1466.42,70.39 1468.2,70.68 1469.99,70.95 1471.78,71.2 1473.57,71.44 1475.36,71.66 1477.14,71.86 1478.93,72.05 1480.72,72.24 1482.51,72.41 1484.3,72.57 1486.08,72.73 1487.87,72.87 1489.66,73 1491.45,73.12 1493.23,73.24 1495.02,73.34 1496.81,73.44 1498.6,73.53 1500.39,73.62 1502.17,73.7 1503.96,73.77 1505.75,73.85 1507.54,73.92 1509.33,73.99 1511.11,74.06 1512.9,74.12 1514.69,74.19 1516.48,74.26 1518.27,74.32 1520.05,74.39 1521.84,74.46 1523.63,74.52 1525.42,74.58 1527.21,74.64 1528.99,74.7 1530.78,74.76 1532.57,74.81 1534.36,74.86 1536.14,74.91 1537.93,74.96 1539.72,75 1541.51,75.05 1543.3,75.09 1545.08,75.13 1546.87,75.18 1548.66,75.22 1550.45,75.25 1552.24,75.29 1554.02,75.33 1555.81,75.36 1557.6,75.39 1559.39,75.42 1561.18,75.45 1562.96,75.47 1564.75,75.48 1564.75,75.5" fill="#FFA500" fill-opacity="0.5"/>
<polyline points="1101.68,74.94 1103.47,74.94 1105.26,74.94 1107.04,74.94 1108.83,74.94 1110.62,74.95 1112.41,74.97 1114.2,74.99 1115.98,75.03 1117.77,75.08 1119.56,75.14 1121.35,75.2 1123.14,75.25 1124.92,75.29 1126.71,75.32 1128.5,75.33 1130.29,75.33 1132.08,75.31 1133.86,75.29 1135.65,75.26 1137.44,75.22 1139.23,75.17 1141.01,75.11 1142.8,75.04 1144.59,74.95 1146.38,74.85 1148.17,74.74 1149.95,74.62 1151.74,74.49 1153.53,74.35 1155.32,74.2 1157.11,74.04 1158.89,73.87 1160.68,73.7 1162.47,73.51 1164.26,73.33 1166.05,73.14 1167.83,72.97 1169.62,72.81 1171.41,72.68 1173.2,72.57 1174.99,72.5 1176.77,72.45 1178.56,72.43 1180.35,72.42 1182.14,72.44 1183.93,72.48 1185.71,72.54 1187.5,72.6 1189.29,72.66 1191.08,72.7 1192.86,72.72 1194.65,72.72 1196.44,72.7 1198.23,72.66 1200.02,72.6 1201.8,72.53 1203.59,72.44 1205.38,72.34 1207.17,72.22 1208.96,72.09 1210.74,71.93 1212.53,71.76 1214.32,71.57 1216.11,71.37 1217.9,71.15 1219.68,70.91 1221.47,70.67 1223.26,70.42 1225.05,70.17 1226.84,69.94 1228.62,69.74 1230.41,69.58 1232.2,69.46 1233.99,69.38 1235.77,69.36 1237.56,69.39 1239.35,69.47 1241.14,69.59 1242.93,69.76 1244.71,69.96 1246.5,70.2 1248.29,70.48 1250.08,70.76 1251.87,71.04 1253.65,71.28 1255.44,71.47 1257.23,71.59 1259.02,71.66 1260.81,71.66 1262.59,71.59 1264.38,71.43 1266.17,71.19 1267.96,70.83 1269.75,70.38 1271.53,69.84 1273.32,69.23 1275.11,68.6 1276.9,67.99 1278.68,67.45 1280.47,66.99 1282.26,66.65 1284.05,66.42 1285.84,66.31 1287.62,66.27 1289.41,66.27 1291.2,66.29 1292.99,66.3 1294.78,66.28 1296.56,66.21 1298.35,66.09 1300.14,65.88 1301.93,65.56 1303.72,65.11 1305.5,64.53 1307.29,63.86 1309.08,63.14 1310.87,62.38 1312.66,61.62 1314.44,60.84 1316.23,60.05 1318.02,59.22 1319.81,58.35 1321.59,57.42 1323.38,56.43 1325.17,55.37 1326.96,54.24 1328.75,53.05 1330.53,51.78 1332.32,50.47 1334.11,49.12 1335.9,47.77 1337.69,46.42 1339.47,45.1 1341.26,43.82 1343.05,42.61 1344.84,41.46 1346.63,40.4 1348.41,39.39 1350.2,38.42 1351.99,37.44 1353.78,36.42 1355.57,35.34 1357.35,34.19 1359.14,33.01 1360.93,31.81 1362.72,30.65 1364.5,29.56 1366.29,28.56 1368.08,27.69 1369.87,26.97 1371.66,26.42 1373.44,26.05 1375.23,25.89 1377.02,25.95 1378.81,26.21 1380.6,26.67 1382.38,27.28 1384.17,28.03 1385.96,28.86 1387.75,29.72 1389.54,30.56 1391.32,31.29 1393.11,31.87 1394.9,32.26 1396.69,32.48 1398.48,32.61 1400.26,32.73 1402.05,32.95 1403.84,33.37 1405.63,34.06 1407.41,35.08 1409.2,36.45 1410.99,38.17 1412.78,40.22 1414.57,42.55 1416.35,45.07 1418.14,47.67 1419.93,50.24 1421.72,52.68 1423.51,54.89 1425.29,56.84 1427.08,58.5 1428.87,59.89 1430.66,61.03 1432.45,61.98 1434.23,62.78 1436.02,63.46 1437.81,64.05 1439.6,64.57 1441.39,65.04 1443.17,65.48 1444.96,65.91 1446.75,66.32 1448.54,66.74 1450.32,67.15 1452.11,67.56 1453.9,67.95 1455.69,68.34 1457.48,68.72 1459.26,69.08 1461.05,69.43 1462.84,69.76 1464.63,70.08 1466.42,70.39 1468.2,70.68 1469.99,70.95 1471.78,71.2 1473.57,71.44 1475.36,71.66 1477.14,71.86 1478.93,72.05 1480.72,72.24 1482.51,72.41 1484.3,72.57 1486.08,72.73 1487.87,72.87 1489.66,73 1491.45,73.12 1493.23,73.24 1495.02,73.34 1496.81,73.44 1498.6,73.53 1500.39,73.62 1502.17,73.7 1503.96,73.77 1505.75,73.85 1507.54,73.92 1509.33,73.99 1511.11,74.06 1512.9,74.12 1514.69,74.19 1516.48,74.26 1518.27,74.32 1520.05,74.39 1521.84,74.46 1523.63,74.52 1525.42,74.58 1527.21,74.64 1528.99,74.7 1530.78,74.76 1532.57,74.81 1534.36,74.86 1536.14,74.91 1537.93,74.96 1539.72,75 1541.51,75.05 1543.3,75.09 1545.08,75.13 1546.87,75.18 1548.66,75.22 1550.45,75.25 1552.24,75.29 1554.02,75.33 1555.81,75.36 1557.6,75.39 1559.39,75.42 1561.18,75.45 1562.96,75.47 1564.75,75.48" fill="none" stroke="#FFA500" stroke-width="2.4" stroke-linejoin="round"/>
<polygon points="1594.5,601.95 1595.69,601.95 1595.69,600.03 1595.69,598.12 1595.69,596.21 1595.69,594.3 1595.69,592.39 1595.69,590.48 1595.69,588.57 1595.69,586.66 1595.7,584.75 1595.71,582.84 1595.73,580.93 1595.75,579.02 1595.77,577.11 1595.8,575.2 1595.83,573.29 1595.85,571.38 1595.86,569.47 1595.87,567.55 1595.87,565.64 1595.88,563.73 1595.88,561.82 1595.88,559.91 1595.88,558 1595.88,556.09 1595.88,554.18 1595.88,552.27 1595.88,550.36 1595.88,548.45 1595.88,546.54 1595.89,544.63 1595.9,542.72 1595.92,540.81 1595.96,538.9 1596.02,536.99 1596.1,535.07 1596.19,533.16 1596.3,531.25 1596.41,529.34 1596.53,527.43 1596.65,525.52 1596.77,523.61 1596.88,521.7 1596.96,519.79 1597.03,517.88 1597.07,515.97 1597.09,514.06 1597.1,512.15 1597.09,510.24 1597.06,508.33 1597.01,506.42 1596.94,504.51 1596.87,502.59 1596.81,500.68 1596.77,498.77 1596.77,496.86 1596.81,494.95 1596.89,493.04 1597.01,491.13 1597.17,489.22 1597.38,487.31 1597.61,485.4 1597.85,483.49 1598.07,481.58 1598.25,479.67 1598.38,477.76 1598.46,475.85 1598.49,473.94 1598.48,472.03 1598.43,470.11 1598.34,468.2 1598.21,466.29 1598.06,464.38 1597.9,462.47 1597.75,460.56 1597.64,458.65 1597.58,456.74 1597.58,454.83 1597.64,452.92 1597.76,451.01 1597.95,449.1 1598.19,447.19 1598.5,445.28 1598.87,443.37 1599.32,441.46 1599.83,439.55 1600.41,437.63 1601.04,435.72 1601.68,433.81 1602.31,431.9 1602.9,429.99 1603.41,428.08 1603.84,426.17 1604.16,424.26 1604.39,422.35 1604.55,420.44 1604.65,418.53 1604.72,416.62 1604.8,414.71 1604.92,412.8 1605.11,410.89 1605.42,408.98 1605.86,407.07 1606.47,405.15 1607.25,403.24 1608.21,401.33 1609.32,399.42 1610.56,397.51 1611.9,395.6 1613.33,393.69 1614.81,391.78 1616.35,389.87 1617.92,387.96 1619.54,386.05 1621.19,384.14 1622.88,382.23 1624.57,380.32 1626.24,378.41 1627.83,376.5 1629.32,374.59 1630.69,372.67 1631.93,370.76 1633.04,368.85 1634.02,366.94 1634.88,365.03 1635.62,363.12 1636.25,361.21 1636.78,359.3 1637.19,357.39 1637.48,355.48 1637.67,353.57 1637.72,351.66 1637.64,349.75 1637.4,347.84 1636.95,345.93 1636.27,344.02 1635.33,342.11 1634.11,340.19 1632.64,338.28 1630.96,336.37 1629.19,334.46 1627.41,332.55 1625.72,330.64 1624.13,328.73 1622.63,326.82 1621.17,324.91 1619.72,323 1618.3,321.09 1616.94,319.18 1615.67,317.27 1614.52,315.36 1613.48,313.45 1612.52,311.54 1611.62,309.63 1610.76,307.71 1609.93,305.8 1609.12,303.89 1608.34,301.98 1607.58,300.07 1606.87,298.16 1606.21,296.25 1605.6,294.34 1605.04,292.43 1604.53,290.52 1604.06,288.61 1603.62,286.7 1603.2,284.79 1602.81,282.88 1602.44,280.97 1602.1,279.06 1601.79,277.15 1601.49,275.24 1601.21,273.32 1600.94,271.41 1600.68,269.5 1600.43,267.59 1600.17,265.68 1599.92,263.77 1599.67,261.86 1599.41,259.95 1599.17,258.04 1598.93,256.13 1598.72,254.22 1598.53,252.31 1598.36,250.4 1598.21,248.49 1598.08,246.58 1597.96,244.67 1597.85,242.76 1597.74,240.84 1597.63,238.93 1597.52,237.02 1597.4,235.11 1597.28,233.2 1597.17,231.29 1597.05,229.38 1596.95,227.47 1596.86,225.56 1596.78,223.65 1596.73,221.74 1596.69,219.83 1596.67,217.92 1596.66,216.01 1596.66,214.1 1596.67,212.19 1596.68,210.28 1596.69,208.36 1596.71,206.45 1596.72,204.54 1596.72,202.63 1596.73,200.72 1596.73,198.81 1596.72,196.9 1596.71,194.99 1596.7,193.08 1596.67,191.17 1596.65,189.26 1596.61,187.35 1596.58,185.44 1596.54,183.53 1596.5,181.62 1596.46,179.71 1596.43,177.8 1596.39,175.88 1596.35,173.97 1596.31,172.06 1596.27,170.15 1596.23,168.24 1596.18,166.33 1596.14,164.42 1596.09,162.51 1596.05,160.6 1596.01,158.69 1595.96,156.78 1595.93,154.87 1595.89,152.96 1595.86,151.05 1595.84,149.14 1595.82,147.23 1595.81,145.32 1595.8,143.4 1595.8,141.49 1595.79,139.58 1595.79,137.67 1595.79,135.76 1595.79,133.85 1595.79,131.94 1595.79,130.03 1595.79,128.12 1595.79,126.21 1595.79,124.3 1595.79,122.39 1595.79,120.48 1595.79,118.57 1595.79,116.66 1595.79,114.75 1595.79,112.84 1595.79,110.92 1595.79,109.01 1595.79,107.1 1594.5,107.1" fill="#0000FF" fill-opacity="0.5"/>
<polyline points="1595.69,601.95 1595.69,600.03 1595.69,598.12 1595.69,596.21 1595.69,594.3 1595.69,592.39 1595.69,590.48 1595.69,588.57 1595.69,586.66 1595.7,584.75 1595.71,582.84 1595.73,580.93 1595.75,579.02 1595.77,577.11 1595.8,575.2 1595.83,573.29 1595.85,571.38 1595.86,569.47 1595.87,567.55 1595.87,565.64 1595.88,563.73 1595.88,561.82 1595.88,559.91 1595.88,558 1595.88,556.09 1595.88,554.18 1595.88,552.27 1595.88,550.36 1595.88,548.45 1595.88,546.54 1595.89,544.63 1595.9,542.72 1595.92,540.81 1595.96,538.9 1596.02,536.99 1596.1,535.07 1596.19,533.16 1596.3,531.25 1596.41,529.34 1596.53,527.43 1596.65,525.52 1596.77,523.61 1596.88,521.7 1596.96,519.79 1597.03,517.88 1597.07,515.97 1597.09,514.06 1597.1,512.15 1597.09,510.24 1597.06,508.33 1597.01,506.42 1596.94,504.51 1596.87,502.59 1596.81,500.68 1596.77,498.77 1596.77,496.86 1596.81,494.95 1596.89,493.04 1597.01,491.13 1597.17,489.22 1597.38,487.31 1597.61,485.4 1597.85,483.49 1598.07,481.58 1598.25,479.67 1598.38,477.76 1598.46,475.85 1598.49,473.94 1598.48,472.03 1598.43,470.11 1598.34,468.2 1598.21,466.29 1598.06,464.38 1597.9,462.47 1597.75,460.56 1597.64,458.65 1597.58,456.74 1597.58,454.83 1597.64,452.92 1597.76,451.01 1597.95,449.1 1598.19,447.19 1598.5,445.28 1598.87,443.37 1599.32,441.46 1599.83,439.55 1600.41,437.63 1601.04,435.72 1601.68,433.81 1602.31,431.9 1602.9,429.99 1603.41,428.08 1603.84,426.17 1604.16,424.26 1604.39,422.35 1604.55,420.44 1604.65,418.53 1604.72,416.62 1604.8,414.71 1604.92,412.8 1605.11,410.89 1605.42,408.98 1605.86,407.07 1606.47,405.15 1607.25,403.24 1608.21,401.33 1609.32,399.42 1610.56,397.51 1611.9,395.6 1613.33,393.69 1614.81,391.78 1616.35,389.87 1617.92,387.96 1619.54,386.05 1621.19,384.14 1622.88,382.23 1624.57,380.32 1626.24,378.41 1627.83,376.5 1629.32,374.59 1630.69,372.67 1631.93,370.76 1633.04,368.85 1634.02,366.94 1634.88,365.03 1635.62,363.12 1636.25,361.21 1636.78,359.3 1637.19,357.39 1637.48,355.48 1637.67,353.57 1637.72,351.66 1637.64,349.75 1637.4,347.84 1636.95,345.93 1636.27,344.02 1635.33,342.11 1634.11,340.19 1632.64,338.28 1630.96,336.37 1629.19,334.46 1627.41,332.55 1625.72,330.64 1624.13,328.73 1622.63,326.82 1621.17,324.91 1619.72,323 1618.3,321.09 1616.94,319.18 1615.67,317.27 1614.52,315.36 1613.48,313.45 1612.52,311.54 1611.62,309.63 1610.76,307.71 1609.93,305.8 1609.12,303.89 1608.34,301.98 1607.58,300.07 1606.87,298.16 1606.21,296.25 1605.6,294.34 1605.04,292.43 1604.53,290.52 1604.06,288.61 1603.62,286.7 1603.2,284.79 1602.81,282.88 1602.44,280.97 1602.1,279.06 1601.79,277.15 1601.49,275.24 1601.21,273.32 1600.94,271.41 1600.68,269.5 1600.43,267.59 1600.17,265.68 1599.92,263.77 1599.67,261.86 1599.41,259.95 1599.17,258.04 1598.93,256.13 1598.72,254.22 1598.53,252.31 1598.36,250.4 1598.21,248.49 1598.08,246.58 1597.96,244.67 1597.85,242.76 1597.74,240.84 1597.63,238.93 1597.52,237.02 1597.4,235.11 1597.28,233.2 1597.17,231.29 1597.05,229.38 1596.95,227.47 1596.86,225.56 1596.78,223.65 1596.73,221.74 1596.69,219.83 1596.67,217.92 1596.66,216.01 1596.66,214.1 1596.67,212.19 1596.68,210.28 1596.69,208.36 1596.71,206.45 1596.72,204.54 1596.72,202.63 1596.73,200.72 1596.73,198.81 1596.72,196.9 1596.71,194.99 1596.7,193.08 1596.67,191.17 1596.65,189.26 1596.61,187.35 1596.58,185.44 1596.54,183.53 1596.5,181.62 1596.46,179.71 1596.43,177.8 1596.39,175.88 1596.35,173.97 1596.31,172.06 1596.27,170.15 1596.23,168.24 1596.18,166.33 1596.14,164.42 1596.09,162.51 1596.05,160.6 1596.01,158.69 1595.96,156.78 1595.93,154.87 1595.89,152.96 1595.86,151.05 1595.84,149.14 1595.82,147.23 1595.81,145.32 1595.8,143.4 1595.8,141.49 1595.79,139.58 1595.79,137.67 1595.79,135.76 1595.79,133.85 1595.79,131.94 1595.79,130.03 1595.79,128.12 1595.79,126.21 1595.79,124.3 1595.79,122.39 1595.79,120.48 1595.79,118.57 1595.79,116.66 1595.79,114.75 1595.79,112.84 1595.79,110.92 1595.79,109.01 1595.79,107.1" fill="none" stroke="#0000FF" stroke-width="2.4" stroke-linejoin="round"/>
<polygon points="1594.5,601.95 1594.55,601.95 1594.55,600.03 1594.55,598.12 1594.55,596.21 1594.55,594.3 1594.55,592.39 1594.55,590.48 1594.55,588.57 1594.56,586.66 1594.57,584.75 1594.59,582.84 1594.62,580.93 1594.67,579.02 1594.72,577.11 1594.77,575.2 1594.82,573.29 1594.85,571.38 1594.87,569.47 1594.86,567.55 1594.84,565.64 1594.8,563.73 1594.75,561.82 1594.69,559.91 1594.64,558 1594.58,556.09 1594.53,554.18 1594.5,552.27 1594.5,550.36 1594.5,548.45 1594.5,546.54 1594.5,544.63 1594.5,542.72 1594.5,540.81 1594.5,538.9 1594.5,536.99 1594.52,535.07 1594.63,533.16 1594.76,531.25 1594.9,529.34 1595.05,527.43 1595.22,525.52 1595.38,523.61 1595.52,521.7 1595.62,519.79 1595.67,517.88 1595.67,515.97 1595.61,514.06 1595.52,512.15 1595.43,510.24 1595.34,508.33 1595.28,506.42 1595.25,504.51 1595.24,502.59 1595.26,500.68 1595.32,498.77 1595.45,496.86 1595.66,494.95 1595.98,493.04 1596.38,491.13 1596.86,489.22 1597.36,487.31 1597.86,485.4 1598.31,483.49 1598.68,481.58 1598.92,479.67 1599.02,477.76 1598.97,475.85 1598.77,473.94 1598.47,472.03 1598.08,470.11 1597.65,468.2 1597.19,466.29 1596.75,464.38 1596.36,462.47 1596.05,460.56 1595.84,458.65 1595.74,456.74 1595.74,454.83 1595.83,452.92 1596.01,451.01 1596.27,449.1 1596.61,447.19 1597.04,445.28 1597.56,443.37 1598.17,441.46 1598.87,439.55 1599.65,437.63 1600.49,435.72 1601.34,433.81 1602.16,431.9 1602.88,429.99 1603.45,428.08 1603.83,426.17 1603.98,424.26 1603.93,422.35 1603.71,420.44 1603.42,418.53 1603.12,416.62 1602.9,414.71 1602.8,412.8 1602.86,410.89 1603.08,408.98 1603.48,407.07 1604.06,405.15 1604.81,403.24 1605.74,401.33 1606.82,399.42 1608.03,397.51 1609.37,395.6 1610.81,393.69 1612.33,391.78 1613.91,389.87 1615.55,387.96 1617.22,386.05 1618.91,384.14 1620.62,382.23 1622.33,380.32 1624.04,378.41 1625.71,376.5 1627.34,374.59 1628.89,372.67 1630.33,370.76 1631.66,368.85 1632.83,366.94 1633.87,365.03 1634.8,363.12 1635.66,361.21 1636.5,359.3 1637.35,357.39 1638.19,355.48 1638.99,353.57 1639.68,351.66 1640.21,349.75 1640.53,347.84 1640.59,345.93 1640.32,344.02 1639.69,342.11 1638.65,340.19 1637.2,338.28 1635.37,336.37 1633.25,334.46 1630.92,332.55 1628.47,330.64 1626.02,328.73 1623.64,326.82 1621.42,324.91 1619.42,323 1617.65,321.09 1616.14,319.18 1614.87,317.27 1613.79,315.36 1612.88,313.45 1612.07,311.54 1611.3,309.63 1610.53,307.71 1609.7,305.8 1608.8,303.89 1607.84,301.98 1606.84,300.07 1605.88,298.16 1605.03,296.25 1604.37,294.34 1604,292.43 1603.99,290.52 1604.38,288.61 1605.17,286.7 1606.33,284.79 1607.75,282.88 1609.3,280.97 1610.77,279.06 1611.93,277.15 1612.58,275.24 1612.62,273.32 1612.01,271.41 1610.81,269.5 1609.15,267.59 1607.22,265.68 1605.19,263.77 1603.26,261.86 1601.56,259.95 1600.17,258.04 1599.11,256.13 1598.36,254.22 1597.84,252.31 1597.49,250.4 1597.26,248.49 1597.1,246.58 1596.98,244.67 1596.87,242.76 1596.77,240.84 1596.66,238.93 1596.54,237.02 1596.41,235.11 1596.28,233.2 1596.14,231.29 1596.01,229.38 1595.88,227.47 1595.77,225.56 1595.68,223.65 1595.61,221.74 1595.57,219.83 1595.56,217.92 1595.57,216.01 1595.6,214.1 1595.64,212.19 1595.69,210.28 1595.75,208.36 1595.81,206.45 1595.86,204.54 1595.9,202.63 1595.93,200.72 1595.95,198.81 1595.96,196.9 1595.96,194.99 1595.95,193.08 1595.93,191.17 1595.91,189.26 1595.89,187.35 1595.86,185.44 1595.83,183.53 1595.8,181.62 1595.77,179.71 1595.74,177.8 1595.71,175.88 1595.68,173.97 1595.65,172.06 1595.62,170.15 1595.59,168.24 1595.55,166.33 1595.51,164.42 1595.48,162.51 1595.44,160.6 1595.4,158.69 1595.37,156.78 1595.34,154.87 1595.31,152.96 1595.28,151.05 1595.26,149.14 1595.25,147.23 1595.24,145.32 1595.23,143.4 1595.23,141.49 1595.22,139.58 1595.22,137.67 1595.22,135.76 1595.22,133.85 1595.22,131.94 1595.22,130.03 1595.22,128.12 1595.22,126.21 1595.22,124.3 1595.22,122.39 1595.22,120.48 1595.22,118.57 1595.22,116.66 1595.22,114.75 1595.22,112.84 1595.22,110.92 1595.22,109.01 1595.22,107.1 1594.5,107.1" fill="#FFA500" fill-opacity="0.5"/>
<polyline points="1594.55,601.95 1594.55,600.03 1594.55,598.12 1594.55,596.21 1594.55,594.3 1594.55,592.39 1594.55,590.48 1594.55,588.57 1594.56,586.66 1594.57,584.75 1594.59,582.84 1594.62,580.93 1594.67,579.02 1594.72,577.11 1594.77,575.2 1594.82,573.29 1594.85,571.38 1594.87,569.47 1594.86,567.55 1594.84,565.64 1594.8,563.73 1594.75,561.82 1594.69,559.91 1594.64,558 1594.58,556.09 1594.53,554.18 1594.5,552.27 1594.5,550.36 1594.5,548.45 1594.5,546.54 1594.5,544.63 1594.5,542.72 1594.5,540.81 1594.5,538.9 1594.5,536.99 1594.52,535.07 1594.63,533.16 1594.76,531.25 1594.9,529.34 1595.05,527.43 1595.22,525.52 1595.38,523.61 1595.52,521.7 1595.62,519.79 1595.67,517.88 1595.67,515.97 1595.61,514.06 1595.52,512.15 1595.43,510.24 1595.34,508.33 1595.28,506.42 1595.25,504.51 1595.24,502.59 1595.26,500.68 1595.32,498.77 1595.45,496.86 1595.66,494.95 1595.98,493.04 1596.38,491.13 1596.86,489.22 1597.36,487.31 1597.86,485.4 1598.31,483.49 1598.68,481.58 1598.92,479.67 1599.02,477.76 1598.97,475.85 1598.77,473.94 1598.47,472.03 1598.08,470.11 1597.65,468.2 1597.19,466.29 1596.75,464.38 1596.36,462.47 1596.05,460.56 1595.84,458.65 1595.74,456.74 1595.74,454.83 1595.83,452.92 1596.01,451.01 1596.27,449.1 1596.61,447.19 1597.04,445.28 1597.56,443.37 1598.17,441.46 1598.87,439.55 1599.65,437.63 1600.49,435.72 1601.34,433.81 1602.16,431.9 1602.88,429.99 1603.45,428.08 1603.83,426.17 1603.98,424.26 1603.93,422.35 1603.71,420.44 1603.42,418.53 1603.12,416.62 1602.9,414.71 1602.8,412.8 1602.86,410.89 1603.08,408.98 1603.48,407.07 1604.06,405.15 1604.81,403.24 1605.74,401.33 1606.82,399.42 1608.03,397.51 1609.37,395.6 1610.81,393.69 1612.33,391.78 1613.91,389.87 1615.55,387.96 1617.22,386.05 1618.91,384.14 1620.62,382.23 1622.33,380.32 1624.04,378.41 1625.71,376.5 1627.34,374.59 1628.89,372.67 1630.33,370.76 1631.66,368.85 1632.83,366.94 1633.87,365.03 1634.8,363.12 1635.66,361.21 1636.5,359.3 1637.35,357.39 1638.19,355.48 1638.99,353.57 1639.68,351.66 1640.21,349.75 1640.53,347.84 1640.59,345.93 1640.32,344.02 1639.69,342.11 1638.65,340.19 1637.2,338.28 1635.37,336.37 1633.25,334.46 1630.92,332.55 1628.47,330.64 1626.02,328.73 1623.64,326.82 1621.42,324.91 1619.42,323 1617.65,321.09 1616.14,319.18 1614.87,317.27 1613.79,315.36 1612.88,313.45 1612.07,311.54 1611.3,309.63 1610.53,307.71 1609.7,305.8 1608.8,303.89 1607.84,301.98 1606.84,300.07 1605.88,298.16 1605.03,296.25 1604.37,294.34 1604,292.43 1603.99,290.52 1604.38,288.61 1605.17,286.7 1606.33,284.79 1607.75,282.88 1609.3,280.97 1610.77,279.06 1611.93,277.15 1612.58,275.24 1612.62,273.32 1612.01,271.41 1610.81,269.5 1609.15,267.59 1607.22,265.68 1605.19,263.77 1603.26,261.86 1601.56,259.95 1600.17,258.04 1599.11,256.13 1598.36,254.22 1597.84,252.31 1597.49,250.4 1597.26,248.49 1597.1,246.58 1596.98,244.67 1596.87,242.76 1596.77,240.84 1596.66,238.93 1596.54,237.02 1596.41,235.11 1596.28,233.2 1596.14,231.29 1596.01,229.38 1595.88,227.47 1595.77,225.56 1595.68,223.65 1595.61,221.74 1595.57,219.83 1595.56,217.92 1595.57,216.01 1595.6,214.1 1595.64,212.19 1595.69,210.28 1595.75,208.36 1595.81,206.45 1595.86,204.54 1595.9,202.63 1595.93,200.72 1595.95,198.81 1595.96,196.9 1595.96,194.99 1595.95,193.08 1595.93,191.17 1595.91,189.26 1595.89,187.35 1595.86,185.44 1595.83,183.53 1595.8,181.62 1595.77,179.71 1595.74,177.8 1595.71,175.88 1595.68,173.97 1595.65,172.06 1595.62,170.15 1595.59,168.24 1595.55,166.33 1595.51,164.42 1595.48,162.51 1595.44,160.6 1595.4,158.69 1595.37,156.78 1595.34,154.87 1595.31,152.96 1595.28,151.05 1595.26,149.14 1595.25,147.23 1595.24,145.32 1595.23,143.4 1595.23,141.49 1595.22,139.58 1595.22,137.67 1595.22,135.76 1595.22,133.85 1595.22,131.94 1595.22,130.03 1595.22,128.12 1595.22,126.21 1595.22,124.3 1595.22,122.39 1595.22,120.48 1595.22,118.57 1595.22,116.66 1595.22,114.75 1595.22,112.84 1595.22,110.92 1595.22,109.01 1595.22,107.1" fill="none" stroke="#FFA500" stroke-width="2.4" stroke-linejoin="round"/>
<g fill="#0000FF">
<circle cx="1367.7" cy="399" r="5.4"/>
<circle cx="1397.7" cy="357.8" r="5.4"/>
<circle cx="1397" cy="353.6" r="5.4"/>
<circle cx="1432.8" cy="356.4" r="5.4"/>
<circle cx="1319.8" cy="308.6" r="5.4"/>
<circle cx="1342.9" cy="405.5" r="5.4"/>
<circle cx="1315.2" cy="401.1" r="5.4"/>
<circle cx="1363.7" cy="385.2" r="5.4"/>
<circle cx="1408" cy="307.2" r="5.4"/>
<circle cx="1367.1" cy="351" r="5.4"/>
<circle cx="1387.8" cy="370.9" r="5.4"/>
<circle cx="1291.6" cy="376.8" r="5.4"/>
<circle cx="1373.9" cy="330.1" r="5.4"/>
<circle cx="1331.7" cy="382.3" r="5.4"/>
<circle cx="1403.5" cy="311.5" r="5.4"/>
<circle cx="1406" cy="339.9" r="5.4"/>
<circle cx="1365.7" cy="306" r="5.4"/>
<circle cx="1392.5" cy="301.3" r="5.4"/>
<circle cx="1394.3" cy="330.7" r="5.4"/>
<circle cx="1354.2" cy="365.3" r="5.4"/>
<circle cx="1348.1" cy="372.4" r="5.4"/>
<circle cx="1363.4" cy="349.1" r="5.4"/>
<circle cx="1343.8" cy="389.2" r="5.4"/>
<circle cx="1344.2" cy="377.8" r="5.4"/>
<circle cx="1356.7" cy="336.5" r="5.4"/>
<circle cx="1338.9" cy="374.7" r="5.4"/>
<circle cx="1398.7" cy="355.7" r="5.4"/>
<circle cx="1304.2" cy="355.4" r="5.4"/>
<circle cx="1400.9" cy="313.2" r="5.4"/>
<circle cx="1343" cy="374.7" r="5.4"/>
<circle cx="1346.2" cy="326.6" r="5.4"/>
<circle cx="1314" cy="404.5" r="5.4"/>
<circle cx="1362.2" cy="345.9" r="5.4"/>
<circle cx="1358.1" cy="380.5" r="5.4"/>
<circle cx="1375.7" cy="337.8" r="5.4"/>
<circle cx="1346.6" cy="292.6" r="5.4"/>
<circle cx="1371.8" cy="358.5" r="5.4"/>
<circle cx="1384.4" cy="350.4" r="5.4"/>
<circle cx="1345.1" cy="338" r="5.4"/>
<circle cx="1362.8" cy="344.4" r="5.4"/>
<circle cx="1391.8" cy="350.5" r="5.4"/>
<circle cx="1392.5" cy="347.2" r="5.4"/>
<circle cx="1352.4" cy="413.5" r="5.4"/>
<circle cx="1290.8" cy="359.8" r="5.4"/>
<circle cx="1354.1" cy="354.6" r="5.4"/>
<circle cx="1104.8" cy="226.8" r="5.4"/>
<circle cx="1100.4" cy="254.5" r="5.4"/>
<circle cx="1103.4" cy="254.5" r="5.4"/>
<circle cx="1168" cy="268.3" r="5.4"/>
<circle cx="1226.6" cy="269.4" r="5.4"/>
<circle cx="1248.2" cy="272.4" r="5.4"/>
<circle cx="1269.5" cy="271.7" r="5.4"/>
<circle cx="1408.1" cy="107.1" r="5.4"/>
<circle cx="1404.4" cy="166.8" r="5.4"/>
<circle cx="1521.2" cy="181.4" r="5.4"/>
<circle cx="1473.1" cy="192.4" r="5.4"/>
<circle cx="1435.6" cy="214" r="5.4"/>
<circle cx="1394.1" cy="230.8" r="5.4"/>
<circle cx="1379" cy="235.7" r="5.4"/>
<circle cx="1436.3" cy="244.2" r="5.4"/>
<circle cx="1362.5" cy="264.6" r="5.4"/>
<circle cx="1380.3" cy="265.2" r="5.4"/>
<circle cx="1552.1" cy="272.4" r="5.4"/>
<circle cx="1357" cy="273.8" r="5.4"/>
<circle cx="1176.7" cy="300.8" r="5.4"/>
<circle cx="1239.9" cy="290.8" r="5.4"/>
<circle cx="1279.8" cy="294.2" r="5.4"/>
<circle cx="1220" cy="308.4" r="5.4"/>
<circle cx="1231.2" cy="306.6" r="5.4"/>
<circle cx="1172.8" cy="319.4" r="5.4"/>
<circle cx="1248.8" cy="331.6" r="5.4"/>
<circle cx="1209.7" cy="337.3" r="5.4"/>
<circle cx="1173.3" cy="337.5" r="5.4"/>
<circle cx="1266" cy="354.7" r="5.4"/>
<circle cx="1218.6" cy="366.8" r="5.4"/>
<circle cx="1235.8" cy="363.9" r="5.4"/>
<circle cx="1278.4" cy="367.1" r="5.4"/>
<circle cx="1285.9" cy="379.4" r="5.4"/>
<circle cx="1299" cy="380.8" r="5.4"/>
<circle cx="1310" cy="383.6" r="5.4"/>
<circle cx="1177.4" cy="391.5" r="5.4"/>
<circle cx="1289.4" cy="392.5" r="5.4"/>
<circle cx="1301.7" cy="391.8" r="5.4"/>
<circle cx="1311.4" cy="400.1" r="5.4"/>
<circle cx="1322.4" cy="399.4" r="5.4"/>
<circle cx="1323.7" cy="390.4" r="5.4"/>
<circle cx="1282.5" cy="402.8" r="5.4"/>
<circle cx="1290.1" cy="409" r="5.4"/>
<circle cx="1184" cy="411.3" r="5.4"/>
<circle cx="1232.6" cy="409.3" r="5.4"/>
<circle cx="1271.5" cy="420.7" r="5.4"/>
<circle cx="1277.7" cy="417.9" r="5.4"/>
<circle cx="1285.3" cy="420.7" r="5.4"/>
<circle cx="1281.1" cy="425.5" r="5.4"/>
<circle cx="1295.3" cy="426.2" r="5.4"/>
<circle cx="1323.7" cy="425.8" r="5.4"/>
<circle cx="1311.1" cy="435.5" r="5.4"/>
<circle cx="1202.1" cy="446.1" r="5.4"/>
<circle cx="1317.1" cy="468.8" r="5.4"/>
<circle cx="1335" cy="423.4" r="5.4"/>
<circle cx="1335" cy="309.4" r="5.4"/>
<circle cx="1335" cy="331.3" r="5.4"/>
<circle cx="1315.5" cy="347.8" r="5.4"/>
<circle cx="1326.5" cy="357.5" r="5.4"/>
<circle cx="1330.6" cy="364.3" r="5.4"/>
<circle cx="1316.9" cy="375.3" r="5.4"/>
<circle cx="1329.2" cy="373.9" r="5.4"/>
<circle cx="1392.4" cy="280.8" r="5.4"/>
<circle cx="1399.9" cy="288.3" r="5.4"/>
<circle cx="1469.4" cy="284.9" r="5.4"/>
<circle cx="1454.6" cy="289.2" r="5.4"/>
<circle cx="1457.7" cy="298.1" r="5.4"/>
<circle cx="1473.4" cy="294.9" r="5.4"/>
<circle cx="1450.2" cy="306.6" r="5.4"/>
<circle cx="1491.2" cy="304.3" r="5.4"/>
<circle cx="1472.7" cy="315.8" r="5.4"/>
<circle cx="1388.6" cy="291.5" r="5.4"/>
<circle cx="1409.2" cy="297.7" r="5.4"/>
<circle cx="1421.3" cy="314.2" r="5.4"/>
<circle cx="1343.9" cy="304.5" r="5.4"/>
<circle cx="1357.7" cy="308" r="5.4"/>
<circle cx="1343.2" cy="321.7" r="5.4"/>
<circle cx="1380.3" cy="326.5" r="5.4"/>
<circle cx="1484.8" cy="337.8" r="5.4"/>
<circle cx="1463.1" cy="348.5" r="5.4"/>
<circle cx="1447.7" cy="352" r="5.4"/>
<circle cx="1429.1" cy="354.7" r="5.4"/>
<circle cx="1420.9" cy="366.4" r="5.4"/>
<circle cx="1416.1" cy="371.2" r="5.4"/>
<circle cx="1462.8" cy="369.4" r="5.4"/>
<circle cx="1502.7" cy="369.1" r="5.4"/>
<circle cx="1537.3" cy="378.8" r="5.4"/>
<circle cx="1427.1" cy="384.2" r="5.4"/>
<circle cx="1440.1" cy="386.3" r="5.4"/>
<circle cx="1409.9" cy="387.7" r="5.4"/>
<circle cx="1440.5" cy="404.2" r="5.4"/>
<circle cx="1489.3" cy="398.3" r="5.4"/>
<circle cx="1381" cy="402.8" r="5.4"/>
<circle cx="1373.5" cy="407.6" r="5.4"/>
<circle cx="1409.9" cy="412.4" r="5.4"/>
<circle cx="1397.9" cy="422.5" r="5.4"/>
<circle cx="1431.2" cy="426.8" r="5.4"/>
<circle cx="1350.8" cy="433.3" r="5.4"/>
<circle cx="1361.8" cy="433.3" r="5.4"/>
<circle cx="1486.8" cy="447.9" r="5.4"/>
<circle cx="1337.7" cy="421.4" r="5.4"/>
<circle cx="1344.6" cy="394.6" r="5.4"/>
<circle cx="1373.5" cy="380.8" r="5.4"/>
<circle cx="1392.7" cy="379.4" r="5.4"/>
<circle cx="1401" cy="362.9" r="5.4"/>
<circle cx="1417.5" cy="336.8" r="5.4"/>
<circle cx="1429.8" cy="343.7" r="5.4"/>
<circle cx="1189.1" cy="484" r="5.4"/>
<circle cx="1232.3" cy="484.4" r="5.4"/>
<circle cx="1245.4" cy="478.9" r="5.4"/>
<circle cx="1255.7" cy="475.5" r="5.4"/>
<circle cx="1203.8" cy="504.8" r="5.4"/>
<circle cx="1542.9" cy="476.6" r="5.4"/>
<circle cx="1487.3" cy="512.6" r="5.4"/>
<circle cx="1459.8" cy="522.2" r="5.4"/>
<circle cx="1515.4" cy="520.2" r="5.4"/>
<circle cx="1516.1" cy="565.5" r="5.4"/>
<circle cx="1564.5" cy="570.7" r="5.4"/>
<circle cx="1413.6" cy="602.2" r="5.4"/>
</g>
<path fill="#FFA500" d="M1206.9 117l3.6 5.8h-7.2zM1323 179.5l3.6 5.8h-7.2zM1103.6 229.6l3.6 5.8h-7.2zM1183.6 228.3l3.6 5.8h-7.2zM1188.1 226.2l3.6 5.8h-7.2zM1288.4 225.9l3.6 5.8h-7.2zM1298 234.7l3.6 5.8h-7.2zM1241.6 243.7l3.6 5.8h-7.2zM1223.7 250.3l3.6 5.8h-7.2zM1324.4 251.2l3.6 5.8h-7.2zM1232.1 264.7l3.6 5.8h-7.2zM1284.6 261.2l3.6 5.8h-7.2zM1293.9 261.2l3.6 5.8h-7.2zM1292.8 264l3.6 5.8h-7.2zM1300.4 264l3.6 5.8h-7.2zM1302.4 268.8l3.6 5.8h-7.2zM1275.9 269.5l3.6 5.8h-7.2zM1246.1 269.5l3.6 5.8h-7.2zM1321.7 270.9l3.6 5.8h-7.2zM1328.5 269.5l3.6 5.8h-7.2zM1356 166.7l3.6 5.8h-7.2zM1374.9 166.7l3.6 5.8h-7.2zM1379 172.2l3.6 5.8h-7.2zM1431.6 171.9l3.6 5.8h-7.2zM1472.8 168.9l3.6 5.8h-7.2zM1519.4 171.2l3.6 5.8h-7.2zM1440.4 183.6l3.6 5.8h-7.2zM1489.9 189.8l3.6 5.8h-7.2zM1510.5 195.7l3.6 5.8h-7.2zM1534.5 188.4l3.6 5.8h-7.2zM1539.8 209.7l3.6 5.8h-7.2zM1409.2 218l3.6 5.8h-7.2zM1440.4 217.3l3.6 5.8h-7.2zM1392.4 222.8l3.6 5.8h-7.2zM1376.6 224.6l3.6 5.8h-7.2zM1408.1 226.2l3.6 5.8h-7.2zM1356 228.3l3.6 5.8h-7.2zM1403.4 231.4l3.6 5.8h-7.2zM1448.1 231.7l3.6 5.8h-7.2zM1461.8 232.4l3.6 5.8h-7.2zM1486.8 225.9l3.6 5.8h-7.2zM1504.3 225.9l3.6 5.8h-7.2zM1515.7 226.9l3.6 5.8h-7.2zM1538.7 225.9l3.6 5.8h-7.2zM1341.2 236.9l3.6 5.8h-7.2zM1390 237.2l3.6 5.8h-7.2zM1393.1 238.3l3.6 5.8h-7.2zM1472.8 239.9l3.6 5.8h-7.2zM1389.6 243.4l3.6 5.8h-7.2zM1365.2 246.1l3.6 5.8h-7.2zM1458 247.5l3.6 5.8h-7.2zM1473.1 248.5l3.6 5.8h-7.2zM1346.4 251.3l3.6 5.8h-7.2zM1392.7 250.9l3.6 5.8h-7.2zM1398.2 250.9l3.6 5.8h-7.2zM1403.7 248.2l3.6 5.8h-7.2zM1406.5 251.3l3.6 5.8h-7.2zM1404.1 254.8l3.6 5.8h-7.2zM1434.4 251.3l3.6 5.8h-7.2zM1519.1 251.3l3.6 5.8h-7.2zM1371.1 255.1l3.6 5.8h-7.2zM1361.5 259.2l3.6 5.8h-7.2zM1440.8 261.7l3.6 5.8h-7.2zM1436.3 264l3.6 5.8h-7.2zM1343.7 264.7l3.6 5.8h-7.2zM1372.1 263.3l3.6 5.8h-7.2zM1380.3 262.6l3.6 5.8h-7.2zM1387.2 264l3.6 5.8h-7.2zM1391.3 261.2l3.6 5.8h-7.2zM1394.1 264.7l3.6 5.8h-7.2zM1398.2 264l3.6 5.8h-7.2zM1401.6 264.7l3.6 5.8h-7.2zM1409.2 264l3.6 5.8h-7.2zM1417 264.7l3.6 5.8h-7.2zM1473.4 267.4l3.6 5.8h-7.2zM1337.7 270.9l3.6 5.8h-7.2zM1363.9 269.5l3.6 5.8h-7.2zM1368 268.8l3.6 5.8h-7.2zM1373.5 269.5l3.6 5.8h-7.2zM1377.6 268.8l3.6 5.8h-7.2zM1387.9 270.9l3.6 5.8h-7.2zM1398.2 269.5l3.6 5.8h-7.2zM1403.7 270.2l3.6 5.8h-7.2zM1409.9 269.5l3.6 5.8h-7.2zM1418.1 270.2l3.6 5.8h-7.2zM1427.8 269.5l3.6 5.8h-7.2zM1440.8 269.5l3.6 5.8h-7.2zM1457.3 270.9l3.6 5.8h-7.2zM1491 270.2l3.6 5.8h-7.2zM1539.8 270.2l3.6 5.8h-7.2zM1178.5 275.5l3.6 5.8h-7.2zM1197.7 277.2l3.6 5.8h-7.2zM1165 286.3l3.6 5.8h-7.2zM1231 282.1l3.6 5.8h-7.2zM1232.3 294.8l3.6 5.8h-7.2zM1251.3 286.3l3.6 5.8h-7.2zM1242 290.7l3.6 5.8h-7.2zM1281.1 286.5l3.6 5.8h-7.2zM1285.9 290l3.6 5.8h-7.2zM1246.4 302.6l3.6 5.8h-7.2zM1219.3 301.6l3.6 5.8h-7.2zM1176.7 297.2l3.6 5.8h-7.2zM1181.9 303.4l3.6 5.8h-7.2zM1194.1 311.5l3.6 5.8h-7.2zM1204.9 316.5l3.6 5.8h-7.2zM1246.8 316.1l3.6 5.8h-7.2zM1268.8 307.6l3.6 5.8h-7.2zM1202.1 322.9l3.6 5.8h-7.2zM1203.8 327.8l3.6 5.8h-7.2zM1242 324.3l3.6 5.8h-7.2zM1266.7 323.2l3.6 5.8h-7.2zM1282.5 322.9l3.6 5.8h-7.2zM1171.2 327.5l3.6 5.8h-7.2zM1173.3 334.6l3.6 5.8h-7.2zM1177.4 334.6l3.6 5.8h-7.2zM1217.9 333.5l3.6 5.8h-7.2zM1217.2 340.4l3.6 5.8h-7.2zM1229.6 329.1l3.6 5.8h-7.2zM1233.7 329.8l3.6 5.8h-7.2zM1231.7 334.6l3.6 5.8h-7.2zM1235.1 337.4l3.6 5.8h-7.2zM1240.6 332.6l3.6 5.8h-7.2zM1248.8 328.4l3.6 5.8h-7.2zM1250.2 334.6l3.6 5.8h-7.2zM1239.2 340.1l3.6 5.8h-7.2zM1244 341.5l3.6 5.8h-7.2zM1248.8 342.2l3.6 5.8h-7.2zM1245.4 344.9l3.6 5.8h-7.2zM1237.2 344.9l3.6 5.8h-7.2zM1233 344.9l3.6 5.8h-7.2zM1227.5 347.7l3.6 5.8h-7.2zM1219.3 347.7l3.6 5.8h-7.2zM1220 353.2l3.6 5.8h-7.2zM1231 350.4l3.6 5.8h-7.2zM1232.3 354.6l3.6 5.8h-7.2zM1246.8 351.1l3.6 5.8h-7.2zM1251.6 354.6l3.6 5.8h-7.2zM1242.7 355.9l3.6 5.8h-7.2zM1197.3 346.3l3.6 5.8h-7.2zM1200.7 349.7l3.6 5.8h-7.2zM1203.5 353.2l3.6 5.8h-7.2zM1182.2 348.1l3.6 5.8h-7.2zM1147.4 361.4l3.6 5.8h-7.2zM1202.8 361.8l3.6 5.8h-7.2zM1182.9 362.8l3.6 5.8h-7.2zM1181.5 366.2l3.6 5.8h-7.2zM1206.2 370.4l3.6 5.8h-7.2zM1218.6 366.2l3.6 5.8h-7.2zM1221.4 362.8l3.6 5.8h-7.2zM1220 369l3.6 5.8h-7.2zM1235.8 360l3.6 5.8h-7.2zM1248.2 366l3.6 5.8h-7.2zM1265.3 360.7l3.6 5.8h-7.2zM1268.8 362.1l3.6 5.8h-7.2zM1273.6 366.9l3.6 5.8h-7.2zM1252.3 374.5l3.6 5.8h-7.2zM1250.9 377.2l3.6 5.8h-7.2zM1272.2 373.1l3.6 5.8h-7.2zM1273.6 380.7l3.6 5.8h-7.2zM1193.2 376.5l3.6 5.8h-7.2zM1181.5 374.5l3.6 5.8h-7.2zM1176 375.9l3.6 5.8h-7.2zM1217.5 376.5l3.6 5.8h-7.2zM1137.8 377.2l3.6 5.8h-7.2zM1169.4 388.9l3.6 5.8h-7.2zM1203.2 386.2l3.6 5.8h-7.2zM1203.2 391l3.6 5.8h-7.2zM1220.3 389.6l3.6 5.8h-7.2zM1228.2 387.5l3.6 5.8h-7.2zM1231.7 388.2l3.6 5.8h-7.2zM1235.8 385.5l3.6 5.8h-7.2zM1239.2 384.1l3.6 5.8h-7.2zM1240.6 382.7l3.6 5.8h-7.2zM1237.8 386.8l3.6 5.8h-7.2zM1248.2 389.3l3.6 5.8h-7.2zM1258.5 390.3l3.6 5.8h-7.2zM1262.6 388.9l3.6 5.8h-7.2zM1266.7 386.8l3.6 5.8h-7.2zM1268.8 388.9l3.6 5.8h-7.2zM1223.8 396.2l3.6 5.8h-7.2zM1220.3 400.6l3.6 5.8h-7.2zM1196.9 401.3l3.6 5.8h-7.2zM1194.1 407.5l3.6 5.8h-7.2zM1103.4 399.5l3.6 5.8h-7.2zM1141.6 405.4l3.6 5.8h-7.2zM1240.6 408.8l3.6 5.8h-7.2zM1184.9 412.3l3.6 5.8h-7.2zM1119 418l3.6 5.8h-7.2zM1203.5 417.1l3.6 5.8h-7.2zM1221.1 417.1l3.6 5.8h-7.2zM1232.1 420.5l3.6 5.8h-7.2zM1242.2 419.8l3.6 5.8h-7.2zM1252.7 419.6l3.6 5.8h-7.2zM1103.4 423.9l3.6 5.8h-7.2zM1171.2 422.9l3.6 5.8h-7.2zM1173.3 423.3l3.6 5.8h-7.2zM1213.1 422.6l3.6 5.8h-7.2zM1208.3 426l3.6 5.8h-7.2zM1211 430.1l3.6 5.8h-7.2zM1228.9 425.3l3.6 5.8h-7.2zM1223.4 430.1l3.6 5.8h-7.2zM1240.6 429.9l3.6 5.8h-7.2zM1198.3 431.2l3.6 5.8h-7.2zM1178.3 431.5l3.6 5.8h-7.2zM1209.7 443.5l3.6 5.8h-7.2zM1235.4 442.5l3.6 5.8h-7.2zM1180.5 450.1l3.6 5.8h-7.2zM1180.8 458l3.6 5.8h-7.2zM1213.8 465.9l3.6 5.8h-7.2zM1232.3 463.8l3.6 5.8h-7.2zM1285.7 440.4l3.6 5.8h-7.2zM1284.6 431.9l3.6 5.8h-7.2zM1290.1 431.9l3.6 5.8h-7.2zM1318.2 431.5l3.6 5.8h-7.2zM1318.2 439.1l3.6 5.8h-7.2zM1273.6 422.6l3.6 5.8h-7.2zM1292.1 399.2l3.6 5.8h-7.2zM1300.4 404.7l3.6 5.8h-7.2zM1301.7 409.5l3.6 5.8h-7.2zM1310 416.4l3.6 5.8h-7.2zM1311.4 420.5l3.6 5.8h-7.2zM1509.9 290l3.6 5.8h-7.2zM1515.7 297.5l3.6 5.8h-7.2zM1516.4 300.3l3.6 5.8h-7.2zM1485.5 287.9l3.6 5.8h-7.2zM1488.9 287.9l3.6 5.8h-7.2zM1477.9 282.4l3.6 5.8h-7.2zM1497.8 301.4l3.6 5.8h-7.2zM1501.3 312.4l3.6 5.8h-7.2zM1495.4 317l3.6 5.8h-7.2zM1491.2 323.6l3.6 5.8h-7.2zM1530.8 324.3l3.6 5.8h-7.2zM1503.6 335.6l3.6 5.8h-7.2zM1501.7 344.9l3.6 5.8h-7.2zM1518.5 347.7l3.6 5.8h-7.2zM1491.2 344.9l3.6 5.8h-7.2zM1486.8 351.1l3.6 5.8h-7.2zM1480.7 356.9l3.6 5.8h-7.2zM1471 366.9l3.6 5.8h-7.2zM1508.8 366l3.6 5.8h-7.2zM1548.4 368.7l3.6 5.8h-7.2zM1485.1 372.8l3.6 5.8h-7.2zM1473.1 379.7l3.6 5.8h-7.2zM1472.4 386.2l3.6 5.8h-7.2zM1461.2 388.6l3.6 5.8h-7.2zM1472.8 400.9l3.6 5.8h-7.2zM1461.2 405l3.6 5.8h-7.2zM1488.5 405.4l3.6 5.8h-7.2zM1471 417.8l3.6 5.8h-7.2zM1455.2 418.2l3.6 5.8h-7.2zM1468.3 421.2l3.6 5.8h-7.2zM1484.8 420.9l3.6 5.8h-7.2zM1500.9 421.5l3.6 5.8h-7.2zM1531.2 422.9l3.6 5.8h-7.2zM1440.4 421.2l3.6 5.8h-7.2zM1448.4 423.3l3.6 5.8h-7.2zM1445.6 430.1l3.6 5.8h-7.2zM1451.8 431.5l3.6 5.8h-7.2zM1452.5 436.3l3.6 5.8h-7.2zM1421.6 437.7l3.6 5.8h-7.2zM1420.2 443.9l3.6 5.8h-7.2zM1397.8 443.9l3.6 5.8h-7.2zM1378.3 441.5l3.6 5.8h-7.2zM1357.7 439.1l3.6 5.8h-7.2zM1437.4 443.9l3.6 5.8h-7.2zM1451.1 446.6l3.6 5.8h-7.2zM1371.4 454.9l3.6 5.8h-7.2zM1464.2 465.9l3.6 5.8h-7.2zM1475.9 465.9l3.6 5.8h-7.2zM1405.1 465.9l3.6 5.8h-7.2zM1381 465.9l3.6 5.8h-7.2zM1440.8 281l3.6 5.8h-7.2zM1436.7 287.9l3.6 5.8h-7.2zM1431.2 290l3.6 5.8h-7.2zM1429.8 298.2l3.6 5.8h-7.2zM1436.7 294.1l3.6 5.8h-7.2zM1439.4 299.6l3.6 5.8h-7.2zM1433.9 305.1l3.6 5.8h-7.2zM1443.6 316.8l3.6 5.8h-7.2zM1450.4 296.1l3.6 5.8h-7.2zM1455.9 305.1l3.6 5.8h-7.2zM1459.4 305.8l3.6 5.8h-7.2zM1455.9 311.3l3.6 5.8h-7.2zM1462.8 316.8l3.6 5.8h-7.2zM1473.1 305.1l3.6 5.8h-7.2zM1477.2 301.6l3.6 5.8h-7.2zM1450.4 323.6l3.6 5.8h-7.2zM1463.5 327.8l3.6 5.8h-7.2zM1475.2 327.8l3.6 5.8h-7.2zM1472.4 332.6l3.6 5.8h-7.2zM1473.1 336l3.6 5.8h-7.2zM1462.1 332.6l3.6 5.8h-7.2zM1457.3 334.6l3.6 5.8h-7.2zM1451.8 331.2l3.6 5.8h-7.2zM1444.9 327.1l3.6 5.8h-7.2zM1456.6 344.2l3.6 5.8h-7.2zM1467.6 351.8l3.6 5.8h-7.2zM1469 349.1l3.6 5.8h-7.2zM1462.1 355.9l3.6 5.8h-7.2zM1460.7 359.4l3.6 5.8h-7.2zM1458 366.9l3.6 5.8h-7.2zM1454.6 369.7l3.6 5.8h-7.2zM1459.4 371l3.6 5.8h-7.2zM1450.4 358l3.6 5.8h-7.2zM1443.6 360l3.6 5.8h-7.2zM1440.8 362.8l3.6 5.8h-7.2zM1436 356.6l3.6 5.8h-7.2zM1429.8 362.1l3.6 5.8h-7.2zM1431.2 375.2l3.6 5.8h-7.2zM1441.5 370.4l3.6 5.8h-7.2zM1444.2 376.5l3.6 5.8h-7.2zM1450.4 386.2l3.6 5.8h-7.2zM1453.2 390.3l3.6 5.8h-7.2zM1455.9 395.8l3.6 5.8h-7.2zM1451.8 400.6l3.6 5.8h-7.2zM1443.6 390.3l3.6 5.8h-7.2zM1437.4 393.7l3.6 5.8h-7.2zM1434.6 396.5l3.6 5.8h-7.2zM1433.3 391.7l3.6 5.8h-7.2zM1427.1 388.9l3.6 5.8h-7.2zM1420.9 401.3l3.6 5.8h-7.2zM1422.3 406.1l3.6 5.8h-7.2zM1417.5 406.1l3.6 5.8h-7.2zM1420.9 412.3l3.6 5.8h-7.2zM1421.6 417.8l3.6 5.8h-7.2zM1418.8 419.1l3.6 5.8h-7.2zM1407.8 399.2l3.6 5.8h-7.2zM1396.8 401.3l3.6 5.8h-7.2zM1398.2 396.5l3.6 5.8h-7.2zM1390.7 396.5l3.6 5.8h-7.2zM1407.1 421.9l3.6 5.8h-7.2zM1403 422.6l3.6 5.8h-7.2zM1389.3 416.4l3.6 5.8h-7.2zM1386.5 421.9l3.6 5.8h-7.2zM1386.5 427.4l3.6 5.8h-7.2zM1379 416.4l3.6 5.8h-7.2zM1376.2 419.8l3.6 5.8h-7.2zM1372.1 421.2l3.6 5.8h-7.2zM1364.5 415.7l3.6 5.8h-7.2zM1356.3 415.7l3.6 5.8h-7.2zM1350.1 416.4l3.6 5.8h-7.2zM1343.2 415.7l3.6 5.8h-7.2zM1360.4 421.2l3.6 5.8h-7.2zM1351.5 421.2l3.6 5.8h-7.2zM1346.7 423.3l3.6 5.8h-7.2zM1340.5 423.3l3.6 5.8h-7.2zM1369.4 429.4l3.6 5.8h-7.2zM1374.9 430.1l3.6 5.8h-7.2zM1381.7 430.1l3.6 5.8h-7.2zM1387.2 430.1l3.6 5.8h-7.2zM1343.2 431.5l3.6 5.8h-7.2zM1213.8 467.1l3.6 5.8h-7.2zM1231.7 468.5l3.6 5.8h-7.2zM1248.8 471.2l3.6 5.8h-7.2zM1235.8 475.3l3.6 5.8h-7.2zM1248.2 477.4l3.6 5.8h-7.2zM1268.5 472.6l3.6 5.8h-7.2zM1289.7 475.3l3.6 5.8h-7.2zM1298 467.8l3.6 5.8h-7.2zM1306.3 469.2l3.6 5.8h-7.2zM1311.1 474.7l3.6 5.8h-7.2zM1316.2 472.6l3.6 5.8h-7.2zM1321 473.3l3.6 5.8h-7.2zM1326.5 473.3l3.6 5.8h-7.2zM1316.4 480.2l3.6 5.8h-7.2zM1102.2 480.8l3.6 5.8h-7.2zM1137.9 480.8l3.6 5.8h-7.2zM1173.3 480.8l3.6 5.8h-7.2zM1190.8 480.2l3.6 5.8h-7.2zM1205.5 480.8l3.6 5.8h-7.2zM1224.5 480.8l3.6 5.8h-7.2zM1233.7 480.8l3.6 5.8h-7.2zM1173 489.8l3.6 5.8h-7.2zM1277.7 487.4l3.6 5.8h-7.2zM1173 510.1l3.6 5.8h-7.2zM1176.7 517.3l3.6 5.8h-7.2zM1114.9 518.6l3.6 5.8h-7.2zM1126.1 519.3l3.6 5.8h-7.2zM1143.4 515.9l3.6 5.8h-7.2zM1210.1 514.2l3.6 5.8h-7.2zM1218.9 510l3.6 5.8h-7.2zM1227.3 516.6l3.6 5.8h-7.2zM1232.3 518.9l3.6 5.8h-7.2zM1245.4 518.6l3.6 5.8h-7.2zM1168.9 547.8l3.6 5.8h-7.2zM1103.4 554.6l3.6 5.8h-7.2zM1107 567l3.6 5.8h-7.2zM1147.4 566.5l3.6 5.8h-7.2zM1171.2 572l3.6 5.8h-7.2zM1174.6 571.1l3.6 5.8h-7.2zM1335 503.5l3.6 5.8h-7.2zM1335 513.8l3.6 5.8h-7.2zM1341.2 468.7l3.6 5.8h-7.2zM1338.8 478.1l3.6 5.8h-7.2zM1350.8 474.7l3.6 5.8h-7.2zM1355.6 476l3.6 5.8h-7.2zM1357.7 477.8l3.6 5.8h-7.2zM1352.2 480.8l3.6 5.8h-7.2zM1364.3 472.6l3.6 5.8h-7.2zM1367.6 473.6l3.6 5.8h-7.2zM1380.8 467.8l3.6 5.8h-7.2zM1380.3 470.5l3.6 5.8h-7.2zM1374.2 480.8l3.6 5.8h-7.2zM1379 481.5l3.6 5.8h-7.2zM1371.1 484.6l3.6 5.8h-7.2zM1405.1 467.8l3.6 5.8h-7.2zM1405.8 472.6l3.6 5.8h-7.2zM1409.2 473.7l3.6 5.8h-7.2zM1414 472.6l3.6 5.8h-7.2zM1464.2 467.1l3.6 5.8h-7.2zM1475.9 467.8l3.6 5.8h-7.2zM1470.6 480.8l3.6 5.8h-7.2zM1491 477.4l3.6 5.8h-7.2zM1499.6 480.8l3.6 5.8h-7.2zM1539.5 480.8l3.6 5.8h-7.2zM1337.5 500.8l3.6 5.8h-7.2zM1341.5 504.2l3.6 5.8h-7.2zM1337.7 511.8l3.6 5.8h-7.2zM1487.3 505.6l3.6 5.8h-7.2zM1516.4 517.3l3.6 5.8h-7.2zM1545.7 509l3.6 5.8h-7.2zM1409.5 516.3l3.6 5.8h-7.2zM1379 556l3.6 5.8h-7.2zM1473.4 566l3.6 5.8h-7.2zM1563.1 562.3l3.6 5.8h-7.2zM1553.9 574l3.6 5.8h-7.2zM1389.4 364l3.6 5.8h-7.2zM1377.4 343.8l3.6 5.8h-7.2zM1360.4 363.9l3.6 5.8h-7.2zM1337.8 330.6l3.6 5.8h-7.2zM1406.3 380.8l3.6 5.8h-7.2zM1378.8 344.3l3.6 5.8h-7.2zM1336.3 368.6l3.6 5.8h-7.2zM1340.7 368.2l3.6 5.8h-7.2zM1372.2 385.4l3.6 5.8h-7.2zM1357.8 337l3.6 5.8h-7.2zM1374.5 372l3.6 5.8h-7.2zM1363.8 354.3l3.6 5.8h-7.2zM1384.2 344l3.6 5.8h-7.2zM1383.9 348.3l3.6 5.8h-7.2zM1376.3 360.1l3.6 5.8h-7.2zM1328.5 369.6l3.6 5.8h-7.2zM1398.7 361.7l3.6 5.8h-7.2zM1379.7 376.3l3.6 5.8h-7.2zM1409.1 344.8l3.6 5.8h-7.2zM1360.7 378.6l3.6 5.8h-7.2zM1376.2 370.7l3.6 5.8h-7.2zM1381 347.4l3.6 5.8h-7.2zM1387.1 375.4l3.6 5.8h-7.2zM1401.7 341.7l3.6 5.8h-7.2zM1386.1 359.1l3.6 5.8h-7.2zM1410.9 356.9l3.6 5.8h-7.2zM1374.4 331.7l3.6 5.8h-7.2zM1345.4 360.5l3.6 5.8h-7.2zM1376 366.8l3.6 5.8h-7.2zM1360.8 360.8l3.6 5.8h-7.2zM1377.2 352l3.6 5.8h-7.2zM1377.5 363.6l3.6 5.8h-7.2zM1368.4 365.8l3.6 5.8h-7.2zM1354.2 372.2l3.6 5.8h-7.2zM1382.1 366.5l3.6 5.8h-7.2zM1376.8 352l3.6 5.8h-7.2zM1363.7 319.6l3.6 5.8h-7.2zM1389.8 387.5l3.6 5.8h-7.2zM1386 372.8l3.6 5.8h-7.2zM1396.1 356l3.6 5.8h-7.2zM1370.6 333.1l3.6 5.8h-7.2zM1335.1 347.6l3.6 5.8h-7.2zM1355.9 354.7l3.6 5.8h-7.2zM1358.5 365.6l3.6 5.8h-7.2zM1370.4 331.8l3.6 5.8h-7.2zM1356.2 373.3l3.6 5.8h-7.2zM1350.4 370.1l3.6 5.8h-7.2zM1386.4 353l3.6 5.8h-7.2zM1367.9 348.1l3.6 5.8h-7.2zM1375.5 305l3.6 5.8h-7.2zM1395.9 348.7l3.6 5.8h-7.2zM1378.9 382.6l3.6 5.8h-7.2zM1380.5 355l3.6 5.8h-7.2zM1360.3 307.7l3.6 5.8h-7.2zM1384.7 383l3.6 5.8h-7.2zM1370.1 359l3.6 5.8h-7.2zM1363.9 339.3l3.6 5.8h-7.2zM1382.1 355.2l3.6 5.8h-7.2zM1363 350.8l3.6 5.8h-7.2zM1381.3 350.4l3.6 5.8h-7.2zM1372.1 366.2l3.6 5.8h-7.2zM1368.4 345.5l3.6 5.8h-7.2zM1375.7 361.4l3.6 5.8h-7.2zM1370.6 353.6l3.6 5.8h-7.2zM1384.5 373.8l3.6 5.8h-7.2zM1374.1 308.8l3.6 5.8h-7.2zM1371.1 327.3l3.6 5.8h-7.2zM1356.7 372.4l3.6 5.8h-7.2zM1369.6 320.6l3.6 5.8h-7.2zM1361.5 367.4l3.6 5.8h-7.2zM1363 361.3l3.6 5.8h-7.2zM1360.2 379.8l3.6 5.8h-7.2zM1372.3 357.2l3.6 5.8h-7.2zM1411.1 334l3.6 5.8h-7.2zM1386.9 349.7l3.6 5.8h-7.2zM1398.9 368.6l3.6 5.8h-7.2zM1364.8 337.1l3.6 5.8h-7.2zM1378.4 360.8l3.6 5.8h-7.2zM1388.6 361.9l3.6 5.8h-7.2zM1385.7 343.7l3.6 5.8h-7.2zM1343.8 360.8l3.6 5.8h-7.2zM1375.9 369.2l3.6 5.8h-7.2zM1380.9 355.7l3.6 5.8h-7.2zM1361.1 322.8l3.6 5.8h-7.2zM1345.3 348.8l3.6 5.8h-7.2zM1367.9 333.4l3.6 5.8h-7.2zM1376.9 341.5l3.6 5.8h-7.2zM1404.6 335.9l3.6 5.8h-7.2zM1370.2 372.2l3.6 5.8h-7.2zM1360.8 374.5l3.6 5.8h-7.2zM1401.4 323l3.6 5.8h-7.2zM1366.5 382.9l3.6 5.8h-7.2zM1370.8 364.1l3.6 5.8h-7.2zM1370.9 358.4l3.6 5.8h-7.2zM1382.7 378.3l3.6 5.8h-7.2zM1332.4 351.4l3.6 5.8h-7.2zM1347.9 367.3l3.6 5.8h-7.2zM1362.4 357l3.6 5.8h-7.2zM1382.4 401.7l3.6 5.8h-7.2zM1371.6 369.3l3.6 5.8h-7.2zM1375.5 365.9l3.6 5.8h-7.2zM1378.4 364.9l3.6 5.8h-7.2zM1384.6 352.5l3.6 5.8h-7.2zM1385.8 338.8l3.6 5.8h-7.2zM1386.1 333.2l3.6 5.8h-7.2zM1386.7 371.6l3.6 5.8h-7.2zM1347.4 357.9l3.6 5.8h-7.2zM1373.3 377.5l3.6 5.8h-7.2zM1380.9 338.7l3.6 5.8h-7.2zM1348.3 390.6l3.6 5.8h-7.2zM1402.7 357.6l3.6 5.8h-7.2zM1356.8 354.6l3.6 5.8h-7.2zM1375.8 370.8l3.6 5.8h-7.2zM1342.2 401.8l3.6 5.8h-7.2zM1390 383.1l3.6 5.8h-7.2zM1376.6 373.3l3.6 5.8h-7.2zM1397.1 335.8l3.6 5.8h-7.2zM1380.6 333.7l3.6 5.8h-7.2zM1397.3 346.6l3.6 5.8h-7.2zM1400.1 389.4l3.6 5.8h-7.2zM1369.9 393.7l3.6 5.8h-7.2zM1372.2 326.4l3.6 5.8h-7.2zM1358.7 360l3.6 5.8h-7.2zM1392.8 340.8l3.6 5.8h-7.2zM1358.5 374.2l3.6 5.8h-7.2zM1378.1 356.6l3.6 5.8h-7.2zM1379.4 360.7l3.6 5.8h-7.2zM1391.6 357l3.6 5.8h-7.2zM1369.7 342.2l3.6 5.8h-7.2zM1371.7 351.8l3.6 5.8h-7.2zM1376.4 374.7l3.6 5.8h-7.2zM1397 379.1l3.6 5.8h-7.2zM1396.8 344.7l3.6 5.8h-7.2zM1384.2 336.3l3.6 5.8h-7.2zM1412.3 357.2l3.6 5.8h-7.2zM1348.4 327.7l3.6 5.8h-7.2zM1378.7 373.5l3.6 5.8h-7.2zM1370.2 343.9l3.6 5.8h-7.2zM1384.2 362.3l3.6 5.8h-7.2zM1399 344.3l3.6 5.8h-7.2zM1385.6 304l3.6 5.8h-7.2zM1374.1 359.5l3.6 5.8h-7.2zM1382.1 333.8l3.6 5.8h-7.2zM1383.3 338.9l3.6 5.8h-7.2zM1356 361.3l3.6 5.8h-7.2zM1399.6 349.6l3.6 5.8h-7.2zM1368.1 359l3.6 5.8h-7.2zM1365.5 335.4l3.6 5.8h-7.2zM1366.6 344.7l3.6 5.8h-7.2zM1363.9 339.2l3.6 5.8h-7.2zM1365 339.5l3.6 5.8h-7.2zM1388.8 333l3.6 5.8h-7.2zM1362.5 390.9l3.6 5.8h-7.2zM1386.9 335.7l3.6 5.8h-7.2zM1366.3 356.7l3.6 5.8h-7.2zM1378.1 346.9l3.6 5.8h-7.2zM1391.9 357.9l3.6 5.8h-7.2zM1372.7 343.1l3.6 5.8h-7.2zM1371 347.6l3.6 5.8h-7.2zM1400.3 353.5l3.6 5.8h-7.2zM1374 327l3.6 5.8h-7.2zM1380.7 398.8l3.6 5.8h-7.2zM1374.7 384.4l3.6 5.8h-7.2zM1352.7 370.4l3.6 5.8h-7.2zM1367.4 376.6l3.6 5.8h-7.2zM1382.3 342.6l3.6 5.8h-7.2zM1387.5 344.9l3.6 5.8h-7.2zM1367.3 341l3.6 5.8h-7.2zM1384.3 383.9l3.6 5.8h-7.2zM1382.9 345.5l3.6 5.8h-7.2zM1395.6 328.1l3.6 5.8h-7.2zM1327.5 365.5l3.6 5.8h-7.2zM1393.3 344.9l3.6 5.8h-7.2zM1379.7 357l3.6 5.8h-7.2zM1364.5 348.6l3.6 5.8h-7.2zM1360.8 364l3.6 5.8h-7.2zM1377.7 339.6l3.6 5.8h-7.2zM1370.6 343.1l3.6 5.8h-7.2zM1391.5 364.4l3.6 5.8h-7.2zM1340.3 346.5l3.6 5.8h-7.2zM1373 365.1l3.6 5.8h-7.2zM1374.6 336.2l3.6 5.8h-7.2zM1368 310.1l3.6 5.8h-7.2zM1342.8 327.9l3.6 5.8h-7.2zM1369.5 329.7l3.6 5.8h-7.2zM1365.1 386.7l3.6 5.8h-7.2zM1365 383.3l3.6 5.8h-7.2zM1383.5 345.1l3.6 5.8h-7.2zM1376 355.6l3.6 5.8h-7.2zM1377.7 362.3l3.6 5.8h-7.2zM1362 321.9l3.6 5.8h-7.2zM1378.4 357l3.6 5.8h-7.2zM1395.5 356l3.6 5.8h-7.2zM1392 350l3.6 5.8h-7.2zM1392.3 384.5l3.6 5.8h-7.2zM1351.6 380.2l3.6 5.8h-7.2zM1361.3 345l3.6 5.8h-7.2zM1371.9 366.6l3.6 5.8h-7.2zM1345.2 386.1l3.6 5.8h-7.2zM1391.1 355.5l3.6 5.8h-7.2zM1345.1 366.7l3.6 5.8h-7.2zM1385.3 366.7l3.6 5.8h-7.2zM1389.5 354.1l3.6 5.8h-7.2zM1373.9 347.1l3.6 5.8h-7.2zM1326.2 356.3l3.6 5.8h-7.2zM1394.5 359.6l3.6 5.8h-7.2zM1366.6 328.1l3.6 5.8h-7.2zM1371.3 339.4l3.6 5.8h-7.2zM1378.2 302l3.6 5.8h-7.2zM1365.1 371.8l3.6 5.8h-7.2zM1377.5 376.8l3.6 5.8h-7.2zM1358.3 355.9l3.6 5.8h-7.2zM1386.4 287.3l3.6 5.8h-7.2zM1395.2 377.5l3.6 5.8h-7.2zM1363 368.9l3.6 5.8h-7.2zM1394.9 372l3.6 5.8h-7.2zM1389.6 320.7l3.6 5.8h-7.2zM1360.8 319.8l3.6 5.8h-7.2zM1401.9 380.7l3.6 5.8h-7.2zM1389.2 337.3l3.6 5.8h-7.2zM1364 359.2l3.6 5.8h-7.2zM1369.6 337.2l3.6 5.8h-7.2zM1346.1 382.8l3.6 5.8h-7.2zM1387.6 336.2l3.6 5.8h-7.2zM1398.3 345.8l3.6 5.8h-7.2zM1383.3 366.5l3.6 5.8h-7.2zM1375.1 373.2l3.6 5.8h-7.2zM1348.9 385.6l3.6 5.8h-7.2zM1368.2 337.7l3.6 5.8h-7.2zM1364.3 348.7l3.6 5.8h-7.2zM1389 334.9l3.6 5.8h-7.2zM1408.2 353l3.6 5.8h-7.2zM1360.9 374.8l3.6 5.8h-7.2zM1397.5 365.3l3.6 5.8h-7.2zM1377.3 337.3l3.6 5.8h-7.2zM1378.1 388.2l3.6 5.8h-7.2zM1389.1 349.2l3.6 5.8h-7.2zM1374.5 340.8l3.6 5.8h-7.2zM1373.4 361.8l3.6 5.8h-7.2zM1359.4 343.8l3.6 5.8h-7.2zM1363.4 331.4l3.6 5.8h-7.2zM1374.9 393.8l3.6 5.8h-7.2zM1379.5 378.8l3.6 5.8h-7.2zM1402.8 342.5l3.6 5.8h-7.2zM1357 318.7l3.6 5.8h-7.2zM1383.4 367.5l3.6 5.8h-7.2zM1374.5 344.9l3.6 5.8h-7.2zM1370.4 373.9l3.6 5.8h-7.2zM1355.4 380.3l3.6 5.8h-7.2zM1367.1 345.9l3.6 5.8h-7.2zM1371.7 395.5l3.6 5.8h-7.2zM1386.8 354l3.6 5.8h-7.2zM1365.4 368l3.6 5.8h-7.2zM1396.1 313.2l3.6 5.8h-7.2zM1374.7 342.5l3.6 5.8h-7.2zM1390.1 348l3.6 5.8h-7.2zM1364.5 345.9l3.6 5.8h-7.2zM1368.8 346.8l3.6 5.8h-7.2zM1352.9 376.2l3.6 5.8h-7.2zM1360.2 364.9l3.6 5.8h-7.2zM1360.7 349.5l3.6 5.8h-7.2zM1374.6 360.9l3.6 5.8h-7.2zM1374.7 320.3l3.6 5.8h-7.2zM1352.9 321.5l3.6 5.8h-7.2zM1360.5 347.1l3.6 5.8h-7.2zM1367.7 394.8l3.6 5.8h-7.2zM1391.4 342.8l3.6 5.8h-7.2zM1341.6 342.9l3.6 5.8h-7.2zM1355.1 366.8l3.6 5.8h-7.2zM1367.1 346l3.6 5.8h-7.2zM1350.5 364.5l3.6 5.8h-7.2zM1402.7 353l3.6 5.8h-7.2zM1374.8 331.2l3.6 5.8h-7.2zM1371.4 356.8l3.6 5.8h-7.2zM1399.9 381.9l3.6 5.8h-7.2zM1384.8 360.8l3.6 5.8h-7.2zM1356 368.7l3.6 5.8h-7.2zM1357.3 384.9l3.6 5.8h-7.2zM1377.8 335.8l3.6 5.8h-7.2zM1377.9 344.2l3.6 5.8h-7.2zM1368.2 327.3l3.6 5.8h-7.2zM1382.3 351.8l3.6 5.8h-7.2zM1374.6 366.6l3.6 5.8h-7.2zM1356 346.8l3.6 5.8h-7.2zM1373.7 333.2l3.6 5.8h-7.2zM1364.8 364.6l3.6 5.8h-7.2zM1371.7 349.4l3.6 5.8h-7.2zM1351.3 369.8l3.6 5.8h-7.2zM1400.2 330.3l3.6 5.8h-7.2zM1379 337.6l3.6 5.8h-7.2zM1339 357.5l3.6 5.8h-7.2zM1371.2 393l3.6 5.8h-7.2zM1390.2 344.8l3.6 5.8h-7.2zM1380.5 373l3.6 5.8h-7.2zM1361.7 340.2l3.6 5.8h-7.2zM1363.5 368.2l3.6 5.8h-7.2zM1390.9 372l3.6 5.8h-7.2zM1402.3 355.5l3.6 5.8h-7.2zM1358.7 345.6l3.6 5.8h-7.2zM1365.8 373.2l3.6 5.8h-7.2zM1377.1 341.9l3.6 5.8h-7.2zM1366.2 345.5l3.6 5.8h-7.2zM1377.9 369.3l3.6 5.8h-7.2zM1359 360.9l3.6 5.8h-7.2zM1364.2 368.9l3.6 5.8h-7.2zM1370.3 392.9l3.6 5.8h-7.2zM1374 344.7l3.6 5.8h-7.2zM1397 351.5l3.6 5.8h-7.2zM1378.7 364.6l3.6 5.8h-7.2zM1370.5 348.9l3.6 5.8h-7.2zM1403 348.6l3.6 5.8h-7.2zM1336.3 348l3.6 5.8h-7.2zM1374.5 367.4l3.6 5.8h-7.2zM1338.6 373.1l3.6 5.8h-7.2zM1365.5 346.5l3.6 5.8h-7.2zM1387.5 352.8l3.6 5.8h-7.2zM1380.9 378l3.6 5.8h-7.2zM1386.3 337.8l3.6 5.8h-7.2zM1390.3 348.7l3.6 5.8h-7.2zM1381.9 358.6l3.6 5.8h-7.2zM1366.4 320.1l3.6 5.8h-7.2zM1381.1 342.4l3.6 5.8h-7.2zM1370.9 355.6l3.6 5.8h-7.2zM1359.8 356l3.6 5.8h-7.2zM1350.8 348.8l3.6 5.8h-7.2zM1377.9 374.1l3.6 5.8h-7.2zM1355.8 361.7l3.6 5.8h-7.2zM1355.4 335.8l3.6 5.8h-7.2zM1374 335l3.6 5.8h-7.2zM1367.8 372.6l3.6 5.8h-7.2zM1384.9 338.5l3.6 5.8h-7.2zM1366.3 381.8l3.6 5.8h-7.2zM1362.2 332.6l3.6 5.8h-7.2zM1385.4 325.7l3.6 5.8h-7.2zM1372.7 379.1l3.6 5.8h-7.2zM1366.4 368.4l3.6 5.8h-7.2zM1417.6 314.2l3.6 5.8h-7.2zM1363.8 353.9l3.6 5.8h-7.2zM1374 345.9l3.6 5.8h-7.2zM1338.5 336.1l3.6 5.8h-7.2zM1378.2 354.8l3.6 5.8h-7.2zM1359.3 359.7l3.6 5.8h-7.2zM1376.3 349.6l3.6 5.8h-7.2zM1351.1 379.2l3.6 5.8h-7.2zM1356.2 352.7l3.6 5.8h-7.2zM1377 355l3.6 5.8h-7.2zM1377.2 353.4l3.6 5.8h-7.2zM1372.8 373.5l3.6 5.8h-7.2zM1358.2 375.9l3.6 5.8h-7.2zM1378.9 375.8l3.6 5.8h-7.2zM1359.7 354.7l3.6 5.8h-7.2zM1385.7 376.3l3.6 5.8h-7.2zM1384.9 354.2l3.6 5.8h-7.2zM1385.7 347.2l3.6 5.8h-7.2zM1367.4 334l3.6 5.8h-7.2zM1372.8 363.3l3.6 5.8h-7.2zM1339.6 315.7l3.6 5.8h-7.2zM1374 362.9l3.6 5.8h-7.2zM1366.3 335.1l3.6 5.8h-7.2zM1386.7 321.6l3.6 5.8h-7.2zM1386.9 360.6l3.6 5.8h-7.2zM1382.7 350.9l3.6 5.8h-7.2zM1366.8 344l3.6 5.8h-7.2zM1394.3 328.1l3.6 5.8h-7.2zM1363.7 403.9l3.6 5.8h-7.2zM1385 353.4l3.6 5.8h-7.2zM1406.1 379.4l3.6 5.8h-7.2zM1344.1 360.4l3.6 5.8h-7.2zM1390.9 389.8l3.6 5.8h-7.2zM1363.6 378.6l3.6 5.8h-7.2zM1365.1 354.3l3.6 5.8h-7.2zM1369.9 373.4l3.6 5.8h-7.2zM1365.7 352.1l3.6 5.8h-7.2zM1391.6 332.9l3.6 5.8h-7.2zM1398.9 366.6l3.6 5.8h-7.2zM1351.1 362.6l3.6 5.8h-7.2zM1367.3 355.5l3.6 5.8h-7.2zM1392.8 343.3l3.6 5.8h-7.2zM1360.2 369.6l3.6 5.8h-7.2zM1351.4 352l3.6 5.8h-7.2zM1354.8 338.5l3.6 5.8h-7.2zM1371.6 345.1l3.6 5.8h-7.2zM1368.6 354.6l3.6 5.8h-7.2zM1373.4 330.5l3.6 5.8h-7.2zM1342.8 374.5l3.6 5.8h-7.2zM1364.1 357.1l3.6 5.8h-7.2zM1377 358.1l3.6 5.8h-7.2zM1379.3 365l3.6 5.8h-7.2zM1377.6 325.3l3.6 5.8h-7.2zM1359.1 349.6l3.6 5.8h-7.2zM1385.9 379.7l3.6 5.8h-7.2zM1371.3 375.2l3.6 5.8h-7.2zM1379.6 342.2l3.6 5.8h-7.2zM1356 370.2l3.6 5.8h-7.2zM1391 360.3l3.6 5.8h-7.2zM1378 331.9l3.6 5.8h-7.2zM1364 338.2l3.6 5.8h-7.2zM1368.2 350.2l3.6 5.8h-7.2zM1354.4 335.3l3.6 5.8h-7.2zM1367.7 332.3l3.6 5.8h-7.2zM1382.6 332.7l3.6 5.8h-7.2zM1383.9 364.5l3.6 5.8h-7.2zM1372.8 331.5l3.6 5.8h-7.2zM1345.4 332.6l3.6 5.8h-7.2zM1391.2 392.6l3.6 5.8h-7.2zM1376.6 367.3l3.6 5.8h-7.2zM1386.3 346.9l3.6 5.8h-7.2zM1391.4 376.9l3.6 5.8h-7.2zM1369.5 376.5l3.6 5.8h-7.2zM1380.4 351.8l3.6 5.8h-7.2zM1366.6 385.4l3.6 5.8h-7.2zM1356.2 344.5l3.6 5.8h-7.2zM1385.3 354.6l3.6 5.8h-7.2zM1361.3 329.3l3.6 5.8h-7.2zM1377.2 356.3l3.6 5.8h-7.2zM1385.3 361.5l3.6 5.8h-7.2zM1391.8 375.2l3.6 5.8h-7.2zM1370.2 368.5l3.6 5.8h-7.2zM1367 380.8l3.6 5.8h-7.2zM1387.8 355.9l3.6 5.8h-7.2zM1367.3 335.1l3.6 5.8h-7.2zM1388.7 354.6l3.6 5.8h-7.2zM1369 376.3l3.6 5.8h-7.2zM1365.5 328.4l3.6 5.8h-7.2zM1389.5 371.8l3.6 5.8h-7.2zM1350.1 349.2l3.6 5.8h-7.2zM1366.3 328.3l3.6 5.8h-7.2zM1337.4 349.8l3.6 5.8h-7.2zM1369.9 354.2l3.6 5.8h-7.2zM1381.1 389.2l3.6 5.8h-7.2zM1373.4 344.2l3.6 5.8h-7.2zM1384.4 348.4l3.6 5.8h-7.2zM1374.6 361.2l3.6 5.8h-7.2zM1368.6 363.5l3.6 5.8h-7.2zM1376 345.3l3.6 5.8h-7.2zM1355.1 359.3l3.6 5.8h-7.2zM1341 345.9l3.6 5.8h-7.2zM1348.8 350.2l3.6 5.8h-7.2zM1380 314.4l3.6 5.8h-7.2zM1389.1 355.7l3.6 5.8h-7.2zM1364 355.2l3.6 5.8h-7.2zM1356.4 389.6l3.6 5.8h-7.2zM1372 338.3l3.6 5.8h-7.2zM1369.1 369.7l3.6 5.8h-7.2zM1361.9 384.3l3.6 5.8h-7.2zM1355.5 349.2l3.6 5.8h-7.2zM1408.7 353.8l3.6 5.8h-7.2zM1393.1 357l3.6 5.8h-7.2zM1372.9 341.6l3.6 5.8h-7.2zM1401.7 367.9l3.6 5.8h-7.2zM1385.8 371.1l3.6 5.8h-7.2zM1373.4 347l3.6 5.8h-7.2zM1378.8 386.2l3.6 5.8h-7.2zM1362.6 354.8l3.6 5.8h-7.2zM1398.7 342.7l3.6 5.8h-7.2zM1359.4 351.3l3.6 5.8h-7.2zM1349 351.2l3.6 5.8h-7.2zM1362.5 333.7l3.6 5.8h-7.2zM1371.5 351.7l3.6 5.8h-7.2zM1359.4 371.1l3.6 5.8h-7.2zM1392 373.1l3.6 5.8h-7.2zM1362.1 346.9l3.6 5.8h-7.2zM1395.6 344.1l3.6 5.8h-7.2zM1382.8 345.8l3.6 5.8h-7.2zM1335.3 376.5l3.6 5.8h-7.2zM1398 327.9l3.6 5.8h-7.2zM1376.9 375.7l3.6 5.8h-7.2zM1362.1 353.8l3.6 5.8h-7.2zM1378.7 378.2l3.6 5.8h-7.2zM1360.8 355.6l3.6 5.8h-7.2zM1380.4 320.4l3.6 5.8h-7.2zM1379.2 353l3.6 5.8h-7.2zM1344.1 361.7l3.6 5.8h-7.2zM1360.4 369.7l3.6 5.8h-7.2zM1387.7 343.6l3.6 5.8h-7.2zM1387.7 354.9l3.6 5.8h-7.2zM1418.6 322.1l3.6 5.8h-7.2zM1361.3 331.9l3.6 5.8h-7.2zM1383.9 346.9l3.6 5.8h-7.2zM1367.6 317.5l3.6 5.8h-7.2zM1370.5 365.1l3.6 5.8h-7.2zM1363 371.7l3.6 5.8h-7.2zM1371.3 363.3l3.6 5.8h-7.2zM1377.9 365l3.6 5.8h-7.2zM1391.9 375.6l3.6 5.8h-7.2zM1379.7 347.8l3.6 5.8h-7.2zM1362.7 347.6l3.6 5.8h-7.2zM1364.4 330.8l3.6 5.8h-7.2zM1372.9 370.1l3.6 5.8h-7.2zM1374.7 388.9l3.6 5.8h-7.2zM1353.5 351.3l3.6 5.8h-7.2zM1359.2 322.9l3.6 5.8h-7.2zM1395.3 361.8l3.6 5.8h-7.2zM1364.8 368.8l3.6 5.8h-7.2zM1362 371.6l3.6 5.8h-7.2zM1371 339.9l3.6 5.8h-7.2zM1367.5 358.9l3.6 5.8h-7.2zM1392.9 360.2l3.6 5.8h-7.2zM1393.7 354.7l3.6 5.8h-7.2zM1374.1 365l3.6 5.8h-7.2zM1380.1 383.9l3.6 5.8h-7.2zM1386.6 345.1l3.6 5.8h-7.2zM1366.1 329.4l3.6 5.8h-7.2zM1375.2 374.4l3.6 5.8h-7.2zM1358.3 350.4l3.6 5.8h-7.2zM1383 379.6l3.6 5.8h-7.2zM1373.6 358.3l3.6 5.8h-7.2zM1355.9 376l3.6 5.8h-7.2zM1368.7 360.4l3.6 5.8h-7.2zM1367 370.2l3.6 5.8h-7.2zM1359.2 374.1l3.6 5.8h-7.2zM1382.9 330.8l3.6 5.8h-7.2zM1377.4 340.1l3.6 5.8h-7.2zM1365.8 379.1l3.6 5.8h-7.2zM1378.8 321.2l3.6 5.8h-7.2zM1322.4 361.8l3.6 5.8h-7.2zM1376.1 361.3l3.6 5.8h-7.2zM1376 376.8l3.6 5.8h-7.2zM1373.2 354l3.6 5.8h-7.2zM1357.1 390.1l3.6 5.8h-7.2zM1381.6 341.6l3.6 5.8h-7.2zM1365.6 327.1l3.6 5.8h-7.2zM1380.1 377.8l3.6 5.8h-7.2zM1352.6 352.9l3.6 5.8h-7.2zM1380.8 337.9l3.6 5.8h-7.2zM1383.6 401.2l3.6 5.8h-7.2zM1339.1 385.1l3.6 5.8h-7.2zM1376 355.5l3.6 5.8h-7.2zM1367.9 368.1l3.6 5.8h-7.2zM1375.6 359.2l3.6 5.8h-7.2zM1359.2 349.1l3.6 5.8h-7.2zM1387.3 359.2l3.6 5.8h-7.2zM1373.7 363.9l3.6 5.8h-7.2zM1385.1 346.9l3.6 5.8h-7.2zM1361.5 351.9l3.6 5.8h-7.2zM1344.7 372.6l3.6 5.8h-7.2zM1361.9 368.8l3.6 5.8h-7.2zM1384.9 352.4l3.6 5.8h-7.2zM1364.1 358.9l3.6 5.8h-7.2zM1363.9 360.3l3.6 5.8h-7.2zM1380 340.2l3.6 5.8h-7.2zM1373.1 336.4l3.6 5.8h-7.2zM1374.6 389.4l3.6 5.8h-7.2zM1370.4 338.7l3.6 5.8h-7.2zM1358.9 352.8l3.6 5.8h-7.2zM1366.2 362.9l3.6 5.8h-7.2zM1355.3 324.2l3.6 5.8h-7.2zM1364.9 329.1l3.6 5.8h-7.2zM1369.4 361l3.6 5.8h-7.2zM1371.9 356.8l3.6 5.8h-7.2zM1379.3 360.7l3.6 5.8h-7.2zM1359.8 343.9l3.6 5.8h-7.2zM1350.8 318.9l3.6 5.8h-7.2zM1351.5 363.3l3.6 5.8h-7.2zM1356.3 359.8l3.6 5.8h-7.2zM1380.7 352.3l3.6 5.8h-7.2zM1345.1 331.5l3.6 5.8h-7.2zM1351.1 334l3.6 5.8h-7.2zM1367.8 333.8l3.6 5.8h-7.2zM1369.1 340.5l3.6 5.8h-7.2zM1354.4 321.7l3.6 5.8h-7.2zM1372.4 346.4l3.6 5.8h-7.2zM1366.2 339.4l3.6 5.8h-7.2zM1370.5 351.2l3.6 5.8h-7.2zM1355.9 355l3.6 5.8h-7.2zM1373.4 332l3.6 5.8h-7.2zM1363.7 361.3l3.6 5.8h-7.2zM1376.7 380.2l3.6 5.8h-7.2zM1358.8 377.6l3.6 5.8h-7.2zM1370.6 381.6l3.6 5.8h-7.2zM1379.4 361.9l3.6 5.8h-7.2zM1335.5 361.9l3.6 5.8h-7.2zM1359.4 378l3.6 5.8h-7.2zM1369.5 335.4l3.6 5.8h-7.2zM1389.6 363.8l3.6 5.8h-7.2zM1372.2 302.9l3.6 5.8h-7.2zM1390.2 362.7l3.6 5.8h-7.2zM1363.8 336l3.6 5.8h-7.2zM1356.6 347.7l3.6 5.8h-7.2zM1366.8 336.3l3.6 5.8h-7.2zM1376.6 343.6l3.6 5.8h-7.2zM1381.6 342.8l3.6 5.8h-7.2zM1382.4 363.3l3.6 5.8h-7.2zM1360.3 367.3l3.6 5.8h-7.2zM1381.6 349.9l3.6 5.8h-7.2zM1376.4 320.2l3.6 5.8h-7.2zM1359 356l3.6 5.8h-7.2zM1381 372.6l3.6 5.8h-7.2zM1383.4 368.2l3.6 5.8h-7.2zM1353.9 352.1l3.6 5.8h-7.2zM1372.1 355.3l3.6 5.8h-7.2zM1366.5 349.8l3.6 5.8h-7.2zM1322.4 367.5l3.6 5.8h-7.2zM1376.2 370.3l3.6 5.8h-7.2zM1347.8 341.7l3.6 5.8h-7.2zM1369.8 347.5l3.6 5.8h-7.2zM1351.4 325.2l3.6 5.8h-7.2zM1358.8 366.9l3.6 5.8h-7.2zM1368.8 354.9l3.6 5.8h-7.2zM1369.1 366.9l3.6 5.8h-7.2zM1369.3 389.1l3.6 5.8h-7.2zM1372.5 324.3l3.6 5.8h-7.2zM1363.3 365.6l3.6 5.8h-7.2zM1364.8 340.5l3.6 5.8h-7.2zM1375.3 374l3.6 5.8h-7.2zM1386.4 357.6l3.6 5.8h-7.2zM1369.9 375.2l3.6 5.8h-7.2zM1368.7 389.4l3.6 5.8h-7.2zM1373.1 343.9l3.6 5.8h-7.2zM1376.9 329.2l3.6 5.8h-7.2zM1356.6 333.4l3.6 5.8h-7.2zM1387.4 380.9l3.6 5.8h-7.2zM1362.5 376.2l3.6 5.8h-7.2zM1352 371.7l3.6 5.8h-7.2zM1398.9 361.9l3.6 5.8h-7.2zM1396.5 365.9l3.6 5.8h-7.2zM1356.2 349.1l3.6 5.8h-7.2zM1364.6 336.8l3.6 5.8h-7.2zM1372.6 359.2l3.6 5.8h-7.2zM1395.5 365.1l3.6 5.8h-7.2zM1404.6 380.8l3.6 5.8h-7.2zM1373.5 361.8l3.6 5.8h-7.2zM1384.2 326l3.6 5.8h-7.2zM1388.6 352.9l3.6 5.8h-7.2zM1381.8 362.1l3.6 5.8h-7.2zM1357.2 363.3l3.6 5.8h-7.2zM1371.6 345.4l3.6 5.8h-7.2zM1363.8 335.8l3.6 5.8h-7.2zM1377.7 322.6l3.6 5.8h-7.2zM1380.4 406.3l3.6 5.8h-7.2zM1361.3 355.2l3.6 5.8h-7.2zM1371.6 307.4l3.6 5.8h-7.2zM1366 409l3.6 5.8h-7.2zM1370.4 369.4l3.6 5.8h-7.2zM1396.9 366.6l3.6 5.8h-7.2zM1363.3 380.6l3.6 5.8h-7.2zM1386.2 377.5l3.6 5.8h-7.2zM1355.5 339.5l3.6 5.8h-7.2zM1357.2 362.5l3.6 5.8h-7.2zM1388.3 351.8l3.6 5.8h-7.2zM1376.3 376.1l3.6 5.8h-7.2zM1373.6 324.5l3.6 5.8h-7.2zM1360.8 356l3.6 5.8h-7.2zM1375.3 332.8l3.6 5.8h-7.2zM1349 332.6l3.6 5.8h-7.2zM1352.9 323.3l3.6 5.8h-7.2zM1388.3 351.7l3.6 5.8h-7.2zM1376.6 334.7l3.6 5.8h-7.2zM1370.1 328.5l3.6 5.8h-7.2zM1367.9 366.5l3.6 5.8h-7.2zM1399.3 376.7l3.6 5.8h-7.2zM1362.8 343.5l3.6 5.8h-7.2zM1378.9 350.2l3.6 5.8h-7.2zM1390.7 377.8l3.6 5.8h-7.2zM1400.8 357.8l3.6 5.8h-7.2zM1398.7 350.6l3.6 5.8h-7.2zM1359.2 398.2l3.6 5.8h-7.2zM1384.1 350.9l3.6 5.8h-7.2zM1387.2 351.8l3.6 5.8h-7.2zM1377.5 378.2l3.6 5.8h-7.2zM1374.4 340.3l3.6 5.8h-7.2zM1360.4 341.2l3.6 5.8h-7.2zM1389.7 340.6l3.6 5.8h-7.2zM1370.9 369.6l3.6 5.8h-7.2zM1359.5 352.5l3.6 5.8h-7.2zM1362.5 383.8l3.6 5.8h-7.2zM1366.2 355.3l3.6 5.8h-7.2zM1367.2 371.8l3.6 5.8h-7.2zM1396 367.4l3.6 5.8h-7.2zM1364.9 368.1l3.6 5.8h-7.2zM1357.4 343l3.6 5.8h-7.2zM1381.3 378.4l3.6 5.8h-7.2zM1374.2 355l3.6 5.8h-7.2zM1363.3 326.6l3.6 5.8h-7.2zM1349 348.7l3.6 5.8h-7.2zM1351.1 357.1l3.6 5.8h-7.2zM1372.5 364.4l3.6 5.8h-7.2zM1384.1 377.9l3.6 5.8h-7.2zM1390.8 366.4l3.6 5.8h-7.2zM1342.2 336.6l3.6 5.8h-7.2zM1358.8 361.4l3.6 5.8h-7.2zM1365.1 311.9l3.6 5.8h-7.2zM1373 354.2l3.6 5.8h-7.2zM1361.5 387.1l3.6 5.8h-7.2zM1381.9 347.9l3.6 5.8h-7.2zM1388.4 326.1l3.6 5.8h-7.2zM1386.5 337.6l3.6 5.8h-7.2zM1357.2 384.8l3.6 5.8h-7.2zM1394.4 330.8l3.6 5.8h-7.2zM1348.6 347.2l3.6 5.8h-7.2zM1355.4 337.6l3.6 5.8h-7.2zM1399.8 339.6l3.6 5.8h-7.2zM1363.2 373.6l3.6 5.8h-7.2zM1365.4 324.9l3.6 5.8h-7.2zM1368.5 334.6l3.6 5.8h-7.2zM1361.1 352.1l3.6 5.8h-7.2zM1407.8 349l3.6 5.8h-7.2zM1366.3 365.5l3.6 5.8h-7.2zM1387.4 375.5l3.6 5.8h-7.2zM1379.4 342.7l3.6 5.8h-7.2zM1337.6 341.2l3.6 5.8h-7.2zM1323 340.3l3.6 5.8h-7.2zM1327.2 347l3.6 5.8h-7.2zM1324.3 342.3l3.6 5.8h-7.2zM1336.7 353.9l3.6 5.8h-7.2zM1331.6 354.3l3.6 5.8h-7.2zM1321.6 351.9l3.6 5.8h-7.2zM1324.3 332.7l3.6 5.8h-7.2zM1314.6 337.4l3.6 5.8h-7.2zM1321 333.2l3.6 5.8h-7.2zM1320.2 339l3.6 5.8h-7.2zM1314.5 336.9l3.6 5.8h-7.2zM1338.9 337l3.6 5.8h-7.2zM1315 333.5l3.6 5.8h-7.2zM1319.5 329.4l3.6 5.8h-7.2zM1318 337l3.6 5.8h-7.2zM1322.5 344.8l3.6 5.8h-7.2zM1317.7 339.8l3.6 5.8h-7.2zM1325.2 355l3.6 5.8h-7.2zM1322.8 338l3.6 5.8h-7.2zM1329 345.9l3.6 5.8h-7.2zM1325.2 346.7l3.6 5.8h-7.2zM1322.3 350.5l3.6 5.8h-7.2zM1319 322.2l3.6 5.8h-7.2zM1299.4 348.7l3.6 5.8h-7.2zM1318.6 342.5l3.6 5.8h-7.2zM1313.3 330.4l3.6 5.8h-7.2zM1323.8 348l3.6 5.8h-7.2zM1326.1 344.3l3.6 5.8h-7.2zM1326.8 333l3.6 5.8h-7.2zM1310.2 347.5l3.6 5.8h-7.2zM1312.3 335.9l3.6 5.8h-7.2zM1319.6 347.8l3.6 5.8h-7.2zM1331.3 352.8l3.6 5.8h-7.2zM1335.6 336.7l3.6 5.8h-7.2zM1312.8 333.7l3.6 5.8h-7.2zM1323.3 339.3l3.6 5.8h-7.2zM1319.1 330.7l3.6 5.8h-7.2zM1346.3 349.5l3.6 5.8h-7.2zM1317.5 344.4l3.6 5.8h-7.2zM1320.3 328.7l3.6 5.8h-7.2zM1300 355.8l3.6 5.8h-7.2zM1317.3 339.2l3.6 5.8h-7.2zM1316.2 330.1l3.6 5.8h-7.2zM1324.9 330.2l3.6 5.8h-7.2zM1315.1 356.8l3.6 5.8h-7.2zM1323.1 354.8l3.6 5.8h-7.2zM1316.8 334.9l3.6 5.8h-7.2zM1327.1 345.6l3.6 5.8h-7.2zM1323.5 343.5l3.6 5.8h-7.2zM1327.4 318.3l3.6 5.8h-7.2zM1313.2 326.5l3.6 5.8h-7.2zM1322.2 342.1l3.6 5.8h-7.2zM1319.7 342.6l3.6 5.8h-7.2zM1330.4 342.8l3.6 5.8h-7.2zM1316.6 338.1l3.6 5.8h-7.2zM1322.4 350l3.6 5.8h-7.2zM1334.1 314.9l3.6 5.8h-7.2zM1323.9 335.4l3.6 5.8h-7.2zM1311.1 348.1l3.6 5.8h-7.2zM1309 351.5l3.6 5.8h-7.2zM1315 333.7l3.6 5.8h-7.2zM1306.5 333.5l3.6 5.8h-7.2zM1320.5 335.9l3.6 5.8h-7.2zM1312.1 357.5l3.6 5.8h-7.2zM1303 349.7l3.6 5.8h-7.2zM1324.2 343l3.6 5.8h-7.2zM1349.9 321.9l3.6 5.8h-7.2zM1315.8 336.6l3.6 5.8h-7.2zM1315 335.7l3.6 5.8h-7.2zM1329.7 397.3l3.6 5.8h-7.2zM1300.6 378.8l3.6 5.8h-7.2zM1305 390.7l3.6 5.8h-7.2zM1307.4 398.3l3.6 5.8h-7.2zM1283 382.4l3.6 5.8h-7.2zM1281.6 387.9l3.6 5.8h-7.2zM1309.6 384.5l3.6 5.8h-7.2zM1306.4 403.2l3.6 5.8h-7.2zM1298.5 399.6l3.6 5.8h-7.2zM1324.2 399.7l3.6 5.8h-7.2zM1294.2 378l3.6 5.8h-7.2zM1292.7 384.9l3.6 5.8h-7.2zM1343.7 399.9l3.6 5.8h-7.2zM1311.3 387.1l3.6 5.8h-7.2zM1278.9 351l3.6 5.8h-7.2zM1308.6 391.1l3.6 5.8h-7.2zM1330.2 390.3l3.6 5.8h-7.2zM1279.5 368.6l3.6 5.8h-7.2zM1304.6 377.7l3.6 5.8h-7.2zM1286.8 380.1l3.6 5.8h-7.2zM1306.1 378.4l3.6 5.8h-7.2zM1317.9 395.3l3.6 5.8h-7.2zM1334.2 375.7l3.6 5.8h-7.2zM1305.7 382l3.6 5.8h-7.2zM1312.6 385l3.6 5.8h-7.2zM1316.7 370.6l3.6 5.8h-7.2zM1306.3 395.7l3.6 5.8h-7.2zM1318 386.8l3.6 5.8h-7.2zM1308 373.2l3.6 5.8h-7.2zM1325.5 398.6l3.6 5.8h-7.2zM1301.6 368.9l3.6 5.8h-7.2zM1298.7 384.6l3.6 5.8h-7.2zM1277.5 390.1l3.6 5.8h-7.2zM1304.8 382.2l3.6 5.8h-7.2zM1344.4 392.8l3.6 5.8h-7.2zM1297.6 397.3l3.6 5.8h-7.2zM1319 383.4l3.6 5.8h-7.2zM1313.7 390.8l3.6 5.8h-7.2zM1321.8 379.8l3.6 5.8h-7.2zM1308.8 387.5l3.6 5.8h-7.2zM1323.5 402.1l3.6 5.8h-7.2zM1295.4 367.9l3.6 5.8h-7.2zM1278.1 383.9l3.6 5.8h-7.2zM1295.4 393.6l3.6 5.8h-7.2zM1322 382.7l3.6 5.8h-7.2zM1310.1 388l3.6 5.8h-7.2zM1300.8 390.8l3.6 5.8h-7.2zM1285.5 384.7l3.6 5.8h-7.2zM1284 395.2l3.6 5.8h-7.2zM1282.3 380.2l3.6 5.8h-7.2zM1306.9 391.4l3.6 5.8h-7.2zM1279.9 388.4l3.6 5.8h-7.2zM1295.4 384.6l3.6 5.8h-7.2zM1312.5 399.8l3.6 5.8h-7.2zM1309 370.9l3.6 5.8h-7.2zM1301.6 376.3l3.6 5.8h-7.2zM1303.4 375.7l3.6 5.8h-7.2zM1294.1 372.5l3.6 5.8h-7.2zM1300.9 367.7l3.6 5.8h-7.2zM1294 384.2l3.6 5.8h-7.2zM1300.1 379.1l3.6 5.8h-7.2zM1316.9 406.2l3.6 5.8h-7.2zM1304 384.7l3.6 5.8h-7.2zM1278.1 360.1l3.6 5.8h-7.2zM1309.5 396.6l3.6 5.8h-7.2zM1304.3 391.1l3.6 5.8h-7.2zM1288.9 389.5l3.6 5.8h-7.2zM1321.6 400.5l3.6 5.8h-7.2zM1310.5 394.6l3.6 5.8h-7.2zM1291.6 392.6l3.6 5.8h-7.2zM1299.7 372.1l3.6 5.8h-7.2zM1292 388.4l3.6 5.8h-7.2zM1302.4 368.8l3.6 5.8h-7.2zM1292.5 378.7l3.6 5.8h-7.2zM1312 364.3l3.6 5.8h-7.2zM1319.5 389l3.6 5.8h-7.2zM1315 392.5l3.6 5.8h-7.2zM1299.5 374.4l3.6 5.8h-7.2zM1299 368.5l3.6 5.8h-7.2zM1316.4 390.2l3.6 5.8h-7.2zM1317.6 388.9l3.6 5.8h-7.2zM1319.5 383.9l3.6 5.8h-7.2zM1321.3 385.6l3.6 5.8h-7.2zM1308.9 392.3l3.6 5.8h-7.2zM1331.6 387.2l3.6 5.8h-7.2zM1288 394.9l3.6 5.8h-7.2zM1302.6 385.5l3.6 5.8h-7.2zM1288.4 390.5l3.6 5.8h-7.2zM1301.8 391.2l3.6 5.8h-7.2zM1324.3 399.2l3.6 5.8h-7.2zM1417.4 326.4l3.6 5.8h-7.2zM1415.9 321.6l3.6 5.8h-7.2zM1419.6 326.4l3.6 5.8h-7.2zM1450.2 328.9l3.6 5.8h-7.2zM1454.2 354.2l3.6 5.8h-7.2zM1445.3 351.8l3.6 5.8h-7.2zM1441.2 350.5l3.6 5.8h-7.2zM1449.5 342l3.6 5.8h-7.2zM1415.2 341.9l3.6 5.8h-7.2zM1422.7 349l3.6 5.8h-7.2zM1434.6 298.8l3.6 5.8h-7.2zM1442.9 326.3l3.6 5.8h-7.2zM1447.3 331.5l3.6 5.8h-7.2zM1446.2 350.2l3.6 5.8h-7.2zM1452.9 347.7l3.6 5.8h-7.2zM1419.7 331.3l3.6 5.8h-7.2zM1420.1 361.1l3.6 5.8h-7.2zM1439.8 343.8l3.6 5.8h-7.2zM1423.8 316.8l3.6 5.8h-7.2zM1419.6 345.2l3.6 5.8h-7.2zM1389 339.7l3.6 5.8h-7.2zM1429.2 350.1l3.6 5.8h-7.2zM1425.2 323.4l3.6 5.8h-7.2zM1438.6 336.6l3.6 5.8h-7.2zM1432.3 339.9l3.6 5.8h-7.2zM1443.2 333l3.6 5.8h-7.2zM1441 325.7l3.6 5.8h-7.2zM1433.9 352.4l3.6 5.8h-7.2zM1440.7 355.6l3.6 5.8h-7.2zM1417.9 337.1l3.6 5.8h-7.2zM1429.5 383.2l3.6 5.8h-7.2zM1435.8 346.4l3.6 5.8h-7.2zM1419.6 356.5l3.6 5.8h-7.2zM1451.2 322.6l3.6 5.8h-7.2zM1426.3 320.8l3.6 5.8h-7.2zM1402.6 380.7l3.6 5.8h-7.2zM1440.9 320.1l3.6 5.8h-7.2zM1419.9 338.5l3.6 5.8h-7.2zM1413.7 340l3.6 5.8h-7.2zM1406.1 308.1l3.6 5.8h-7.2zM1445 361.4l3.6 5.8h-7.2zM1436.8 320.3l3.6 5.8h-7.2zM1432.3 326.6l3.6 5.8h-7.2zM1424.3 335.3l3.6 5.8h-7.2zM1435.4 329.2l3.6 5.8h-7.2zM1418.7 389.5l3.6 5.8h-7.2zM1435.4 345.7l3.6 5.8h-7.2zM1442.5 337.2l3.6 5.8h-7.2zM1420.9 341.1l3.6 5.8h-7.2zM1454.5 332l3.6 5.8h-7.2zM1404.4 355.9l3.6 5.8h-7.2zM1437.4 330.4l3.6 5.8h-7.2zM1405.7 349.1l3.6 5.8h-7.2zM1449.4 340.5l3.6 5.8h-7.2zM1430.3 347.3l3.6 5.8h-7.2zM1432.7 358.2l3.6 5.8h-7.2zM1417 339l3.6 5.8h-7.2zM1443.6 350.8l3.6 5.8h-7.2zM1430.6 337.8l3.6 5.8h-7.2zM1435.8 345l3.6 5.8h-7.2zM1431.9 352.4l3.6 5.8h-7.2zM1435.1 345.7l3.6 5.8h-7.2zM1421.9 333l3.6 5.8h-7.2zM1435.2 353.2l3.6 5.8h-7.2zM1437.4 350.2l3.6 5.8h-7.2zM1408.3 370.9l3.6 5.8h-7.2zM1430.4 378.8l3.6 5.8h-7.2zM1433.8 336.5l3.6 5.8h-7.2zM1425.5 369.6l3.6 5.8h-7.2zM1415 348.2l3.6 5.8h-7.2zM1445.9 324.7l3.6 5.8h-7.2zM1447.6 359.5l3.6 5.8h-7.2zM1409.8 346.9l3.6 5.8h-7.2zM1449.4 348l3.6 5.8h-7.2zM1438.7 347.4l3.6 5.8h-7.2zM1440.6 322.6l3.6 5.8h-7.2zM1418.6 324l3.6 5.8h-7.2zM1451.4 349.1l3.6 5.8h-7.2zM1409.7 366.5l3.6 5.8h-7.2zM1419.5 355.4l3.6 5.8h-7.2zM1407.5 364.3l3.6 5.8h-7.2zM1410.1 323.1l3.6 5.8h-7.2zM1399.1 325.4l3.6 5.8h-7.2zM1410.6 353.3l3.6 5.8h-7.2zM1444.9 356.1l3.6 5.8h-7.2zM1417.7 324.6l3.6 5.8h-7.2zM1433.9 350.2l3.6 5.8h-7.2zM1437.2 321l3.6 5.8h-7.2zM1404.2 322.2l3.6 5.8h-7.2zM1417.6 336.2l3.6 5.8h-7.2zM1434 310.3l3.6 5.8h-7.2zM1440.7 332.2l3.6 5.8h-7.2zM1436 319.3l3.6 5.8h-7.2zM1443.2 355.2l3.6 5.8h-7.2zM1413.8 333.6l3.6 5.8h-7.2zM1393.5 342.8l3.6 5.8h-7.2zM1434.5 344.5l3.6 5.8h-7.2zM1437.8 303.3l3.6 5.8h-7.2zM1429 335.6l3.6 5.8h-7.2zM1403.6 342.2l3.6 5.8h-7.2zM1426.2 356.4l3.6 5.8h-7.2zM1417.4 340.3l3.6 5.8h-7.2zM1425.7 346.5l3.6 5.8h-7.2zM1401 343l3.6 5.8h-7.2zM1425.5 358.3l3.6 5.8h-7.2zM1422.4 338.2l3.6 5.8h-7.2zM1426.5 367.1l3.6 5.8h-7.2zM1405.5 352.3l3.6 5.8h-7.2zM1414.7 344.1l3.6 5.8h-7.2zM1439.5 348.5l3.6 5.8h-7.2zM1400.8 306.8l3.6 5.8h-7.2zM1402.6 303.3l3.6 5.8h-7.2zM1346.3 301.6l3.6 5.8h-7.2zM1349.5 291.4l3.6 5.8h-7.2zM1360.4 303.5l3.6 5.8h-7.2zM1402 307.2l3.6 5.8h-7.2zM1414.6 312.6l3.6 5.8h-7.2zM1382.8 319l3.6 5.8h-7.2zM1372.8 298.1l3.6 5.8h-7.2zM1351.6 295.3l3.6 5.8h-7.2zM1412.8 307.9l3.6 5.8h-7.2zM1369.2 294.9l3.6 5.8h-7.2zM1402.4 294.4l3.6 5.8h-7.2zM1373 318.2l3.6 5.8h-7.2zM1368.3 315.5l3.6 5.8h-7.2zM1408.6 313.4l3.6 5.8h-7.2zM1344.4 299.4l3.6 5.8h-7.2zM1371.3 290.6l3.6 5.8h-7.2zM1381.8 297.1l3.6 5.8h-7.2zM1326.2 322.4l3.6 5.8h-7.2zM1386.9 285.7l3.6 5.8h-7.2zM1390.3 288.1l3.6 5.8h-7.2zM1400.6 313.2l3.6 5.8h-7.2zM1372.9 300.3l3.6 5.8h-7.2zM1377.8 292.6l3.6 5.8h-7.2zM1413.3 318.5l3.6 5.8h-7.2zM1415.2 288.2l3.6 5.8h-7.2zM1355 304.1l3.6 5.8h-7.2zM1404.9 290.4l3.6 5.8h-7.2zM1393.7 311.5l3.6 5.8h-7.2zM1387.7 302.3l3.6 5.8h-7.2zM1384 296l3.6 5.8h-7.2zM1413.3 306.3l3.6 5.8h-7.2zM1414.9 317.4l3.6 5.8h-7.2zM1338.4 304.6l3.6 5.8h-7.2zM1340.4 304.3l3.6 5.8h-7.2zM1393.5 312.8l3.6 5.8h-7.2zM1345.6 298.5l3.6 5.8h-7.2zM1376.1 312.9l3.6 5.8h-7.2zM1331.2 320.7l3.6 5.8h-7.2zM1390.2 305l3.6 5.8h-7.2zM1353.5 304.4l3.6 5.8h-7.2zM1354.4 323.4l3.6 5.8h-7.2zM1388.8 297.1l3.6 5.8h-7.2zM1347.8 299.6l3.6 5.8h-7.2zM1383.6 300.7l3.6 5.8h-7.2zM1384.9 287.4l3.6 5.8h-7.2zM1406 303l3.6 5.8h-7.2zM1426.1 304l3.6 5.8h-7.2zM1410.4 292.2l3.6 5.8h-7.2zM1393 307.2l3.6 5.8h-7.2zM1366.4 299.3l3.6 5.8h-7.2zM1373.7 300.2l3.6 5.8h-7.2zM1323.5 313.9l3.6 5.8h-7.2zM1368.7 312.2l3.6 5.8h-7.2zM1347.9 288.9l3.6 5.8h-7.2zM1398 313.4l3.6 5.8h-7.2zM1409.6 286l3.6 5.8h-7.2zM1386.2 290.2l3.6 5.8h-7.2zM1365.1 306l3.6 5.8h-7.2zM1339 296.3l3.6 5.8h-7.2zM1374.3 297.8l3.6 5.8h-7.2zM1403.3 300.9l3.6 5.8h-7.2zM1364.7 312.8l3.6 5.8h-7.2zM1430.2 292.1l3.6 5.8h-7.2zM1400.6 299.6l3.6 5.8h-7.2zM1350.7 303.9l3.6 5.8h-7.2zM1388.3 287.8l3.6 5.8h-7.2zM1400.2 321.8l3.6 5.8h-7.2zM1425.5 291.4l3.6 5.8h-7.2zM1367.1 296.2l3.6 5.8h-7.2zM1391.3 295.7l3.6 5.8h-7.2zM1425.8 302.6l3.6 5.8h-7.2zM1415.5 306l3.6 5.8h-7.2zM1373.6 313.6l3.6 5.8h-7.2zM1384.1 300.6l3.6 5.8h-7.2zM1390 306.9l3.6 5.8h-7.2zM1339 314.6l3.6 5.8h-7.2zM1371.5 289.2l3.6 5.8h-7.2zM1379.8 282l3.6 5.8h-7.2zM1365.5 300.7l3.6 5.8h-7.2zM1337.5 294.1l3.6 5.8h-7.2zM1312.5 302.1l3.6 5.8h-7.2zM1383 291.2l3.6 5.8h-7.2zM1312 306.8l3.6 5.8h-7.2zM1359.7 286.2l3.6 5.8h-7.2zM1359.5 312.4l3.6 5.8h-7.2zM1396.2 305l3.6 5.8h-7.2zM1339.8 292.5l3.6 5.8h-7.2zM1376.8 303.2l3.6 5.8h-7.2zM1376.3 296.4l3.6 5.8h-7.2zM1349.5 306.6l3.6 5.8h-7.2zM1362.3 292.5l3.6 5.8h-7.2zM1365.2 296.7l3.6 5.8h-7.2zM1414.7 296.2l3.6 5.8h-7.2zM1404.7 314.1l3.6 5.8h-7.2zM1376.2 298.1l3.6 5.8h-7.2zM1341.6 291.6l3.6 5.8h-7.2zM1330.6 302.1l3.6 5.8h-7.2zM1411.4 304.3l3.6 5.8h-7.2zM1410.9 308.3l3.6 5.8h-7.2zM1390.4 298.6l3.6 5.8h-7.2zM1383.3 318.1l3.6 5.8h-7.2zM1400.6 314l3.6 5.8h-7.2zM1351.8 301.2l3.6 5.8h-7.2zM1351 296.7l3.6 5.8h-7.2zM1393.6 294.4l3.6 5.8h-7.2zM1321 300.5l3.6 5.8h-7.2zM1368.7 309.1l3.6 5.8h-7.2zM1379.6 292.9l3.6 5.8h-7.2zM1385.5 393.7l3.6 5.8h-7.2zM1379.8 392.1l3.6 5.8h-7.2zM1416.5 367.1l3.6 5.8h-7.2zM1278.9 377.9l3.6 5.8h-7.2zM1340.8 308.1l3.6 5.8h-7.2zM1358.1 324.9l3.6 5.8h-7.2zM1326.9 321.3l3.6 5.8h-7.2zM1373.7 375.4l3.6 5.8h-7.2zM1411.1 373l3.6 5.8h-7.2zM1387.6 348.6l3.6 5.8h-7.2zM1435 378.7l3.6 5.8h-7.2zM1364.2 291.8l3.6 5.8h-7.2zM1371.8 364l3.6 5.8h-7.2zM1376.8 400.2l3.6 5.8h-7.2zM1379.1 402.3l3.6 5.8h-7.2zM1261.9 354l3.6 5.8h-7.2zM1306.9 374.5l3.6 5.8h-7.2zM1356.9 288.2l3.6 5.8h-7.2zM1408.9 334.4l3.6 5.8h-7.2zM1326.4 304.1l3.6 5.8h-7.2zM1370.1 368.6l3.6 5.8h-7.2zM1405.5 354.2l3.6 5.8h-7.2zM1416.4 327.2l3.6 5.8h-7.2zM1339.4 353.9l3.6 5.8h-7.2zM1281.8 313.3l3.6 5.8h-7.2zM1377.8 321.3l3.6 5.8h-7.2zM1298.3 337.9l3.6 5.8h-7.2zM1337.7 398.5l3.6 5.8h-7.2zM1368.9 350.5l3.6 5.8h-7.2zM1393.9 307.7l3.6 5.8h-7.2zM1374.8 390.2l3.6 5.8h-7.2zM1281.2 367.5l3.6 5.8h-7.2zM1378.9 310.2l3.6 5.8h-7.2zM1370.8 295.6l3.6 5.8h-7.2zM1322.1 320.9l3.6 5.8h-7.2zM1390.5 401.9l3.6 5.8h-7.2zM1412.5 364l3.6 5.8h-7.2zM1308 344.4l3.6 5.8h-7.2zM1316.9 314.9l3.6 5.8h-7.2zM1419.6 377.9l3.6 5.8h-7.2zM1361.8 369.5l3.6 5.8h-7.2zM1356.1 348.1l3.6 5.8h-7.2zM1358.7 390.8l3.6 5.8h-7.2zM1348.1 315.4l3.6 5.8h-7.2zM1365.4 372.8l3.6 5.8h-7.2zM1415.9 344.1l3.6 5.8h-7.2zM1355.2 310.6l3.6 5.8h-7.2zM1363.6 384.4l3.6 5.8h-7.2zM1387.8 406.6l3.6 5.8h-7.2zM1344.7 397.9l3.6 5.8h-7.2zM1352.6 299.5l3.6 5.8h-7.2zM1342.2 340.1l3.6 5.8h-7.2zM1296.9 345.9l3.6 5.8h-7.2zM1448.3 335.7l3.6 5.8h-7.2zM1402.2 317.2l3.6 5.8h-7.2zM1291.1 317.1l3.6 5.8h-7.2zM1339.9 370.3l3.6 5.8h-7.2zM1365 369.1l3.6 5.8h-7.2zM1367.7 291.2l3.6 5.8h-7.2zM1294.7 336.1l3.6 5.8h-7.2zM1394.7 334.2l3.6 5.8h-7.2zM1403 304.6l3.6 5.8h-7.2zM1333.4 389.7l3.6 5.8h-7.2zM1351 331.1l3.6 5.8h-7.2zM1419.5 358.7l3.6 5.8h-7.2zM1298.6 310.5l3.6 5.8h-7.2zM1290.2 372.9l3.6 5.8h-7.2zM1336.7 276.8l3.6 5.8h-7.2zM1331.3 322l3.6 5.8h-7.2zM1337.3 369.7l3.6 5.8h-7.2zM1281.3 380.5l3.6 5.8h-7.2zM1362.3 324.7l3.6 5.8h-7.2zM1281.6 336.5l3.6 5.8h-7.2zM1342.6 345.3l3.6 5.8h-7.2zM1391.7 368.5l3.6 5.8h-7.2zM1397.9 295.1l3.6 5.8h-7.2zM1368.6 400.6l3.6 5.8h-7.2zM1287.9 382.7l3.6 5.8h-7.2zM1276.9 342.4l3.6 5.8h-7.2zM1372.3 280.7l3.6 5.8h-7.2zM1415.9 328.9l3.6 5.8h-7.2zM1385.5 379.8l3.6 5.8h-7.2zM1344.3 330l3.6 5.8h-7.2zM1370.5 385l3.6 5.8h-7.2zM1383 314l3.6 5.8h-7.2zM1293.6 326.2l3.6 5.8h-7.2zM1417.9 297.5l3.6 5.8h-7.2zM1370.6 301.6l3.6 5.8h-7.2zM1343.7 389.1l3.6 5.8h-7.2zM1352.9 345.2l3.6 5.8h-7.2zM1357.1 355.5l3.6 5.8h-7.2zM1334.9 277l3.6 5.8h-7.2zM1377.3 356.6l3.6 5.8h-7.2zM1374.3 395.9l3.6 5.8h-7.2zM1346.5 322.9l3.6 5.8h-7.2zM1318.6 387.8l3.6 5.8h-7.2zM1441.8 343.4l3.6 5.8h-7.2zM1339.7 316.1l3.6 5.8h-7.2zM1308.2 374.2l3.6 5.8h-7.2zM1313.5 380.1l3.6 5.8h-7.2zM1371.9 409.5l3.6 5.8h-7.2zM1348.7 369.2l3.6 5.8h-7.2zM1406.2 339.1l3.6 5.8h-7.2zM1314.8 383.8l3.6 5.8h-7.2zM1396.8 312l3.6 5.8h-7.2zM1392.3 357.3l3.6 5.8h-7.2zM1391.2 355.2l3.6 5.8h-7.2zM1426.2 398.9l3.6 5.8h-7.2zM1401.5 299.5l3.6 5.8h-7.2zM1369.9 335.6l3.6 5.8h-7.2zM1346.4 364l3.6 5.8h-7.2zM1389 324.6l3.6 5.8h-7.2zM1422.2 325.5l3.6 5.8h-7.2zM1370.6 369.7l3.6 5.8h-7.2zM1302.9 377.4l3.6 5.8h-7.2zM1341.4 293.8l3.6 5.8h-7.2zM1314.3 326.9l3.6 5.8h-7.2zM1415.8 358.4l3.6 5.8h-7.2zM1408.1 308.7l3.6 5.8h-7.2zM1439.4 333.8l3.6 5.8h-7.2zM1418.7 317.9l3.6 5.8h-7.2zM1359.3 279.5l3.6 5.8h-7.2zM1333.6 276.2l3.6 5.8h-7.2zM1357.5 364l3.6 5.8h-7.2zM1400.5 365l3.6 5.8h-7.2zM1382.7 361.5l3.6 5.8h-7.2zM1347.6 370.6l3.6 5.8h-7.2zM1351.1 381.7l3.6 5.8h-7.2zM1391.1 357.9l3.6 5.8h-7.2zM1377.1 341.9l3.6 5.8h-7.2zM1437.3 315.1l3.6 5.8h-7.2zM1279.3 359.2l3.6 5.8h-7.2zM1363.9 324.6l3.6 5.8h-7.2zM1320.6 380.6l3.6 5.8h-7.2zM1391.8 353l3.6 5.8h-7.2zM1373.4 321.5l3.6 5.8h-7.2zM1445.8 307.3l3.6 5.8h-7.2zM1288.1 307.9l3.6 5.8h-7.2zM1383.6 312l3.6 5.8h-7.2zM1392.3 358.2l3.6 5.8h-7.2zM1332.3 292l3.6 5.8h-7.2zM1430.7 350l3.6 5.8h-7.2zM1362 333.3l3.6 5.8h-7.2zM1369.9 372.2l3.6 5.8h-7.2zM1348.2 292.6l3.6 5.8h-7.2zM1372.1 333l3.6 5.8h-7.2zM1421.9 317.6l3.6 5.8h-7.2zM1353.6 295.8l3.6 5.8h-7.2zM1316.8 282.3l3.6 5.8h-7.2zM1358.1 379.8l3.6 5.8h-7.2zM1390.1 319.5l3.6 5.8h-7.2zM1330 358l3.6 5.8h-7.2zM1285.3 336.1l3.6 5.8h-7.2zM1368.5 341.4l3.6 5.8h-7.2zM1392 326.1l3.6 5.8h-7.2zM1407.5 311.7l3.6 5.8h-7.2zM1367.3 323.2l3.6 5.8h-7.2zM1407.8 371.9l3.6 5.8h-7.2zM1401 317.9l3.6 5.8h-7.2zM1328.8 335.4l3.6 5.8h-7.2zM1391 332.1l3.6 5.8h-7.2zM1407.7 290.1l3.6 5.8h-7.2zM1289.6 407.4l3.6 5.8h-7.2zM1300.2 344.8l3.6 5.8h-7.2zM1373.4 389.7l3.6 5.8h-7.2zM1372.8 331l3.6 5.8h-7.2zM1343.8 290.7l3.6 5.8h-7.2zM1343.7 280.6l3.6 5.8h-7.2zM1319.8 407.4l3.6 5.8h-7.2zM1328 310.2l3.6 5.8h-7.2zM1437.8 386.7l3.6 5.8h-7.2zM1404.6 377.8l3.6 5.8h-7.2zM1409.1 335.6l3.6 5.8h-7.2zM1403.8 364.7l3.6 5.8h-7.2zM1389.7 380.7l3.6 5.8h-7.2zM1279.5 374.3l3.6 5.8h-7.2zM1327.5 391l3.6 5.8h-7.2zM1371 395.4l3.6 5.8h-7.2zM1389.8 305.6l3.6 5.8h-7.2zM1317.9 332.8l3.6 5.8h-7.2zM1383.3 401.8l3.6 5.8h-7.2zM1383.3 413.7l3.6 5.8h-7.2zM1405.1 351.5l3.6 5.8h-7.2zM1381.1 296.9l3.6 5.8h-7.2zM1431.8 350.9l3.6 5.8h-7.2zM1301.7 335.1l3.6 5.8h-7.2zM1366.5 332.5l3.6 5.8h-7.2zM1376.1 400.8l3.6 5.8h-7.2zM1292.5 304.6l3.6 5.8h-7.2zM1365.6 316.3l3.6 5.8h-7.2zM1359.9 383l3.6 5.8h-7.2zM1378 395.5l3.6 5.8h-7.2zM1302.6 376.4l3.6 5.8h-7.2zM1337.5 418.5l3.6 5.8h-7.2zM1386.4 323l3.6 5.8h-7.2zM1345.4 378.3l3.6 5.8h-7.2zM1435.9 373l3.6 5.8h-7.2zM1393.2 305.5l3.6 5.8h-7.2zM1370.2 313.2l3.6 5.8h-7.2zM1381.8 343.5l3.6 5.8h-7.2zM1413.8 355.4l3.6 5.8h-7.2zM1442 351.6l3.6 5.8h-7.2zM1286.6 390.6l3.6 5.8h-7.2zM1358.6 322.4l3.6 5.8h-7.2zM1303.1 340.3l3.6 5.8h-7.2zM1353.6 307l3.6 5.8h-7.2zM1370.5 410.9l3.6 5.8h-7.2zM1440.8 351.9l3.6 5.8h-7.2zM1366.3 355l3.6 5.8h-7.2zM1318.1 380l3.6 5.8h-7.2zM1397 377l3.6 5.8h-7.2zM1353 362.5l3.6 5.8h-7.2zM1403.2 324l3.6 5.8h-7.2zM1316.5 390.9l3.6 5.8h-7.2zM1347.4 345.4l3.6 5.8h-7.2zM1306.5 357.8l3.6 5.8h-7.2zM1369.3 320.1l3.6 5.8h-7.2zM1299.7 290.2l3.6 5.8h-7.2zM1372.7 377.7l3.6 5.8h-7.2zM1337.8 333.9l3.6 5.8h-7.2zM1344.3 306.3l3.6 5.8h-7.2zM1353.7 358.7l3.6 5.8h-7.2zM1316.7 353l3.6 5.8h-7.2zM1369 349.5l3.6 5.8h-7.2zM1366.3 385.1l3.6 5.8h-7.2zM1349.8 344.8l3.6 5.8h-7.2zM1364.5 307.2l3.6 5.8h-7.2zM1320.6 314.6l3.6 5.8h-7.2zM1386.1 288.4l3.6 5.8h-7.2zM1401.7 379.4l3.6 5.8h-7.2zM1316.3 407.2l3.6 5.8h-7.2zM1291.3 324.7l3.6 5.8h-7.2zM1376.6 398.8l3.6 5.8h-7.2zM1357.9 288.6l3.6 5.8h-7.2zM1316.2 344.6l3.6 5.8h-7.2zM1378.7 357.1l3.6 5.8h-7.2zM1322.1 380.1l3.6 5.8h-7.2zM1269.4 342.7l3.6 5.8h-7.2zM1313.7 339.4l3.6 5.8h-7.2zM1358.4 358.1l3.6 5.8h-7.2zM1339.1 381.6l3.6 5.8h-7.2zM1428.9 350.8l3.6 5.8h-7.2zM1405.5 310.3l3.6 5.8h-7.2zM1381.8 346.1l3.6 5.8h-7.2zM1306.7 300l3.6 5.8h-7.2zM1326 404.2l3.6 5.8h-7.2zM1338.7 366.1l3.6 5.8h-7.2zM1406.4 291.4l3.6 5.8h-7.2zM1347.7 346.7l3.6 5.8h-7.2zM1347.3 371.2l3.6 5.8h-7.2zM1289.2 380.9l3.6 5.8h-7.2zM1426.1 326.9l3.6 5.8h-7.2zM1336 315.2l3.6 5.8h-7.2zM1372.3 328.5l3.6 5.8h-7.2zM1399.9 360.2l3.6 5.8h-7.2zM1384.3 335.5l3.6 5.8h-7.2zM1372.4 387.3l3.6 5.8h-7.2zM1398.8 354.8l3.6 5.8h-7.2zM1392.4 325.2l3.6 5.8h-7.2zM1373.2 343.9l3.6 5.8h-7.2zM1388.1 354.1l3.6 5.8h-7.2zM1331.5 324.5l3.6 5.8h-7.2zM1388.5 374.1l3.6 5.8h-7.2zM1369.7 380.7l3.6 5.8h-7.2zM1311.8 365l3.6 5.8h-7.2zM1374.6 298.2l3.6 5.8h-7.2zM1372.3 291.9l3.6 5.8h-7.2zM1409.3 405.7l3.6 5.8h-7.2zM1360.8 293.7l3.6 5.8h-7.2zM1446.7 352.3l3.6 5.8h-7.2zM1381.6 315.3l3.6 5.8h-7.2zM1369.5 324.8l3.6 5.8h-7.2zM1359.7 338.6l3.6 5.8h-7.2zM1333.1 401.8l3.6 5.8h-7.2zM1266.2 374.3l3.6 5.8h-7.2zM1357 293.8l3.6 5.8h-7.2zM1433.1 343.9l3.6 5.8h-7.2zM1354.5 373.6l3.6 5.8h-7.2zM1389.1 337.1l3.6 5.8h-7.2zM1317.2 413.7l3.6 5.8h-7.2zM1371 371.7l3.6 5.8h-7.2zM1325.5 311.6l3.6 5.8h-7.2zM1354.2 348.5l3.6 5.8h-7.2zM1333.3 334.6l3.6 5.8h-7.2zM1344.1 395.1l3.6 5.8h-7.2zM1312.8 397l3.6 5.8h-7.2zM1444.6 354.3l3.6 5.8h-7.2zM1391.6 405l3.6 5.8h-7.2zM1346.7 355.3l3.6 5.8h-7.2zM1351.6 404l3.6 5.8h-7.2zM1320.7 387l3.6 5.8h-7.2zM1318.4 299.6l3.6 5.8h-7.2zM1375.5 399.7l3.6 5.8h-7.2zM1266 377.6l3.6 5.8h-7.2zM1375 328.7l3.6 5.8h-7.2zM1366.8 362.5l3.6 5.8h-7.2zM1419.6 357.9l3.6 5.8h-7.2zM1436.8 381.1l3.6 5.8h-7.2zM1356.9 325.4l3.6 5.8h-7.2zM1326.9 312.1l3.6 5.8h-7.2zM1309.5 375.9l3.6 5.8h-7.2zM1403.2 366l3.6 5.8h-7.2zM1368.1 285.4l3.6 5.8h-7.2zM1371.8 356.8l3.6 5.8h-7.2zM1394.3 375.9l3.6 5.8h-7.2zM1307 363.7l3.6 5.8h-7.2zM1357 343.9l3.6 5.8h-7.2zM1313.2 349.2l3.6 5.8h-7.2zM1310.8 335.5l3.6 5.8h-7.2zM1384 376.6l3.6 5.8h-7.2zM1342.2 321.7l3.6 5.8h-7.2zM1378 406.6l3.6 5.8h-7.2zM1306 412.1l3.6 5.8h-7.2zM1365.6 363.5l3.6 5.8h-7.2zM1400.5 317.3l3.6 5.8h-7.2zM1370.8 383l3.6 5.8h-7.2zM1380.5 311.1l3.6 5.8h-7.2zM1340.3 341l3.6 5.8h-7.2zM1371.4 390.2l3.6 5.8h-7.2zM1277.2 324.7l3.6 5.8h-7.2zM1464.1 340.4l3.6 5.8h-7.2zM1381.6 363.1l3.6 5.8h-7.2zM1366 384.2l3.6 5.8h-7.2zM1340.1 287.5l3.6 5.8h-7.2zM1323.4 400l3.6 5.8h-7.2zM1319.6 376.4l3.6 5.8h-7.2zM1284.2 380.1l3.6 5.8h-7.2zM1371.8 281.7l3.6 5.8h-7.2zM1348.7 364.5l3.6 5.8h-7.2zM1306.3 311.3l3.6 5.8h-7.2zM1416.8 328.9l3.6 5.8h-7.2zM1320.4 394.6l3.6 5.8h-7.2zM1393.6 326.4l3.6 5.8h-7.2zM1312.6 313.2l3.6 5.8h-7.2zM1369.9 339.2l3.6 5.8h-7.2zM1413 341.6l3.6 5.8h-7.2zM1375.4 374.3l3.6 5.8h-7.2zM1387.5 391.1l3.6 5.8h-7.2zM1419.1 355.9l3.6 5.8h-7.2zM1300 315.8l3.6 5.8h-7.2zM1422.1 305.3l3.6 5.8h-7.2zM1414.6 395l3.6 5.8h-7.2zM1427.1 349.5l3.6 5.8h-7.2zM1414.3 385.8l3.6 5.8h-7.2zM1292.8 345.8l3.6 5.8h-7.2zM1416.9 338.2l3.6 5.8h-7.2zM1350.3 282l3.6 5.8h-7.2zM1353.2 346.4l3.6 5.8h-7.2zM1417.9 342.4l3.6 5.8h-7.2zM1324.8 409.3l3.6 5.8h-7.2zM1364.2 387.3l3.6 5.8h-7.2zM1326.6 421.3l3.6 5.8h-7.2zM1262.3 342.4l3.6 5.8h-7.2zM1338.5 369.7l3.6 5.8h-7.2zM1317 290.8l3.6 5.8h-7.2zM1418.9 364.9l3.6 5.8h-7.2zM1339.3 366.8l3.6 5.8h-7.2zM1324.9 354.1l3.6 5.8h-7.2zM1435.2 342.3l3.6 5.8h-7.2zM1405 389l3.6 5.8h-7.2zM1381.5 356.4l3.6 5.8h-7.2zM1373.9 414.2l3.6 5.8h-7.2zM1377.1 339l3.6 5.8h-7.2zM1373.1 330.4l3.6 5.8h-7.2zM1339.3 304.8l3.6 5.8h-7.2zM1424.9 324.3l3.6 5.8h-7.2zM1380.9 386.7l3.6 5.8h-7.2zM1350.8 333.2l3.6 5.8h-7.2zM1296 325l3.6 5.8h-7.2zM1413.6 335.2l3.6 5.8h-7.2zM1295.9 323l3.6 5.8h-7.2zM1315.9 388.1l3.6 5.8h-7.2zM1344.7 334l3.6 5.8h-7.2zM1373.4 295.7l3.6 5.8h-7.2zM1365.3 299.1l3.6 5.8h-7.2zM1381.5 373.5l3.6 5.8h-7.2zM1400.8 406.1l3.6 5.8h-7.2zM1301.4 345.2l3.6 5.8h-7.2zM1322.8 385.3l3.6 5.8h-7.2zM1456.5 324.6l3.6 5.8h-7.2zM1359.4 402.9l3.6 5.8h-7.2zM1375.7 310.9l3.6 5.8h-7.2zM1401.2 364.3l3.6 5.8h-7.2zM1365.7 334.3l3.6 5.8h-7.2zM1398.6 375.2l3.6 5.8h-7.2zM1315.2 302.6l3.6 5.8h-7.2zM1300.2 373.7l3.6 5.8h-7.2zM1315.3 408.7l3.6 5.8h-7.2zM1403.2 285.4l3.6 5.8h-7.2zM1300.2 354.3l3.6 5.8h-7.2zM1328.1 301.4l3.6 5.8h-7.2zM1431.8 326.9l3.6 5.8h-7.2zM1351.4 335.5l3.6 5.8h-7.2zM1356.2 345.5l3.6 5.8h-7.2zM1304.9 337.4l3.6 5.8h-7.2zM1361.2 340.3l3.6 5.8h-7.2zM1394.3 358.3l3.6 5.8h-7.2zM1334.1 405.1l3.6 5.8h-7.2zM1275.9 386.5l3.6 5.8h-7.2zM1340.5 294.6l3.6 5.8h-7.2zM1351.1 334.9l3.6 5.8h-7.2zM1336 398.2l3.6 5.8h-7.2zM1390.1 402.8l3.6 5.8h-7.2zM1421.2 383.9l3.6 5.8h-7.2zM1301.4 395.1l3.6 5.8h-7.2zM1388.2 288.3l3.6 5.8h-7.2zM1263.9 341.8l3.6 5.8h-7.2zM1380.9 357.2l3.6 5.8h-7.2zM1356.6 335.7l3.6 5.8h-7.2zM1358.4 286.6l3.6 5.8h-7.2zM1294.5 353l3.6 5.8h-7.2zM1323.7 326.5l3.6 5.8h-7.2zM1370.9 332.4l3.6 5.8h-7.2zM1340.6 301.3l3.6 5.8h-7.2zM1353 346.5l3.6 5.8h-7.2zM1355.6 373.3l3.6 5.8h-7.2zM1417.1 315.9l3.6 5.8h-7.2zM1343.7 357l3.6 5.8h-7.2zM1392.9 299.1l3.6 5.8h-7.2zM1422.3 379.6l3.6 5.8h-7.2zM1361.8 329.9l3.6 5.8h-7.2zM1417.5 358.3l3.6 5.8h-7.2zM1417.9 394.2l3.6 5.8h-7.2zM1304.2 382.1l3.6 5.8h-7.2zM1368.6 368.5l3.6 5.8h-7.2zM1406.4 391.1l3.6 5.8h-7.2zM1443.5 340.1l3.6 5.8h-7.2zM1317.2 362.8l3.6 5.8h-7.2zM1306.2 333.1l3.6 5.8h-7.2zM1418.8 348.5l3.6 5.8h-7.2zM1277.5 354.8l3.6 5.8h-7.2zM1368.3 314.2l3.6 5.8h-7.2zM1398.4 334.3l3.6 5.8h-7.2zM1331.7 307l3.6 5.8h-7.2zM1364.2 279.2l3.6 5.8h-7.2zM1316.8 295.5l3.6 5.8h-7.2zM1402.4 361.9l3.6 5.8h-7.2zM1326.7 337.3l3.6 5.8h-7.2zM1333 335.3l3.6 5.8h-7.2zM1389.1 300.9l3.6 5.8h-7.2zM1389.8 309.1l3.6 5.8h-7.2zM1358.8 371.4l3.6 5.8h-7.2zM1314.1 376.7l3.6 5.8h-7.2zM1335.1 327.5l3.6 5.8h-7.2zM1328.6 370.6l3.6 5.8h-7.2zM1421.7 278.7l3.6 5.8h-7.2zM1394.1 367.9l3.6 5.8h-7.2zM1421.3 333l3.6 5.8h-7.2zM1404.4 357.2l3.6 5.8h-7.2zM1378.1 320l3.6 5.8h-7.2zM1390.6 316.1l3.6 5.8h-7.2zM1404 351.9l3.6 5.8h-7.2zM1386.3 369.4l3.6 5.8h-7.2zM1371.7 403.4l3.6 5.8h-7.2zM1397.5 373.4l3.6 5.8h-7.2zM1386.6 363.1l3.6 5.8h-7.2zM1336.8 367.5l3.6 5.8h-7.2zM1350.4 380.9l3.6 5.8h-7.2zM1343.4 325.5l3.6 5.8h-7.2zM1320.5 335.6l3.6 5.8h-7.2zM1395.1 284.1l3.6 5.8h-7.2zM1371 326.4l3.6 5.8h-7.2zM1323.4 331.3l3.6 5.8h-7.2zM1397.4 364.7l3.6 5.8h-7.2zM1412.8 322l3.6 5.8h-7.2zM1344.9 378.6l3.6 5.8h-7.2zM1413.4 306.9l3.6 5.8h-7.2zM1352.8 401.4l3.6 5.8h-7.2zM1363.1 303l3.6 5.8h-7.2zM1352.3 316.3l3.6 5.8h-7.2zM1349.4 390.4l3.6 5.8h-7.2zM1334.5 418.5l3.6 5.8h-7.2zM1315.1 361.2l3.6 5.8h-7.2zM1395.8 347.4l3.6 5.8h-7.2zM1407.5 324.6l3.6 5.8h-7.2zM1334 409.2l3.6 5.8h-7.2zM1379.1 299.4l3.6 5.8h-7.2zM1396.1 348.2l3.6 5.8h-7.2zM1407 343.3l3.6 5.8h-7.2zM1415.1 289.5l3.6 5.8h-7.2z"/>
<path d="M1098.5 626.7v6M1229.85 626.7v6M1361.2 626.7v6M1492.55 626.7v6M1078.4 214.5h-6M1078.4 356.5h-6M1078.4 498.5h-6M1078.4 75.5h-6M1078.4 65.08h-6M1078.4 54.65h-6M1078.4 44.23h-6M1078.4 33.8h-6M1594.5 626.7v6M1606.22 626.7v6M1617.94 626.7v6M1629.66 626.7v6M1641.38 626.7v6" stroke="#333333" stroke-width="2.3" fill="none"/>
<g font-family='"Liberation Sans", Arial, sans-serif' font-size="26.4" fill="#4D4D4D">
<g text-anchor="middle">
<text x="1098.5" y="657.1">-10</text>
<text x="1229.85" y="657.1">-5</text>
<text x="1361.2" y="657.1">0</text>
<text x="1492.55" y="657.1">5</text>
<text x="1594.5" y="657.1">0.0</text>
<text x="1606.22" y="657.1">0.1</text>
<text x="1617.94" y="657.1">0.2</text>
<text x="1629.66" y="657.1">0.3</text>
<text x="1641.38" y="657.1">0.4</text>
</g><g text-anchor="end">
<text x="1067" y="223.1">4</text>
<text x="1067" y="365.1">0</text>
<text x="1067" y="507.1">-4</text>
<text x="1067" y="84.1">0.00</text>
<text x="1067" y="73.67">0.05</text>
<text x="1067" y="63.25">0.10</text>
<text x="1067" y="52.83">0.15</text>
<text x="1067" y="42.4">0.20</text>
</g></g>
<g font-family='"Liberation Sans", Arial, sans-serif' font-size="33.2" fill="#000">
<text x="1360.6" y="693.3" text-anchor="middle">C<tspan font-size="23.2" dy="5.6">2</tspan><tspan dy="-5.6">&#160;&#160;( 22 % of the variance)</tspan></text>
<text transform="translate(997.5 325.3) rotate(-90)" text-anchor="middle">C<tspan font-size="23.2" dy="5.6">3</tspan><tspan dy="-5.6">&#160;&#160;( 8 % of the variance)</tspan></text>
<text x="1680.2" y="293.1">Legend</text>
</g>
<text x="1651.3" y="113.6" font-family='"Liberation Sans", Arial, sans-serif' font-size="40" fill="#000">(b)</text>
<rect x="1681.4" y="309.8" width="35.1" height="35.1" fill="#EBEBEB" stroke="#0000FF" stroke-width="2.4"/>
<circle cx="1698.95" cy="327.35" r="5.4" fill="#0000FF"/>
<text x="1730.4" y="337.95" font-family='"Liberation Sans", Arial, sans-serif' font-size="28.6" fill="#000">data</text>
<rect x="1681.4" y="348.5" width="35.1" height="35.1" fill="#EBEBEB" stroke="#FFA500" stroke-width="2.4"/>
<path fill="#FFA500" d="M1698.95 362.15l3.7 6h-7.4z"/>
<text x="1730.4" y="376.65" font-family='"Liberation Sans", Arial, sans-serif' font-size="28.6" fill="#000">simulations</text>
</g>
<g id="panel-c">
<rect x="557.6" y="789.1" width="491.6" height="543.9" fill="#EBEBEB"/>
<rect x="557.6" y="730.3" width="491.6" height="54" fill="#EBEBEB"/>
<rect x="1053.3" y="789.1" width="49.5" height="543.9" fill="#EBEBEB"/>
<path d="M655.3 789.1V1333M755.9 789.1V1333M856.5 789.1V1333M957.1 789.1V1333" stroke="#fff" stroke-width="1.1" fill="none"/>
<path d="M557.6 849.6H1049.2M557.6 991.8H1049.2M557.6 1134H1049.2M557.6 1276.2H1049.2" stroke="#fff" stroke-width="1.1" fill="none"/>
<path d="M605 789.1V1333M705.6 789.1V1333M806.2 789.1V1333M906.8 789.1V1333M1007.4 789.1V1333" stroke="#fff" stroke-width="2.2" fill="none"/>
<path d="M557.6 920.7H1049.2M557.6 1062.9H1049.2M557.6 1205.1H1049.2" stroke="#fff" stroke-width="2.2" fill="none"/>
<path d="M655.3 730.3V784.3M755.9 730.3V784.3M856.5 730.3V784.3M957.1 730.3V784.3" stroke="#fff" stroke-width="1.1" fill="none"/>
<path d="M557.6 776.25H1049.2M557.6 764.55H1049.2M557.6 752.85H1049.2M557.6 741.15H1049.2" stroke="#fff" stroke-width="1.1" fill="none"/>
<path d="M605 730.3V784.3M705.6 730.3V784.3M806.2 730.3V784.3M906.8 730.3V784.3M1007.4 730.3V784.3" stroke="#fff" stroke-width="2.2" fill="none"/>
<path d="M557.6 782.1H1049.2M557.6 770.4H1049.2M557.6 758.7H1049.2M557.6 747H1049.2M557.6 735.3H1049.2" stroke="#fff" stroke-width="2.2" fill="none"/>
<path d="M1061.65 789.1V1333M1072.95 789.1V1333M1084.25 789.1V1333M1095.55 789.1V1333" stroke="#fff" stroke-width="1.1" fill="none"/>
<path d="M1053.3 849.6H1102.8M1053.3 991.8H1102.8M1053.3 1134H1102.8M1053.3 1276.2H1102.8" stroke="#fff" stroke-width="1.1" fill="none"/>
<path d="M1056 789.1V1333M1067.3 789.1V1333M1078.6 789.1V1333M1089.9 789.1V1333M1101.2 789.1V1333" stroke="#fff" stroke-width="2.2" fill="none"/>
<path d="M1053.3 920.7H1102.8M1053.3 1062.9H1102.8M1053.3 1205.1H1102.8" stroke="#fff" stroke-width="2.2" fill="none"/>
<polygon points="579.66,782.1 579.66,777.32 581.39,777.23 583.12,777.13 584.85,777 586.58,776.87 588.31,776.73 590.04,776.59 591.77,776.45 593.5,776.31 595.23,776.17 596.96,776.04 598.69,775.9 600.42,775.77 602.15,775.64 603.88,775.51 605.61,775.38 607.34,775.25 609.07,775.12 610.79,775 612.52,774.88 614.25,774.76 615.98,774.63 617.71,774.51 619.44,774.39 621.17,774.27 622.9,774.15 624.63,774.02 626.36,773.89 628.09,773.76 629.82,773.63 631.55,773.5 633.28,773.36 635.01,773.22 636.74,773.08 638.47,772.93 640.2,772.79 641.92,772.64 643.65,772.49 645.38,772.33 647.11,772.18 648.84,772.02 650.57,771.86 652.3,771.69 654.03,771.53 655.76,771.36 657.49,771.19 659.22,771.02 660.95,770.85 662.68,770.68 664.41,770.5 666.14,770.32 667.87,770.13 669.6,769.94 671.33,769.74 673.06,769.53 674.78,769.31 676.51,769.08 678.24,768.83 679.97,768.57 681.7,768.28 683.43,767.98 685.16,767.65 686.89,767.29 688.62,766.91 690.35,766.51 692.08,766.09 693.81,765.65 695.54,765.18 697.27,764.68 699,764.17 700.73,763.64 702.46,763.1 704.19,762.56 705.92,762.01 707.64,761.45 709.37,760.89 711.1,760.32 712.83,759.75 714.56,759.17 716.29,758.6 718.02,758.02 719.75,757.44 721.48,756.87 723.21,756.3 724.94,755.73 726.67,755.16 728.4,754.58 730.13,754 731.86,753.41 733.59,752.8 735.32,752.19 737.05,751.58 738.78,750.98 740.5,750.39 742.23,749.81 743.96,749.26 745.69,748.74 747.42,748.25 749.15,747.81 750.88,747.41 752.61,747.07 754.34,746.77 756.07,746.52 757.8,746.31 759.53,746.13 761.26,745.98 762.99,745.84 764.72,745.72 766.45,745.61 768.18,745.51 769.91,745.42 771.63,745.33 773.36,745.25 775.09,745.18 776.82,745.11 778.55,745.04 780.28,744.98 782.01,744.91 783.74,744.84 785.47,744.77 787.2,744.7 788.93,744.61 790.66,744.53 792.39,744.43 794.12,744.34 795.85,744.24 797.58,744.15 799.31,744.06 801.04,743.97 802.77,743.89 804.49,743.82 806.22,743.75 807.95,743.68 809.68,743.61 811.41,743.55 813.14,743.48 814.87,743.4 816.6,743.33 818.33,743.24 820.06,743.15 821.79,743.05 823.52,742.93 825.25,742.81 826.98,742.68 828.71,742.55 830.44,742.42 832.17,742.3 833.9,742.19 835.63,742.1 837.35,742.04 839.08,741.99 840.81,741.98 842.54,742 844.27,742.05 846,742.12 847.73,742.21 849.46,742.33 851.19,742.46 852.92,742.61 854.65,742.78 856.38,742.98 858.11,743.21 859.84,743.47 861.57,743.76 863.3,744.08 865.03,744.41 866.76,744.76 868.49,745.1 870.21,745.45 871.94,745.8 873.67,746.15 875.4,746.51 877.13,746.87 878.86,747.24 880.59,747.62 882.32,748 884.05,748.39 885.78,748.78 887.51,749.19 889.24,749.6 890.97,750.01 892.7,750.43 894.43,750.85 896.16,751.28 897.89,751.71 899.62,752.14 901.34,752.59 903.07,753.05 904.8,753.53 906.53,754.03 908.26,754.57 909.99,755.13 911.72,755.72 913.45,756.33 915.18,756.96 916.91,757.6 918.64,758.25 920.37,758.9 922.1,759.54 923.83,760.19 925.56,760.83 927.29,761.46 929.02,762.09 930.75,762.72 932.48,763.35 934.2,763.96 935.93,764.57 937.66,765.17 939.39,765.76 941.12,766.35 942.85,766.92 944.58,767.5 946.31,768.06 948.04,768.62 949.77,769.17 951.5,769.71 953.23,770.24 954.96,770.77 956.69,771.29 958.42,771.81 960.15,772.33 961.88,772.85 963.61,773.36 965.34,773.87 967.06,774.37 968.79,774.85 970.52,775.31 972.25,775.75 973.98,776.15 975.71,776.53 977.44,776.87 979.17,777.19 980.9,777.47 982.63,777.73 984.36,777.97 986.09,778.19 987.82,778.39 989.55,778.57 991.28,778.73 993.01,778.88 994.74,779.02 996.47,779.14 998.2,779.25 999.92,779.35 1001.65,779.44 1003.38,779.53 1005.11,779.61 1006.84,779.68 1008.57,779.75 1010.3,779.82 1012.03,779.88 1013.76,779.94 1015.49,780 1017.22,780.05 1018.95,780.1 1020.68,780.15 1022.41,780.19 1024.14,780.22 1025.87,780.25 1027.6,780.27 1027.6,782.1" fill="#0000FF" fill-opacity="0.5"/>
<polyline points="579.66,777.32 581.39,777.23 583.12,777.13 584.85,777 586.58,776.87 588.31,776.73 590.04,776.59 591.77,776.45 593.5,776.31 595.23,776.17 596.96,776.04 598.69,775.9 600.42,775.77 602.15,775.64 603.88,775.51 605.61,775.38 607.34,775.25 609.07,775.12 610.79,775 612.52,774.88 614.25,774.76 615.98,774.63 617.71,774.51 619.44,774.39 621.17,774.27 622.9,774.15 624.63,774.02 626.36,773.89 628.09,773.76 629.82,773.63 631.55,773.5 633.28,773.36 635.01,773.22 636.74,773.08 638.47,772.93 640.2,772.79 641.92,772.64 643.65,772.49 645.38,772.33 647.11,772.18 648.84,772.02 650.57,771.86 652.3,771.69 654.03,771.53 655.76,771.36 657.49,771.19 659.22,771.02 660.95,770.85 662.68,770.68 664.41,770.5 666.14,770.32 667.87,770.13 669.6,769.94 671.33,769.74 673.06,769.53 674.78,769.31 676.51,769.08 678.24,768.83 679.97,768.57 681.7,768.28 683.43,767.98 685.16,767.65 686.89,767.29 688.62,766.91 690.35,766.51 692.08,766.09 693.81,765.65 695.54,765.18 697.27,764.68 699,764.17 700.73,763.64 702.46,763.1 704.19,762.56 705.92,762.01 707.64,761.45 709.37,760.89 711.1,760.32 712.83,759.75 714.56,759.17 716.29,758.6 718.02,758.02 719.75,757.44 721.48,756.87 723.21,756.3 724.94,755.73 726.67,755.16 728.4,754.58 730.13,754 731.86,753.41 733.59,752.8 735.32,752.19 737.05,751.58 738.78,750.98 740.5,750.39 742.23,749.81 743.96,749.26 745.69,748.74 747.42,748.25 749.15,747.81 750.88,747.41 752.61,747.07 754.34,746.77 756.07,746.52 757.8,746.31 759.53,746.13 761.26,745.98 762.99,745.84 764.72,745.72 766.45,745.61 768.18,745.51 769.91,745.42 771.63,745.33 773.36,745.25 775.09,745.18 776.82,745.11 778.55,745.04 780.28,744.98 782.01,744.91 783.74,744.84 785.47,744.77 787.2,744.7 788.93,744.61 790.66,744.53 792.39,744.43 794.12,744.34 795.85,744.24 797.58,744.15 799.31,744.06 801.04,743.97 802.77,743.89 804.49,743.82 806.22,743.75 807.95,743.68 809.68,743.61 811.41,743.55 813.14,743.48 814.87,743.4 816.6,743.33 818.33,743.24 820.06,743.15 821.79,743.05 823.52,742.93 825.25,742.81 826.98,742.68 828.71,742.55 830.44,742.42 832.17,742.3 833.9,742.19 835.63,742.1 837.35,742.04 839.08,741.99 840.81,741.98 842.54,742 844.27,742.05 846,742.12 847.73,742.21 849.46,742.33 851.19,742.46 852.92,742.61 854.65,742.78 856.38,742.98 858.11,743.21 859.84,743.47 861.57,743.76 863.3,744.08 865.03,744.41 866.76,744.76 868.49,745.1 870.21,745.45 871.94,745.8 873.67,746.15 875.4,746.51 877.13,746.87 878.86,747.24 880.59,747.62 882.32,748 884.05,748.39 885.78,748.78 887.51,749.19 889.24,749.6 890.97,750.01 892.7,750.43 894.43,750.85 896.16,751.28 897.89,751.71 899.62,752.14 901.34,752.59 903.07,753.05 904.8,753.53 906.53,754.03 908.26,754.57 909.99,755.13 911.72,755.72 913.45,756.33 915.18,756.96 916.91,757.6 918.64,758.25 920.37,758.9 922.1,759.54 923.83,760.19 925.56,760.83 927.29,761.46 929.02,762.09 930.75,762.72 932.48,763.35 934.2,763.96 935.93,764.57 937.66,765.17 939.39,765.76 941.12,766.35 942.85,766.92 944.58,767.5 946.31,768.06 948.04,768.62 949.77,769.17 951.5,769.71 953.23,770.24 954.96,770.77 956.69,771.29 958.42,771.81 960.15,772.33 961.88,772.85 963.61,773.36 965.34,773.87 967.06,774.37 968.79,774.85 970.52,775.31 972.25,775.75 973.98,776.15 975.71,776.53 977.44,776.87 979.17,777.19 980.9,777.47 982.63,777.73 984.36,777.97 986.09,778.19 987.82,778.39 989.55,778.57 991.28,778.73 993.01,778.88 994.74,779.02 996.47,779.14 998.2,779.25 999.92,779.35 1001.65,779.44 1003.38,779.53 1005.11,779.61 1006.84,779.68 1008.57,779.75 1010.3,779.82 1012.03,779.88 1013.76,779.94 1015.49,780 1017.22,780.05 1018.95,780.1 1020.68,780.15 1022.41,780.19 1024.14,780.22 1025.87,780.25 1027.6,780.27" fill="none" stroke="#0000FF" stroke-width="2.4" stroke-linejoin="round"/>
<polygon points="579.66,782.1 579.66,780.7 581.39,780.69 583.12,780.67 584.85,780.64 586.58,780.6 588.31,780.56 590.04,780.52 591.77,780.47 593.5,780.42 595.23,780.36 596.96,780.3 598.69,780.24 600.42,780.17 602.15,780.1 603.88,780.03 605.61,779.95 607.34,779.87 609.07,779.78 610.79,779.68 612.52,779.57 614.25,779.44 615.98,779.3 617.71,779.14 619.44,778.96 621.17,778.76 622.9,778.53 624.63,778.3 626.36,778.05 628.09,777.79 629.82,777.53 631.55,777.26 633.28,776.99 635.01,776.7 636.74,776.41 638.47,776.12 640.2,775.82 641.92,775.52 643.65,775.23 645.38,774.94 647.11,774.67 648.84,774.4 650.57,774.16 652.3,773.94 654.03,773.73 655.76,773.55 657.49,773.39 659.22,773.25 660.95,773.12 662.68,773 664.41,772.89 666.14,772.78 667.87,772.67 669.6,772.57 671.33,772.45 673.06,772.33 674.78,772.2 676.51,772.05 678.24,771.87 679.97,771.68 681.7,771.45 683.43,771.19 685.16,770.89 686.89,770.56 688.62,770.18 690.35,769.77 692.08,769.31 693.81,768.79 695.54,768.22 697.27,767.6 699,766.93 700.73,766.25 702.46,765.55 704.19,764.85 705.92,764.17 707.64,763.5 709.37,762.85 711.1,762.2 712.83,761.56 714.56,760.93 716.29,760.3 718.02,759.67 719.75,759.05 721.48,758.44 723.21,757.83 724.94,757.23 726.67,756.64 728.4,756.06 730.13,755.5 731.86,754.96 733.59,754.42 735.32,753.9 737.05,753.38 738.78,752.87 740.5,752.36 742.23,751.83 743.96,751.3 745.69,750.76 747.42,750.19 749.15,749.6 750.88,748.97 752.61,748.31 754.34,747.59 756.07,746.82 757.8,745.98 759.53,745.08 761.26,744.13 762.99,743.17 764.72,742.2 766.45,741.25 768.18,740.34 769.91,739.46 771.63,738.63 773.36,737.84 775.09,737.08 776.82,736.37 778.55,735.71 780.28,735.1 782.01,734.55 783.74,734.05 785.47,733.59 787.2,733.19 788.93,732.84 790.66,732.54 792.39,732.31 794.12,732.14 795.85,732.05 797.58,732.05 799.31,732.17 801.04,732.41 802.77,732.77 804.49,733.25 806.22,733.83 807.95,734.46 809.68,735.14 811.41,735.84 813.14,736.53 814.87,737.2 816.6,737.82 818.33,738.36 820.06,738.8 821.79,739.13 823.52,739.36 825.25,739.52 826.98,739.62 828.71,739.68 830.44,739.71 832.17,739.72 833.9,739.71 835.63,739.69 837.35,739.68 839.08,739.66 840.81,739.66 842.54,739.66 844.27,739.68 846,739.71 847.73,739.75 849.46,739.8 851.19,739.86 852.92,739.92 854.65,740 856.38,740.09 858.11,740.2 859.84,740.33 861.57,740.48 863.3,740.65 865.03,740.84 866.76,741.06 868.49,741.3 870.21,741.57 871.94,741.86 873.67,742.19 875.4,742.54 877.13,742.92 878.86,743.32 880.59,743.75 882.32,744.2 884.05,744.68 885.78,745.19 887.51,745.73 889.24,746.3 890.97,746.89 892.7,747.52 894.43,748.17 896.16,748.85 897.89,749.57 899.62,750.31 901.34,751.08 903.07,751.87 904.8,752.67 906.53,753.49 908.26,754.31 909.99,755.13 911.72,755.97 913.45,756.8 915.18,757.63 916.91,758.46 918.64,759.27 920.37,760.06 922.1,760.84 923.83,761.59 925.56,762.33 927.29,763.04 929.02,763.74 930.75,764.42 932.48,765.09 934.2,765.75 935.93,766.41 937.66,767.06 939.39,767.72 941.12,768.37 942.85,769.02 944.58,769.67 946.31,770.31 948.04,770.93 949.77,771.55 951.5,772.15 953.23,772.72 954.96,773.28 956.69,773.82 958.42,774.34 960.15,774.85 961.88,775.34 963.61,775.82 965.34,776.28 967.06,776.73 968.79,777.17 970.52,777.58 972.25,777.98 973.98,778.36 975.71,778.71 977.44,779.04 979.17,779.35 980.9,779.65 982.63,779.92 984.36,780.18 986.09,780.41 987.82,780.63 989.55,780.83 991.28,781.01 993.01,781.17 994.74,781.31 996.47,781.44 998.2,781.56 999.92,781.67 1001.65,781.77 1003.38,781.85 1005.11,781.91 1006.84,781.96 1008.57,782 1010.3,782.03 1012.03,782.05 1013.76,782.07 1015.49,782.09 1017.22,782.1 1018.95,782.1 1020.68,782.1 1022.41,782.1 1024.14,782.1 1025.87,782.1 1027.6,782.1 1027.6,782.1" fill="#FFA500" fill-opacity="0.5"/>
<polyline points="579.66,780.7 581.39,780.69 583.12,780.67 584.85,780.64 586.58,780.6 588.31,780.56 590.04,780.52 591.77,780.47 593.5,780.42 595.23,780.36 596.96,780.3 598.69,780.24 600.42,780.17 602.15,780.1 603.88,780.03 605.61,779.95 607.34,779.87 609.07,779.78 610.79,779.68 612.52,779.57 614.25,779.44 615.98,779.3 617.71,779.14 619.44,778.96 621.17,778.76 622.9,778.53 624.63,778.3 626.36,778.05 628.09,777.79 629.82,777.53 631.55,777.26 633.28,776.99 635.01,776.7 636.74,776.41 638.47,776.12 640.2,775.82 641.92,775.52 643.65,775.23 645.38,774.94 647.11,774.67 648.84,774.4 650.57,774.16 652.3,773.94 654.03,773.73 655.76,773.55 657.49,773.39 659.22,773.25 660.95,773.12 662.68,773 664.41,772.89 666.14,772.78 667.87,772.67 669.6,772.57 671.33,772.45 673.06,772.33 674.78,772.2 676.51,772.05 678.24,771.87 679.97,771.68 681.7,771.45 683.43,771.19 685.16,770.89 686.89,770.56 688.62,770.18 690.35,769.77 692.08,769.31 693.81,768.79 695.54,768.22 697.27,767.6 699,766.93 700.73,766.25 702.46,765.55 704.19,764.85 705.92,764.17 707.64,763.5 709.37,762.85 711.1,762.2 712.83,761.56 714.56,760.93 716.29,760.3 718.02,759.67 719.75,759.05 721.48,758.44 723.21,757.83 724.94,757.23 726.67,756.64 728.4,756.06 730.13,755.5 731.86,754.96 733.59,754.42 735.32,753.9 737.05,753.38 738.78,752.87 740.5,752.36 742.23,751.83 743.96,751.3 745.69,750.76 747.42,750.19 749.15,749.6 750.88,748.97 752.61,748.31 754.34,747.59 756.07,746.82 757.8,745.98 759.53,745.08 761.26,744.13 762.99,743.17 764.72,742.2 766.45,741.25 768.18,740.34 769.91,739.46 771.63,738.63 773.36,737.84 775.09,737.08 776.82,736.37 778.55,735.71 780.28,735.1 782.01,734.55 783.74,734.05 785.47,733.59 787.2,733.19 788.93,732.84 790.66,732.54 792.39,732.31 794.12,732.14 795.85,732.05 797.58,732.05 799.31,732.17 801.04,732.41 802.77,732.77 804.49,733.25 806.22,733.83 807.95,734.46 809.68,735.14 811.41,735.84 813.14,736.53 814.87,737.2 816.6,737.82 818.33,738.36 820.06,738.8 821.79,739.13 823.52,739.36 825.25,739.52 826.98,739.62 828.71,739.68 830.44,739.71 832.17,739.72 833.9,739.71 835.63,739.69 837.35,739.68 839.08,739.66 840.81,739.66 842.54,739.66 844.27,739.68 846,739.71 847.73,739.75 849.46,739.8 851.19,739.86 852.92,739.92 854.65,740 856.38,740.09 858.11,740.2 859.84,740.33 861.57,740.48 863.3,740.65 865.03,740.84 866.76,741.06 868.49,741.3 870.21,741.57 871.94,741.86 873.67,742.19 875.4,742.54 877.13,742.92 878.86,743.32 880.59,743.75 882.32,744.2 884.05,744.68 885.78,745.19 887.51,745.73 889.24,746.3 890.97,746.89 892.7,747.52 894.43,748.17 896.16,748.85 897.89,749.57 899.62,750.31 901.34,751.08 903.07,751.87 904.8,752.67 906.53,753.49 908.26,754.31 909.99,755.13 911.72,755.97 913.45,756.8 915.18,757.63 916.91,758.46 918.64,759.27 920.37,760.06 922.1,760.84 923.83,761.59 925.56,762.33 927.29,763.04 929.02,763.74 930.75,764.42 932.48,765.09 934.2,765.75 935.93,766.41 937.66,767.06 939.39,767.72 941.12,768.37 942.85,769.02 944.58,769.67 946.31,770.31 948.04,770.93 949.77,771.55 951.5,772.15 953.23,772.72 954.96,773.28 956.69,773.82 958.42,774.34 960.15,774.85 961.88,775.34 963.61,775.82 965.34,776.28 967.06,776.73 968.79,777.17 970.52,777.58 972.25,777.98 973.98,778.36 975.71,778.71 977.44,779.04 979.17,779.35 980.9,779.65 982.63,779.92 984.36,780.18 986.09,780.41 987.82,780.63 989.55,780.83 991.28,781.01 993.01,781.17 994.74,781.31 996.47,781.44 998.2,781.56 999.92,781.67 1001.65,781.77 1003.38,781.85 1005.11,781.91 1006.84,781.96 1008.57,782 1010.3,782.03 1012.03,782.05 1013.76,782.07 1015.49,782.09 1017.22,782.1 1018.95,782.1 1020.68,782.1 1022.41,782.1 1024.14,782.1 1025.87,782.1 1027.6,782.1" fill="none" stroke="#FFA500" stroke-width="2.4" stroke-linejoin="round"/>
<polygon points="1056,1308.69 1057.14,1308.69 1057.14,1306.78 1057.14,1304.86 1057.14,1302.95 1057.14,1301.04 1057.14,1299.12 1057.15,1297.21 1057.15,1295.3 1057.15,1293.38 1057.16,1291.47 1057.17,1289.56 1057.18,1287.64 1057.2,1285.73 1057.23,1283.82 1057.25,1281.9 1057.28,1279.99 1057.3,1278.08 1057.31,1276.17 1057.32,1274.25 1057.32,1272.34 1057.33,1270.43 1057.33,1268.51 1057.33,1266.6 1057.33,1264.69 1057.33,1262.77 1057.33,1260.86 1057.33,1258.95 1057.33,1257.03 1057.33,1255.12 1057.33,1253.21 1057.34,1251.29 1057.35,1249.38 1057.37,1247.47 1057.41,1245.55 1057.47,1243.64 1057.54,1241.73 1057.63,1239.81 1057.73,1237.9 1057.84,1235.99 1057.96,1234.07 1058.08,1232.16 1058.19,1230.25 1058.29,1228.33 1058.38,1226.42 1058.44,1224.51 1058.48,1222.59 1058.5,1220.68 1058.5,1218.77 1058.49,1216.85 1058.46,1214.94 1058.42,1213.03 1058.36,1211.11 1058.29,1209.2 1058.23,1207.29 1058.19,1205.37 1058.19,1203.46 1058.22,1201.55 1058.3,1199.63 1058.42,1197.72 1058.58,1195.81 1058.77,1193.89 1059,1191.98 1059.23,1190.07 1059.44,1188.15 1059.62,1186.24 1059.74,1184.33 1059.82,1182.41 1059.85,1180.5 1059.84,1178.59 1059.79,1176.67 1059.7,1174.76 1059.58,1172.85 1059.43,1170.93 1059.27,1169.02 1059.13,1167.11 1059.03,1165.2 1058.97,1163.28 1058.97,1161.37 1059.03,1159.46 1059.14,1157.54 1059.32,1155.63 1059.56,1153.72 1059.85,1151.8 1060.22,1149.89 1060.65,1147.98 1061.14,1146.06 1061.7,1144.15 1062.3,1142.24 1062.92,1140.32 1063.53,1138.41 1064.1,1136.5 1064.6,1134.58 1065,1132.67 1065.32,1130.76 1065.54,1128.84 1065.69,1126.93 1065.79,1125.02 1065.86,1123.1 1065.93,1121.19 1066.05,1119.28 1066.23,1117.36 1066.53,1115.45 1066.96,1113.54 1067.54,1111.62 1068.3,1109.71 1069.22,1107.8 1070.29,1105.88 1071.48,1103.97 1072.78,1102.06 1074.15,1100.14 1075.59,1098.23 1077.06,1096.32 1078.58,1094.4 1080.14,1092.49 1081.74,1090.58 1083.36,1088.66 1085,1086.75 1086.6,1084.84 1088.13,1082.92 1089.57,1081.01 1090.89,1079.1 1092.08,1077.18 1093.15,1075.27 1094.1,1073.36 1094.93,1071.44 1095.65,1069.53 1096.26,1067.62 1096.76,1065.7 1097.16,1063.79 1097.44,1061.88 1097.62,1059.96 1097.68,1058.05 1097.6,1056.14 1097.36,1054.23 1096.93,1052.31 1096.27,1050.4 1095.36,1048.49 1094.19,1046.57 1092.77,1044.66 1091.16,1042.75 1089.44,1040.83 1087.73,1038.92 1086.1,1037.01 1084.57,1035.09 1083.12,1033.18 1081.71,1031.27 1080.32,1029.35 1078.95,1027.44 1077.64,1025.53 1076.42,1023.61 1075.3,1021.7 1074.3,1019.79 1073.37,1017.87 1072.51,1015.96 1071.68,1014.05 1070.88,1012.13 1070.1,1010.22 1069.34,1008.31 1068.61,1006.39 1067.93,1004.48 1067.29,1002.57 1066.7,1000.65 1066.17,998.74 1065.68,996.83 1065.22,994.91 1064.79,993 1064.39,991.09 1064.01,989.17 1063.66,987.26 1063.33,985.35 1063.03,983.43 1062.74,981.52 1062.47,979.61 1062.21,977.69 1061.96,975.78 1061.72,973.87 1061.47,971.95 1061.23,970.04 1060.98,968.13 1060.74,966.21 1060.5,964.3 1060.27,962.39 1060.07,960.47 1059.88,958.56 1059.72,956.65 1059.58,954.73 1059.45,952.82 1059.34,950.91 1059.23,948.99 1059.12,947.08 1059.02,945.17 1058.91,943.26 1058.8,941.34 1058.68,939.43 1058.57,937.52 1058.46,935.6 1058.36,933.69 1058.27,931.78 1058.2,929.86 1058.15,927.95 1058.11,926.04 1058.09,924.12 1058.08,922.21 1058.09,920.3 1058.09,918.38 1058.1,916.47 1058.12,914.56 1058.13,912.64 1058.14,910.73 1058.15,908.82 1058.15,906.9 1058.15,904.99 1058.15,903.08 1058.13,901.16 1058.12,899.25 1058.1,897.34 1058.07,895.42 1058.04,893.51 1058,891.6 1057.97,889.68 1057.93,887.77 1057.89,885.86 1057.86,883.94 1057.82,882.03 1057.78,880.12 1057.74,878.2 1057.71,876.29 1057.66,874.38 1057.62,872.46 1057.58,870.55 1057.54,868.64 1057.49,866.72 1057.45,864.81 1057.41,862.9 1057.38,860.98 1057.34,859.07 1057.32,857.16 1057.29,855.24 1057.27,853.33 1057.26,851.42 1057.25,849.5 1057.25,847.59 1057.25,845.68 1057.25,843.76 1057.25,841.85 1057.25,839.94 1057.25,838.02 1057.25,836.11 1057.25,834.2 1057.25,832.29 1057.25,830.37 1057.25,828.46 1057.25,826.55 1057.25,824.63 1057.25,822.72 1057.25,820.81 1057.25,818.89 1057.25,816.98 1057.25,815.07 1057.25,813.15 1056,813.15" fill="#0000FF" fill-opacity="0.5"/>
<polyline points="1057.14,1308.69 1057.14,1306.78 1057.14,1304.86 1057.14,1302.95 1057.14,1301.04 1057.14,1299.12 1057.15,1297.21 1057.15,1295.3 1057.15,1293.38 1057.16,1291.47 1057.17,1289.56 1057.18,1287.64 1057.2,1285.73 1057.23,1283.82 1057.25,1281.9 1057.28,1279.99 1057.3,1278.08 1057.31,1276.17 1057.32,1274.25 1057.32,1272.34 1057.33,1270.43 1057.33,1268.51 1057.33,1266.6 1057.33,1264.69 1057.33,1262.77 1057.33,1260.86 1057.33,1258.95 1057.33,1257.03 1057.33,1255.12 1057.33,1253.21 1057.34,1251.29 1057.35,1249.38 1057.37,1247.47 1057.41,1245.55 1057.47,1243.64 1057.54,1241.73 1057.63,1239.81 1057.73,1237.9 1057.84,1235.99 1057.96,1234.07 1058.08,1232.16 1058.19,1230.25 1058.29,1228.33 1058.38,1226.42 1058.44,1224.51 1058.48,1222.59 1058.5,1220.68 1058.5,1218.77 1058.49,1216.85 1058.46,1214.94 1058.42,1213.03 1058.36,1211.11 1058.29,1209.2 1058.23,1207.29 1058.19,1205.37 1058.19,1203.46 1058.22,1201.55 1058.3,1199.63 1058.42,1197.72 1058.58,1195.81 1058.77,1193.89 1059,1191.98 1059.23,1190.07 1059.44,1188.15 1059.62,1186.24 1059.74,1184.33 1059.82,1182.41 1059.85,1180.5 1059.84,1178.59 1059.79,1176.67 1059.7,1174.76 1059.58,1172.85 1059.43,1170.93 1059.27,1169.02 1059.13,1167.11 1059.03,1165.2 1058.97,1163.28 1058.97,1161.37 1059.03,1159.46 1059.14,1157.54 1059.32,1155.63 1059.56,1153.72 1059.85,1151.8 1060.22,1149.89 1060.65,1147.98 1061.14,1146.06 1061.7,1144.15 1062.3,1142.24 1062.92,1140.32 1063.53,1138.41 1064.1,1136.5 1064.6,1134.58 1065,1132.67 1065.32,1130.76 1065.54,1128.84 1065.69,1126.93 1065.79,1125.02 1065.86,1123.1 1065.93,1121.19 1066.05,1119.28 1066.23,1117.36 1066.53,1115.45 1066.96,1113.54 1067.54,1111.62 1068.3,1109.71 1069.22,1107.8 1070.29,1105.88 1071.48,1103.97 1072.78,1102.06 1074.15,1100.14 1075.59,1098.23 1077.06,1096.32 1078.58,1094.4 1080.14,1092.49 1081.74,1090.58 1083.36,1088.66 1085,1086.75 1086.6,1084.84 1088.13,1082.92 1089.57,1081.01 1090.89,1079.1 1092.08,1077.18 1093.15,1075.27 1094.1,1073.36 1094.93,1071.44 1095.65,1069.53 1096.26,1067.62 1096.76,1065.7 1097.16,1063.79 1097.44,1061.88 1097.62,1059.96 1097.68,1058.05 1097.6,1056.14 1097.36,1054.23 1096.93,1052.31 1096.27,1050.4 1095.36,1048.49 1094.19,1046.57 1092.77,1044.66 1091.16,1042.75 1089.44,1040.83 1087.73,1038.92 1086.1,1037.01 1084.57,1035.09 1083.12,1033.18 1081.71,1031.27 1080.32,1029.35 1078.95,1027.44 1077.64,1025.53 1076.42,1023.61 1075.3,1021.7 1074.3,1019.79 1073.37,1017.87 1072.51,1015.96 1071.68,1014.05 1070.88,1012.13 1070.1,1010.22 1069.34,1008.31 1068.61,1006.39 1067.93,1004.48 1067.29,1002.57 1066.7,1000.65 1066.17,998.74 1065.68,996.83 1065.22,994.91 1064.79,993 1064.39,991.09 1064.01,989.17 1063.66,987.26 1063.33,985.35 1063.03,983.43 1062.74,981.52 1062.47,979.61 1062.21,977.69 1061.96,975.78 1061.72,973.87 1061.47,971.95 1061.23,970.04 1060.98,968.13 1060.74,966.21 1060.5,964.3 1060.27,962.39 1060.07,960.47 1059.88,958.56 1059.72,956.65 1059.58,954.73 1059.45,952.82 1059.34,950.91 1059.23,948.99 1059.12,947.08 1059.02,945.17 1058.91,943.26 1058.8,941.34 1058.68,939.43 1058.57,937.52 1058.46,935.6 1058.36,933.69 1058.27,931.78 1058.2,929.86 1058.15,927.95 1058.11,926.04 1058.09,924.12 1058.08,922.21 1058.09,920.3 1058.09,918.38 1058.1,916.47 1058.12,914.56 1058.13,912.64 1058.14,910.73 1058.15,908.82 1058.15,906.9 1058.15,904.99 1058.15,903.08 1058.13,901.16 1058.12,899.25 1058.1,897.34 1058.07,895.42 1058.04,893.51 1058,891.6 1057.97,889.68 1057.93,887.77 1057.89,885.86 1057.86,883.94 1057.82,882.03 1057.78,880.12 1057.74,878.2 1057.71,876.29 1057.66,874.38 1057.62,872.46 1057.58,870.55 1057.54,868.64 1057.49,866.72 1057.45,864.81 1057.41,862.9 1057.38,860.98 1057.34,859.07 1057.32,857.16 1057.29,855.24 1057.27,853.33 1057.26,851.42 1057.25,849.5 1057.25,847.59 1057.25,845.68 1057.25,843.76 1057.25,841.85 1057.25,839.94 1057.25,838.02 1057.25,836.11 1057.25,834.2 1057.25,832.29 1057.25,830.37 1057.25,828.46 1057.25,826.55 1057.25,824.63 1057.25,822.72 1057.25,820.81 1057.25,818.89 1057.25,816.98 1057.25,815.07 1057.25,813.15" fill="none" stroke="#0000FF" stroke-width="2.4" stroke-linejoin="round"/>
<polygon points="1056,1308.69 1056.04,1308.69 1056.04,1306.78 1056.04,1304.86 1056.04,1302.95 1056.04,1301.04 1056.04,1299.12 1056.04,1297.21 1056.05,1295.3 1056.05,1293.38 1056.07,1291.47 1056.09,1289.56 1056.12,1287.64 1056.16,1285.73 1056.21,1283.82 1056.26,1281.9 1056.31,1279.99 1056.34,1278.08 1056.35,1276.17 1056.35,1274.25 1056.33,1272.34 1056.29,1270.43 1056.24,1268.51 1056.19,1266.6 1056.13,1264.69 1056.08,1262.77 1056.03,1260.86 1056,1258.95 1056,1257.03 1056,1255.12 1056,1253.21 1056,1251.29 1056,1249.38 1056,1247.47 1056,1245.55 1056,1243.64 1056.02,1241.73 1056.12,1239.81 1056.25,1237.9 1056.38,1235.99 1056.53,1234.07 1056.69,1232.16 1056.85,1230.25 1056.98,1228.33 1057.08,1226.42 1057.13,1224.51 1057.13,1222.59 1057.07,1220.68 1056.99,1218.77 1056.89,1216.85 1056.81,1214.94 1056.75,1213.03 1056.72,1211.11 1056.71,1209.2 1056.73,1207.29 1056.79,1205.37 1056.91,1203.46 1057.12,1201.55 1057.42,1199.63 1057.81,1197.72 1058.27,1195.81 1058.76,1193.89 1059.24,1191.98 1059.67,1190.07 1060.03,1188.15 1060.26,1186.24 1060.36,1184.33 1060.31,1182.41 1060.12,1180.5 1059.83,1178.59 1059.46,1176.67 1059.04,1174.76 1058.6,1172.85 1058.17,1170.93 1057.79,1169.02 1057.5,1167.11 1057.3,1165.2 1057.2,1163.28 1057.19,1161.37 1057.28,1159.46 1057.45,1157.54 1057.71,1155.63 1058.04,1153.72 1058.45,1151.8 1058.95,1149.89 1059.54,1147.98 1060.21,1146.06 1060.96,1144.15 1061.77,1142.24 1062.59,1140.32 1063.38,1138.41 1064.08,1136.5 1064.63,1134.58 1064.99,1132.67 1065.14,1130.76 1065.09,1128.84 1064.88,1126.93 1064.6,1125.02 1064.31,1123.1 1064.1,1121.19 1064,1119.28 1064.06,1117.36 1064.27,1115.45 1064.66,1113.54 1065.21,1111.62 1065.94,1109.71 1066.83,1107.8 1067.87,1105.88 1069.05,1103.97 1070.34,1102.06 1071.73,1100.14 1073.19,1098.23 1074.72,1096.32 1076.29,1094.4 1077.9,1092.49 1079.53,1090.58 1081.18,1088.66 1082.83,1086.75 1084.48,1084.84 1086.09,1082.92 1087.66,1081.01 1089.15,1079.1 1090.55,1077.18 1091.82,1075.27 1092.96,1073.36 1093.96,1071.44 1094.85,1069.53 1095.68,1067.62 1096.5,1065.7 1097.31,1063.79 1098.13,1061.88 1098.9,1059.96 1099.56,1058.05 1100.07,1056.14 1100.38,1054.23 1100.43,1052.31 1100.18,1050.4 1099.57,1048.49 1098.56,1046.57 1097.17,1044.66 1095.41,1042.75 1093.36,1040.83 1091.11,1038.92 1088.75,1037.01 1086.39,1035.09 1084.1,1033.18 1081.96,1031.27 1080.02,1029.35 1078.32,1027.44 1076.87,1025.53 1075.64,1023.61 1074.6,1021.7 1073.72,1019.79 1072.94,1017.87 1072.2,1015.96 1071.45,1014.05 1070.66,1012.13 1069.79,1010.22 1068.86,1008.31 1067.9,1006.39 1066.97,1004.48 1066.15,1002.57 1065.51,1000.65 1065.16,998.74 1065.15,996.83 1065.52,994.91 1066.29,993 1067.4,991.09 1068.78,989.17 1070.27,987.26 1071.68,985.35 1072.8,983.43 1073.44,981.52 1073.47,979.61 1072.88,977.69 1071.72,975.78 1070.13,973.87 1068.26,971.95 1066.31,970.04 1064.45,968.13 1062.81,966.21 1061.47,964.3 1060.45,962.39 1059.72,960.47 1059.22,958.56 1058.89,956.65 1058.66,954.73 1058.51,952.82 1058.39,950.91 1058.29,948.99 1058.18,947.08 1058.08,945.17 1057.97,943.26 1057.84,941.34 1057.71,939.43 1057.58,937.52 1057.45,935.6 1057.33,933.69 1057.22,931.78 1057.14,929.86 1057.07,927.95 1057.03,926.04 1057.02,924.12 1057.03,922.21 1057.06,920.3 1057.1,918.38 1057.15,916.47 1057.21,914.56 1057.26,912.64 1057.31,910.73 1057.35,908.82 1057.38,906.9 1057.4,904.99 1057.41,903.08 1057.4,901.16 1057.39,899.25 1057.38,897.34 1057.36,895.42 1057.34,893.51 1057.31,891.6 1057.28,889.68 1057.26,887.77 1057.23,885.86 1057.2,883.94 1057.17,882.03 1057.14,880.12 1057.11,878.2 1057.08,876.29 1057.05,874.38 1057.01,872.46 1056.98,870.55 1056.94,868.64 1056.9,866.72 1056.87,864.81 1056.84,862.9 1056.81,860.98 1056.78,859.07 1056.75,857.16 1056.74,855.24 1056.72,853.33 1056.71,851.42 1056.7,849.5 1056.7,847.59 1056.7,845.68 1056.7,843.76 1056.7,841.85 1056.7,839.94 1056.7,838.02 1056.7,836.11 1056.7,834.2 1056.7,832.29 1056.7,830.37 1056.7,828.46 1056.7,826.55 1056.7,824.63 1056.7,822.72 1056.7,820.81 1056.7,818.89 1056.7,816.98 1056.7,815.07 1056.7,813.15 1056,813.15" fill="#FFA500" fill-opacity="0.5"/>
<polyline points="1056.04,1308.69 1056.04,1306.78 1056.04,1304.86 1056.04,1302.95 1056.04,1301.04 1056.04,1299.12 1056.04,1297.21 1056.05,1295.3 1056.05,1293.38 1056.07,1291.47 1056.09,1289.56 1056.12,1287.64 1056.16,1285.73 1056.21,1283.82 1056.26,1281.9 1056.31,1279.99 1056.34,1278.08 1056.35,1276.17 1056.35,1274.25 1056.33,1272.34 1056.29,1270.43 1056.24,1268.51 1056.19,1266.6 1056.13,1264.69 1056.08,1262.77 1056.03,1260.86 1056,1258.95 1056,1257.03 1056,1255.12 1056,1253.21 1056,1251.29 1056,1249.38 1056,1247.47 1056,1245.55 1056,1243.64 1056.02,1241.73 1056.12,1239.81 1056.25,1237.9 1056.38,1235.99 1056.53,1234.07 1056.69,1232.16 1056.85,1230.25 1056.98,1228.33 1057.08,1226.42 1057.13,1224.51 1057.13,1222.59 1057.07,1220.68 1056.99,1218.77 1056.89,1216.85 1056.81,1214.94 1056.75,1213.03 1056.72,1211.11 1056.71,1209.2 1056.73,1207.29 1056.79,1205.37 1056.91,1203.46 1057.12,1201.55 1057.42,1199.63 1057.81,1197.72 1058.27,1195.81 1058.76,1193.89 1059.24,1191.98 1059.67,1190.07 1060.03,1188.15 1060.26,1186.24 1060.36,1184.33 1060.31,1182.41 1060.12,1180.5 1059.83,1178.59 1059.46,1176.67 1059.04,1174.76 1058.6,1172.85 1058.17,1170.93 1057.79,1169.02 1057.5,1167.11 1057.3,1165.2 1057.2,1163.28 1057.19,1161.37 1057.28,1159.46 1057.45,1157.54 1057.71,1155.63 1058.04,1153.72 1058.45,1151.8 1058.95,1149.89 1059.54,1147.98 1060.21,1146.06 1060.96,1144.15 1061.77,1142.24 1062.59,1140.32 1063.38,1138.41 1064.08,1136.5 1064.63,1134.58 1064.99,1132.67 1065.14,1130.76 1065.09,1128.84 1064.88,1126.93 1064.6,1125.02 1064.31,1123.1 1064.1,1121.19 1064,1119.28 1064.06,1117.36 1064.27,1115.45 1064.66,1113.54 1065.21,1111.62 1065.94,1109.71 1066.83,1107.8 1067.87,1105.88 1069.05,1103.97 1070.34,1102.06 1071.73,1100.14 1073.19,1098.23 1074.72,1096.32 1076.29,1094.4 1077.9,1092.49 1079.53,1090.58 1081.18,1088.66 1082.83,1086.75 1084.48,1084.84 1086.09,1082.92 1087.66,1081.01 1089.15,1079.1 1090.55,1077.18 1091.82,1075.27 1092.96,1073.36 1093.96,1071.44 1094.85,1069.53 1095.68,1067.62 1096.5,1065.7 1097.31,1063.79 1098.13,1061.88 1098.9,1059.96 1099.56,1058.05 1100.07,1056.14 1100.38,1054.23 1100.43,1052.31 1100.18,1050.4 1099.57,1048.49 1098.56,1046.57 1097.17,1044.66 1095.41,1042.75 1093.36,1040.83 1091.11,1038.92 1088.75,1037.01 1086.39,1035.09 1084.1,1033.18 1081.96,1031.27 1080.02,1029.35 1078.32,1027.44 1076.87,1025.53 1075.64,1023.61 1074.6,1021.7 1073.72,1019.79 1072.94,1017.87 1072.2,1015.96 1071.45,1014.05 1070.66,1012.13 1069.79,1010.22 1068.86,1008.31 1067.9,1006.39 1066.97,1004.48 1066.15,1002.57 1065.51,1000.65 1065.16,998.74 1065.15,996.83 1065.52,994.91 1066.29,993 1067.4,991.09 1068.78,989.17 1070.27,987.26 1071.68,985.35 1072.8,983.43 1073.44,981.52 1073.47,979.61 1072.88,977.69 1071.72,975.78 1070.13,973.87 1068.26,971.95 1066.31,970.04 1064.45,968.13 1062.81,966.21 1061.47,964.3 1060.45,962.39 1059.72,960.47 1059.22,958.56 1058.89,956.65 1058.66,954.73 1058.51,952.82 1058.39,950.91 1058.29,948.99 1058.18,947.08 1058.08,945.17 1057.97,943.26 1057.84,941.34 1057.71,939.43 1057.58,937.52 1057.45,935.6 1057.33,933.69 1057.22,931.78 1057.14,929.86 1057.07,927.95 1057.03,926.04 1057.02,924.12 1057.03,922.21 1057.06,920.3 1057.1,918.38 1057.15,916.47 1057.21,914.56 1057.26,912.64 1057.31,910.73 1057.35,908.82 1057.38,906.9 1057.4,904.99 1057.41,903.08 1057.4,901.16 1057.39,899.25 1057.38,897.34 1057.36,895.42 1057.34,893.51 1057.31,891.6 1057.28,889.68 1057.26,887.77 1057.23,885.86 1057.2,883.94 1057.17,882.03 1057.14,880.12 1057.11,878.2 1057.08,876.29 1057.05,874.38 1057.01,872.46 1056.98,870.55 1056.94,868.64 1056.9,866.72 1056.87,864.81 1056.84,862.9 1056.81,860.98 1056.78,859.07 1056.75,857.16 1056.74,855.24 1056.72,853.33 1056.71,851.42 1056.7,849.5 1056.7,847.59 1056.7,845.68 1056.7,843.76 1056.7,841.85 1056.7,839.94 1056.7,838.02 1056.7,836.11 1056.7,834.2 1056.7,832.29 1056.7,830.37 1056.7,828.46 1056.7,826.55 1056.7,824.63 1056.7,822.72 1056.7,820.81 1056.7,818.89 1056.7,816.98 1056.7,815.07 1056.7,813.15" fill="none" stroke="#FFA500" stroke-width="2.4" stroke-linejoin="round"/>
<g fill="#0000FF">
<circle cx="891.9" cy="1109.6" r="5.4"/>
<circle cx="825.2" cy="1050.4" r="5.4"/>
<circle cx="848.9" cy="1068.7" r="5.4"/>
<circle cx="822.4" cy="1071.8" r="5.4"/>
<circle cx="781.3" cy="1044.2" r="5.4"/>
<circle cx="863.5" cy="1080.3" r="5.4"/>
<circle cx="852.4" cy="1066.1" r="5.4"/>
<circle cx="793.2" cy="1096.3" r="5.4"/>
<circle cx="801.5" cy="1052.2" r="5.4"/>
<circle cx="874" cy="1056.5" r="5.4"/>
<circle cx="783" cy="1050.3" r="5.4"/>
<circle cx="792.4" cy="1041.3" r="5.4"/>
<circle cx="803.2" cy="1080.6" r="5.4"/>
<circle cx="920.3" cy="1072.3" r="5.4"/>
<circle cx="851.3" cy="1060.1" r="5.4"/>
<circle cx="843.9" cy="1077.7" r="5.4"/>
<circle cx="931.1" cy="1079" r="5.4"/>
<circle cx="748.7" cy="1025.6" r="5.4"/>
<circle cx="914.4" cy="1068.3" r="5.4"/>
<circle cx="709" cy="1041.2" r="5.4"/>
<circle cx="845.7" cy="1061.8" r="5.4"/>
<circle cx="899.9" cy="1110.8" r="5.4"/>
<circle cx="836.8" cy="1042.9" r="5.4"/>
<circle cx="792.5" cy="1093" r="5.4"/>
<circle cx="759.6" cy="1081" r="5.4"/>
<circle cx="794.3" cy="1059.5" r="5.4"/>
<circle cx="898.8" cy="1092.4" r="5.4"/>
<circle cx="886.8" cy="1079" r="5.4"/>
<circle cx="800.3" cy="1052.9" r="5.4"/>
<circle cx="870.5" cy="1031.1" r="5.4"/>
<circle cx="711.3" cy="1023.6" r="5.4"/>
<circle cx="780.2" cy="1046.6" r="5.4"/>
<circle cx="764.9" cy="1053.1" r="5.4"/>
<circle cx="875.7" cy="1101.7" r="5.4"/>
<circle cx="837.7" cy="1064.4" r="5.4"/>
<circle cx="854.6" cy="1110.9" r="5.4"/>
<circle cx="840.4" cy="1095.5" r="5.4"/>
<circle cx="769.2" cy="1085.7" r="5.4"/>
<circle cx="860.2" cy="1064.6" r="5.4"/>
<circle cx="925.9" cy="1075.7" r="5.4"/>
<circle cx="817.2" cy="1080.9" r="5.4"/>
<circle cx="867.5" cy="1060" r="5.4"/>
<circle cx="810.6" cy="1064.8" r="5.4"/>
<circle cx="897.1" cy="1027.6" r="5.4"/>
<circle cx="870" cy="1084.2" r="5.4"/>
<circle cx="885.7" cy="1080.4" r="5.4"/>
<circle cx="846.1" cy="1054.8" r="5.4"/>
<circle cx="792.9" cy="1103.6" r="5.4"/>
<circle cx="794.9" cy="1073.7" r="5.4"/>
<circle cx="775.6" cy="1042.3" r="5.4"/>
<circle cx="865.8" cy="1081.2" r="5.4"/>
<circle cx="773.3" cy="1067" r="5.4"/>
<circle cx="771.7" cy="1082.9" r="5.4"/>
<circle cx="874.6" cy="1059" r="5.4"/>
<circle cx="907.2" cy="1087.1" r="5.4"/>
<circle cx="863.1" cy="1086.7" r="5.4"/>
<circle cx="748.5" cy="1067.5" r="5.4"/>
<circle cx="739.5" cy="1055.9" r="5.4"/>
<circle cx="729.4" cy="1042" r="5.4"/>
<circle cx="789.4" cy="1031.7" r="5.4"/>
<circle cx="796.9" cy="1006.3" r="5.4"/>
<circle cx="764.8" cy="1036.8" r="5.4"/>
<circle cx="872.4" cy="1053.8" r="5.4"/>
<circle cx="825.2" cy="1095.1" r="5.4"/>
<circle cx="829.1" cy="1077.4" r="5.4"/>
<circle cx="768.5" cy="1036.4" r="5.4"/>
<circle cx="819.9" cy="1049.8" r="5.4"/>
<circle cx="852.6" cy="1046.3" r="5.4"/>
<circle cx="901.3" cy="1049.5" r="5.4"/>
<circle cx="883.2" cy="1077.6" r="5.4"/>
<circle cx="782" cy="1049.8" r="5.4"/>
<circle cx="743.5" cy="1022.9" r="5.4"/>
<circle cx="806.1" cy="1054.4" r="5.4"/>
<circle cx="794.5" cy="1052.7" r="5.4"/>
<circle cx="829.9" cy="1034.5" r="5.4"/>
<circle cx="907.5" cy="1096.3" r="5.4"/>
<circle cx="803.3" cy="1039.8" r="5.4"/>
<circle cx="847.7" cy="1049.1" r="5.4"/>
<circle cx="923.9" cy="1067.6" r="5.4"/>
<circle cx="719.8" cy="1080.1" r="5.4"/>
<circle cx="793.9" cy="1034" r="5.4"/>
<circle cx="808.2" cy="1070" r="5.4"/>
<circle cx="841.1" cy="1035.8" r="5.4"/>
<circle cx="799.7" cy="1050.2" r="5.4"/>
<circle cx="753" cy="1035.5" r="5.4"/>
<circle cx="751.1" cy="1038.2" r="5.4"/>
<circle cx="740.3" cy="1051.7" r="5.4"/>
<circle cx="837.7" cy="1038.6" r="5.4"/>
<circle cx="766.4" cy="1037.8" r="5.4"/>
<circle cx="884.6" cy="1075.2" r="5.4"/>
<circle cx="846.5" cy="1052.5" r="5.4"/>
<circle cx="829.6" cy="1042.7" r="5.4"/>
<circle cx="814.3" cy="1106.4" r="5.4"/>
<circle cx="905.3" cy="1072" r="5.4"/>
<circle cx="750.1" cy="1045" r="5.4"/>
<circle cx="765.5" cy="1053.2" r="5.4"/>
<circle cx="736.3" cy="1051.2" r="5.4"/>
<circle cx="920.1" cy="1064.9" r="5.4"/>
<circle cx="798" cy="1071" r="5.4"/>
<circle cx="742.2" cy="1028.6" r="5.4"/>
<circle cx="724" cy="920.6" r="5.4"/>
<circle cx="668.1" cy="933.4" r="5.4"/>
<circle cx="794.1" cy="942.1" r="5.4"/>
<circle cx="590.7" cy="961.3" r="5.4"/>
<circle cx="628.9" cy="960.9" r="5.4"/>
<circle cx="638.6" cy="974.9" r="5.4"/>
<circle cx="672.9" cy="978.8" r="5.4"/>
<circle cx="777.6" cy="978.8" r="5.4"/>
<circle cx="970.7" cy="813.9" r="5.4"/>
<circle cx="919.7" cy="873.4" r="5.4"/>
<circle cx="894.7" cy="887.8" r="5.4"/>
<circle cx="900.5" cy="899.1" r="5.4"/>
<circle cx="857.2" cy="937.3" r="5.4"/>
<circle cx="899.2" cy="950.9" r="5.4"/>
<circle cx="952" cy="971.6" r="5.4"/>
<circle cx="975.5" cy="970.9" r="5.4"/>
<circle cx="1027" cy="975.6" r="5.4"/>
<circle cx="921.5" cy="980" r="5.4"/>
<circle cx="951.7" cy="979.5" r="5.4"/>
<circle cx="610" cy="997.9" r="5.4"/>
<circle cx="610.7" cy="1007.9" r="5.4"/>
<circle cx="681.2" cy="1000.6" r="5.4"/>
<circle cx="769.4" cy="991.4" r="5.4"/>
<circle cx="800.3" cy="1001.3" r="5.4"/>
<circle cx="809.2" cy="1005.4" r="5.4"/>
<circle cx="645.7" cy="1013" r="5.4"/>
<circle cx="639.5" cy="1014.4" r="5.4"/>
<circle cx="723.3" cy="1010.5" r="5.4"/>
<circle cx="724" cy="1017.1" r="5.4"/>
<circle cx="697.2" cy="1020.8" r="5.4"/>
<circle cx="755.6" cy="1010.9" r="5.4"/>
<circle cx="741.9" cy="1015.7" r="5.4"/>
<circle cx="722.2" cy="1027.1" r="5.4"/>
<circle cx="581.4" cy="1026" r="5.4"/>
<circle cx="609.3" cy="1038.4" r="5.4"/>
<circle cx="583.9" cy="1044.3" r="5.4"/>
<circle cx="654.4" cy="1037.4" r="5.4"/>
<circle cx="683.5" cy="1041.4" r="5.4"/>
<circle cx="700.7" cy="1032.9" r="5.4"/>
<circle cx="794.1" cy="1025.3" r="5.4"/>
<circle cx="794.1" cy="1032.2" r="5.4"/>
<circle cx="750.1" cy="1038.4" r="5.4"/>
<circle cx="783.1" cy="1038.4" r="5.4"/>
<circle cx="813.4" cy="1033.6" r="5.4"/>
<circle cx="813.4" cy="1015.7" r="5.4"/>
<circle cx="594.9" cy="1061.8" r="5.4"/>
<circle cx="588" cy="1070.3" r="5.4"/>
<circle cx="669.1" cy="1058.6" r="5.4"/>
<circle cx="713" cy="1058.3" r="5.4"/>
<circle cx="703.4" cy="1061.1" r="5.4"/>
<circle cx="653.3" cy="1072.1" r="5.4"/>
<circle cx="703.4" cy="1074.1" r="5.4"/>
<circle cx="704.1" cy="1078.3" r="5.4"/>
<circle cx="706.8" cy="1085.1" r="5.4"/>
<circle cx="665.3" cy="1084.9" r="5.4"/>
<circle cx="754.3" cy="1068.6" r="5.4"/>
<circle cx="754.3" cy="1081" r="5.4"/>
<circle cx="739.1" cy="1089.9" r="5.4"/>
<circle cx="751.5" cy="1093.4" r="5.4"/>
<circle cx="787.2" cy="1093.4" r="5.4"/>
<circle cx="799.6" cy="1076.2" r="5.4"/>
<circle cx="781.7" cy="1067.9" r="5.4"/>
<circle cx="717.2" cy="1066.6" r="5.4"/>
<circle cx="746" cy="1110.5" r="5.4"/>
<circle cx="651.2" cy="1115.8" r="5.4"/>
<circle cx="661.9" cy="1119.2" r="5.4"/>
<circle cx="579.7" cy="1129.5" r="5.4"/>
<circle cx="625.8" cy="1128.8" r="5.4"/>
<circle cx="793.4" cy="1127.5" r="5.4"/>
<circle cx="762.5" cy="1140.5" r="5.4"/>
<circle cx="734.1" cy="1154.5" r="5.4"/>
<circle cx="814" cy="1109.2" r="5.4"/>
<circle cx="867.9" cy="987.6" r="5.4"/>
<circle cx="851.1" cy="996.1" r="5.4"/>
<circle cx="887.8" cy="997.9" r="5.4"/>
<circle cx="836.7" cy="1005.1" r="5.4"/>
<circle cx="820.5" cy="1010.9" r="5.4"/>
<circle cx="890.6" cy="1010.5" r="5.4"/>
<circle cx="906.8" cy="1013" r="5.4"/>
<circle cx="885.1" cy="1021.2" r="5.4"/>
<circle cx="827.4" cy="1019.9" r="5.4"/>
<circle cx="841.1" cy="1024" r="5.4"/>
<circle cx="816.4" cy="1033.6" r="5.4"/>
<circle cx="924.2" cy="1041.8" r="5.4"/>
<circle cx="916.7" cy="1045.3" r="5.4"/>
<circle cx="999.1" cy="1043.9" r="5.4"/>
<circle cx="922.9" cy="1062.5" r="5.4"/>
<circle cx="870" cy="1035" r="5.4"/>
<circle cx="879.6" cy="1043.9" r="5.4"/>
<circle cx="857.6" cy="1057" r="5.4"/>
<circle cx="819.1" cy="1046" r="5.4"/>
<circle cx="909.8" cy="1072.1" r="5.4"/>
<circle cx="930.2" cy="1071.4" r="5.4"/>
<circle cx="941.4" cy="1074.5" r="5.4"/>
<circle cx="949.4" cy="1087.9" r="5.4"/>
<circle cx="909.1" cy="1085.8" r="5.4"/>
<circle cx="820.5" cy="1089.9" r="5.4"/>
<circle cx="843.9" cy="1088.6" r="5.4"/>
<circle cx="848" cy="1084.4" r="5.4"/>
<circle cx="878.2" cy="1074.8" r="5.4"/>
<circle cx="874.1" cy="1078.9" r="5.4"/>
<circle cx="881" cy="1091.3" r="5.4"/>
<circle cx="886.5" cy="1099.6" r="5.4"/>
<circle cx="857.6" cy="1095.4" r="5.4"/>
<circle cx="909.8" cy="1098.2" r="5.4"/>
<circle cx="931.8" cy="1097.8" r="5.4"/>
<circle cx="944.9" cy="1098.9" r="5.4"/>
<circle cx="950.4" cy="1101.6" r="5.4"/>
<circle cx="929.1" cy="1106.4" r="5.4"/>
<circle cx="911.2" cy="1109.9" r="5.4"/>
<circle cx="868.6" cy="1106.4" r="5.4"/>
<circle cx="837.7" cy="1106.2" r="5.4"/>
<circle cx="816.4" cy="1109.2" r="5.4"/>
<circle cx="822.6" cy="1114" r="5.4"/>
<circle cx="940.1" cy="1116" r="5.4"/>
<circle cx="926.7" cy="1118.1" r="5.4"/>
<circle cx="917.1" cy="1124.7" r="5.4"/>
<circle cx="897.5" cy="1127.7" r="5.4"/>
<circle cx="902.3" cy="1130.5" r="5.4"/>
<circle cx="899.9" cy="1134.6" r="5.4"/>
<circle cx="927.4" cy="1132.9" r="5.4"/>
<circle cx="947.6" cy="1132.5" r="5.4"/>
<circle cx="844.5" cy="1134.6" r="5.4"/>
<circle cx="848" cy="1140.1" r="5.4"/>
<circle cx="861.7" cy="1142.2" r="5.4"/>
<circle cx="957.9" cy="1153.2" r="5.4"/>
<circle cx="894.7" cy="1100.9" r="5.4"/>
<circle cx="889.2" cy="1084.4" r="5.4"/>
<circle cx="897.5" cy="1076.2" r="5.4"/>
<circle cx="850.7" cy="1067.9" r="5.4"/>
<circle cx="863.1" cy="1069.3" r="5.4"/>
<circle cx="794.4" cy="1177.1" r="5.4"/>
<circle cx="737.1" cy="1183.5" r="5.4"/>
<circle cx="806.9" cy="1185.7" r="5.4"/>
<circle cx="716.9" cy="1219" r="5.4"/>
<circle cx="633.1" cy="1229" r="5.4"/>
<circle cx="792.1" cy="1226.9" r="5.4"/>
<circle cx="698.3" cy="1272.2" r="5.4"/>
<circle cx="666.7" cy="1277.4" r="5.4"/>
<circle cx="682.4" cy="1308.7" r="5.4"/>
<circle cx="841.8" cy="1177.1" r="5.4"/>
<circle cx="841.1" cy="1190.5" r="5.4"/>
<circle cx="851.1" cy="1190.8" r="5.4"/>
<circle cx="912.3" cy="1181.9" r="5.4"/>
<circle cx="862.8" cy="1211.4" r="5.4"/>
</g>
<path fill="#FFA500" d="M755.9 823.3l3.6 5.8h-7.2zM797.1 873.2l3.6 5.8h-7.2zM777.6 878.6l3.6 5.8h-7.2zM781.7 890.4l3.6 5.8h-7.2zM814 877.9l3.6 5.8h-7.2zM731.3 924.7l3.6 5.8h-7.2zM750.4 923.6l3.6 5.8h-7.2zM746.4 932.3l3.6 5.8h-7.2zM690.4 932.6l3.6 5.8h-7.2zM712.3 933l3.6 5.8h-7.2zM582.2 936.3l3.6 5.8h-7.2zM729.8 943.3l3.6 5.8h-7.2zM779.4 938.5l3.6 5.8h-7.2zM768.4 944.3l3.6 5.8h-7.2zM772.8 952.9l3.6 5.8h-7.2zM726.1 953.9l3.6 5.8h-7.2zM703.4 955l3.6 5.8h-7.2zM704.5 958l3.6 5.8h-7.2zM711 957.6l3.6 5.8h-7.2zM725.7 961.2l3.6 5.8h-7.2zM762.5 957.6l3.6 5.8h-7.2zM801 961.4l3.6 5.8h-7.2zM814 957.6l3.6 5.8h-7.2zM653.3 967.6l3.6 5.8h-7.2zM668.4 967.6l3.6 5.8h-7.2zM669.1 971.1l3.6 5.8h-7.2zM684.9 969.7l3.6 5.8h-7.2zM682.1 971.7l3.6 5.8h-7.2zM700.9 971.7l3.6 5.8h-7.2zM750.1 968.3l3.6 5.8h-7.2zM748.8 973.8l3.6 5.8h-7.2zM768.7 970.4l3.6 5.8h-7.2zM772.5 970.4l3.6 5.8h-7.2zM793.4 968.3l3.6 5.8h-7.2zM797.5 971.7l3.6 5.8h-7.2zM814 971.1l3.6 5.8h-7.2zM656.7 975.9l3.6 5.8h-7.2zM664.2 975.2l3.6 5.8h-7.2zM689 975.2l3.6 5.8h-7.2zM755.6 975.2l3.6 5.8h-7.2zM763.2 975.9l3.6 5.8h-7.2zM770.1 975.9l3.6 5.8h-7.2zM796.2 975.2l3.6 5.8h-7.2zM878.9 873.1l3.6 5.8h-7.2zM899.2 875.8l3.6 5.8h-7.2zM815.7 878.3l3.6 5.8h-7.2zM939.8 878.6l3.6 5.8h-7.2zM842.9 886.1l3.6 5.8h-7.2zM863.4 895.1l3.6 5.8h-7.2zM887.8 896.2l3.6 5.8h-7.2zM950.1 902.3l3.6 5.8h-7.2zM959.3 916.4l3.6 5.8h-7.2zM837.7 929.8l3.6 5.8h-7.2zM830.5 934.9l3.6 5.8h-7.2zM837 939.2l3.6 5.8h-7.2zM848.4 937.8l3.6 5.8h-7.2zM878.9 930.9l3.6 5.8h-7.2zM876.8 934.6l3.6 5.8h-7.2zM891.7 933l3.6 5.8h-7.2zM905.7 932.3l3.6 5.8h-7.2zM929.3 932.3l3.6 5.8h-7.2zM951 933.7l3.6 5.8h-7.2zM927.3 941.5l3.6 5.8h-7.2zM851.1 944.9l3.6 5.8h-7.2zM837.7 947l3.6 5.8h-7.2zM894.3 946.6l3.6 5.8h-7.2zM942.8 950l3.6 5.8h-7.2zM946.9 950l3.6 5.8h-7.2zM966.6 955l3.6 5.8h-7.2zM940.3 956.6l3.6 5.8h-7.2zM837.4 957.7l3.6 5.8h-7.2zM851.7 957.7l3.6 5.8h-7.2zM863.5 957.7l3.6 5.8h-7.2zM815.7 958l3.6 5.8h-7.2zM820.5 965.6l3.6 5.8h-7.2zM818.4 968.3l3.6 5.8h-7.2zM841.5 971.1l3.6 5.8h-7.2zM864.5 971.7l3.6 5.8h-7.2zM875.1 969l3.6 5.8h-7.2zM878.6 970.4l3.6 5.8h-7.2zM898.6 970l3.6 5.8h-7.2zM910.2 969.3l3.6 5.8h-7.2zM950.1 971.5l3.6 5.8h-7.2zM1000.9 971.7l3.6 5.8h-7.2zM902.9 973.8l3.6 5.8h-7.2zM828.7 975.9l3.6 5.8h-7.2zM832.2 975.9l3.6 5.8h-7.2zM867.9 975.2l3.6 5.8h-7.2zM885.8 975.2l3.6 5.8h-7.2zM896.1 975.9l3.6 5.8h-7.2zM901.6 975.9l3.6 5.8h-7.2zM908.4 975.9l3.6 5.8h-7.2zM919.4 975.9l3.6 5.8h-7.2zM940.7 976.6l3.6 5.8h-7.2zM845.2 976.6l3.6 5.8h-7.2zM879.6 976.6l3.6 5.8h-7.2zM589.1 1010.1l3.6 5.8h-7.2zM638.8 989.5l3.6 5.8h-7.2zM647.8 980.5l3.6 5.8h-7.2zM668.4 981.9l3.6 5.8h-7.2zM668.4 990.2l3.6 5.8h-7.2zM663.6 997.7l3.6 5.8h-7.2zM667 1001.8l3.6 5.8h-7.2zM701.4 988.8l3.6 5.8h-7.2zM710.3 984.7l3.6 5.8h-7.2zM722.7 979.2l3.6 5.8h-7.2zM744 981.2l3.6 5.8h-7.2zM716.5 992.9l3.6 5.8h-7.2zM719.9 995l3.6 5.8h-7.2zM737.8 997.7l3.6 5.8h-7.2zM748.8 990.2l3.6 5.8h-7.2zM787.2 986.7l3.6 5.8h-7.2zM777.6 987.4l3.6 5.8h-7.2zM761.1 986l3.6 5.8h-7.2zM757 993.6l3.6 5.8h-7.2zM700.7 997.7l3.6 5.8h-7.2zM713 1002.5l3.6 5.8h-7.2zM655.3 1007.3l3.6 5.8h-7.2zM636.1 1008.7l3.6 5.8h-7.2zM637.5 1013.5l3.6 5.8h-7.2zM660.8 1012.8l3.6 5.8h-7.2zM667.7 1009.4l3.6 5.8h-7.2zM676.6 1007.3l3.6 5.8h-7.2zM680.7 1007.3l3.6 5.8h-7.2zM686.9 1009.4l3.6 5.8h-7.2zM684.9 1014.9l3.6 5.8h-7.2zM691 1012.1l3.6 5.8h-7.2zM698.6 1007.3l3.6 5.8h-7.2zM702.7 1007.3l3.6 5.8h-7.2zM707.5 1007.3l3.6 5.8h-7.2zM627.1 1019l3.6 5.8h-7.2zM638.8 1023.8l3.6 5.8h-7.2zM650.5 1018.3l3.6 5.8h-7.2zM651.9 1025.2l3.6 5.8h-7.2zM664.9 1021.1l3.6 5.8h-7.2zM669.1 1022.4l3.6 5.8h-7.2zM663.6 1025.2l3.6 5.8h-7.2zM623.4 1028.9l3.6 5.8h-7.2zM631.3 1033.4l3.6 5.8h-7.2zM656.7 1029.3l3.6 5.8h-7.2zM660.8 1030.7l3.6 5.8h-7.2zM664.2 1034.8l3.6 5.8h-7.2zM674.6 1034.1l3.6 5.8h-7.2zM684.2 1032.1l3.6 5.8h-7.2zM689.7 1029.3l3.6 5.8h-7.2zM621.4 1039.6l3.6 5.8h-7.2zM626.5 1039.6l3.6 5.8h-7.2zM634.7 1039.6l3.6 5.8h-7.2zM638.8 1043.7l3.6 5.8h-7.2zM640.9 1041.7l3.6 5.8h-7.2zM645.7 1036.2l3.6 5.8h-7.2zM650.5 1038.3l3.6 5.8h-7.2zM664.9 1041l3.6 5.8h-7.2zM669.1 1041.7l3.6 5.8h-7.2zM675.9 1043.1l3.6 5.8h-7.2zM682.8 1044.4l3.6 5.8h-7.2zM692.4 1041.7l3.6 5.8h-7.2zM627.8 1047.2l3.6 5.8h-7.2zM656 1047.9l3.6 5.8h-7.2zM589.4 1041.7l3.6 5.8h-7.2zM610 1055.4l3.6 5.8h-7.2zM588.7 1058.2l3.6 5.8h-7.2zM682.1 1055.4l3.6 5.8h-7.2zM668.4 1059.6l3.6 5.8h-7.2zM653.9 1059.6l3.6 5.8h-7.2zM634 1063.7l3.6 5.8h-7.2zM638.8 1066.4l3.6 5.8h-7.2zM630.6 1067.8l3.6 5.8h-7.2zM599 1067.4l3.6 5.8h-7.2zM592.5 1072.9l3.6 5.8h-7.2zM650.5 1065l3.6 5.8h-7.2zM662.2 1069.2l3.6 5.8h-7.2zM664.2 1071.9l3.6 5.8h-7.2zM684.9 1066.8l3.6 5.8h-7.2zM681.4 1072.6l3.6 5.8h-7.2zM680.7 1076l3.6 5.8h-7.2zM634 1076.7l3.6 5.8h-7.2zM638.8 1078.1l3.6 5.8h-7.2zM642.3 1085.7l3.6 5.8h-7.2zM682.1 1082.2l3.6 5.8h-7.2zM682.1 1085.7l3.6 5.8h-7.2zM610.4 1085.7l3.6 5.8h-7.2zM653 1093.6l3.6 5.8h-7.2zM590.5 1102.4l3.6 5.8h-7.2zM646.4 1106.3l3.6 5.8h-7.2zM656 1107l3.6 5.8h-7.2zM665.6 1108.3l3.6 5.8h-7.2zM638.8 1111.8l3.6 5.8h-7.2zM634 1115.9l3.6 5.8h-7.2zM651.2 1124.8l3.6 5.8h-7.2zM658.3 1129.6l3.6 5.8h-7.2zM673.6 1128.7l3.6 5.8h-7.2zM610 1130l3.6 5.8h-7.2zM615.5 1138.3l3.6 5.8h-7.2zM610.7 1145.2l3.6 5.8h-7.2zM668.1 1136.5l3.6 5.8h-7.2zM702.7 1102.2l3.6 5.8h-7.2zM703.4 1111.8l3.6 5.8h-7.2zM710.3 1113.1l3.6 5.8h-7.2zM701.4 1119.3l3.6 5.8h-7.2zM697.9 1128.3l3.6 5.8h-7.2zM704.1 1128.3l3.6 5.8h-7.2zM702.7 1137.9l3.6 5.8h-7.2zM723.3 1128.3l3.6 5.8h-7.2zM730.9 1132.4l3.6 5.8h-7.2zM735 1126.9l3.6 5.8h-7.2zM738.5 1124.8l3.6 5.8h-7.2zM746 1133.8l3.6 5.8h-7.2zM748.8 1126.9l3.6 5.8h-7.2zM757 1126.9l3.6 5.8h-7.2zM761.8 1129.6l3.6 5.8h-7.2zM772.8 1126.2l3.6 5.8h-7.2zM777.6 1125.5l3.6 5.8h-7.2zM774.9 1129.6l3.6 5.8h-7.2zM781.7 1129.6l3.6 5.8h-7.2zM769.4 1136.5l3.6 5.8h-7.2zM777.6 1135.8l3.6 5.8h-7.2zM796.2 1131.7l3.6 5.8h-7.2zM801 1124.8l3.6 5.8h-7.2zM804.4 1128.3l3.6 5.8h-7.2zM715.1 1150.9l3.6 5.8h-7.2zM745.3 1145.4l3.6 5.8h-7.2zM777.6 1144.1l3.6 5.8h-7.2zM793.4 1148.9l3.6 5.8h-7.2zM702.5 1164l3.6 5.8h-7.2zM605.6 1170.2l3.6 5.8h-7.2zM726.8 1111.1l3.6 5.8h-7.2zM730.2 1105.6l3.6 5.8h-7.2zM732.3 1111.1l3.6 5.8h-7.2zM735 1102.2l3.6 5.8h-7.2zM801 1113.1l3.6 5.8h-7.2zM723.3 1091.2l3.6 5.8h-7.2zM727.5 1093.9l3.6 5.8h-7.2zM706.2 1095.3l3.6 5.8h-7.2zM710.3 1091.2l3.6 5.8h-7.2zM713.7 1093.9l3.6 5.8h-7.2zM704.1 1096.7l3.6 5.8h-7.2zM717.2 1082.2l3.6 5.8h-7.2zM721.3 1082.9l3.6 5.8h-7.2zM969.9 1006.9l3.6 5.8h-7.2zM960.3 1011.9l3.6 5.8h-7.2zM943.8 1011.5l3.6 5.8h-7.2zM936.6 1010.1l3.6 5.8h-7.2zM951 996.3l3.6 5.8h-7.2zM949 992.9l3.6 5.8h-7.2zM931.1 994.3l3.6 5.8h-7.2zM917.4 997.7l3.6 5.8h-7.2zM916.7 1001.8l3.6 5.8h-7.2zM928.4 1001.8l3.6 5.8h-7.2zM896.8 994.3l3.6 5.8h-7.2zM874.8 990.8l3.6 5.8h-7.2zM935.2 985.3l3.6 5.8h-7.2zM928.4 983.3l3.6 5.8h-7.2zM910.5 984.7l3.6 5.8h-7.2zM816.4 984.7l3.6 5.8h-7.2zM838.4 990.2l3.6 5.8h-7.2zM841.1 987.4l3.6 5.8h-7.2zM968.5 1031.4l3.6 5.8h-7.2zM972.1 1039.9l3.6 5.8h-7.2zM955.9 1033.4l3.6 5.8h-7.2zM951.7 1032.8l3.6 5.8h-7.2zM950.4 1037.6l3.6 5.8h-7.2zM949 1041.7l3.6 5.8h-7.2zM936.6 1041l3.6 5.8h-7.2zM930.4 1029.3l3.6 5.8h-7.2zM922.2 1022.4l3.6 5.8h-7.2zM924.9 1018.3l3.6 5.8h-7.2zM930.4 1017l3.6 5.8h-7.2zM913.9 1023.8l3.6 5.8h-7.2zM911.2 1030l3.6 5.8h-7.2zM949.7 1059.6l3.6 5.8h-7.2zM951.7 1062.3l3.6 5.8h-7.2zM960.7 1070.1l3.6 5.8h-7.2zM953.1 1112.5l3.6 5.8h-7.2zM952.4 1124.1l3.6 5.8h-7.2zM949 1137.2l3.6 5.8h-7.2zM949.7 1150.3l3.6 5.8h-7.2zM946.2 1161.2l3.6 5.8h-7.2zM1000.5 1156.4l3.6 5.8h-7.2zM906.7 1147.5l3.6 5.8h-7.2zM892.6 1153l3.6 5.8h-7.2zM894.7 1143.4l3.6 5.8h-7.2zM867.2 1150.9l3.6 5.8h-7.2zM864.5 1148.2l3.6 5.8h-7.2zM830.1 1150.9l3.6 5.8h-7.2zM819.1 1170.9l3.6 5.8h-7.2zM900.9 1139.9l3.6 5.8h-7.2zM917.4 1137.2l3.6 5.8h-7.2zM920.8 1137.9l3.6 5.8h-7.2zM925.6 1138.6l3.6 5.8h-7.2zM915.3 1132.4l3.6 5.8h-7.2zM909.8 1128.3l3.6 5.8h-7.2zM885.1 1135.1l3.6 5.8h-7.2zM886.5 1138.6l3.6 5.8h-7.2zM881 1132.4l3.6 5.8h-7.2zM878.9 1137.2l3.6 5.8h-7.2zM883 1137.9l3.6 5.8h-7.2zM894 1136.5l3.6 5.8h-7.2zM837 1136.5l3.6 5.8h-7.2zM855.5 1128.9l3.6 5.8h-7.2zM860.3 1126.9l3.6 5.8h-7.2zM867.9 1128.3l3.6 5.8h-7.2zM872.7 1122.1l3.6 5.8h-7.2zM820.5 1124.8l3.6 5.8h-7.2zM823.9 1124.8l3.6 5.8h-7.2zM835.6 1124.1l3.6 5.8h-7.2zM839.7 1121.4l3.6 5.8h-7.2zM856.2 1117.3l3.6 5.8h-7.2zM857.6 1120l3.6 5.8h-7.2zM850.7 1106.3l3.6 5.8h-7.2zM851.4 1112.5l3.6 5.8h-7.2zM840.4 1109l3.6 5.8h-7.2zM842.5 1114.5l3.6 5.8h-7.2zM833.6 1109l3.6 5.8h-7.2zM885.1 1112.5l3.6 5.8h-7.2zM893.3 1115.9l3.6 5.8h-7.2zM896.1 1112.5l3.6 5.8h-7.2zM900.2 1106.3l3.6 5.8h-7.2zM904.3 1113.1l3.6 5.8h-7.2zM905.7 1117.3l3.6 5.8h-7.2zM917.4 1114.5l3.6 5.8h-7.2zM921.5 1109l3.6 5.8h-7.2zM932.5 1109l3.6 5.8h-7.2zM938.7 1103.5l3.6 5.8h-7.2zM938 1106.3l3.6 5.8h-7.2zM934.6 1120l3.6 5.8h-7.2zM930.4 1123.5l3.6 5.8h-7.2zM939.4 1088.4l3.6 5.8h-7.2zM933.2 1087l3.6 5.8h-7.2zM924.9 1085.7l3.6 5.8h-7.2zM920.8 1086.3l3.6 5.8h-7.2zM931.8 1081.5l3.6 5.8h-7.2zM927.7 1082.9l3.6 5.8h-7.2zM916 1073.3l3.6 5.8h-7.2zM924.2 1076l3.6 5.8h-7.2zM927 1073.3l3.6 5.8h-7.2zM931.8 1056.1l3.6 5.8h-7.2zM931.8 1050.6l3.6 5.8h-7.2zM929.7 1047.2l3.6 5.8h-7.2zM926.3 1044.4l3.6 5.8h-7.2zM931.8 1040.3l3.6 5.8h-7.2zM609.6 1179l3.6 5.8h-7.2zM609.6 1187.5l3.6 5.8h-7.2zM644.3 1174.8l3.6 5.8h-7.2zM694.5 1174.2l3.6 5.8h-7.2zM667.7 1182.4l3.6 5.8h-7.2zM666.3 1187.2l3.6 5.8h-7.2zM659 1188.6l3.6 5.8h-7.2zM680.3 1184.2l3.6 5.8h-7.2zM702.5 1187.5l3.6 5.8h-7.2zM735 1175.5l3.6 5.8h-7.2zM738.5 1176.2l3.6 5.8h-7.2zM748.5 1180.6l3.6 5.8h-7.2zM741.9 1187.5l3.6 5.8h-7.2zM762.5 1179l3.6 5.8h-7.2zM793.4 1186.9l3.6 5.8h-7.2zM808.5 1185.8l3.6 5.8h-7.2zM814.7 1187.9l3.6 5.8h-7.2zM666.3 1211l3.6 5.8h-7.2zM638.8 1215.8l3.6 5.8h-7.2zM734.6 1212.2l3.6 5.8h-7.2zM724 1220.9l3.6 5.8h-7.2zM793.4 1216.3l3.6 5.8h-7.2zM583.9 1224.3l3.6 5.8h-7.2zM699 1254.3l3.6 5.8h-7.2zM580 1269l3.6 5.8h-7.2zM599 1272.8l3.6 5.8h-7.2zM704.1 1280.7l3.6 5.8h-7.2zM819.1 1172.1l3.6 5.8h-7.2zM843.2 1173.5l3.6 5.8h-7.2zM858.3 1173.5l3.6 5.8h-7.2zM830.1 1181.7l3.6 5.8h-7.2zM832.2 1183.8l3.6 5.8h-7.2zM828.1 1187.2l3.6 5.8h-7.2zM816.4 1187.2l3.6 5.8h-7.2zM836.3 1191.3l3.6 5.8h-7.2zM843.9 1181.7l3.6 5.8h-7.2zM854.2 1185.8l3.6 5.8h-7.2zM849.4 1187.9l3.6 5.8h-7.2zM868.9 1178.6l3.6 5.8h-7.2zM874.8 1182l3.6 5.8h-7.2zM878.9 1179.9l3.6 5.8h-7.2zM886.5 1184.7l3.6 5.8h-7.2zM890.6 1173.5l3.6 5.8h-7.2zM896.8 1173.2l3.6 5.8h-7.2zM891.3 1178.3l3.6 5.8h-7.2zM895.4 1178.3l3.6 5.8h-7.2zM906.4 1179.9l3.6 5.8h-7.2zM913.3 1177.6l3.6 5.8h-7.2zM917.4 1182l3.6 5.8h-7.2zM921.5 1178.3l3.6 5.8h-7.2zM922.2 1181l3.6 5.8h-7.2zM916.4 1187.5l3.6 5.8h-7.2zM932.5 1184.1l3.6 5.8h-7.2zM951.7 1174.8l3.6 5.8h-7.2zM946.2 1182.8l3.6 5.8h-7.2zM940.7 1186.9l3.6 5.8h-7.2zM946.9 1187.2l3.6 5.8h-7.2zM944.2 1193.7l3.6 5.8h-7.2zM974.4 1196.4l3.6 5.8h-7.2zM900.5 1207.6l3.6 5.8h-7.2zM843.4 1216.5l3.6 5.8h-7.2zM863.5 1218.4l3.6 5.8h-7.2zM851.4 1223.2l3.6 5.8h-7.2zM885.1 1225l3.6 5.8h-7.2zM899.5 1224.7l3.6 5.8h-7.2zM944.9 1224l3.6 5.8h-7.2zM947.6 1223.6l3.6 5.8h-7.2zM949.7 1226.4l3.6 5.8h-7.2zM967.1 1225l3.6 5.8h-7.2zM974.4 1222.3l3.6 5.8h-7.2zM864.5 1262.5l3.6 5.8h-7.2zM967.1 1261.4l3.6 5.8h-7.2zM921.9 1273.8l3.6 5.8h-7.2zM955.9 1273.1l3.6 5.8h-7.2zM949.4 1277.9l3.6 5.8h-7.2zM957.5 1278.3l3.6 5.8h-7.2zM751.3 1035.4l3.6 5.8h-7.2zM741.4 1048.9l3.6 5.8h-7.2zM886.7 1114.8l3.6 5.8h-7.2zM787.9 1061.1l3.6 5.8h-7.2zM769.5 1030.1l3.6 5.8h-7.2zM846 1074.4l3.6 5.8h-7.2zM837.5 1030.7l3.6 5.8h-7.2zM834 1033.9l3.6 5.8h-7.2zM892.5 1069.9l3.6 5.8h-7.2zM825.9 1080.5l3.6 5.8h-7.2zM880.2 1044.3l3.6 5.8h-7.2zM777.9 1065.2l3.6 5.8h-7.2zM765.6 1024.2l3.6 5.8h-7.2zM910.6 1040.7l3.6 5.8h-7.2zM786.7 1078.7l3.6 5.8h-7.2zM803.9 1054.2l3.6 5.8h-7.2zM833.1 1050.6l3.6 5.8h-7.2zM774.4 1056.3l3.6 5.8h-7.2zM775.1 1029.1l3.6 5.8h-7.2zM931.5 1052.9l3.6 5.8h-7.2zM769.8 1047.9l3.6 5.8h-7.2zM839.8 1045.3l3.6 5.8h-7.2zM875 1053.4l3.6 5.8h-7.2zM858.9 1067.1l3.6 5.8h-7.2zM925.7 1066.7l3.6 5.8h-7.2zM868.6 1054.3l3.6 5.8h-7.2zM737.2 1028.5l3.6 5.8h-7.2zM870.6 1057.8l3.6 5.8h-7.2zM759.6 1049.5l3.6 5.8h-7.2zM887.9 1058.5l3.6 5.8h-7.2zM782.2 1031.2l3.6 5.8h-7.2zM839.5 1026.9l3.6 5.8h-7.2zM864.8 1063.2l3.6 5.8h-7.2zM889 1084l3.6 5.8h-7.2zM815.5 1083.5l3.6 5.8h-7.2zM847.3 1087.9l3.6 5.8h-7.2zM814.3 1060.9l3.6 5.8h-7.2zM848.9 1072.8l3.6 5.8h-7.2zM836.7 1047.7l3.6 5.8h-7.2zM779.7 1050.7l3.6 5.8h-7.2zM803.6 1046.3l3.6 5.8h-7.2zM936.9 1046.6l3.6 5.8h-7.2zM807.7 1052.7l3.6 5.8h-7.2zM754.4 1060.2l3.6 5.8h-7.2zM853.5 1067.6l3.6 5.8h-7.2zM752.5 1091.8l3.6 5.8h-7.2zM833.2 1112.4l3.6 5.8h-7.2zM798.7 1067.2l3.6 5.8h-7.2zM928.8 1063.2l3.6 5.8h-7.2zM779.2 1042.5l3.6 5.8h-7.2zM843.8 1015.2l3.6 5.8h-7.2zM881.2 1058.2l3.6 5.8h-7.2zM740.3 1041.3l3.6 5.8h-7.2zM839.9 1053.2l3.6 5.8h-7.2zM930.4 1068.4l3.6 5.8h-7.2zM928.5 1050l3.6 5.8h-7.2zM885.8 1092.6l3.6 5.8h-7.2zM868.2 1069.4l3.6 5.8h-7.2zM863.3 1056.8l3.6 5.8h-7.2zM790.6 1065.4l3.6 5.8h-7.2zM797.3 1074.2l3.6 5.8h-7.2zM868.4 1070.5l3.6 5.8h-7.2zM795.4 1049l3.6 5.8h-7.2zM807.5 1045.8l3.6 5.8h-7.2zM782.1 1078.3l3.6 5.8h-7.2zM850.8 1066.2l3.6 5.8h-7.2zM930.2 1087l3.6 5.8h-7.2zM777.4 1060.7l3.6 5.8h-7.2zM701.5 1055.7l3.6 5.8h-7.2zM770.4 1063.3l3.6 5.8h-7.2zM719.3 1061.4l3.6 5.8h-7.2zM828.1 1053.2l3.6 5.8h-7.2zM709.8 1032.9l3.6 5.8h-7.2zM876.4 1074l3.6 5.8h-7.2zM790.7 1038.5l3.6 5.8h-7.2zM905.4 1075.9l3.6 5.8h-7.2zM864.7 1076.6l3.6 5.8h-7.2zM900.4 1041.2l3.6 5.8h-7.2zM930 1051.8l3.6 5.8h-7.2zM759.5 1073.9l3.6 5.8h-7.2zM894.2 1066.8l3.6 5.8h-7.2zM891.3 1068l3.6 5.8h-7.2zM876.6 1085.6l3.6 5.8h-7.2zM761.2 1091.3l3.6 5.8h-7.2zM754.3 1047.6l3.6 5.8h-7.2zM824.8 1034.2l3.6 5.8h-7.2zM809.1 1069l3.6 5.8h-7.2zM910.2 1061.6l3.6 5.8h-7.2zM824.2 1052.9l3.6 5.8h-7.2zM732.7 1032.5l3.6 5.8h-7.2zM850.4 1021.9l3.6 5.8h-7.2zM826.8 1074l3.6 5.8h-7.2zM798.1 1032.1l3.6 5.8h-7.2zM847.6 1066.4l3.6 5.8h-7.2zM820.3 1071.4l3.6 5.8h-7.2zM812 1017.2l3.6 5.8h-7.2zM739.1 1044.8l3.6 5.8h-7.2zM852.3 1061.8l3.6 5.8h-7.2zM802.6 1056.9l3.6 5.8h-7.2zM736 1072.5l3.6 5.8h-7.2zM865.1 1059.7l3.6 5.8h-7.2zM836.1 1042.4l3.6 5.8h-7.2zM763.3 1033.6l3.6 5.8h-7.2zM832.5 1029.9l3.6 5.8h-7.2zM787.5 1040.8l3.6 5.8h-7.2zM873.6 1046.3l3.6 5.8h-7.2zM829.8 1078.3l3.6 5.8h-7.2zM833.5 1044.5l3.6 5.8h-7.2zM714 1054.2l3.6 5.8h-7.2zM852.6 1057.8l3.6 5.8h-7.2zM764 1043.7l3.6 5.8h-7.2zM761.5 1061.6l3.6 5.8h-7.2zM838.4 1032l3.6 5.8h-7.2zM839.2 1043.8l3.6 5.8h-7.2zM795.9 1052.5l3.6 5.8h-7.2zM887.1 1052.8l3.6 5.8h-7.2zM856.6 1052l3.6 5.8h-7.2zM784.2 1066.9l3.6 5.8h-7.2zM897.2 1069.8l3.6 5.8h-7.2zM793.1 1061.1l3.6 5.8h-7.2zM754.5 1051.7l3.6 5.8h-7.2zM870 1097.9l3.6 5.8h-7.2zM781.7 1046.8l3.6 5.8h-7.2zM834 1057.9l3.6 5.8h-7.2zM837.1 1055.8l3.6 5.8h-7.2zM908.9 1056.8l3.6 5.8h-7.2zM928.8 1045.2l3.6 5.8h-7.2zM728.4 1072.2l3.6 5.8h-7.2zM926.4 1083.3l3.6 5.8h-7.2zM854.9 1015.8l3.6 5.8h-7.2zM890.5 1043.4l3.6 5.8h-7.2zM767.8 1071.8l3.6 5.8h-7.2zM789.5 1053.6l3.6 5.8h-7.2zM817.9 1064l3.6 5.8h-7.2zM870.4 1079.1l3.6 5.8h-7.2zM769.5 1064.3l3.6 5.8h-7.2zM848.3 1054.9l3.6 5.8h-7.2zM887.8 1095.5l3.6 5.8h-7.2zM849.5 1046.5l3.6 5.8h-7.2zM783 1021.3l3.6 5.8h-7.2zM786.8 1043.4l3.6 5.8h-7.2zM747.3 1082.9l3.6 5.8h-7.2zM871.3 1053.7l3.6 5.8h-7.2zM804.7 1044.5l3.6 5.8h-7.2zM772.4 1051.6l3.6 5.8h-7.2zM848.6 1061l3.6 5.8h-7.2zM848.2 1063.6l3.6 5.8h-7.2zM872.1 1047.2l3.6 5.8h-7.2zM918.1 1097l3.6 5.8h-7.2zM887.6 1072.3l3.6 5.8h-7.2zM858 1066.5l3.6 5.8h-7.2zM754 1006.2l3.6 5.8h-7.2zM765.8 1048.6l3.6 5.8h-7.2zM731.6 1056.6l3.6 5.8h-7.2zM767.2 1050l3.6 5.8h-7.2zM822.4 1096.2l3.6 5.8h-7.2zM771.2 1033.7l3.6 5.8h-7.2zM923.7 1063.4l3.6 5.8h-7.2zM748.2 1085l3.6 5.8h-7.2zM775.5 1019.9l3.6 5.8h-7.2zM905.8 1057.8l3.6 5.8h-7.2zM778.7 1068.8l3.6 5.8h-7.2zM854.2 1067.6l3.6 5.8h-7.2zM780.9 1068.2l3.6 5.8h-7.2zM846.8 1020l3.6 5.8h-7.2zM730.5 1038.2l3.6 5.8h-7.2zM809 1070.8l3.6 5.8h-7.2zM887.3 1044.4l3.6 5.8h-7.2zM776.9 1036.5l3.6 5.8h-7.2zM779 1043.4l3.6 5.8h-7.2zM833.9 1064.3l3.6 5.8h-7.2zM892.7 1097.8l3.6 5.8h-7.2zM904 1081.5l3.6 5.8h-7.2zM814.9 1063l3.6 5.8h-7.2zM821.2 1059.9l3.6 5.8h-7.2zM738.2 1053.3l3.6 5.8h-7.2zM856 1044.6l3.6 5.8h-7.2zM778.9 1046.8l3.6 5.8h-7.2zM800.9 1073.1l3.6 5.8h-7.2zM821.7 1037.1l3.6 5.8h-7.2zM849.6 1003.7l3.6 5.8h-7.2zM749.9 1064.1l3.6 5.8h-7.2zM756.1 1077.9l3.6 5.8h-7.2zM899.3 1060.9l3.6 5.8h-7.2zM773.4 1034.4l3.6 5.8h-7.2zM816.9 1054l3.6 5.8h-7.2zM911.7 1083.1l3.6 5.8h-7.2zM812 1069.6l3.6 5.8h-7.2zM927.8 1072.4l3.6 5.8h-7.2zM772.2 1028.1l3.6 5.8h-7.2zM808.9 1047l3.6 5.8h-7.2zM862.5 1043.9l3.6 5.8h-7.2zM738.4 1074.9l3.6 5.8h-7.2zM916.7 1057.5l3.6 5.8h-7.2zM760.4 1071.6l3.6 5.8h-7.2zM720.6 1059.6l3.6 5.8h-7.2zM801.1 1030.8l3.6 5.8h-7.2zM825.8 1034.4l3.6 5.8h-7.2zM764 1044.7l3.6 5.8h-7.2zM864.7 1069.5l3.6 5.8h-7.2zM762.9 1035.8l3.6 5.8h-7.2zM835.1 1097.2l3.6 5.8h-7.2zM844.4 1058.5l3.6 5.8h-7.2zM821.7 1093.6l3.6 5.8h-7.2zM858.4 1052.4l3.6 5.8h-7.2zM930.8 1058.4l3.6 5.8h-7.2zM844.3 1068.7l3.6 5.8h-7.2zM938.1 1067.8l3.6 5.8h-7.2zM900.9 1028.3l3.6 5.8h-7.2zM773 1104.3l3.6 5.8h-7.2zM804.4 1054.5l3.6 5.8h-7.2zM790.7 1019.7l3.6 5.8h-7.2zM836 1067.4l3.6 5.8h-7.2zM753.7 1063.8l3.6 5.8h-7.2zM779.9 1091.6l3.6 5.8h-7.2zM833.6 1048.9l3.6 5.8h-7.2zM701.1 1029.4l3.6 5.8h-7.2zM858.9 1066.8l3.6 5.8h-7.2zM758.4 1058.3l3.6 5.8h-7.2zM786.3 1067.4l3.6 5.8h-7.2zM754.7 1054.7l3.6 5.8h-7.2zM739.3 1065.7l3.6 5.8h-7.2zM874.4 1042.3l3.6 5.8h-7.2zM825.4 1061.4l3.6 5.8h-7.2zM878.1 1055.5l3.6 5.8h-7.2zM855.3 1040.7l3.6 5.8h-7.2zM751.9 1040.2l3.6 5.8h-7.2zM903.3 1060.9l3.6 5.8h-7.2zM807.9 1061.3l3.6 5.8h-7.2zM846.9 1064.8l3.6 5.8h-7.2zM854.5 1064.9l3.6 5.8h-7.2zM831.6 1063.1l3.6 5.8h-7.2zM823.2 1059.7l3.6 5.8h-7.2zM837 1052l3.6 5.8h-7.2zM851 1075.5l3.6 5.8h-7.2zM718.2 1014.6l3.6 5.8h-7.2zM813.2 1092l3.6 5.8h-7.2zM754.9 1058l3.6 5.8h-7.2zM715.5 1011.3l3.6 5.8h-7.2zM870.9 1071.1l3.6 5.8h-7.2zM783.1 1061.5l3.6 5.8h-7.2zM781.7 1056.3l3.6 5.8h-7.2zM739.3 1050.1l3.6 5.8h-7.2zM863 1057.2l3.6 5.8h-7.2zM794.5 1079.4l3.6 5.8h-7.2zM868.5 1080.3l3.6 5.8h-7.2zM823.4 1058.5l3.6 5.8h-7.2zM737.9 1087.5l3.6 5.8h-7.2zM811.8 1046.2l3.6 5.8h-7.2zM785.8 1096.2l3.6 5.8h-7.2zM801.2 1047.6l3.6 5.8h-7.2zM914.1 1105.8l3.6 5.8h-7.2zM885.4 1089.3l3.6 5.8h-7.2zM842.4 1038.6l3.6 5.8h-7.2zM824.6 1070.7l3.6 5.8h-7.2zM832.5 1067.4l3.6 5.8h-7.2zM852 1047.5l3.6 5.8h-7.2zM818.6 1044.5l3.6 5.8h-7.2zM925.1 1037.5l3.6 5.8h-7.2zM717.4 1058.2l3.6 5.8h-7.2zM800.5 1072.7l3.6 5.8h-7.2zM922.3 1042.3l3.6 5.8h-7.2zM724.3 1057.8l3.6 5.8h-7.2zM878.2 1073.7l3.6 5.8h-7.2zM868.9 1076.6l3.6 5.8h-7.2zM769.7 1027.5l3.6 5.8h-7.2zM863.5 1057.6l3.6 5.8h-7.2zM823.2 1042.1l3.6 5.8h-7.2zM834.1 1015.6l3.6 5.8h-7.2zM817.8 1069.7l3.6 5.8h-7.2zM792.1 1053.4l3.6 5.8h-7.2zM716.2 1034.3l3.6 5.8h-7.2zM917.4 1068.1l3.6 5.8h-7.2zM738.5 1035.4l3.6 5.8h-7.2zM861.9 1072l3.6 5.8h-7.2zM772 1052.3l3.6 5.8h-7.2zM864 1053.6l3.6 5.8h-7.2zM915 1056.2l3.6 5.8h-7.2zM783.4 1058.3l3.6 5.8h-7.2zM877.7 1092.3l3.6 5.8h-7.2zM782.9 1018.7l3.6 5.8h-7.2zM830.5 1058.5l3.6 5.8h-7.2zM776.7 1068.3l3.6 5.8h-7.2zM769.3 1063l3.6 5.8h-7.2zM804.7 1023.2l3.6 5.8h-7.2zM822.5 1073.6l3.6 5.8h-7.2zM826.1 1086.3l3.6 5.8h-7.2zM873.9 1041.4l3.6 5.8h-7.2zM894.8 1086.1l3.6 5.8h-7.2zM759.8 1063.9l3.6 5.8h-7.2zM741.7 1025.2l3.6 5.8h-7.2zM797.2 1069.1l3.6 5.8h-7.2zM769.8 1072l3.6 5.8h-7.2zM879.6 1068.4l3.6 5.8h-7.2zM722.2 1013.2l3.6 5.8h-7.2zM879.5 1077.6l3.6 5.8h-7.2zM776.6 1052.9l3.6 5.8h-7.2zM786.8 1058.7l3.6 5.8h-7.2zM793.3 1016.7l3.6 5.8h-7.2zM843.1 1040.9l3.6 5.8h-7.2zM800.7 1039.8l3.6 5.8h-7.2zM810.7 1037.4l3.6 5.8h-7.2zM790.6 1065.2l3.6 5.8h-7.2zM759.5 1053l3.6 5.8h-7.2zM792.7 1019.7l3.6 5.8h-7.2zM781.1 1032.2l3.6 5.8h-7.2zM833.3 1028.5l3.6 5.8h-7.2zM899.9 1072.5l3.6 5.8h-7.2zM819 1027.2l3.6 5.8h-7.2zM888.6 1014l3.6 5.8h-7.2zM844.4 1054.6l3.6 5.8h-7.2zM728.8 1044.2l3.6 5.8h-7.2zM912.1 1074.4l3.6 5.8h-7.2zM896.4 1068.6l3.6 5.8h-7.2zM897.3 1043.7l3.6 5.8h-7.2zM825.2 1028.7l3.6 5.8h-7.2zM805.9 1051.7l3.6 5.8h-7.2zM876.2 1052.3l3.6 5.8h-7.2zM842.4 1056.4l3.6 5.8h-7.2zM847.2 1079.3l3.6 5.8h-7.2zM848.7 1053.9l3.6 5.8h-7.2zM750 1068.1l3.6 5.8h-7.2zM738.4 1042.2l3.6 5.8h-7.2zM757 1049.9l3.6 5.8h-7.2zM777.1 1055.1l3.6 5.8h-7.2zM761.5 1013l3.6 5.8h-7.2zM894.8 1055l3.6 5.8h-7.2zM842.7 1066l3.6 5.8h-7.2zM793 1040.9l3.6 5.8h-7.2zM760.1 1011.3l3.6 5.8h-7.2zM751.2 1082.2l3.6 5.8h-7.2zM819.3 1064.5l3.6 5.8h-7.2zM875.1 1093.7l3.6 5.8h-7.2zM750 1047.6l3.6 5.8h-7.2zM859.2 1022.3l3.6 5.8h-7.2zM852.4 1049.8l3.6 5.8h-7.2zM813.1 1065l3.6 5.8h-7.2zM817.9 1053.2l3.6 5.8h-7.2zM746.7 1035.7l3.6 5.8h-7.2zM902.4 1085.9l3.6 5.8h-7.2zM764.7 1046.9l3.6 5.8h-7.2zM877.8 1053.8l3.6 5.8h-7.2zM881.6 1080.2l3.6 5.8h-7.2zM924.8 1069l3.6 5.8h-7.2zM861.4 1055.4l3.6 5.8h-7.2zM747.2 1064.6l3.6 5.8h-7.2zM793 1047l3.6 5.8h-7.2zM857 1082.7l3.6 5.8h-7.2zM833.8 1026.6l3.6 5.8h-7.2zM850.8 1063.5l3.6 5.8h-7.2zM835.2 1056.2l3.6 5.8h-7.2zM791.5 1043.9l3.6 5.8h-7.2zM801.9 1094.9l3.6 5.8h-7.2zM732.3 1063.6l3.6 5.8h-7.2zM701.5 1061.1l3.6 5.8h-7.2zM849.9 1005.2l3.6 5.8h-7.2zM878.4 1058.4l3.6 5.8h-7.2zM929.5 1102.1l3.6 5.8h-7.2zM718.7 1027.8l3.6 5.8h-7.2zM840 1042.5l3.6 5.8h-7.2zM796.8 1033.9l3.6 5.8h-7.2zM912.8 1085.9l3.6 5.8h-7.2zM849.9 1056.8l3.6 5.8h-7.2zM768.7 1027.8l3.6 5.8h-7.2zM799.9 1074.3l3.6 5.8h-7.2zM781.1 1088.4l3.6 5.8h-7.2zM913.3 1083.8l3.6 5.8h-7.2zM818.8 1072.2l3.6 5.8h-7.2zM806.5 1037.6l3.6 5.8h-7.2zM875.7 1048.6l3.6 5.8h-7.2zM734 1034.3l3.6 5.8h-7.2zM856.7 1063.8l3.6 5.8h-7.2zM804.2 1030.3l3.6 5.8h-7.2zM793.4 1086.5l3.6 5.8h-7.2zM830.5 1057.1l3.6 5.8h-7.2zM767.3 1021.5l3.6 5.8h-7.2zM788.3 1071.1l3.6 5.8h-7.2zM895.8 1044.9l3.6 5.8h-7.2zM861 1104.4l3.6 5.8h-7.2zM756.4 1033.7l3.6 5.8h-7.2zM911.8 1097.6l3.6 5.8h-7.2zM795.6 1048.7l3.6 5.8h-7.2zM857.5 1059.5l3.6 5.8h-7.2zM888.5 1084.6l3.6 5.8h-7.2zM894.1 1094.3l3.6 5.8h-7.2zM879.5 1052.7l3.6 5.8h-7.2zM835.9 1069.4l3.6 5.8h-7.2zM780 1065.2l3.6 5.8h-7.2zM799.8 1040l3.6 5.8h-7.2zM905.9 1062.1l3.6 5.8h-7.2zM923 1057.1l3.6 5.8h-7.2zM757 1054.5l3.6 5.8h-7.2zM797.4 1030.3l3.6 5.8h-7.2zM786.6 1058.2l3.6 5.8h-7.2zM761.9 1060l3.6 5.8h-7.2zM719.8 1036.3l3.6 5.8h-7.2zM861.9 1103.8l3.6 5.8h-7.2zM783.8 1063.8l3.6 5.8h-7.2zM725.7 1079.7l3.6 5.8h-7.2zM775.4 1063l3.6 5.8h-7.2zM882.5 1063.3l3.6 5.8h-7.2zM811.6 1019.2l3.6 5.8h-7.2zM814.8 1082.9l3.6 5.8h-7.2zM813.5 1066l3.6 5.8h-7.2zM909.8 1068.7l3.6 5.8h-7.2zM835.1 1087l3.6 5.8h-7.2zM855.4 1030.4l3.6 5.8h-7.2zM814.4 1072.3l3.6 5.8h-7.2zM714.4 1051.6l3.6 5.8h-7.2zM799.4 1065.7l3.6 5.8h-7.2zM770.2 1028l3.6 5.8h-7.2zM747.5 1049.7l3.6 5.8h-7.2zM779.2 1036.4l3.6 5.8h-7.2zM788.5 1079.1l3.6 5.8h-7.2zM897.7 1072.7l3.6 5.8h-7.2zM826.8 1073.8l3.6 5.8h-7.2zM767.5 1061.8l3.6 5.8h-7.2zM720.1 1049l3.6 5.8h-7.2zM868.9 1062l3.6 5.8h-7.2zM757.1 1043.3l3.6 5.8h-7.2zM908.7 1070.2l3.6 5.8h-7.2zM861.6 1031.9l3.6 5.8h-7.2zM813.9 1073.4l3.6 5.8h-7.2zM817.6 1070.1l3.6 5.8h-7.2zM753.4 1023.8l3.6 5.8h-7.2zM818.9 1068l3.6 5.8h-7.2zM878.6 1035.2l3.6 5.8h-7.2zM830.6 1077.3l3.6 5.8h-7.2zM871.2 1062.1l3.6 5.8h-7.2zM854 1023.9l3.6 5.8h-7.2zM752 1096.7l3.6 5.8h-7.2zM851.2 1073.2l3.6 5.8h-7.2zM904.9 1060l3.6 5.8h-7.2zM716.7 1019.6l3.6 5.8h-7.2zM884.5 1095.8l3.6 5.8h-7.2zM782.1 1074.2l3.6 5.8h-7.2zM721.3 1014.3l3.6 5.8h-7.2zM825.4 1047.9l3.6 5.8h-7.2zM813.5 1045.4l3.6 5.8h-7.2zM774.2 1048.5l3.6 5.8h-7.2zM935.2 1054.5l3.6 5.8h-7.2zM942.5 1063.8l3.6 5.8h-7.2zM824.7 1098.6l3.6 5.8h-7.2zM773.6 1045l3.6 5.8h-7.2zM822.6 1063.5l3.6 5.8h-7.2zM816.8 1093.7l3.6 5.8h-7.2zM847.8 1047.8l3.6 5.8h-7.2zM803.9 1057l3.6 5.8h-7.2zM833.9 1072.3l3.6 5.8h-7.2zM789.7 1038.9l3.6 5.8h-7.2zM863.7 1064.4l3.6 5.8h-7.2zM889.4 1030.5l3.6 5.8h-7.2zM847.9 1089.4l3.6 5.8h-7.2zM845.7 1038.2l3.6 5.8h-7.2zM895.3 1038.9l3.6 5.8h-7.2zM834.5 1041.8l3.6 5.8h-7.2zM914.7 1089.3l3.6 5.8h-7.2zM719.2 1045.4l3.6 5.8h-7.2zM755.6 1036l3.6 5.8h-7.2zM908.4 1075.1l3.6 5.8h-7.2zM895.2 1056.9l3.6 5.8h-7.2zM878.7 1095.1l3.6 5.8h-7.2zM892.9 1073.7l3.6 5.8h-7.2zM816.1 1089.8l3.6 5.8h-7.2zM897.5 1069.2l3.6 5.8h-7.2zM872 1083.4l3.6 5.8h-7.2zM700.9 1043.1l3.6 5.8h-7.2zM777.4 1042.7l3.6 5.8h-7.2zM825.8 1074.4l3.6 5.8h-7.2zM874.5 1085.7l3.6 5.8h-7.2zM835.4 1053.5l3.6 5.8h-7.2zM767.3 1030l3.6 5.8h-7.2zM788.2 1087.3l3.6 5.8h-7.2zM860.6 1065.6l3.6 5.8h-7.2zM883 1072.9l3.6 5.8h-7.2zM721.2 1043.3l3.6 5.8h-7.2zM867.7 1058.1l3.6 5.8h-7.2zM802.7 1028.9l3.6 5.8h-7.2zM806.3 1076.7l3.6 5.8h-7.2zM747.5 1074.9l3.6 5.8h-7.2zM849.1 1076.3l3.6 5.8h-7.2zM706.7 1061.7l3.6 5.8h-7.2zM815.5 1046.9l3.6 5.8h-7.2zM838.6 1030.5l3.6 5.8h-7.2zM872.4 1028l3.6 5.8h-7.2zM919.4 1098.3l3.6 5.8h-7.2zM862.1 1069.9l3.6 5.8h-7.2zM795.8 1046.6l3.6 5.8h-7.2zM755.1 1073.3l3.6 5.8h-7.2zM801.4 1066.9l3.6 5.8h-7.2zM863.7 1040l3.6 5.8h-7.2zM895.9 1071.7l3.6 5.8h-7.2zM829 1065.5l3.6 5.8h-7.2zM843.9 1078.2l3.6 5.8h-7.2zM848.5 1091.4l3.6 5.8h-7.2zM890.2 1103.4l3.6 5.8h-7.2zM886.4 1074.9l3.6 5.8h-7.2zM853.3 1029.2l3.6 5.8h-7.2zM769.5 1091.1l3.6 5.8h-7.2zM881.2 1063.1l3.6 5.8h-7.2zM844.2 1079l3.6 5.8h-7.2zM885.4 1067l3.6 5.8h-7.2zM941.4 1073.6l3.6 5.8h-7.2zM778.2 1014.2l3.6 5.8h-7.2zM799.4 1048.7l3.6 5.8h-7.2zM876.4 1048l3.6 5.8h-7.2zM817.4 1094l3.6 5.8h-7.2zM810.6 1079.1l3.6 5.8h-7.2zM894.5 1087l3.6 5.8h-7.2zM758.1 1049.9l3.6 5.8h-7.2zM753.7 1054.1l3.6 5.8h-7.2zM754 1048.5l3.6 5.8h-7.2zM905.7 1072.8l3.6 5.8h-7.2zM766.7 1066.8l3.6 5.8h-7.2zM835.8 1059.9l3.6 5.8h-7.2zM825.1 1039.6l3.6 5.8h-7.2zM754.7 1030.3l3.6 5.8h-7.2zM915.4 1077.9l3.6 5.8h-7.2zM853.4 1055l3.6 5.8h-7.2zM907.8 1079.4l3.6 5.8h-7.2zM826.8 1044.5l3.6 5.8h-7.2zM878.6 1045.9l3.6 5.8h-7.2zM824.9 1097.8l3.6 5.8h-7.2zM890.2 1079.9l3.6 5.8h-7.2zM822.8 1071.8l3.6 5.8h-7.2zM824.4 1075.6l3.6 5.8h-7.2zM847.7 1063.1l3.6 5.8h-7.2zM854.7 1078.4l3.6 5.8h-7.2zM822.2 1071.4l3.6 5.8h-7.2zM868.5 1047.2l3.6 5.8h-7.2zM937.5 1055.1l3.6 5.8h-7.2zM835.2 1077.8l3.6 5.8h-7.2zM869.7 1069.2l3.6 5.8h-7.2zM886.1 1045.3l3.6 5.8h-7.2zM735.7 1036.3l3.6 5.8h-7.2zM731.7 1022.1l3.6 5.8h-7.2zM750.8 1041.5l3.6 5.8h-7.2zM796.7 1052.6l3.6 5.8h-7.2zM828.3 1071.9l3.6 5.8h-7.2zM827.2 1073.4l3.6 5.8h-7.2zM821.8 1092.3l3.6 5.8h-7.2zM840.8 1052.2l3.6 5.8h-7.2zM783.3 1039l3.6 5.8h-7.2zM839.8 1032.9l3.6 5.8h-7.2zM875.9 1074.8l3.6 5.8h-7.2zM854.2 1060.9l3.6 5.8h-7.2zM788.3 1045.3l3.6 5.8h-7.2zM853.2 1068.2l3.6 5.8h-7.2zM852.5 1108.8l3.6 5.8h-7.2zM854.4 1081.3l3.6 5.8h-7.2zM866.9 1091.2l3.6 5.8h-7.2zM871.9 1047.5l3.6 5.8h-7.2zM777.7 1068.2l3.6 5.8h-7.2zM833 1081.4l3.6 5.8h-7.2zM805 1074.1l3.6 5.8h-7.2zM745.3 1064.9l3.6 5.8h-7.2zM811.2 1024.7l3.6 5.8h-7.2zM752.8 1030.9l3.6 5.8h-7.2zM892.4 1074.8l3.6 5.8h-7.2zM891.8 1077.8l3.6 5.8h-7.2zM827 1081l3.6 5.8h-7.2zM719 1057l3.6 5.8h-7.2zM871 1048.2l3.6 5.8h-7.2zM786.9 1005.1l3.6 5.8h-7.2zM879.8 1048.1l3.6 5.8h-7.2zM775.7 1055.8l3.6 5.8h-7.2zM746.1 1059.3l3.6 5.8h-7.2zM819.9 1074l3.6 5.8h-7.2zM863.8 1077l3.6 5.8h-7.2zM866.9 1077.2l3.6 5.8h-7.2zM859.9 1038.9l3.6 5.8h-7.2zM714.2 1038.8l3.6 5.8h-7.2zM823.7 1054.9l3.6 5.8h-7.2zM888.9 1039l3.6 5.8h-7.2zM806 1029.4l3.6 5.8h-7.2zM898 1034.1l3.6 5.8h-7.2zM827.9 1048.7l3.6 5.8h-7.2zM711.4 1043.3l3.6 5.8h-7.2zM868.6 1060l3.6 5.8h-7.2zM785.3 1055.8l3.6 5.8h-7.2zM830.2 1060.3l3.6 5.8h-7.2zM728.3 1041.9l3.6 5.8h-7.2zM794.9 1044.8l3.6 5.8h-7.2zM768.1 1058l3.6 5.8h-7.2zM859.7 1040.5l3.6 5.8h-7.2zM868.9 1090.6l3.6 5.8h-7.2zM784.7 1005.6l3.6 5.8h-7.2zM740 1038.4l3.6 5.8h-7.2zM757.9 1050.1l3.6 5.8h-7.2zM852.6 1085.6l3.6 5.8h-7.2zM885.3 1094.1l3.6 5.8h-7.2zM789.3 1034.1l3.6 5.8h-7.2zM781.4 1039.6l3.6 5.8h-7.2zM785.6 1094.6l3.6 5.8h-7.2zM894.6 1059.5l3.6 5.8h-7.2zM902.1 1069l3.6 5.8h-7.2zM840.4 1046.1l3.6 5.8h-7.2zM713.3 1032.5l3.6 5.8h-7.2zM852.4 1063.2l3.6 5.8h-7.2zM767 1056.4l3.6 5.8h-7.2zM766.9 1053.8l3.6 5.8h-7.2zM718.8 1048.8l3.6 5.8h-7.2zM846.3 1071.7l3.6 5.8h-7.2zM911.8 1068.7l3.6 5.8h-7.2zM843.7 1086.4l3.6 5.8h-7.2zM802.8 1078.9l3.6 5.8h-7.2zM854.1 1036.3l3.6 5.8h-7.2zM771.5 1037.7l3.6 5.8h-7.2zM804 1094l3.6 5.8h-7.2zM869.3 1047.6l3.6 5.8h-7.2zM919.4 1079.7l3.6 5.8h-7.2zM741.8 1072.9l3.6 5.8h-7.2zM828.1 1014.8l3.6 5.8h-7.2zM880.4 1030.8l3.6 5.8h-7.2zM775.7 1041.3l3.6 5.8h-7.2zM881.8 1077.5l3.6 5.8h-7.2zM772.5 1049.9l3.6 5.8h-7.2zM845 1056.9l3.6 5.8h-7.2zM896.4 1074.7l3.6 5.8h-7.2zM808.5 1099.8l3.6 5.8h-7.2zM727.4 1097.7l3.6 5.8h-7.2zM851.4 1088.5l3.6 5.8h-7.2zM836.2 1072.7l3.6 5.8h-7.2zM798.1 1097.1l3.6 5.8h-7.2zM804 1030.9l3.6 5.8h-7.2zM875.5 1077.9l3.6 5.8h-7.2zM913.4 1103.9l3.6 5.8h-7.2zM882.9 1066.9l3.6 5.8h-7.2zM805 1069.3l3.6 5.8h-7.2zM764 1031.2l3.6 5.8h-7.2zM850.8 1042.6l3.6 5.8h-7.2zM768.2 1044.6l3.6 5.8h-7.2zM936.8 1093.7l3.6 5.8h-7.2zM821.6 1053.9l3.6 5.8h-7.2zM896 1054.5l3.6 5.8h-7.2zM820.1 1056.5l3.6 5.8h-7.2zM784.1 1038.5l3.6 5.8h-7.2zM756.7 1072.7l3.6 5.8h-7.2zM800.3 1046.1l3.6 5.8h-7.2zM854.2 1078.6l3.6 5.8h-7.2zM898.7 1050.4l3.6 5.8h-7.2zM737 1032.9l3.6 5.8h-7.2zM820.6 1064.3l3.6 5.8h-7.2zM767 1087.8l3.6 5.8h-7.2zM827.4 1067.4l3.6 5.8h-7.2zM844.1 1033.9l3.6 5.8h-7.2zM882.2 1066.1l3.6 5.8h-7.2zM942.1 1080.3l3.6 5.8h-7.2zM898.3 1059.9l3.6 5.8h-7.2zM823.7 1082.3l3.6 5.8h-7.2zM750.6 1081.2l3.6 5.8h-7.2zM869.6 1065.5l3.6 5.8h-7.2zM871.6 1081.5l3.6 5.8h-7.2zM864.1 1085.3l3.6 5.8h-7.2zM720.2 1072.7l3.6 5.8h-7.2zM904.3 1056.6l3.6 5.8h-7.2zM828.1 1054.7l3.6 5.8h-7.2zM854.9 1048.2l3.6 5.8h-7.2zM899.8 1056.5l3.6 5.8h-7.2zM930.6 1069l3.6 5.8h-7.2zM921.2 1053.8l3.6 5.8h-7.2zM842.4 1058.6l3.6 5.8h-7.2zM872.5 1075.4l3.6 5.8h-7.2zM724 1068.6l3.6 5.8h-7.2zM933.2 1073l3.6 5.8h-7.2zM822.7 1066.4l3.6 5.8h-7.2zM735.1 1036.4l3.6 5.8h-7.2zM841.3 1048.3l3.6 5.8h-7.2zM882.3 1104.9l3.6 5.8h-7.2zM708.2 1067.7l3.6 5.8h-7.2zM746 1090.2l3.6 5.8h-7.2zM936.9 1070.2l3.6 5.8h-7.2zM863.5 1072l3.6 5.8h-7.2zM788.2 1061.8l3.6 5.8h-7.2zM878.8 1049.1l3.6 5.8h-7.2zM720.6 1035.7l3.6 5.8h-7.2zM826.7 1013.9l3.6 5.8h-7.2zM811.8 1015.9l3.6 5.8h-7.2zM743.8 1048.8l3.6 5.8h-7.2zM822.1 1044.9l3.6 5.8h-7.2zM815.3 1084.3l3.6 5.8h-7.2zM806.6 1017.3l3.6 5.8h-7.2zM887.6 1088.7l3.6 5.8h-7.2zM847.6 1117.5l3.6 5.8h-7.2zM887.3 1068.6l3.6 5.8h-7.2zM784 1044.6l3.6 5.8h-7.2zM825.1 1063.7l3.6 5.8h-7.2zM875 1088.5l3.6 5.8h-7.2zM847.9 1033.1l3.6 5.8h-7.2zM820.8 1049.4l3.6 5.8h-7.2zM912.2 1048.5l3.6 5.8h-7.2zM781.1 1069.7l3.6 5.8h-7.2zM799.1 1043l3.6 5.8h-7.2zM810.9 1098.7l3.6 5.8h-7.2zM933.1 1065.7l3.6 5.8h-7.2zM898.9 1046.2l3.6 5.8h-7.2zM844.9 1092.4l3.6 5.8h-7.2zM917.7 1103.3l3.6 5.8h-7.2zM838.9 1058.1l3.6 5.8h-7.2zM889.2 1065.2l3.6 5.8h-7.2zM885.4 1025.7l3.6 5.8h-7.2zM726.1 1026.3l3.6 5.8h-7.2zM834.4 1071.9l3.6 5.8h-7.2zM826.3 1023l3.6 5.8h-7.2zM859.3 1047l3.6 5.8h-7.2zM859.3 1059.6l3.6 5.8h-7.2zM800 1037.5l3.6 5.8h-7.2zM757.7 1063.3l3.6 5.8h-7.2zM810.4 1038.1l3.6 5.8h-7.2zM804.6 1097.1l3.6 5.8h-7.2zM736 1034.9l3.6 5.8h-7.2zM922.9 1086.4l3.6 5.8h-7.2zM751.8 1098.3l3.6 5.8h-7.2zM753.8 1016.9l3.6 5.8h-7.2zM812.5 1047.6l3.6 5.8h-7.2zM783.8 1044.7l3.6 5.8h-7.2zM853.9 1033l3.6 5.8h-7.2zM804.4 1085.6l3.6 5.8h-7.2zM851.8 1087l3.6 5.8h-7.2zM823.2 1062.9l3.6 5.8h-7.2zM836.4 1010.8l3.6 5.8h-7.2zM794.3 1051l3.6 5.8h-7.2zM857.2 1029.7l3.6 5.8h-7.2zM745.4 1030.2l3.6 5.8h-7.2zM889.5 1065.6l3.6 5.8h-7.2zM836.9 1113.2l3.6 5.8h-7.2zM801.8 1038.5l3.6 5.8h-7.2zM783.8 1010.2l3.6 5.8h-7.2zM821.5 1079.3l3.6 5.8h-7.2zM758.9 1056.3l3.6 5.8h-7.2zM818 1019.4l3.6 5.8h-7.2zM711.8 1032.4l3.6 5.8h-7.2zM762.3 1093.7l3.6 5.8h-7.2zM750.2 1029.5l3.6 5.8h-7.2zM823.6 1048.5l3.6 5.8h-7.2zM748 1036.1l3.6 5.8h-7.2zM887.5 1025.5l3.6 5.8h-7.2zM798.1 1089.8l3.6 5.8h-7.2zM761.6 1093.9l3.6 5.8h-7.2zM832.2 1112.6l3.6 5.8h-7.2zM853.5 1067.9l3.6 5.8h-7.2zM765.1 1096.2l3.6 5.8h-7.2zM829.8 1070.9l3.6 5.8h-7.2zM802.5 1081.1l3.6 5.8h-7.2zM768 1091.8l3.6 5.8h-7.2zM817.2 1070.3l3.6 5.8h-7.2zM816.7 1081.5l3.6 5.8h-7.2zM904.4 1093.4l3.6 5.8h-7.2zM798.5 1065.2l3.6 5.8h-7.2zM734.9 1032.8l3.6 5.8h-7.2zM737.5 1021.1l3.6 5.8h-7.2zM764.2 1026.3l3.6 5.8h-7.2zM839.2 1042.2l3.6 5.8h-7.2zM787.5 1039.9l3.6 5.8h-7.2zM842.9 1032.3l3.6 5.8h-7.2zM810 1054.2l3.6 5.8h-7.2zM756.1 1069.6l3.6 5.8h-7.2zM863.8 1095.6l3.6 5.8h-7.2zM871.6 1068.8l3.6 5.8h-7.2zM741.9 1045.8l3.6 5.8h-7.2zM814.8 1080.8l3.6 5.8h-7.2zM829 1057l3.6 5.8h-7.2zM876 1036.8l3.6 5.8h-7.2zM851.4 1062.7l3.6 5.8h-7.2zM808.2 1100.7l3.6 5.8h-7.2zM815.2 1048.7l3.6 5.8h-7.2zM780.9 1045.2l3.6 5.8h-7.2zM773.1 1031.8l3.6 5.8h-7.2zM850.2 1051.4l3.6 5.8h-7.2zM802.7 1047.9l3.6 5.8h-7.2zM874.7 1074.2l3.6 5.8h-7.2zM868.4 1082.5l3.6 5.8h-7.2zM914.2 1099.2l3.6 5.8h-7.2zM775.4 1063.5l3.6 5.8h-7.2zM891.9 1047l3.6 5.8h-7.2zM763.1 1039.4l3.6 5.8h-7.2zM851.7 1092.4l3.6 5.8h-7.2zM898.3 1049.4l3.6 5.8h-7.2zM757.6 1048.4l3.6 5.8h-7.2zM860 1077.6l3.6 5.8h-7.2zM782.4 1022.6l3.6 5.8h-7.2zM841.7 1042.4l3.6 5.8h-7.2zM883.2 1061.1l3.6 5.8h-7.2zM762.9 1021.2l3.6 5.8h-7.2zM849.3 1063.4l3.6 5.8h-7.2zM840.4 1062.2l3.6 5.8h-7.2zM763 1060.8l3.6 5.8h-7.2zM715.9 1017.1l3.6 5.8h-7.2zM845.6 1050.8l3.6 5.8h-7.2zM804.3 1060.4l3.6 5.8h-7.2zM809.4 1066.4l3.6 5.8h-7.2zM782.3 1025.7l3.6 5.8h-7.2zM788.5 1026l3.6 5.8h-7.2zM897.7 1093.5l3.6 5.8h-7.2zM715.8 1059.3l3.6 5.8h-7.2zM868.9 1066.7l3.6 5.8h-7.2zM906.1 1071l3.6 5.8h-7.2zM862.8 1067l3.6 5.8h-7.2zM816.4 1047l3.6 5.8h-7.2zM829.2 1073.2l3.6 5.8h-7.2zM763.2 1075.8l3.6 5.8h-7.2zM881.2 1033.8l3.6 5.8h-7.2zM749.4 1036.7l3.6 5.8h-7.2zM846.9 1061.1l3.6 5.8h-7.2zM702.3 1030.8l3.6 5.8h-7.2zM809 1082.6l3.6 5.8h-7.2zM831 1082.3l3.6 5.8h-7.2zM739 1040.2l3.6 5.8h-7.2zM916.1 1069.5l3.6 5.8h-7.2zM769.3 1050.7l3.6 5.8h-7.2zM736.1 1063.1l3.6 5.8h-7.2zM774.6 1067.1l3.6 5.8h-7.2zM834 1078.5l3.6 5.8h-7.2zM845.1 1093.3l3.6 5.8h-7.2zM743.6 1029.8l3.6 5.8h-7.2zM818.9 1025.4l3.6 5.8h-7.2zM874.1 1024l3.6 5.8h-7.2zM773.8 1042.7l3.6 5.8h-7.2zM935.8 1091.4l3.6 5.8h-7.2zM804.7 1091.7l3.6 5.8h-7.2zM887.5 1042.1l3.6 5.8h-7.2zM763.2 1080.7l3.6 5.8h-7.2zM828.4 1067.1l3.6 5.8h-7.2zM858.7 1044.6l3.6 5.8h-7.2zM888.6 1031.9l3.6 5.8h-7.2zM802.3 1058.8l3.6 5.8h-7.2zM851.5 1054.7l3.6 5.8h-7.2zM732 1038.9l3.6 5.8h-7.2zM730 1035.7l3.6 5.8h-7.2zM886 1057.4l3.6 5.8h-7.2zM862 1092.1l3.6 5.8h-7.2zM940 1079.8l3.6 5.8h-7.2zM913.5 1086.8l3.6 5.8h-7.2zM724.3 1029.2l3.6 5.8h-7.2zM840.8 1016.9l3.6 5.8h-7.2zM772.1 1060.8l3.6 5.8h-7.2zM722 1035.4l3.6 5.8h-7.2zM789.2 1073.9l3.6 5.8h-7.2zM866.4 1087.9l3.6 5.8h-7.2zM860.3 1092.6l3.6 5.8h-7.2zM812.7 1056.5l3.6 5.8h-7.2zM744.7 1041.1l3.6 5.8h-7.2zM849.6 1072.5l3.6 5.8h-7.2zM785.5 1074.2l3.6 5.8h-7.2zM737.4 1051.4l3.6 5.8h-7.2zM752.7 1040.5l3.6 5.8h-7.2zM744 1038.7l3.6 5.8h-7.2zM842.7 1038.8l3.6 5.8h-7.2zM815.2 1037.4l3.6 5.8h-7.2zM840 1050.1l3.6 5.8h-7.2zM756.2 1079.5l3.6 5.8h-7.2zM932 1094.4l3.6 5.8h-7.2zM711 1047.2l3.6 5.8h-7.2zM712.4 1053.2l3.6 5.8h-7.2zM789.6 1053.5l3.6 5.8h-7.2zM747.2 1042.3l3.6 5.8h-7.2zM914.4 1055.9l3.6 5.8h-7.2zM736.8 1010.1l3.6 5.8h-7.2zM802.8 1068.9l3.6 5.8h-7.2zM860.9 1048.9l3.6 5.8h-7.2zM856.1 1075.8l3.6 5.8h-7.2zM836.4 1040.3l3.6 5.8h-7.2zM916.7 1085.4l3.6 5.8h-7.2zM870.1 1026.3l3.6 5.8h-7.2zM778.9 1064.6l3.6 5.8h-7.2zM831.3 1042.5l3.6 5.8h-7.2zM781.3 1037.1l3.6 5.8h-7.2zM859.3 1073.5l3.6 5.8h-7.2zM712.8 1021.8l3.6 5.8h-7.2zM892.6 1097.8l3.6 5.8h-7.2zM901.5 1027.4l3.6 5.8h-7.2zM815.1 1023.6l3.6 5.8h-7.2zM833 1035.9l3.6 5.8h-7.2zM772.4 1084.1l3.6 5.8h-7.2zM742.3 1032.5l3.6 5.8h-7.2zM880.3 1035.1l3.6 5.8h-7.2zM756.1 1030.2l3.6 5.8h-7.2zM832.3 1026.5l3.6 5.8h-7.2zM838.6 1045.2l3.6 5.8h-7.2zM803.5 1073.8l3.6 5.8h-7.2zM876.5 1027.6l3.6 5.8h-7.2zM812.7 1051.3l3.6 5.8h-7.2zM890.7 1094.1l3.6 5.8h-7.2zM876.7 1100l3.6 5.8h-7.2zM843.2 1043.9l3.6 5.8h-7.2zM755 1051.9l3.6 5.8h-7.2zM758.5 1047.7l3.6 5.8h-7.2zM833.7 1066.1l3.6 5.8h-7.2zM904.3 1058.1l3.6 5.8h-7.2zM808.7 1059.3l3.6 5.8h-7.2zM752.9 1017.3l3.6 5.8h-7.2zM784.7 1083.3l3.6 5.8h-7.2zM833.5 1063.9l3.6 5.8h-7.2zM833.5 1073.5l3.6 5.8h-7.2zM904 1067.2l3.6 5.8h-7.2zM724.7 1027.7l3.6 5.8h-7.2zM855.8 1063.6l3.6 5.8h-7.2zM909.4 1054.9l3.6 5.8h-7.2zM858.1 1102l3.6 5.8h-7.2zM787.6 1026.1l3.6 5.8h-7.2zM876.6 1046.7l3.6 5.8h-7.2zM734.5 1059.5l3.6 5.8h-7.2zM793.5 1039.1l3.6 5.8h-7.2zM922.8 1071.4l3.6 5.8h-7.2zM705 1066.5l3.6 5.8h-7.2zM756.6 1090.3l3.6 5.8h-7.2zM942.3 1067.6l3.6 5.8h-7.2zM776.2 1049.5l3.6 5.8h-7.2zM757.2 1028.8l3.6 5.8h-7.2zM878.3 1062.7l3.6 5.8h-7.2zM817.9 1067.5l3.6 5.8h-7.2zM770.1 1061l3.6 5.8h-7.2zM883.1 1014.1l3.6 5.8h-7.2zM750 1010l3.6 5.8h-7.2zM840.4 1037.9l3.6 5.8h-7.2zM806 1076.8l3.6 5.8h-7.2zM892.4 1055.8l3.6 5.8h-7.2zM875.4 1072.8l3.6 5.8h-7.2zM806.4 1029.8l3.6 5.8h-7.2zM943.4 1071.6l3.6 5.8h-7.2zM757.7 1066.1l3.6 5.8h-7.2zM876 1115.2l3.6 5.8h-7.2zM858.5 1093.2l3.6 5.8h-7.2zM784.5 1051.4l3.6 5.8h-7.2zM799.3 1043.6l3.6 5.8h-7.2zM780.2 1040.2l3.6 5.8h-7.2zM807.6 1043.2l3.6 5.8h-7.2zM855.8 1071.7l3.6 5.8h-7.2zM817.2 1049.6l3.6 5.8h-7.2zM847.1 1075.3l3.6 5.8h-7.2zM842.8 1043.6l3.6 5.8h-7.2zM850.8 1071l3.6 5.8h-7.2zM789.3 1027.6l3.6 5.8h-7.2zM780.3 1045.5l3.6 5.8h-7.2zM850.1 1050.4l3.6 5.8h-7.2zM811.1 1093.3l3.6 5.8h-7.2zM882.6 1035.8l3.6 5.8h-7.2zM736.6 1058.2l3.6 5.8h-7.2zM855.6 1083.5l3.6 5.8h-7.2zM920.6 1065.6l3.6 5.8h-7.2zM902.6 1042.1l3.6 5.8h-7.2zM797 1081l3.6 5.8h-7.2zM909.7 1038.1l3.6 5.8h-7.2zM899.9 1051.4l3.6 5.8h-7.2zM834.9 1010l3.6 5.8h-7.2zM784.1 1046.7l3.6 5.8h-7.2zM764.9 1046.1l3.6 5.8h-7.2zM869.1 1090.8l3.6 5.8h-7.2zM712.5 1028.9l3.6 5.8h-7.2zM762.4 1076l3.6 5.8h-7.2zM868.4 1040.2l3.6 5.8h-7.2zM880.5 1053.8l3.6 5.8h-7.2zM919.5 1077.7l3.6 5.8h-7.2zM871 1031.8l3.6 5.8h-7.2zM769.2 1034.5l3.6 5.8h-7.2zM772.2 1048.1l3.6 5.8h-7.2zM809.6 1051.3l3.6 5.8h-7.2zM830 1070.6l3.6 5.8h-7.2zM907.5 1081.5l3.6 5.8h-7.2zM787.8 1040.6l3.6 5.8h-7.2zM773.7 1059.4l3.6 5.8h-7.2zM804.1 1046.8l3.6 5.8h-7.2zM898.8 1049.2l3.6 5.8h-7.2zM928 1079.3l3.6 5.8h-7.2zM769.9 1093.9l3.6 5.8h-7.2zM841.2 1004l3.6 5.8h-7.2zM831.5 1063.8l3.6 5.8h-7.2zM779.3 1029.2l3.6 5.8h-7.2zM833.9 1058l3.6 5.8h-7.2zM788.8 1074.5l3.6 5.8h-7.2zM787.7 1061.4l3.6 5.8h-7.2zM899.3 1085.2l3.6 5.8h-7.2zM719.4 1033.5l3.6 5.8h-7.2zM837.5 1065.2l3.6 5.8h-7.2zM762.7 1076.3l3.6 5.8h-7.2zM858.6 1050l3.6 5.8h-7.2zM810.1 1075.5l3.6 5.8h-7.2zM825.1 1080.6l3.6 5.8h-7.2zM753.6 1042.2l3.6 5.8h-7.2zM870.2 1063.1l3.6 5.8h-7.2zM770.7 1064.1l3.6 5.8h-7.2zM829.4 1063.5l3.6 5.8h-7.2zM941.4 1078.7l3.6 5.8h-7.2zM923.2 1062.5l3.6 5.8h-7.2zM912.1 1068l3.6 5.8h-7.2zM800.1 1050.2l3.6 5.8h-7.2zM888.3 1071.3l3.6 5.8h-7.2zM875.3 1066.7l3.6 5.8h-7.2zM842.4 1038.7l3.6 5.8h-7.2zM864.7 1075.8l3.6 5.8h-7.2zM740.6 1058.9l3.6 5.8h-7.2zM873 1092.3l3.6 5.8h-7.2zM847.9 1078.1l3.6 5.8h-7.2zM874.7 1069.6l3.6 5.8h-7.2zM918.6 1075l3.6 5.8h-7.2zM804.5 1024.7l3.6 5.8h-7.2zM879.4 1065.9l3.6 5.8h-7.2zM790.3 1081.5l3.6 5.8h-7.2zM870.8 1055.4l3.6 5.8h-7.2zM830.4 1023.7l3.6 5.8h-7.2zM803.3 997.6l3.6 5.8h-7.2zM822.6 1001.7l3.6 5.8h-7.2zM916.4 1089.5l3.6 5.8h-7.2zM821.7 1080.6l3.6 5.8h-7.2zM856 1067.1l3.6 5.8h-7.2zM823.2 990.4l3.6 5.8h-7.2zM830 985l3.6 5.8h-7.2zM793.9 1044.6l3.6 5.8h-7.2zM862.2 1079.2l3.6 5.8h-7.2zM822.9 1045.3l3.6 5.8h-7.2zM899.4 1079.1l3.6 5.8h-7.2zM755.7 1073.1l3.6 5.8h-7.2zM806 1023.7l3.6 5.8h-7.2zM791.6 1098.4l3.6 5.8h-7.2zM925.4 1099.8l3.6 5.8h-7.2zM851.9 1019.8l3.6 5.8h-7.2zM726.4 1024.7l3.6 5.8h-7.2zM872 1003.8l3.6 5.8h-7.2zM754.2 1019.9l3.6 5.8h-7.2zM914.5 1119.9l3.6 5.8h-7.2zM783.1 1038.8l3.6 5.8h-7.2zM748.7 1080.5l3.6 5.8h-7.2zM803.1 1052l3.6 5.8h-7.2zM757.6 1100.9l3.6 5.8h-7.2zM778.4 1032.6l3.6 5.8h-7.2zM910.8 1011.7l3.6 5.8h-7.2zM906.8 1091.5l3.6 5.8h-7.2zM715.2 1073l3.6 5.8h-7.2zM821.2 1106.3l3.6 5.8h-7.2zM862.9 1083.9l3.6 5.8h-7.2zM749 1018.2l3.6 5.8h-7.2zM820.5 1010.1l3.6 5.8h-7.2zM872 1077.7l3.6 5.8h-7.2zM907.9 1103.9l3.6 5.8h-7.2zM845.8 1043l3.6 5.8h-7.2zM764.1 1080l3.6 5.8h-7.2zM828.9 1034.2l3.6 5.8h-7.2zM891.1 1109.8l3.6 5.8h-7.2zM885.9 1004.4l3.6 5.8h-7.2zM840.1 1073.5l3.6 5.8h-7.2zM877.4 1023.6l3.6 5.8h-7.2zM767.5 1065.6l3.6 5.8h-7.2zM768.8 1073.2l3.6 5.8h-7.2zM763.7 1107.6l3.6 5.8h-7.2zM945.7 1068.9l3.6 5.8h-7.2zM824.5 1056.8l3.6 5.8h-7.2zM756.8 1038l3.6 5.8h-7.2zM867.4 1050.3l3.6 5.8h-7.2zM769.4 1094.5l3.6 5.8h-7.2zM866.7 1058.3l3.6 5.8h-7.2zM777.9 1042.4l3.6 5.8h-7.2zM701 1067.6l3.6 5.8h-7.2zM789.2 1107.8l3.6 5.8h-7.2zM868.5 1089.9l3.6 5.8h-7.2zM727.7 1083.1l3.6 5.8h-7.2zM894.3 1073.1l3.6 5.8h-7.2zM792.5 1069.2l3.6 5.8h-7.2zM876.9 1059.9l3.6 5.8h-7.2zM898.1 1093.6l3.6 5.8h-7.2zM725.5 1022.5l3.6 5.8h-7.2zM811.6 1050.8l3.6 5.8h-7.2zM871.4 1043.1l3.6 5.8h-7.2zM894.2 1100.9l3.6 5.8h-7.2zM890.6 1077.2l3.6 5.8h-7.2zM901.6 1095.1l3.6 5.8h-7.2zM797.7 1028.7l3.6 5.8h-7.2zM952.3 1069.2l3.6 5.8h-7.2zM737.2 1086.4l3.6 5.8h-7.2zM863.4 1060.5l3.6 5.8h-7.2zM702 1057.4l3.6 5.8h-7.2zM814.5 1001.4l3.6 5.8h-7.2zM804.3 1091.5l3.6 5.8h-7.2zM801.4 1021.4l3.6 5.8h-7.2zM795.6 1003.9l3.6 5.8h-7.2zM905.8 1070.5l3.6 5.8h-7.2zM694.3 1084.6l3.6 5.8h-7.2zM866.8 1071.3l3.6 5.8h-7.2zM818 1045.1l3.6 5.8h-7.2zM730.1 1014.2l3.6 5.8h-7.2zM837 1035l3.6 5.8h-7.2zM821.1 1084.7l3.6 5.8h-7.2zM796.3 1083.7l3.6 5.8h-7.2zM809.7 1083.8l3.6 5.8h-7.2zM877.7 1027.8l3.6 5.8h-7.2zM715.9 1019.6l3.6 5.8h-7.2zM748.8 1006.6l3.6 5.8h-7.2zM913.4 1037l3.6 5.8h-7.2zM816.1 1062l3.6 5.8h-7.2zM843.3 1085.6l3.6 5.8h-7.2zM802.5 1021.9l3.6 5.8h-7.2zM878 1043l3.6 5.8h-7.2zM774.2 1045.4l3.6 5.8h-7.2zM871.6 1060.2l3.6 5.8h-7.2zM824.5 1046.7l3.6 5.8h-7.2zM764.1 1069.5l3.6 5.8h-7.2zM778 1058.1l3.6 5.8h-7.2zM788.3 1086.5l3.6 5.8h-7.2zM908.8 1070.8l3.6 5.8h-7.2zM698.5 1080.8l3.6 5.8h-7.2zM832.2 1099l3.6 5.8h-7.2zM744 1012.5l3.6 5.8h-7.2zM877.2 1096.2l3.6 5.8h-7.2zM916.6 1064.8l3.6 5.8h-7.2zM809.2 990.5l3.6 5.8h-7.2zM816.6 1061.9l3.6 5.8h-7.2zM733.8 1042l3.6 5.8h-7.2zM863.2 1020.8l3.6 5.8h-7.2zM849.3 1027.1l3.6 5.8h-7.2zM878.3 1001.8l3.6 5.8h-7.2zM890.2 1080.6l3.6 5.8h-7.2zM746.8 1040.6l3.6 5.8h-7.2zM745.6 1027.3l3.6 5.8h-7.2zM757.6 1077.3l3.6 5.8h-7.2zM848.6 1024.3l3.6 5.8h-7.2zM845.6 994l3.6 5.8h-7.2zM857 1072.8l3.6 5.8h-7.2zM700.3 1067.1l3.6 5.8h-7.2zM889.3 1086.2l3.6 5.8h-7.2zM818.5 1024.4l3.6 5.8h-7.2zM874.4 1031.7l3.6 5.8h-7.2zM719.9 1017.3l3.6 5.8h-7.2zM906.1 1071.9l3.6 5.8h-7.2zM910.5 1048.4l3.6 5.8h-7.2zM921.1 1058l3.6 5.8h-7.2zM859.7 1053.1l3.6 5.8h-7.2zM760.8 1094.1l3.6 5.8h-7.2zM785.8 1105l3.6 5.8h-7.2zM926.9 1105.7l3.6 5.8h-7.2zM810.3 1100.3l3.6 5.8h-7.2zM754.9 1011l3.6 5.8h-7.2zM777.4 1100l3.6 5.8h-7.2zM815.2 1048.9l3.6 5.8h-7.2zM772.8 1043.2l3.6 5.8h-7.2zM856.8 1025.7l3.6 5.8h-7.2zM806.4 1054.5l3.6 5.8h-7.2zM731.4 1037.5l3.6 5.8h-7.2zM880.5 1091.6l3.6 5.8h-7.2zM889.8 1047.7l3.6 5.8h-7.2zM869.5 1027.9l3.6 5.8h-7.2zM715.6 1027.3l3.6 5.8h-7.2zM893.2 1043.7l3.6 5.8h-7.2zM897.2 1100.7l3.6 5.8h-7.2zM829.7 1058.8l3.6 5.8h-7.2zM826.6 1004.1l3.6 5.8h-7.2zM815.2 996l3.6 5.8h-7.2zM789.3 1069l3.6 5.8h-7.2zM754.4 1028.6l3.6 5.8h-7.2zM789.4 1096.4l3.6 5.8h-7.2zM873.5 1010.9l3.6 5.8h-7.2zM728.8 1073.8l3.6 5.8h-7.2zM821.2 1013.3l3.6 5.8h-7.2zM877 1108.9l3.6 5.8h-7.2zM793.6 1103.9l3.6 5.8h-7.2zM790.4 995.9l3.6 5.8h-7.2zM736.2 1052.4l3.6 5.8h-7.2zM782.4 1056.9l3.6 5.8h-7.2zM721.2 1069.1l3.6 5.8h-7.2zM768.3 993.1l3.6 5.8h-7.2zM780.1 1041.8l3.6 5.8h-7.2zM856.9 1036.3l3.6 5.8h-7.2zM869 1033.6l3.6 5.8h-7.2zM784.1 1022.6l3.6 5.8h-7.2zM811.4 1063l3.6 5.8h-7.2zM750.8 1028l3.6 5.8h-7.2zM750.2 1007.6l3.6 5.8h-7.2zM723.5 1060l3.6 5.8h-7.2zM820.8 1047.9l3.6 5.8h-7.2zM857.7 1021.8l3.6 5.8h-7.2zM794.1 1090.7l3.6 5.8h-7.2zM858.1 1063.1l3.6 5.8h-7.2zM786.8 1025.8l3.6 5.8h-7.2zM843.2 1080.3l3.6 5.8h-7.2zM742.5 1011.1l3.6 5.8h-7.2zM856.2 1029.3l3.6 5.8h-7.2zM863.1 1054l3.6 5.8h-7.2zM893.5 1089.3l3.6 5.8h-7.2zM802.9 1046.4l3.6 5.8h-7.2zM883.8 1003.8l3.6 5.8h-7.2zM706.6 1045.5l3.6 5.8h-7.2zM790.2 1120.3l3.6 5.8h-7.2zM832.3 1075.1l3.6 5.8h-7.2zM736.3 1028.2l3.6 5.8h-7.2zM897.7 1053.7l3.6 5.8h-7.2zM756 1059.8l3.6 5.8h-7.2zM855.5 1058.4l3.6 5.8h-7.2zM787.9 1006.5l3.6 5.8h-7.2zM895.6 1007.3l3.6 5.8h-7.2zM800.5 1015.4l3.6 5.8h-7.2zM875.1 1110.8l3.6 5.8h-7.2zM820.8 1012.8l3.6 5.8h-7.2zM769.1 1072.1l3.6 5.8h-7.2zM869.3 1030.7l3.6 5.8h-7.2zM853.3 1080.2l3.6 5.8h-7.2zM777.3 1089.7l3.6 5.8h-7.2zM843.7 1058.4l3.6 5.8h-7.2zM774 1061.3l3.6 5.8h-7.2zM947.7 1079.5l3.6 5.8h-7.2zM826.6 1084.2l3.6 5.8h-7.2zM774.3 1027.1l3.6 5.8h-7.2zM811.3 1030.6l3.6 5.8h-7.2zM838 1053.2l3.6 5.8h-7.2zM883 1007.8l3.6 5.8h-7.2zM895.8 1001.3l3.6 5.8h-7.2zM779.9 1037.7l3.6 5.8h-7.2zM814.7 993l3.6 5.8h-7.2zM770.9 1101.3l3.6 5.8h-7.2zM844.8 1039.1l3.6 5.8h-7.2zM891.7 1030.7l3.6 5.8h-7.2zM796.5 994l3.6 5.8h-7.2zM794.9 1045.1l3.6 5.8h-7.2zM888.1 1040.2l3.6 5.8h-7.2zM828.1 1064.8l3.6 5.8h-7.2zM835.2 1048.2l3.6 5.8h-7.2zM737.7 1050.1l3.6 5.8h-7.2zM768.6 1103.3l3.6 5.8h-7.2zM732.9 1054.1l3.6 5.8h-7.2zM814.8 996.7l3.6 5.8h-7.2zM811.6 1047.7l3.6 5.8h-7.2zM759 1013.2l3.6 5.8h-7.2zM924.7 1026.9l3.6 5.8h-7.2zM847.3 1064.7l3.6 5.8h-7.2zM794.7 1032.9l3.6 5.8h-7.2zM733 1000.2l3.6 5.8h-7.2zM799.8 1085.9l3.6 5.8h-7.2zM807.5 1112.5l3.6 5.8h-7.2zM890.9 1066l3.6 5.8h-7.2zM794.8 1073.3l3.6 5.8h-7.2zM776.4 1091.4l3.6 5.8h-7.2zM805.4 1049.7l3.6 5.8h-7.2zM870.2 1069.4l3.6 5.8h-7.2zM842.3 1098.6l3.6 5.8h-7.2zM914.6 1044.1l3.6 5.8h-7.2zM777.5 1068.8l3.6 5.8h-7.2zM776.5 1032.6l3.6 5.8h-7.2zM908.5 1067.5l3.6 5.8h-7.2zM751.5 1033.6l3.6 5.8h-7.2zM788.4 1037.5l3.6 5.8h-7.2zM785.4 1015.7l3.6 5.8h-7.2zM854.6 1063.5l3.6 5.8h-7.2zM788 1042.1l3.6 5.8h-7.2zM945.6 1063.9l3.6 5.8h-7.2zM830.8 1071.5l3.6 5.8h-7.2zM822 1091.8l3.6 5.8h-7.2zM841.6 998.6l3.6 5.8h-7.2zM728.6 1028.1l3.6 5.8h-7.2zM876.2 1022.3l3.6 5.8h-7.2zM695.9 1082.8l3.6 5.8h-7.2zM782.5 1106.8l3.6 5.8h-7.2zM747.1 1053.8l3.6 5.8h-7.2zM804.6 1044.3l3.6 5.8h-7.2zM874.8 1035.8l3.6 5.8h-7.2zM787 1106.7l3.6 5.8h-7.2zM715.5 1056.4l3.6 5.8h-7.2zM709.6 1047.2l3.6 5.8h-7.2zM817.5 1019.6l3.6 5.8h-7.2zM846.7 1039.8l3.6 5.8h-7.2zM836.1 1065.3l3.6 5.8h-7.2zM863.8 1099.9l3.6 5.8h-7.2zM852.3 1087.6l3.6 5.8h-7.2zM868.7 1070.3l3.6 5.8h-7.2zM830.4 1038.2l3.6 5.8h-7.2zM800.6 1051.7l3.6 5.8h-7.2zM835.3 1087.8l3.6 5.8h-7.2zM748.2 1057.3l3.6 5.8h-7.2zM786.8 1075.1l3.6 5.8h-7.2zM892.4 1082.1l3.6 5.8h-7.2zM821.4 1063.7l3.6 5.8h-7.2zM729.8 1034.5l3.6 5.8h-7.2zM794 1090l3.6 5.8h-7.2zM804.7 987.7l3.6 5.8h-7.2zM789.7 1090.3l3.6 5.8h-7.2zM708.8 1074.9l3.6 5.8h-7.2zM875.4 1070.4l3.6 5.8h-7.2zM856.2 1106.9l3.6 5.8h-7.2zM730.1 1001.4l3.6 5.8h-7.2zM848.4 1090.1l3.6 5.8h-7.2zM808.6 1049.9l3.6 5.8h-7.2zM789.8 1047l3.6 5.8h-7.2zM804.5 1037.6l3.6 5.8h-7.2zM707.5 1086.4l3.6 5.8h-7.2zM891.4 1066.6l3.6 5.8h-7.2zM795.6 1050.9l3.6 5.8h-7.2zM863.4 1085.6l3.6 5.8h-7.2zM738.5 1045.6l3.6 5.8h-7.2zM720.7 1039l3.6 5.8h-7.2zM767.6 1036l3.6 5.8h-7.2zM853.5 1056.2l3.6 5.8h-7.2zM747.1 1043.7l3.6 5.8h-7.2zM801.7 1044.6l3.6 5.8h-7.2zM750.9 1081.8l3.6 5.8h-7.2zM840.5 1062.3l3.6 5.8h-7.2zM696.4 1073l3.6 5.8h-7.2zM942.6 1063.7l3.6 5.8h-7.2zM734.7 1002.7l3.6 5.8h-7.2zM773.8 1046.2l3.6 5.8h-7.2zM803.3 1086.1l3.6 5.8h-7.2zM789.4 1069.2l3.6 5.8h-7.2zM890.6 1021.6l3.6 5.8h-7.2zM932.3 1062.5l3.6 5.8h-7.2zM698.8 1017.9l3.6 5.8h-7.2zM733.7 1026.3l3.6 5.8h-7.2zM878.2 1026l3.6 5.8h-7.2zM761.3 1050.7l3.6 5.8h-7.2zM766.4 1046.9l3.6 5.8h-7.2zM892 1036.6l3.6 5.8h-7.2zM923.8 1061.8l3.6 5.8h-7.2zM850.5 1025.2l3.6 5.8h-7.2zM842.8 1071.6l3.6 5.8h-7.2zM820 1008.4l3.6 5.8h-7.2zM794.9 1045.2l3.6 5.8h-7.2zM839.5 1070l3.6 5.8h-7.2zM780.9 1090.1l3.6 5.8h-7.2zM910.4 1037.4l3.6 5.8h-7.2zM895.6 1036.9l3.6 5.8h-7.2zM866.5 1122.2l3.6 5.8h-7.2zM834.9 1037l3.6 5.8h-7.2zM796.1 1064.4l3.6 5.8h-7.2zM730.6 1044.2l3.6 5.8h-7.2zM944.4 1091.1l3.6 5.8h-7.2zM802.2 1022.7l3.6 5.8h-7.2zM938.1 1061.2l3.6 5.8h-7.2zM858.6 1100.3l3.6 5.8h-7.2zM867.3 1090.1l3.6 5.8h-7.2zM863 1082.2l3.6 5.8h-7.2zM719.1 1067.1l3.6 5.8h-7.2zM867.7 1089.5l3.6 5.8h-7.2zM872.7 1009.6l3.6 5.8h-7.2zM812.4 1061.7l3.6 5.8h-7.2zM769.1 1051.3l3.6 5.8h-7.2zM878 1049.2l3.6 5.8h-7.2zM791.4 1039l3.6 5.8h-7.2zM846.3 1027.5l3.6 5.8h-7.2zM822.7 1062.2l3.6 5.8h-7.2zM906.6 1073.7l3.6 5.8h-7.2zM878.3 1061l3.6 5.8h-7.2zM825.5 1053.3l3.6 5.8h-7.2zM822 1042l3.6 5.8h-7.2zM870.6 1005.2l3.6 5.8h-7.2zM832.6 1093.8l3.6 5.8h-7.2zM895.8 1070l3.6 5.8h-7.2zM715.4 1053.6l3.6 5.8h-7.2zM786.6 1112.7l3.6 5.8h-7.2zM729.1 1057.9l3.6 5.8h-7.2zM799.9 988.6l3.6 5.8h-7.2zM843.4 1075l3.6 5.8h-7.2zM782.9 1111.9l3.6 5.8h-7.2zM827.2 1106.1l3.6 5.8h-7.2zM696.6 1084.7l3.6 5.8h-7.2zM705.4 1029.2l3.6 5.8h-7.2zM835.1 1023.5l3.6 5.8h-7.2zM833.6 1030.5l3.6 5.8h-7.2zM940.8 1033.7l3.6 5.8h-7.2zM912.5 1043.7l3.6 5.8h-7.2zM895.1 1056.9l3.6 5.8h-7.2zM780 1028.2l3.6 5.8h-7.2zM863.5 1054.1l3.6 5.8h-7.2zM819.6 1000.6l3.6 5.8h-7.2zM918.9 1098.7l3.6 5.8h-7.2zM761.2 1043.6l3.6 5.8h-7.2zM721.6 1008.2l3.6 5.8h-7.2zM885.7 1102.8l3.6 5.8h-7.2zM775.1 1042l3.6 5.8h-7.2zM858.2 1025.1l3.6 5.8h-7.2zM856 1019.2l3.6 5.8h-7.2zM728 1048.9l3.6 5.8h-7.2zM768.7 995.5l3.6 5.8h-7.2zM832.7 1057l3.6 5.8h-7.2zM856.9 1092l3.6 5.8h-7.2zM724.9 1029.6l3.6 5.8h-7.2zM859.5 1028.1l3.6 5.8h-7.2zM869.5 1044.2l3.6 5.8h-7.2zM723.3 1097.5l3.6 5.8h-7.2zM769.8 1041l3.6 5.8h-7.2zM766.3 1078.9l3.6 5.8h-7.2zM855 1061.3l3.6 5.8h-7.2zM795.7 1088.9l3.6 5.8h-7.2zM719.5 1018.7l3.6 5.8h-7.2zM793.5 1057.3l3.6 5.8h-7.2zM779.9 1055.3l3.6 5.8h-7.2zM794.1 1087.2l3.6 5.8h-7.2zM725.5 1060.7l3.6 5.8h-7.2zM804.1 1070.9l3.6 5.8h-7.2zM898.5 1078.9l3.6 5.8h-7.2zM825.3 1087.7l3.6 5.8h-7.2zM756.3 1007.1l3.6 5.8h-7.2zM743.7 1038.4l3.6 5.8h-7.2zM697.3 1015.3l3.6 5.8h-7.2zM828.1 1095.8l3.6 5.8h-7.2zM894.1 1051.1l3.6 5.8h-7.2zM853.2 1071.9l3.6 5.8h-7.2zM772.4 1039.1l3.6 5.8h-7.2zM810.2 990.1l3.6 5.8h-7.2zM832.5 999.1l3.6 5.8h-7.2zM812.4 1105.4l3.6 5.8h-7.2zM767.3 1044.2l3.6 5.8h-7.2zM787.3 1027.5l3.6 5.8h-7.2zM748 1110.7l3.6 5.8h-7.2zM850.2 1069.2l3.6 5.8h-7.2zM916.2 1078.7l3.6 5.8h-7.2zM799.9 1083.5l3.6 5.8h-7.2zM746.1 1052.5l3.6 5.8h-7.2zM803.2 1060.5l3.6 5.8h-7.2zM796.2 1082.2l3.6 5.8h-7.2zM705 1012.2l3.6 5.8h-7.2zM934.4 1064.6l3.6 5.8h-7.2zM826.2 1054.6l3.6 5.8h-7.2zM775.2 1053.2l3.6 5.8h-7.2zM724 1023l3.6 5.8h-7.2zM703.4 1077.6l3.6 5.8h-7.2zM793.1 1020.5l3.6 5.8h-7.2zM886.5 1129.7l3.6 5.8h-7.2zM722.3 1099.7l3.6 5.8h-7.2zM918.2 1034.9l3.6 5.8h-7.2zM886.8 1105.7l3.6 5.8h-7.2zM869.9 1061.8l3.6 5.8h-7.2zM873.3 1056.3l3.6 5.8h-7.2zM851.9 1063.3l3.6 5.8h-7.2zM718.4 1053.5l3.6 5.8h-7.2zM886.5 1061.6l3.6 5.8h-7.2zM880.8 1019.2l3.6 5.8h-7.2zM762.2 993.4l3.6 5.8h-7.2zM830.8 1004.3l3.6 5.8h-7.2zM899.1 1066.4l3.6 5.8h-7.2zM774.4 1094.6l3.6 5.8h-7.2zM876.1 1050.2l3.6 5.8h-7.2zM771.3 1040.5l3.6 5.8h-7.2zM737.6 1033.5l3.6 5.8h-7.2zM821.3 1069.5l3.6 5.8h-7.2zM763.3 1102.7l3.6 5.8h-7.2zM807.6 1121.8l3.6 5.8h-7.2zM825.3 1070.5l3.6 5.8h-7.2zM727.7 1042l3.6 5.8h-7.2zM829.9 1007.4l3.6 5.8h-7.2zM755.7 1095.1l3.6 5.8h-7.2zM715.4 1024.1l3.6 5.8h-7.2zM805.8 1074.1l3.6 5.8h-7.2zM858 1057.3l3.6 5.8h-7.2zM838.5 1038.8l3.6 5.8h-7.2zM878.6 1062.9l3.6 5.8h-7.2zM840.7 1050.1l3.6 5.8h-7.2zM755.5 1014.9l3.6 5.8h-7.2zM815.5 1065.4l3.6 5.8h-7.2zM861.3 1091.7l3.6 5.8h-7.2zM745.4 1020.9l3.6 5.8h-7.2zM947.1 1051.9l3.6 5.8h-7.2zM881.1 1074.3l3.6 5.8h-7.2zM854.9 1003.5l3.6 5.8h-7.2zM866.8 1090.9l3.6 5.8h-7.2zM805.4 1098.8l3.6 5.8h-7.2zM845.5 1036.1l3.6 5.8h-7.2zM811.9 992.7l3.6 5.8h-7.2zM949.6 1074.9l3.6 5.8h-7.2zM735.9 1080.8l3.6 5.8h-7.2zM832.3 1067.8l3.6 5.8h-7.2zM826.2 986l3.6 5.8h-7.2zM831.2 1051.9l3.6 5.8h-7.2zM837.1 1082.4l3.6 5.8h-7.2zM779.2 1015.6l3.6 5.8h-7.2zM848.7 1042l3.6 5.8h-7.2zM842.6 1013.8l3.6 5.8h-7.2zM864.5 1044.2l3.6 5.8h-7.2zM864.6 1012.7l3.6 5.8h-7.2zM859.9 1049.8l3.6 5.8h-7.2zM775.9 1099.7l3.6 5.8h-7.2zM878 1089.4l3.6 5.8h-7.2zM755.9 1058.4l3.6 5.8h-7.2zM820.6 1046.9l3.6 5.8h-7.2zM863.6 1090.1l3.6 5.8h-7.2zM801.3 1069.1l3.6 5.8h-7.2zM810 1094.4l3.6 5.8h-7.2zM878.8 1106.8l3.6 5.8h-7.2zM836.7 1062.3l3.6 5.8h-7.2zM808.8 1025.2l3.6 5.8h-7.2zM843.4 1078.8l3.6 5.8h-7.2zM828.5 1063.8l3.6 5.8h-7.2zM781.8 1109l3.6 5.8h-7.2zM793.6 1005.6l3.6 5.8h-7.2zM788.5 1065.9l3.6 5.8h-7.2zM902.8 1087.4l3.6 5.8h-7.2zM752.4 1030.9l3.6 5.8h-7.2zM858.5 1019.4l3.6 5.8h-7.2zM781.8 1068.7l3.6 5.8h-7.2zM891 1050.6l3.6 5.8h-7.2zM799.6 996l3.6 5.8h-7.2zM751.8 1092.9l3.6 5.8h-7.2zM828 1056.5l3.6 5.8h-7.2zM835.8 996.2l3.6 5.8h-7.2zM909.1 1073l3.6 5.8h-7.2zM744.1 1042.4l3.6 5.8h-7.2zM776.7 1107.2l3.6 5.8h-7.2zM793.2 1105.7l3.6 5.8h-7.2zM829.1 1115.1l3.6 5.8h-7.2zM830.1 1049.4l3.6 5.8h-7.2zM904.7 1066.1l3.6 5.8h-7.2zM715.5 1088l3.6 5.8h-7.2zM770 999l3.6 5.8h-7.2zM770.6 1011l3.6 5.8h-7.2zM864.5 991.6l3.6 5.8h-7.2zM707 1019.4l3.6 5.8h-7.2zM764 1054.5l3.6 5.8h-7.2zM842 1038.3l3.6 5.8h-7.2zM841.8 1061.1l3.6 5.8h-7.2zM879.4 1026.5l3.6 5.8h-7.2zM841.6 1012.5l3.6 5.8h-7.2zM876 1115.3l3.6 5.8h-7.2zM870.6 1027.2l3.6 5.8h-7.2zM924 1033.3l3.6 5.8h-7.2zM764.4 1090.1l3.6 5.8h-7.2zM920.2 1096.2l3.6 5.8h-7.2zM833.2 1077.6l3.6 5.8h-7.2zM747.3 996.5l3.6 5.8h-7.2zM830.2 1061.7l3.6 5.8h-7.2zM879.1 1050.8l3.6 5.8h-7.2zM898.3 1012.2l3.6 5.8h-7.2zM940.6 1046.7l3.6 5.8h-7.2zM905.4 1073.6l3.6 5.8h-7.2zM785.9 1040.3l3.6 5.8h-7.2zM728.5 1047.4l3.6 5.8h-7.2zM893.8 1098l3.6 5.8h-7.2zM809.7 1088.5l3.6 5.8h-7.2zM828.8 1063.6l3.6 5.8h-7.2zM883.7 1031.1l3.6 5.8h-7.2zM843.1 1034.2l3.6 5.8h-7.2zM867.5 1017.5l3.6 5.8h-7.2zM860.1 1079.1l3.6 5.8h-7.2zM882.1 1069.8l3.6 5.8h-7.2zM855.5 1001.9l3.6 5.8h-7.2zM770.7 1094.6l3.6 5.8h-7.2zM880.2 1117.3l3.6 5.8h-7.2zM844.7 1044.7l3.6 5.8h-7.2zM844 1104.3l3.6 5.8h-7.2zM894.1 1086.6l3.6 5.8h-7.2zM787.6 1075.7l3.6 5.8h-7.2zM767.9 1067.8l3.6 5.8h-7.2zM723.1 1073l3.6 5.8h-7.2zM916.8 1066l3.6 5.8h-7.2zM721.2 1102.7l3.6 5.8h-7.2zM847.6 1077.5l3.6 5.8h-7.2zM902.1 1073.4l3.6 5.8h-7.2zM818.7 1000.5l3.6 5.8h-7.2z"/>
<path d="M605 1333v6M705.6 1333v6M806.2 1333v6M906.8 1333v6M1007.4 1333v6M557.6 920.7h-6M557.6 1062.9h-6M557.6 1205.1h-6M557.6 782.1h-6M557.6 770.4h-6M557.6 758.7h-6M557.6 747h-6M557.6 735.3h-6M1056 1333v6M1067.3 1333v6M1078.6 1333v6M1089.9 1333v6M1101.2 1333v6" stroke="#333333" stroke-width="2.3" fill="none"/>
<g font-family='"Liberation Sans", Arial, sans-serif' font-size="26.4" fill="#4D4D4D">
<g text-anchor="middle">
<text x="605" y="1363.4">-10</text>
<text x="705.6" y="1363.4">-5</text>
<text x="806.2" y="1363.4">0</text>
<text x="906.8" y="1363.4">5</text>
<text x="1007.4" y="1363.4">10</text>
<text x="1056" y="1363.4">0.0</text>
<text x="1067.3" y="1363.4">0.1</text>
<text x="1078.6" y="1363.4">0.2</text>
<text x="1089.9" y="1363.4">0.3</text>
<text x="1101.2" y="1363.4">0.4</text>
</g><g text-anchor="end">
<text x="546.2" y="929.3">4</text>
<text x="546.2" y="1071.5">0</text>
<text x="546.2" y="1213.7">-4</text>
<text x="546.2" y="790.7">0.000</text>
<text x="546.2" y="779">0.025</text>
<text x="546.2" y="767.3">0.050</text>
<text x="546.2" y="755.6">0.075</text>
<text x="546.2" y="743.9">0.100</text>
</g></g>
<g font-family='"Liberation Sans", Arial, sans-serif' font-size="33.2" fill="#000">
<text x="830.2" y="1399.6" text-anchor="middle">C<tspan font-size="23.2" dy="5.6">1</tspan><tspan dy="-5.6">&#160;&#160;( 53 % of the variance)</tspan></text>
<text transform="translate(461.5 1031.65) rotate(-90)" text-anchor="middle">C<tspan font-size="23.2" dy="5.6">3</tspan><tspan dy="-5.6">&#160;&#160;( 8 % of the variance)</tspan></text>
<text x="1139.6" y="999.6">Legend</text>
</g>
<text x="1116.6" y="820.1" font-family='"Liberation Sans", Arial, sans-serif' font-size="40" fill="#000">(c)</text>
<rect x="1140.8" y="1016.3" width="35.1" height="35.1" fill="#EBEBEB" stroke="#0000FF" stroke-width="2.4"/>
<circle cx="1158.35" cy="1033.85" r="5.4" fill="#0000FF"/>
<text x="1189.8" y="1044.45" font-family='"Liberation Sans", Arial, sans-serif' font-size="28.6" fill="#000">data</text>
<rect x="1140.8" y="1055" width="35.1" height="35.1" fill="#EBEBEB" stroke="#FFA500" stroke-width="2.4"/>
<path fill="#FFA500" d="M1158.35 1068.65l3.7 6h-7.4z"/>
<text x="1189.8" y="1083.15" font-family='"Liberation Sans", Arial, sans-serif' font-size="28.6" fill="#000">simulations</text>
</g>
</svg></body></html>
